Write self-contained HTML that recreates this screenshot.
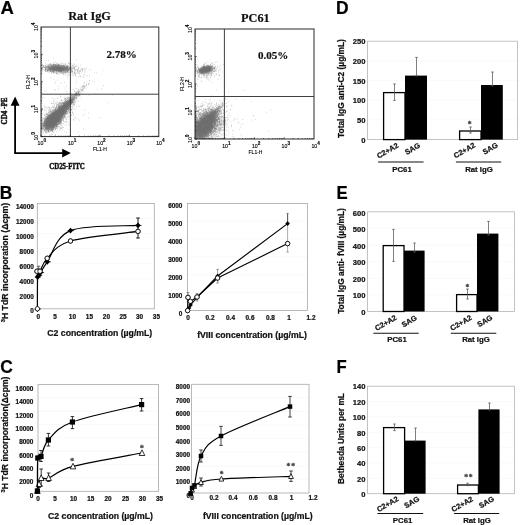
<!DOCTYPE html>
<html><head><meta charset="utf-8"><title>Figure</title>
<style>html,body{margin:0;padding:0;background:#fff;}svg{display:block;filter:blur(0.35px);}.ss{font-family:"Liberation Sans", sans-serif;font-weight:bold;stroke:#111;stroke-width:0.22px;}.sf{font-family:"Liberation Serif", serif;font-weight:bold;stroke:#111;stroke-width:0.2px;}.sr{font-family:"Liberation Sans", sans-serif;font-weight:normal;}</style></head><body>
<svg width="520" height="525" viewBox="0 0 520 525">
<rect width="520" height="525" fill="#fff"/>
<defs><filter id="blr" x="-30%" y="-30%" width="160%" height="160%"><feGaussianBlur stdDeviation="1.1"/></filter></defs>
<text class="ss" x="0.6" y="14.0" font-size="17.6" fill="#000" textLength="13.4" lengthAdjust="spacingAndGlyphs">A</text>
<text class="ss" x="-0.2" y="198.8" font-size="17.6" fill="#000" textLength="12.6" lengthAdjust="spacingAndGlyphs">B</text>
<text class="ss" x="0.2" y="373.2" font-size="17.6" fill="#000" textLength="12.6" lengthAdjust="spacingAndGlyphs">C</text>
<text class="ss" x="336.0" y="13.8" font-size="17.6" fill="#000" textLength="12.6" lengthAdjust="spacingAndGlyphs">D</text>
<text class="ss" x="336.4" y="198.8" font-size="17.6" fill="#000" textLength="11.2" lengthAdjust="spacingAndGlyphs">E</text>
<text class="ss" x="336.4" y="373.2" font-size="17.6" fill="#000" textLength="10.2" lengthAdjust="spacingAndGlyphs">F</text>
<clipPath id="cp7"><rect x="41" y="27.0" width="117.80000000000001" height="109.6"/></clipPath>
<g clip-path="url(#cp7)">
<ellipse cx="57.5" cy="68.4" rx="11.5" ry="2.6" fill="#848484" opacity="0.85" filter="url(#blr)" transform="rotate(2 57.5 68.4)"/>
<path d="M-17.0,-0.3 C-16.5,-1.0 -15.7,-3.5 -14.0,-4.4 C-12.3,-5.3 -9.5,-5.6 -7.0,-5.7 C-4.5,-5.8 -1.7,-5.4 1.0,-5.0 C3.7,-4.6 6.5,-4.0 9.0,-3.5 C11.5,-3.0 13.8,-2.5 16.0,-2.0 C18.2,-1.6 20.5,-1.1 22.0,-0.8 C23.5,-0.5 24.5,-0.4 25.0,-0.2 C25.5,-0.0 25.5,0.0 25.0,0.2 C24.5,0.4 23.5,0.5 22.0,0.8 C20.5,1.1 18.2,1.6 16.0,2.0 C13.8,2.5 11.5,3.0 9.0,3.5 C6.5,4.0 3.7,4.6 1.0,5.0 C-1.7,5.4 -4.5,5.8 -7.0,5.7 C-9.5,5.6 -12.3,5.3 -14.0,4.4 C-15.7,3.5 -16.5,1.1 -17.0,0.3 C-17.5,-0.5 -17.0,-0.2 -17.0,-0.3Z" fill="#848484" opacity="0.92" filter="url(#blr)" transform="translate(56 116.5) rotate(-47)"/>
</g>
<path d="M55.8,69.4h.6M56.1,67.9h.6M51.5,67.9h.6M64.7,69.6h.6M64.2,69.2h.6M60.1,68.9h.6M46.6,69.7h.6M60.8,69.6h.6M46.6,64.8h.6M51.8,67.4h.6M59.5,68.5h.6M60.9,67.4h.6M59.5,69.3h.6M53.1,71.6h.6M61.0,70.9h.6M53.5,67.0h.6M55.3,68.2h.6M61.6,69.1h.6M54.7,66.6h.6M54.0,70.7h.6M52.2,68.8h.6M60.4,65.8h.6M57.7,71.0h.6M44.4,67.4h.6M56.9,66.9h.6M60.7,68.5h.6M47.9,69.7h.6M61.8,70.4h.6M66.8,69.5h.6M58.4,66.1h.6M61.5,67.5h.6M54.6,66.0h.6M51.2,67.3h.6M66.0,64.9h.6M48.0,68.6h.6M66.8,69.9h.6M45.3,63.3h.6M59.9,67.2h.6M50.2,70.1h.6M64.6,69.0h.6M59.1,69.4h.6M67.8,70.0h.6M60.8,69.7h.6M47.2,70.6h.6M63.7,69.7h.6M44.7,66.8h.6M63.1,65.3h.6M56.2,70.4h.6M48.9,71.3h.6M61.1,68.3h.6M59.6,69.8h.6M58.2,70.7h.6M53.2,67.6h.6M64.3,68.8h.6M51.7,70.1h.6M67.0,68.0h.6M48.5,67.9h.6M56.6,67.9h.6M66.7,66.9h.6M65.8,66.4h.6M52.3,69.5h.6M64.8,70.4h.6M59.7,68.8h.6M58.5,69.6h.6M56.3,69.0h.6M61.2,68.6h.6M62.4,69.7h.6M70.5,69.6h.6M54.7,67.7h.6M57.4,70.3h.6M55.3,69.2h.6M69.6,64.0h.6M50.2,68.7h.6M60.1,69.0h.6M54.7,69.6h.6M59.4,67.6h.6M73.3,69.7h.6M53.9,68.2h.6M56.0,68.3h.6M41.6,67.0h.6M49.9,68.1h.6M63.6,70.3h.6M67.3,65.6h.6M55.2,67.8h.6M61.5,70.7h.6M41.7,70.0h.6M62.0,65.8h.6M58.6,70.8h.6M56.5,68.8h.6M62.7,68.9h.6M56.8,71.4h.6M64.3,68.2h.6M75.4,66.9h.6M63.5,68.2h.6M58.3,69.9h.6M58.9,69.8h.6M47.7,65.3h.6M61.6,66.8h.6M50.9,65.5h.6M65.7,70.2h.6M67.1,67.1h.6M57.6,66.3h.6M62.4,71.7h.6M51.6,71.3h.6M63.9,68.4h.6M44.6,70.7h.6M56.9,67.3h.6M60.1,69.4h.6M67.3,66.9h.6M64.8,71.6h.6M66.9,68.5h.6M52.6,70.3h.6M58.2,68.8h.6M66.8,68.3h.6M42.6,67.2h.6M45.4,69.6h.6M59.6,67.4h.6M57.4,70.1h.6M57.9,71.0h.6M57.0,70.5h.6M67.1,71.9h.6M53.1,70.0h.6M45.4,66.0h.6M44.7,70.1h.6M49.5,68.2h.6M56.3,68.4h.6M53.6,68.8h.6M69.1,69.0h.6M60.9,70.5h.6M56.3,66.1h.6M53.8,70.4h.6M46.8,67.0h.6M64.0,70.2h.6M57.5,70.0h.6M58.7,66.3h.6M47.4,66.9h.6M63.5,67.6h.6M51.7,66.8h.6M47.6,67.9h.6M49.8,68.9h.6M42.1,68.6h.6M53.5,64.7h.6M62.2,68.1h.6M43.1,66.3h.6M59.4,67.7h.6M62.5,70.1h.6M61.8,69.3h.6M66.1,70.1h.6M60.6,64.6h.6M63.2,71.2h.6M55.6,67.5h.6M70.2,65.6h.6M60.4,73.2h.6M51.4,69.6h.6M69.8,68.7h.6M61.1,70.3h.6M51.6,68.1h.6M59.3,70.1h.6M57.3,68.1h.6M50.9,67.6h.6M63.3,68.9h.6M52.0,66.7h.6M74.7,71.3h.6M61.8,63.7h.6M61.5,69.6h.6M68.4,69.7h.6M57.0,69.5h.6M44.8,70.0h.6M59.7,67.2h.6M66.0,72.2h.6M48.4,66.9h.6M59.4,68.9h.6M55.0,66.6h.6M71.2,71.0h.6M49.8,65.7h.6M68.5,70.8h.6M69.3,70.5h.6M51.8,68.8h.6M43.5,66.6h.6M57.1,69.5h.6M52.8,68.1h.6M60.5,69.3h.6M61.6,69.0h.6M55.3,69.9h.6M57.9,66.9h.6M53.4,68.4h.6M56.8,68.8h.6M57.5,68.8h.6M56.7,66.1h.6M60.2,70.6h.6M60.3,68.2h.6M60.5,66.8h.6M45.2,68.2h.6M51.4,69.7h.6M50.6,63.3h.6M50.6,71.3h.6M55.1,65.8h.6M52.5,69.3h.6M60.7,68.9h.6M67.1,70.2h.6M57.3,69.6h.6M68.2,70.7h.6M64.2,66.7h.6M56.5,69.9h.6M55.5,70.5h.6M61.3,70.4h.6M56.0,73.3h.6M65.6,68.4h.6M57.9,73.4h.6M55.2,70.1h.6M63.9,68.7h.6M49.9,68.6h.6M59.8,70.7h.6M62.6,68.7h.6M63.0,69.7h.6M58.8,68.7h.6M55.9,69.7h.6M50.7,67.1h.6M57.6,65.7h.6M54.8,64.6h.6M53.0,69.4h.6M61.2,68.5h.6M56.1,65.8h.6M69.3,69.9h.6M64.7,67.1h.6M56.4,65.0h.6M62.5,70.5h.6M45.2,68.0h.6M61.7,65.3h.6M45.7,66.1h.6M53.5,65.7h.6M57.7,69.0h.6M61.6,70.0h.6M67.2,71.1h.6M49.0,67.2h.6M50.7,66.2h.6M57.0,68.5h.6M60.8,65.6h.6M49.5,68.2h.6M56.2,67.9h.6M57.1,67.0h.6M62.0,69.3h.6M57.0,67.2h.6M56.5,63.3h.6M51.1,68.3h.6M47.7,68.5h.6M58.5,65.9h.6M55.9,67.8h.6M60.4,69.8h.6M57.3,66.9h.6M56.6,68.3h.6M62.3,69.2h.6M52.9,65.8h.6M55.1,67.0h.6M50.3,68.0h.6M54.3,68.6h.6M60.9,67.8h.6M72.6,68.4h.6M64.6,69.0h.6M64.9,64.2h.6M52.6,68.8h.6M61.3,73.1h.6M59.5,71.0h.6M62.4,70.5h.6M60.8,68.3h.6M60.9,66.6h.6M65.2,66.8h.6M59.0,72.6h.6M56.0,68.5h.6M65.1,68.8h.6M52.2,68.8h.6M61.2,70.0h.6M52.4,71.7h.6M68.3,68.9h.6M59.3,67.7h.6M66.7,67.5h.6M61.9,67.7h.6M52.9,69.7h.6M66.2,68.8h.6M53.0,69.9h.6M57.2,69.1h.6M67.3,71.0h.6M54.0,72.7h.6M57.5,70.0h.6M53.3,68.3h.6M46.0,71.5h.6M66.5,66.5h.6M47.8,65.1h.6M65.2,67.9h.6M57.1,67.9h.6M56.8,66.4h.6M57.8,65.8h.6M57.0,69.1h.6M60.6,68.2h.6M51.6,68.6h.6M54.2,71.4h.6M62.5,68.5h.6M54.5,67.1h.6M51.4,67.6h.6M59.4,69.5h.6M61.1,72.6h.6M52.9,68.4h.6M75.8,65.6h.6M54.1,68.7h.6M58.5,69.3h.6M55.9,69.1h.6M57.8,70.0h.6M45.3,66.4h.6M57.6,66.5h.6M50.7,69.5h.6M53.2,69.6h.6M62.3,69.3h.6M60.8,68.4h.6M48.3,68.1h.6M60.5,67.6h.6M56.8,69.9h.6M51.8,69.5h.6M69.6,67.9h.6M58.5,68.2h.6M67.5,69.5h.6M63.4,67.4h.6M57.4,68.5h.6M45.9,70.8h.6M63.5,65.4h.6M62.3,68.4h.6M60.4,69.3h.6M47.8,67.8h.6M67.2,67.7h.6M50.9,65.7h.6M49.5,68.9h.6M68.5,69.7h.6M58.9,72.8h.6M54.2,67.1h.6M60.9,69.7h.6M51.0,66.0h.6M59.4,69.0h.6M49.0,67.8h.6M53.9,69.3h.6M56.7,68.3h.6M55.1,70.4h.6M66.6,68.1h.6M63.0,67.3h.6M57.9,69.9h.6M67.4,68.1h.6M57.0,68.9h.6M47.8,68.2h.6M53.1,69.1h.6M50.3,64.5h.6M57.7,69.0h.6M53.9,70.1h.6M55.8,67.3h.6M60.7,65.6h.6M53.1,68.3h.6M63.0,68.4h.6M59.5,67.3h.6M59.3,71.7h.6M52.9,72.8h.6M53.3,68.4h.6M58.6,70.5h.6M49.6,64.2h.6M61.4,70.1h.6M61.4,73.6h.6M58.8,69.0h.6M63.5,69.4h.6M68.4,66.5h.6M55.3,61.9h.6M62.8,68.0h.6M63.4,72.8h.6M57.5,68.0h.6M54.3,66.8h.6M53.4,69.6h.6M57.7,68.6h.6M56.3,70.2h.6M60.7,68.3h.6M61.8,68.4h.6M49.9,71.0h.6M60.6,66.8h.6M64.5,69.4h.6M47.2,71.2h.6M59.6,70.3h.6M58.8,68.3h.6M47.4,70.0h.6M57.7,68.0h.6M59.8,68.7h.6M61.9,67.9h.6M57.4,64.4h.6M54.7,69.7h.6M66.2,68.1h.6M56.6,71.5h.6M55.3,69.8h.6M68.4,69.0h.6M65.5,67.4h.6M58.9,68.4h.6M58.2,70.7h.6M73.1,67.8h.6M53.7,69.3h.6M50.6,69.2h.6M61.2,68.1h.6M61.1,65.7h.6M62.5,65.7h.6M53.0,67.3h.6M54.8,70.0h.6M58.1,67.8h.6M60.9,71.6h.6M57.5,69.2h.6M65.5,69.3h.6M49.0,72.9h.6M72.0,65.2h.6M57.2,69.3h.6M63.7,70.0h.6M55.8,66.4h.6M58.1,70.5h.6M50.5,66.3h.6M57.5,64.8h.6M55.8,67.6h.6M60.5,67.3h.6M51.8,67.6h.6M57.2,67.2h.6M57.5,69.9h.6M65.1,72.0h.6M52.4,67.5h.6M41.5,71.5h.6M57.2,69.5h.6M48.6,69.1h.6M57.4,65.0h.6M59.3,70.8h.6M45.3,69.6h.6M58.8,69.4h.6M60.3,71.1h.6M56.0,70.1h.6M54.8,69.8h.6M52.2,68.1h.6M68.7,69.7h.6M56.5,66.3h.6M52.4,68.7h.6M63.6,69.5h.6M60.9,68.5h.6M66.3,68.1h.6M53.9,70.1h.6M57.9,68.0h.6M53.8,67.9h.6M61.5,69.3h.6M49.6,69.0h.6M58.7,66.6h.6M62.5,68.1h.6M55.3,69.9h.6M66.1,67.5h.6M60.4,66.9h.6M72.6,68.1h.6M65.3,67.5h.6M62.6,72.9h.6M41.5,67.1h.6M56.9,67.2h.6M71.5,69.1h.6M46.8,69.7h.6M46.2,70.3h.6M53.7,68.6h.6M65.7,69.0h.6M48.6,65.0h.6M65.1,70.2h.6M52.1,69.9h.6M60.7,69.8h.6M42.8,67.4h.6M63.3,70.1h.6M63.4,64.0h.6M58.6,69.5h.6M74.1,67.3h.6M55.4,68.5h.6M63.3,67.9h.6M65.0,67.3h.6M59.3,67.6h.6M58.6,67.2h.6M47.1,70.2h.6M59.5,67.5h.6M58.7,70.4h.6M51.2,68.1h.6M61.0,69.6h.6M55.5,64.4h.6M65.6,69.4h.6M57.6,68.0h.6M59.2,67.8h.6M50.9,66.9h.6M53.7,67.2h.6M49.9,69.4h.6M48.9,69.5h.6M50.9,68.9h.6M66.4,69.2h.6M52.7,68.4h.6M58.6,65.2h.6M53.5,68.7h.6M54.4,68.5h.6M62.2,70.1h.6M63.3,69.8h.6M55.6,68.4h.6M55.8,67.8h.6M56.4,65.2h.6M55.3,68.4h.6M51.2,68.2h.6M60.9,68.3h.6M71.2,64.0h.6M56.3,65.0h.6M63.7,73.8h.6M41.5,68.2h.6M55.5,69.5h.6M42.9,69.6h.6M59.9,68.6h.6M53.6,69.6h.6M54.3,68.8h.6M54.3,64.1h.6M57.3,68.9h.6M62.5,67.0h.6M57.2,69.7h.6M58.4,70.9h.6M70.5,67.2h.6M45.0,69.7h.6M67.4,70.6h.6M62.8,67.5h.6M52.8,70.0h.6M51.7,64.8h.6M50.9,73.0h.6M70.0,67.6h.6M52.7,68.8h.6M52.5,70.8h.6M57.1,66.4h.6M66.0,67.7h.6M58.9,68.5h.6M55.4,69.0h.6M53.1,64.8h.6M43.2,65.6h.6M52.6,68.3h.6M57.8,69.6h.6M58.3,67.0h.6M53.0,64.3h.6M56.4,69.4h.6M60.9,68.4h.6M56.3,70.2h.6M57.6,69.9h.6M61.3,69.0h.6M66.0,67.7h.6M55.2,66.9h.6M52.2,71.3h.6M68.9,68.9h.6M61.1,70.9h.6M62.7,71.0h.6M49.3,67.0h.6M60.3,71.3h.6M58.2,66.9h.6M55.2,67.2h.6M51.8,71.2h.6M53.4,68.4h.6M71.5,71.2h.6M59.7,67.4h.6M60.1,71.7h.6M61.5,71.0h.6M58.1,69.5h.6M56.2,69.3h.6M66.0,66.1h.6M57.1,68.9h.6M53.8,67.8h.6M62.5,72.5h.6M61.6,69.3h.6M47.3,71.8h.6M58.0,68.5h.6M50.2,68.1h.6M50.4,68.4h.6M60.5,68.7h.6M59.4,66.9h.6M66.8,67.6h.6M45.7,67.7h.6M52.6,66.4h.6M55.2,69.0h.6M49.8,68.0h.6M66.7,70.1h.6M56.5,68.7h.6M56.7,68.4h.6M62.3,68.5h.6M41.9,67.9h.6M51.7,69.5h.6M53.5,68.6h.6M71.7,67.0h.6M50.3,65.6h.6M42.1,64.4h.6M59.9,67.4h.6M45.5,65.3h.6M61.6,67.2h.6M55.1,69.0h.6M66.2,72.5h.6M64.2,69.0h.6M58.6,72.0h.6M66.8,68.2h.6M60.5,69.1h.6M57.9,67.6h.6M48.9,67.2h.6M47.4,70.5h.6M61.1,66.3h.6M66.5,70.5h.6M45.0,71.6h.6M62.6,72.6h.6M49.5,69.2h.6M60.2,69.0h.6M58.5,70.5h.6M47.9,65.8h.6M48.5,67.1h.6M53.5,69.1h.6M59.2,68.6h.6M53.1,67.5h.6M63.6,70.2h.6M58.2,67.9h.6M67.6,67.7h.6M61.6,70.8h.6M55.7,70.0h.6M50.2,70.2h.6M58.9,65.5h.6M61.9,67.0h.6M65.9,67.5h.6M56.4,69.0h.6M55.3,68.9h.6M53.9,69.7h.6M57.5,68.9h.6M41.3,70.1h.6M45.9,68.3h.6M60.5,70.6h.6M50.4,71.2h.6M56.3,73.0h.6M56.5,69.8h.6M55.2,66.3h.6M64.6,70.5h.6M67.4,70.5h.6M53.9,65.2h.6M53.3,67.1h.6M52.2,69.4h.6M59.6,68.1h.6M58.6,68.3h.6M58.8,70.0h.6M63.8,67.4h.6M47.6,70.9h.6M58.2,70.6h.6M46.8,67.5h.6M57.8,65.8h.6M54.1,69.8h.6M64.4,71.8h.6M52.0,65.6h.6M60.8,70.4h.6M58.8,66.1h.6M62.5,70.2h.6M61.1,67.7h.6M59.4,70.1h.6M54.0,64.9h.6M59.6,69.5h.6M57.5,70.2h.6M53.7,68.2h.6M55.5,69.5h.6M67.9,68.4h.6M70.7,71.9h.6M62.6,69.8h.6M69.0,68.6h.6M56.8,66.5h.6M60.5,71.2h.6M60.9,69.4h.6M56.2,68.8h.6M48.2,70.2h.6M54.9,66.3h.6M52.7,66.8h.6M63.0,70.7h.6M48.6,70.0h.6M63.3,67.6h.6M47.9,66.7h.6M53.4,69.0h.6M55.3,64.6h.6M59.1,65.6h.6M63.5,66.4h.6M53.1,66.7h.6M53.9,70.8h.6M63.0,69.8h.6M59.7,65.6h.6M54.2,67.3h.6M51.1,69.2h.6M52.7,67.0h.6M50.9,64.4h.6M61.3,71.2h.6M58.7,66.7h.6M41.7,68.2h.6M59.4,70.3h.6M67.0,71.0h.6M54.6,70.4h.6M62.6,65.8h.6M55.0,65.7h.6M56.8,69.6h.6M50.7,64.4h.6M65.9,69.5h.6M67.1,66.3h.6M64.3,72.7h.6M70.6,68.6h.6M59.3,68.3h.6M63.9,70.7h.6M58.2,65.9h.6M62.3,67.8h.6M61.6,69.1h.6M68.0,71.0h.6M54.5,69.1h.6M69.0,67.9h.6M60.2,70.9h.6M65.6,69.8h.6M49.0,65.8h.6M59.1,69.3h.6M74.1,67.4h.6M64.8,70.2h.6M46.7,66.6h.6M58.6,67.6h.6M56.5,69.4h.6M52.2,69.2h.6M53.4,67.3h.6M61.0,67.5h.6M59.3,71.6h.6M57.7,68.2h.6M62.3,68.0h.6M64.6,66.3h.6M61.6,67.7h.6M52.2,71.7h.6M51.9,71.6h.6M61.7,71.4h.6M51.1,70.6h.6M67.0,68.6h.6M56.5,73.1h.6M58.7,67.7h.6M53.4,69.2h.6M59.6,68.9h.6M68.7,68.3h.6M60.5,71.4h.6M50.9,70.2h.6M69.5,66.3h.6M50.4,66.3h.6M45.5,68.9h.6M45.4,69.0h.6M67.0,65.8h.6M55.6,64.8h.6M62.6,67.3h.6M55.8,68.5h.6M61.1,68.0h.6M57.6,67.5h.6M58.3,66.3h.6M58.0,64.8h.6M54.2,72.0h.6M58.1,66.1h.6M59.2,66.7h.6M46.8,66.7h.6M62.3,69.4h.6M56.9,66.7h.6M50.4,70.8h.6M59.2,66.7h.6M43.9,65.4h.6M73.7,66.9h.6M57.0,68.9h.6M56.5,67.9h.6M48.6,66.2h.6M68.5,67.4h.6M63.1,65.5h.6M55.7,68.9h.6M64.3,66.6h.6M61.3,69.4h.6M52.7,69.2h.6M51.7,66.8h.6M57.6,63.3h.6M56.9,66.6h.6M48.0,67.4h.6M62.5,67.9h.6M65.8,66.6h.6M48.9,71.1h.6M60.0,70.4h.6M52.1,69.8h.6M59.1,69.8h.6M57.6,70.8h.6M53.3,66.5h.6M47.8,70.4h.6M52.8,66.4h.6M51.4,67.4h.6M49.3,67.7h.6M53.5,67.3h.6M51.3,68.4h.6M54.5,68.6h.6M59.1,69.2h.6M43.3,67.0h.6M52.3,69.8h.6M47.3,66.8h.6M55.6,67.8h.6M64.0,67.9h.6M63.9,65.9h.6M45.6,70.4h.6M60.3,69.5h.6M58.3,69.4h.6M49.5,70.0h.6M54.0,70.3h.6M58.2,64.8h.6M49.1,70.3h.6M56.6,67.7h.6M59.1,67.7h.6M54.0,68.6h.6M58.3,71.4h.6M57.7,72.1h.6M69.1,72.2h.6M64.4,69.0h.6M58.4,68.3h.6M52.8,68.2h.6M53.2,71.5h.6M61.0,67.8h.6M45.1,68.0h.6M54.9,66.3h.6M50.3,64.0h.6M61.2,68.5h.6M74.3,69.0h.6M56.4,71.2h.6M58.4,68.8h.6M55.1,67.3h.6M67.2,70.7h.6M68.7,68.2h.6M57.8,66.8h.6M63.9,66.1h.6M61.1,70.7h.6M66.7,67.0h.6M64.6,67.4h.6M52.7,65.8h.6M64.9,71.9h.6M53.7,66.9h.6M55.1,73.2h.6M64.1,67.7h.6M45.9,66.8h.6M65.1,72.3h.6M55.8,67.1h.6M54.3,64.8h.6M63.5,66.6h.6M64.5,65.5h.6M49.2,68.8h.6M52.5,69.8h.6M57.6,66.3h.6M61.5,70.2h.6M45.0,71.5h.6M60.7,70.1h.6M45.5,66.7h.6M55.2,70.5h.6M48.1,66.5h.6M44.3,67.6h.6M59.9,65.4h.6M53.6,69.3h.6M67.8,70.1h.6M55.6,66.2h.6M51.5,67.0h.6M58.5,68.4h.6M68.3,69.4h.6M50.4,71.2h.6M63.7,68.9h.6M52.9,64.8h.6M50.8,70.0h.6M52.4,65.8h.6M58.8,69.0h.6M61.4,69.9h.6M66.7,67.2h.6M63.9,66.8h.6M62.0,69.0h.6M59.0,70.4h.6M57.3,70.6h.6M63.2,69.0h.6M53.9,66.9h.6M54.1,68.0h.6M57.1,74.2h.6M61.6,70.1h.6M52.0,67.0h.6M55.4,68.8h.6M50.7,71.3h.6M53.8,70.4h.6M42.3,68.0h.6M59.3,68.9h.6M61.4,69.2h.6M58.7,64.9h.6M53.0,63.9h.6M61.6,69.2h.6M56.3,66.9h.6M53.6,71.9h.6M68.7,68.8h.6M66.0,65.8h.6M45.0,67.1h.6M51.9,67.2h.6M58.5,74.3h.6M53.2,68.4h.6M59.3,68.5h.6M63.4,72.1h.6M49.4,68.5h.6M55.8,69.1h.6M47.7,64.8h.6M42.4,69.0h.6M58.7,68.7h.6M42.2,67.3h.6M52.7,65.6h.6M51.5,69.6h.6M61.0,68.6h.6M60.9,67.5h.6M58.0,68.6h.6M61.1,68.5h.6M56.6,68.2h.6M53.2,72.6h.6M60.8,69.4h.6M83.6,74.8h.6M45.3,70.0h.6M69.0,75.2h.6M74.0,72.2h.6M49.4,65.6h.6M63.6,70.7h.6M50.9,67.1h.6M57.0,68.9h.6M64.4,68.4h.6M48.4,71.9h.6M76.9,69.8h.6M71.1,71.0h.6M67.5,70.9h.6M53.3,70.2h.6M71.3,67.0h.6M80.2,76.6h.6M78.8,76.2h.6M68.5,68.5h.6M55.2,66.1h.6M62.2,69.0h.6M68.1,63.4h.6M83.6,77.4h.6M60.6,71.0h.6M65.7,70.2h.6M58.9,68.5h.6M52.7,69.0h.6M60.7,69.9h.6M52.5,68.5h.6M61.4,70.8h.6M50.3,69.5h.6M70.7,71.5h.6M57.4,67.3h.6M58.5,71.0h.6M76.5,69.6h.6M54.5,69.7h.6M63.2,66.4h.6M53.7,68.2h.6M67.9,65.9h.6M50.7,69.8h.6M48.8,68.5h.6M64.5,68.9h.6M50.9,68.1h.6M57.6,69.8h.6M52.4,71.7h.6M44.3,67.3h.6M60.9,71.9h.6M54.8,70.2h.6M55.2,70.8h.6M78.4,69.0h.6M65.6,66.5h.6M70.5,73.3h.6M61.6,65.6h.6M64.8,72.7h.6M71.7,72.2h.6M42.9,65.7h.6M75.4,66.3h.6M71.9,75.4h.6M68.4,72.9h.6M57.9,65.1h.6M60.0,68.3h.6M60.4,71.1h.6M59.5,69.5h.6M65.2,69.3h.6M79.3,71.6h.6M61.9,68.4h.6M54.5,72.6h.6M62.7,65.9h.6M55.4,68.2h.6M56.3,71.9h.6M49.3,69.7h.6M62.7,65.6h.6M61.5,68.8h.6M66.1,68.0h.6M64.4,64.2h.6M50.0,70.6h.6M71.4,69.7h.6M54.8,71.8h.6M41.5,65.1h.6M67.7,66.4h.6M41.9,72.0h.6M62.7,66.4h.6M61.4,71.7h.6M41.5,70.5h.6M41.8,69.9h.6M72.3,71.0h.6M83.6,68.7h.6M60.8,72.1h.6M54.8,66.4h.6M57.3,68.5h.6M50.1,69.7h.6M66.4,69.6h.6M78.0,69.2h.6M74.1,68.3h.6M68.9,63.7h.6M63.0,68.6h.6M56.2,66.8h.6M57.7,66.6h.6M41.5,65.7h.6M56.0,65.5h.6M59.5,71.3h.6M58.6,67.4h.6M74.3,72.9h.6M70.0,73.1h.6M57.8,68.4h.6M72.2,68.1h.6M59.7,70.0h.6M64.8,68.4h.6M70.8,69.2h.6M68.0,72.7h.6M67.4,71.7h.6M49.7,64.3h.6M54.7,70.0h.6M76.2,66.4h.6M64.2,66.7h.6M53.8,67.7h.6M67.9,70.1h.6M73.0,66.9h.6M69.7,72.4h.6M61.6,70.5h.6M55.6,65.3h.6M57.1,66.8h.6M89.9,69.6h.6M77.4,70.8h.6M64.0,71.4h.6M53.0,71.2h.6M65.1,64.7h.6M66.9,71.1h.6M65.2,74.1h.6M56.8,70.2h.6M68.7,66.8h.6M73.3,65.5h.6M47.9,69.7h.6M50.2,67.9h.6M44.6,68.1h.6M49.6,69.2h.6M45.6,69.3h.6M58.3,69.0h.6M60.3,69.3h.6M48.4,60.4h.6M61.5,66.2h.6M56.4,70.0h.6M41.4,65.3h.6M55.1,65.4h.6M64.3,68.8h.6M53.0,65.5h.6M69.2,67.6h.6M66.7,70.8h.6M42.3,64.4h.6M61.0,70.0h.6M68.6,71.9h.6M71.4,68.6h.6M58.7,71.2h.6M56.5,71.9h.6M45.0,69.8h.6M59.7,63.0h.6M70.7,70.6h.6M61.4,65.8h.6M56.0,73.2h.6M53.5,58.0h.6M52.7,64.8h.6M59.8,67.7h.6M52.1,65.8h.6M71.8,65.4h.6M80.6,68.7h.6M49.9,70.6h.6M66.8,66.3h.6M68.9,64.0h.6M51.6,71.7h.6M58.7,64.9h.6M65.9,72.1h.6M61.2,63.6h.6M57.5,70.0h.6M68.3,75.1h.6M58.6,67.4h.6M60.4,72.6h.6M51.3,72.2h.6M41.5,69.5h.6M65.4,71.4h.6M49.2,67.9h.6M63.3,70.9h.6M51.9,65.4h.6M41.4,75.3h.6M59.1,64.4h.6M70.4,68.0h.6M75.1,72.6h.6M61.1,71.2h.6M50.0,67.2h.6M55.5,64.8h.6M61.2,68.6h.6M76.0,60.0h.6M54.5,65.8h.6M56.3,69.9h.6M65.0,69.4h.6M56.2,70.1h.6M65.0,63.7h.6M58.7,64.7h.6M49.2,68.6h.6M61.6,69.4h.6M52.3,67.8h.6M51.8,69.5h.6M67.5,74.7h.6M73.8,67.5h.6M56.6,65.9h.6M63.6,75.1h.6M68.5,62.9h.6M48.7,64.3h.6M66.1,69.4h.6M63.6,74.5h.6M52.9,65.9h.6M80.5,71.4h.6M53.7,62.4h.6M46.3,60.6h.6M61.7,69.2h.6M70.9,69.3h.6M54.2,66.3h.6M80.3,65.0h.6M62.7,69.2h.6M67.2,68.2h.6M65.8,71.8h.6M59.6,67.5h.6M59.3,66.0h.6M59.0,68.0h.6M62.8,73.1h.6M74.1,68.6h.6M67.0,70.3h.6M68.6,69.6h.6M63.7,67.8h.6M53.0,71.1h.6M73.8,71.9h.6M65.3,70.1h.6M56.9,63.3h.6M67.6,70.1h.6M55.7,65.7h.6M74.1,64.5h.6M78.4,72.1h.6M84.8,68.5h.6M60.9,67.5h.6M62.6,68.5h.6M53.3,71.7h.6M53.3,66.9h.6M66.6,67.8h.6M56.6,69.8h.6M57.6,65.0h.6M60.0,68.3h.6M78.2,66.9h.6M70.8,67.3h.6M57.5,67.8h.6M63.5,71.8h.6M78.6,68.3h.6M74.1,72.9h.6M69.3,67.3h.6M70.0,69.3h.6M64.6,68.4h.6M67.4,72.8h.6M72.3,69.2h.6M70.6,74.0h.6M51.4,72.8h.6M47.6,69.7h.6M66.6,73.9h.6M63.9,67.8h.6M53.3,64.7h.6M68.7,68.8h.6M53.7,70.1h.6M53.5,67.2h.6M56.1,73.6h.6M75.6,69.5h.6M45.3,68.7h.6M61.6,70.1h.6M66.7,68.4h.6M70.1,72.1h.6M63.2,67.9h.6M56.1,70.7h.6M50.1,67.8h.6M53.8,64.3h.6M67.0,69.3h.6M61.2,71.6h.6M46.1,67.8h.6M63.7,71.7h.6M50.0,70.4h.6M62.9,73.2h.6M72.2,71.4h.6M82.4,70.5h.6M56.8,67.7h.6M51.6,68.3h.6M42.3,67.4h.6M65.0,72.3h.6M57.2,72.9h.6M54.5,68.1h.6M42.4,65.4h.6M52.8,72.8h.6M66.4,66.1h.6M66.1,70.8h.6M58.7,68.9h.6M58.1,67.2h.6M43.8,67.5h.6M73.2,74.1h.6M58.4,66.6h.6M58.8,71.5h.6M64.5,67.5h.6M64.6,68.6h.6M79.2,70.7h.6M67.4,70.5h.6M80.9,68.9h.6M75.0,74.0h.6M74.1,69.3h.6M87.4,75.6h.6M82.3,69.6h.6M86.1,68.0h.6M72.7,73.2h.6M84.1,69.9h.6M72.1,71.5h.6M64.6,71.8h.6M79.4,70.7h.6M78.8,74.2h.6M77.6,73.3h.6M84.9,71.3h.6M77.1,70.1h.6M82.1,71.2h.6M78.7,72.3h.6M75.7,76.5h.6M74.9,75.5h.6M80.2,76.0h.6M74.7,74.0h.6M80.6,70.3h.6M77.6,71.3h.6M75.3,75.2h.6M72.5,66.1h.6M66.2,68.8h.6M72.3,71.0h.6M78.5,77.0h.6M77.6,73.1h.6M71.6,72.6h.6M83.2,76.4h.6M64.4,72.5h.6M84.7,75.1h.6M67.6,69.4h.6M79.2,73.2h.6M71.7,68.3h.6M82.1,68.5h.6M84.2,72.7h.6M78.3,67.9h.6M72.3,73.0h.6M66.8,76.2h.6M68.5,66.9h.6M76.1,72.9h.6M80.3,71.0h.6M74.9,70.7h.6M73.7,63.7h.6M81.4,73.0h.6M77.2,69.8h.6M77.4,71.7h.6M75.1,74.6h.6M66.1,70.8h.6M70.0,69.7h.6M85.0,69.6h.6M75.7,69.7h.6M81.8,69.5h.6M66.2,71.6h.6M74.1,70.3h.6M82.5,69.8h.6M51.1,122.6h.6M52.2,118.4h.6M60.6,122.2h.6M55.0,126.5h.6M48.4,131.4h.6M51.2,122.5h.6M49.4,120.8h.6M46.9,124.6h.6M58.9,118.9h.6M49.6,121.1h.6M46.9,120.9h.6M59.4,116.1h.6M51.2,119.5h.6M51.7,127.4h.6M52.3,116.2h.6M52.7,115.1h.6M51.9,116.7h.6M51.8,123.5h.6M55.8,121.7h.6M52.9,127.3h.6M56.4,116.3h.6M51.7,117.7h.6M48.4,118.7h.6M52.8,121.1h.6M58.6,118.3h.6M53.8,117.4h.6M50.5,121.1h.6M48.3,116.0h.6M50.9,114.9h.6M50.4,122.9h.6M54.2,126.4h.6M55.3,124.7h.6M54.7,115.8h.6M56.3,122.4h.6M51.1,122.4h.6M50.3,123.1h.6M51.0,122.4h.6M58.5,120.5h.6M52.9,121.0h.6M54.1,117.4h.6M51.1,127.1h.6M51.1,126.3h.6M53.1,128.3h.6M50.5,126.5h.6M54.7,113.7h.6M55.0,114.0h.6M47.9,128.8h.6M53.8,118.1h.6M43.6,129.7h.6M50.1,121.3h.6M46.9,118.1h.6M54.3,126.9h.6M56.2,114.8h.6M50.6,124.4h.6M57.2,118.8h.6M48.5,125.5h.6M55.8,123.6h.6M57.1,117.9h.6M55.1,115.9h.6M56.0,114.7h.6M55.4,121.6h.6M47.4,122.7h.6M46.6,127.5h.6M51.1,120.5h.6M48.7,114.7h.6M52.1,121.3h.6M53.0,123.6h.6M56.7,113.9h.6M47.5,123.0h.6M53.7,121.9h.6M51.5,126.2h.6M50.6,126.4h.6M54.5,120.5h.6M58.5,112.9h.6M52.6,122.6h.6M51.7,115.1h.6M51.2,118.4h.6M57.2,121.7h.6M51.9,120.6h.6M45.8,114.0h.6M55.8,119.5h.6M51.6,119.6h.6M49.2,123.2h.6M55.7,116.5h.6M50.5,110.7h.6M51.1,123.2h.6M48.1,117.5h.6M52.7,126.0h.6M45.5,123.4h.6M47.1,123.7h.6M55.5,120.0h.6M48.7,131.3h.6M48.7,121.8h.6M57.3,115.0h.6M46.5,124.0h.6M47.3,121.4h.6M52.9,124.1h.6M49.9,116.8h.6M58.8,109.1h.6M52.5,120.7h.6M53.7,117.6h.6M58.4,123.9h.6M49.8,118.3h.6M51.2,118.1h.6M51.2,122.7h.6M52.4,119.2h.6M54.3,117.6h.6M49.8,127.5h.6M53.6,124.9h.6M51.2,124.5h.6M46.8,114.1h.6M44.5,123.8h.6M52.2,112.0h.6M57.5,120.2h.6M55.2,120.7h.6M50.4,122.7h.6M53.7,121.1h.6M53.8,118.1h.6M48.4,122.2h.6M49.5,116.0h.6M46.9,124.5h.6M49.6,122.4h.6M42.5,129.6h.6M53.0,123.6h.6M44.8,127.3h.6M54.7,120.4h.6M58.4,119.1h.6M50.0,126.1h.6M49.0,120.4h.6M55.6,114.2h.6M48.3,123.1h.6M51.5,126.2h.6M56.5,122.7h.6M51.9,118.2h.6M53.9,115.9h.6M50.1,122.3h.6M54.9,123.4h.6M50.8,123.9h.6M49.0,118.4h.6M47.9,124.4h.6M54.1,120.3h.6M53.7,119.4h.6M51.5,123.5h.6M45.6,121.6h.6M47.6,119.1h.6M48.6,121.2h.6M50.1,122.9h.6M48.4,122.9h.6M46.7,127.3h.6M50.0,125.0h.6M41.4,129.2h.6M43.1,128.8h.6M52.6,120.9h.6M47.6,126.8h.6M50.2,118.4h.6M54.3,118.3h.6M51.0,120.0h.6M54.0,119.3h.6M56.8,118.0h.6M49.4,122.7h.6M54.2,117.0h.6M54.5,120.8h.6M46.0,116.6h.6M52.9,121.0h.6M50.7,118.9h.6M55.7,116.4h.6M48.3,121.6h.6M50.6,117.4h.6M53.4,128.9h.6M58.8,118.7h.6M57.9,117.5h.6M49.2,129.6h.6M57.2,117.7h.6M48.4,130.6h.6M55.4,115.1h.6M54.2,122.2h.6M54.3,123.7h.6M53.9,122.2h.6M48.8,117.5h.6M56.1,131.4h.6M56.0,122.9h.6M59.8,120.7h.6M52.4,117.7h.6M47.6,116.7h.6M53.5,123.6h.6M45.3,129.1h.6M57.8,121.0h.6M47.4,122.9h.6M43.4,125.4h.6M58.6,123.6h.6M51.4,128.1h.6M52.3,118.4h.6M53.4,107.7h.6M52.3,121.7h.6M63.3,117.4h.6M59.8,113.3h.6M58.4,120.5h.6M54.5,120.0h.6M50.4,120.8h.6M52.5,129.6h.6M45.6,118.0h.6M52.8,120.0h.6M56.8,124.3h.6M51.0,120.8h.6M49.5,123.6h.6M51.0,123.0h.6M63.3,110.8h.6M53.7,128.3h.6M56.8,119.7h.6M56.3,120.3h.6M57.5,121.7h.6M58.5,120.4h.6M50.3,122.8h.6M51.8,125.7h.6M53.7,117.0h.6M60.1,124.7h.6M53.5,114.2h.6M53.2,122.7h.6M52.8,122.0h.6M56.7,117.5h.6M50.0,126.5h.6M51.9,121.6h.6M46.9,120.0h.6M47.0,124.7h.6M42.1,118.9h.6M53.1,114.4h.6M50.8,124.7h.6M47.1,132.5h.6M51.0,125.2h.6M51.1,123.4h.6M52.3,120.6h.6M42.5,124.3h.6M55.2,124.2h.6M51.4,124.1h.6M53.7,121.5h.6M51.8,114.2h.6M52.5,119.6h.6M49.0,120.2h.6M47.0,121.5h.6M54.3,130.4h.6M57.7,115.0h.6M52.2,116.2h.6M41.3,126.9h.6M56.7,115.8h.6M48.1,124.0h.6M45.4,121.5h.6M50.3,121.0h.6M47.2,122.0h.6M49.5,124.8h.6M56.1,115.6h.6M55.6,109.5h.6M50.2,117.5h.6M51.7,121.8h.6M56.5,121.5h.6M47.2,120.3h.6M52.1,122.3h.6M51.8,125.4h.6M54.2,111.9h.6M55.6,121.9h.6M46.1,128.3h.6M47.9,118.7h.6M56.9,116.8h.6M51.5,123.7h.6M55.9,120.4h.6M54.9,119.8h.6M47.1,124.3h.6M45.9,114.5h.6M58.2,112.6h.6M44.2,120.8h.6M52.9,120.2h.6M49.1,122.2h.6M47.3,122.5h.6M50.2,119.9h.6M53.9,118.3h.6M53.4,121.4h.6M57.6,117.8h.6M52.4,119.8h.6M48.5,123.1h.6M54.8,119.1h.6M47.6,119.5h.6M47.7,127.2h.6M56.3,118.2h.6M46.9,125.4h.6M50.6,118.2h.6M52.7,119.3h.6M46.3,121.3h.6M55.5,118.9h.6M46.7,121.9h.6M56.4,119.1h.6M54.7,125.6h.6M48.6,119.7h.6M55.2,116.7h.6M53.2,119.9h.6M45.9,122.0h.6M54.7,124.8h.6M51.9,127.6h.6M50.1,117.8h.6M54.2,121.3h.6M44.0,119.5h.6M50.6,117.3h.6M49.0,115.2h.6M49.6,119.7h.6M46.5,125.7h.6M51.3,119.2h.6M48.6,125.7h.6M47.5,128.4h.6M57.6,122.9h.6M55.8,118.6h.6M52.9,120.1h.6M51.0,128.9h.6M53.1,118.5h.6M51.7,128.3h.6M51.0,116.5h.6M58.7,122.8h.6M52.9,122.0h.6M49.1,121.1h.6M62.8,123.9h.6M52.1,120.3h.6M53.9,117.5h.6M56.4,120.2h.6M46.1,122.3h.6M53.7,123.1h.6M55.8,122.7h.6M48.6,127.0h.6M50.2,123.4h.6M50.8,117.7h.6M48.5,119.3h.6M50.9,118.2h.6M50.9,123.2h.6M52.5,125.8h.6M51.9,125.1h.6M50.5,117.7h.6M49.3,119.9h.6M50.2,121.7h.6M57.0,113.6h.6M58.2,116.4h.6M42.3,120.6h.6M49.6,114.3h.6M56.8,120.7h.6M52.8,119.2h.6M51.8,122.5h.6M49.7,120.9h.6M53.5,124.9h.6M50.8,124.0h.6M46.5,123.5h.6M47.0,125.4h.6M55.0,119.2h.6M51.8,124.1h.6M51.7,123.0h.6M54.2,121.2h.6M41.5,126.9h.6M56.9,126.3h.6M49.9,120.6h.6M58.2,116.9h.6M59.5,115.4h.6M53.0,123.3h.6M48.4,122.8h.6M49.7,122.5h.6M53.4,117.2h.6M51.9,118.8h.6M48.5,111.9h.6M51.7,122.1h.6M50.8,127.0h.6M55.7,123.0h.6M56.7,119.0h.6M49.0,119.2h.6M50.2,120.8h.6M51.7,119.1h.6M58.3,106.7h.6M54.8,115.8h.6M53.4,123.9h.6M49.2,118.4h.6M52.9,119.1h.6M45.7,128.7h.6M46.8,123.1h.6M54.3,119.9h.6M56.1,126.7h.6M52.0,118.2h.6M52.5,119.9h.6M41.7,125.4h.6M58.4,113.3h.6M49.8,120.7h.6M55.3,117.6h.6M59.5,116.7h.6M57.1,114.9h.6M52.2,118.7h.6M47.4,117.8h.6M47.9,121.0h.6M52.7,125.9h.6M55.7,122.7h.6M57.0,120.0h.6M53.9,116.1h.6M53.9,117.5h.6M53.0,125.5h.6M56.8,111.2h.6M59.6,116.7h.6M49.9,124.6h.6M54.1,120.5h.6M47.8,119.5h.6M54.1,122.8h.6M56.1,119.7h.6M53.3,115.0h.6M52.7,121.9h.6M55.6,117.8h.6M54.0,119.5h.6M53.8,108.9h.6M57.7,126.5h.6M48.5,116.2h.6M49.1,117.4h.6M50.3,123.9h.6M58.7,116.0h.6M56.6,120.9h.6M50.7,118.4h.6M52.5,122.1h.6M49.5,120.5h.6M47.3,119.0h.6M48.4,124.4h.6M50.9,122.4h.6M57.3,116.7h.6M49.2,118.6h.6M49.3,125.6h.6M50.1,125.0h.6M48.8,125.1h.6M54.1,123.4h.6M49.8,121.6h.6M52.9,120.3h.6M56.9,114.5h.6M49.5,122.2h.6M54.1,119.8h.6M51.1,115.6h.6M64.4,116.3h.6M49.1,118.5h.6M53.5,121.4h.6M44.7,128.9h.6M48.2,127.2h.6M58.9,118.4h.6M50.3,129.3h.6M54.1,117.0h.6M57.2,122.5h.6M50.9,122.1h.6M52.9,125.5h.6M48.2,131.7h.6M51.0,126.4h.6M44.5,124.7h.6M52.0,124.9h.6M48.1,128.0h.6M52.8,125.9h.6M52.1,123.1h.6M55.6,125.5h.6M50.8,122.2h.6M58.7,114.2h.6M52.5,117.0h.6M47.4,115.4h.6M50.8,119.2h.6M43.8,123.2h.6M56.7,117.9h.6M51.2,130.3h.6M48.9,122.6h.6M50.2,117.7h.6M45.0,125.1h.6M58.1,118.9h.6M49.6,129.2h.6M53.3,122.0h.6M53.1,121.7h.6M46.6,122.6h.6M48.8,122.7h.6M51.2,116.2h.6M55.8,114.0h.6M51.7,124.6h.6M52.6,118.7h.6M46.2,122.6h.6M49.4,129.1h.6M59.9,121.2h.6M54.4,120.0h.6M56.7,120.4h.6M52.0,122.7h.6M55.1,109.8h.6M45.2,123.9h.6M57.2,120.9h.6M52.4,123.6h.6M52.5,121.8h.6M50.2,122.8h.6M54.6,123.5h.6M55.1,109.2h.6M53.7,119.1h.6M57.6,119.9h.6M56.4,120.0h.6M44.9,120.6h.6M60.3,117.7h.6M51.9,127.1h.6M48.5,113.3h.6M52.7,115.7h.6M54.2,115.4h.6M46.0,120.3h.6M53.7,124.0h.6M45.5,119.3h.6M63.3,117.4h.6M53.0,117.4h.6M44.2,121.7h.6M56.9,121.9h.6M48.5,124.7h.6M50.5,121.4h.6M58.5,123.8h.6M51.9,125.1h.6M54.9,116.5h.6M48.4,118.6h.6M54.3,116.0h.6M50.0,123.5h.6M46.8,121.8h.6M54.5,125.3h.6M52.6,122.9h.6M42.6,121.9h.6M57.0,113.7h.6M46.7,126.2h.6M50.0,115.1h.6M49.7,124.7h.6M50.8,126.0h.6M56.2,118.6h.6M50.5,122.4h.6M49.6,122.9h.6M52.3,119.2h.6M61.2,123.2h.6M51.0,123.7h.6M56.2,119.5h.6M50.1,120.8h.6M56.8,118.8h.6M51.8,117.5h.6M55.9,120.5h.6M52.9,123.1h.6M54.8,109.3h.6M51.3,116.3h.6M47.0,125.3h.6M53.9,119.2h.6M44.8,122.0h.6M50.2,123.0h.6M45.8,120.7h.6M55.8,113.0h.6M50.2,120.4h.6M50.2,123.2h.6M52.5,123.4h.6M44.6,122.0h.6M58.3,113.9h.6M57.3,120.9h.6M53.9,119.1h.6M43.1,123.0h.6M56.8,119.0h.6M50.0,115.4h.6M42.5,126.2h.6M48.5,125.5h.6M52.3,128.1h.6M48.6,122.0h.6M55.6,118.7h.6M50.9,126.0h.6M55.5,111.5h.6M48.7,119.5h.6M47.0,129.3h.6M56.6,120.7h.6M48.7,115.1h.6M50.3,119.6h.6M45.5,122.8h.6M53.8,117.6h.6M59.6,115.0h.6M47.8,129.7h.6M56.2,116.6h.6M52.1,129.2h.6M47.5,125.5h.6M42.7,125.0h.6M48.9,129.4h.6M55.0,115.9h.6M47.4,125.7h.6M49.7,116.3h.6M47.9,124.9h.6M54.5,118.7h.6M50.6,116.7h.6M44.5,130.6h.6M48.7,124.0h.6M51.9,123.4h.6M52.8,126.9h.6M53.3,122.1h.6M56.5,121.0h.6M49.2,115.7h.6M54.3,127.3h.6M54.9,120.5h.6M52.0,117.9h.6M48.2,122.0h.6M56.7,117.7h.6M59.1,115.7h.6M59.4,115.2h.6M52.2,129.1h.6M55.9,122.4h.6M51.9,119.5h.6M49.9,117.9h.6M45.9,123.3h.6M47.0,119.9h.6M52.4,122.0h.6M63.1,117.8h.6M53.9,123.1h.6M52.2,122.6h.6M50.6,119.9h.6M48.7,117.5h.6M52.8,118.8h.6M47.5,124.1h.6M52.2,117.5h.6M54.9,120.6h.6M54.6,113.0h.6M52.8,122.5h.6M57.7,116.2h.6M51.0,115.0h.6M54.0,126.8h.6M56.2,126.8h.6M48.9,123.0h.6M48.2,128.2h.6M57.7,124.5h.6M52.0,119.8h.6M47.1,125.9h.6M56.9,119.2h.6M58.2,118.5h.6M53.3,122.5h.6M49.4,117.4h.6M58.7,115.7h.6M49.4,125.7h.6M55.3,122.2h.6M49.6,109.0h.6M57.5,122.4h.6M44.4,120.3h.6M53.7,120.7h.6M50.5,117.3h.6M50.9,123.1h.6M59.7,123.2h.6M51.6,118.6h.6M46.6,131.9h.6M51.3,121.2h.6M50.4,126.2h.6M46.2,127.7h.6M53.1,121.2h.6M56.2,116.1h.6M54.4,122.6h.6M46.1,126.0h.6M54.5,122.9h.6M51.2,125.7h.6M49.7,116.3h.6M43.6,123.2h.6M53.0,121.0h.6M56.4,120.2h.6M52.7,125.4h.6M55.9,119.1h.6M50.5,116.4h.6M50.7,117.4h.6M47.1,124.5h.6M52.3,120.4h.6M48.5,120.0h.6M50.9,118.7h.6M47.5,126.3h.6M56.0,114.8h.6M51.7,128.0h.6M57.1,114.1h.6M51.8,122.2h.6M62.3,110.6h.6M56.4,118.4h.6M43.2,125.2h.6M48.9,126.5h.6M56.7,124.6h.6M51.8,122.7h.6M52.6,121.0h.6M60.5,113.2h.6M60.1,118.5h.6M51.6,124.7h.6M51.0,122.6h.6M52.6,120.5h.6M54.1,126.2h.6M52.8,123.5h.6M59.2,116.3h.6M58.8,120.4h.6M59.8,120.9h.6M51.9,130.6h.6M47.9,117.0h.6M46.5,120.2h.6M48.3,117.7h.6M49.3,125.3h.6M50.6,118.6h.6M51.0,121.6h.6M52.2,120.7h.6M53.4,123.8h.6M45.3,125.8h.6M51.5,119.6h.6M49.1,122.0h.6M55.7,123.0h.6M50.7,121.1h.6M52.6,119.2h.6M46.1,128.7h.6M49.3,121.1h.6M54.2,118.8h.6M44.8,118.2h.6M46.2,127.3h.6M52.7,122.4h.6M51.6,119.1h.6M45.0,123.2h.6M48.8,118.9h.6M51.4,115.3h.6M45.4,127.1h.6M49.9,131.1h.6M48.5,124.5h.6M49.2,120.0h.6M41.5,123.3h.6M57.4,120.1h.6M55.8,109.8h.6M53.9,118.9h.6M53.6,116.8h.6M56.6,120.4h.6M57.6,122.0h.6M55.1,125.1h.6M53.6,127.3h.6M42.7,131.1h.6M49.3,123.9h.6M57.2,118.8h.6M56.4,124.5h.6M45.0,124.6h.6M57.9,116.2h.6M45.7,129.4h.6M51.5,128.7h.6M54.6,115.6h.6M54.4,114.4h.6M56.5,118.9h.6M48.1,118.3h.6M45.5,116.9h.6M45.6,118.9h.6M53.8,114.4h.6M45.1,131.2h.6M52.0,118.5h.6M61.1,115.0h.6M50.7,119.3h.6M43.1,132.9h.6M53.8,116.2h.6M47.1,126.1h.6M46.3,127.1h.6M58.3,121.6h.6M53.4,120.5h.6M57.9,121.4h.6M47.9,119.4h.6M46.3,121.1h.6M48.7,124.0h.6M53.5,120.1h.6M51.4,119.9h.6M55.6,121.4h.6M58.2,121.6h.6M50.4,121.5h.6M58.3,115.3h.6M52.6,118.7h.6M54.3,116.6h.6M48.4,124.5h.6M52.5,124.5h.6M51.0,122.7h.6M52.1,122.6h.6M52.5,125.8h.6M46.2,125.3h.6M51.1,125.0h.6M53.3,121.9h.6M49.1,120.6h.6M47.4,124.3h.6M50.8,123.6h.6M55.6,121.9h.6M49.8,119.7h.6M48.5,125.0h.6M57.9,124.1h.6M56.9,124.3h.6M55.9,111.8h.6M58.9,119.1h.6M56.6,116.1h.6M54.1,116.4h.6M51.8,121.3h.6M57.6,114.0h.6M55.4,117.7h.6M50.2,124.1h.6M52.5,117.0h.6M52.4,117.1h.6M49.5,124.7h.6M48.8,119.6h.6M46.5,127.0h.6M51.7,119.1h.6M49.0,116.9h.6M54.3,120.5h.6M51.5,118.6h.6M52.6,121.0h.6M56.3,117.7h.6M51.1,118.4h.6M57.8,120.5h.6M51.9,124.2h.6M52.9,119.8h.6M51.9,129.7h.6M46.4,128.5h.6M53.5,125.0h.6M50.7,122.6h.6M55.2,119.8h.6M51.9,124.4h.6M55.7,121.8h.6M50.1,122.8h.6M48.6,120.5h.6M53.9,121.0h.6M56.0,115.1h.6M56.1,122.2h.6M51.8,121.6h.6M50.8,119.0h.6M51.3,127.1h.6M52.4,120.2h.6M48.1,125.8h.6M53.2,114.1h.6M51.6,126.7h.6M60.6,119.3h.6M51.6,124.4h.6M50.7,124.9h.6M51.2,122.8h.6M57.4,116.9h.6M51.3,122.0h.6M51.7,118.9h.6M54.1,121.6h.6M52.3,110.7h.6M45.0,122.6h.6M60.8,123.3h.6M52.9,120.6h.6M50.0,111.4h.6M43.9,114.7h.6M51.3,119.3h.6M51.2,123.5h.6M52.7,125.6h.6M52.9,121.9h.6M59.5,110.8h.6M53.2,115.8h.6M58.5,118.6h.6M54.9,122.7h.6M60.7,118.2h.6M51.9,120.9h.6M52.2,113.7h.6M51.1,124.3h.6M58.4,123.1h.6M58.7,115.3h.6M50.3,116.5h.6M52.0,122.3h.6M51.4,122.0h.6M51.8,116.7h.6M45.8,119.1h.6M53.3,114.5h.6M48.1,128.9h.6M53.6,123.9h.6M55.8,127.1h.6M54.8,118.8h.6M51.9,120.1h.6M59.5,122.5h.6M48.0,120.1h.6M56.6,121.2h.6M45.3,124.9h.6M50.0,125.9h.6M52.0,117.5h.6M49.8,126.6h.6M46.6,129.9h.6M56.1,125.8h.6M54.0,116.1h.6M50.4,121.4h.6M49.7,123.8h.6M51.7,114.2h.6M54.8,125.1h.6M52.6,116.5h.6M47.3,122.0h.6M49.3,129.3h.6M50.6,119.2h.6M46.3,125.3h.6M54.4,126.7h.6M50.7,122.9h.6M57.2,118.6h.6M46.2,116.8h.6M58.1,117.3h.6M50.3,122.4h.6M46.7,122.4h.6M48.2,127.4h.6M54.2,119.5h.6M55.9,119.4h.6M50.3,118.6h.6M56.8,121.5h.6M57.1,121.5h.6M48.1,120.5h.6M54.8,115.2h.6M52.4,119.7h.6M51.4,120.3h.6M46.0,119.0h.6M58.9,114.6h.6M43.4,125.9h.6M46.5,123.4h.6M44.8,131.4h.6M56.9,114.6h.6M55.9,119.7h.6M50.7,128.2h.6M45.0,125.8h.6M53.8,125.1h.6M52.1,120.3h.6M49.5,124.1h.6M53.9,122.5h.6M58.4,117.6h.6M51.7,120.6h.6M57.8,115.7h.6M56.2,125.0h.6M58.6,116.6h.6M50.1,120.0h.6M54.5,116.2h.6M53.4,115.8h.6M53.3,121.5h.6M53.0,121.0h.6M50.6,117.2h.6M48.0,124.6h.6M57.7,114.3h.6M47.4,122.9h.6M54.9,123.5h.6M51.4,124.3h.6M51.8,119.5h.6M48.5,124.0h.6M50.9,124.8h.6M48.8,129.8h.6M55.9,119.6h.6M58.4,117.0h.6M46.4,127.2h.6M51.9,117.9h.6M49.3,126.0h.6M52.7,118.2h.6M50.0,120.8h.6M50.0,122.9h.6M51.8,113.6h.6M54.7,125.8h.6M53.4,120.2h.6M52.4,115.8h.6M44.1,121.7h.6M47.7,126.7h.6M53.8,117.1h.6M50.7,124.3h.6M54.6,119.4h.6M44.4,126.6h.6M44.2,130.6h.6M47.6,122.6h.6M60.1,118.5h.6M54.3,119.9h.6M51.2,119.1h.6M56.3,125.4h.6M47.5,122.7h.6M54.6,122.4h.6M52.5,115.9h.6M50.9,120.9h.6M48.1,125.6h.6M52.6,124.7h.6M51.6,117.8h.6M51.4,119.9h.6M48.8,122.2h.6M54.6,116.3h.6M44.5,125.4h.6M59.7,122.8h.6M47.7,124.0h.6M47.6,119.1h.6M53.2,119.5h.6M58.2,124.9h.6M53.0,123.7h.6M53.3,116.6h.6M53.7,126.5h.6M54.7,118.8h.6M50.4,126.8h.6M58.9,123.9h.6M58.8,117.5h.6M53.0,120.2h.6M50.9,123.6h.6M54.3,121.6h.6M56.3,117.8h.6M52.1,124.7h.6M55.2,113.7h.6M54.7,120.7h.6M55.0,120.2h.6M51.5,121.1h.6M61.7,118.8h.6M41.4,120.4h.6M51.9,118.0h.6M46.5,119.3h.6M53.0,119.6h.6M52.3,124.9h.6M63.5,115.6h.6M54.9,115.9h.6M54.1,118.6h.6M57.2,118.2h.6M53.2,122.3h.6M51.5,125.3h.6M56.1,114.9h.6M49.9,115.4h.6M57.2,119.6h.6M52.7,128.4h.6M48.3,116.8h.6M49.5,127.8h.6M53.7,124.4h.6M46.6,126.3h.6M53.6,116.0h.6M53.4,117.8h.6M53.9,120.5h.6M56.5,110.4h.6M57.7,121.1h.6M48.5,125.2h.6M62.1,115.1h.6M41.6,131.0h.6M47.0,127.7h.6M48.3,122.4h.6M49.9,124.6h.6M48.3,120.7h.6M52.2,122.7h.6M51.8,126.5h.6M47.5,127.8h.6M54.4,125.8h.6M48.3,121.8h.6M52.2,130.1h.6M51.5,116.4h.6M48.6,120.1h.6M58.0,116.5h.6M45.7,128.7h.6M55.0,117.8h.6M53.3,119.1h.6M53.2,120.7h.6M50.5,124.3h.6M52.5,120.3h.6M47.4,121.2h.6M54.8,121.9h.6M42.7,128.4h.6M58.6,118.2h.6M52.8,126.5h.6M46.9,122.8h.6M57.4,113.2h.6M47.4,118.2h.6M45.9,122.0h.6M47.2,117.5h.6M54.7,116.4h.6M48.5,121.8h.6M58.1,121.7h.6M54.4,126.0h.6M60.5,118.2h.6M49.5,116.7h.6M53.3,117.7h.6M48.2,116.2h.6M51.6,122.5h.6M49.6,125.0h.6M58.1,115.6h.6M55.3,128.7h.6M42.7,126.6h.6M52.0,118.3h.6M45.0,129.7h.6M52.9,116.3h.6M58.0,116.9h.6M52.4,113.4h.6M55.7,124.5h.6M61.8,116.7h.6M52.4,121.4h.6M52.5,125.6h.6M50.0,123.7h.6M41.6,125.1h.6M58.1,114.8h.6M47.6,115.4h.6M56.8,125.7h.6M41.4,121.1h.6M50.2,120.4h.6M48.3,119.0h.6M44.6,123.1h.6M54.0,118.6h.6M52.2,115.7h.6M52.9,117.9h.6M54.5,122.7h.6M51.3,120.1h.6M46.6,127.1h.6M53.1,116.8h.6M47.6,117.3h.6M48.5,126.7h.6M55.6,115.7h.6M45.5,126.1h.6M46.1,126.0h.6M59.2,114.7h.6M53.9,123.8h.6M51.5,123.1h.6M53.7,121.3h.6M48.8,127.8h.6M49.6,112.8h.6M41.7,128.7h.6M53.7,122.4h.6M56.0,121.0h.6M48.5,122.0h.6M54.7,121.0h.6M54.7,119.7h.6M53.0,125.2h.6M56.1,121.7h.6M45.9,132.4h.6M44.3,130.2h.6M50.1,123.7h.6M49.7,122.0h.6M53.5,121.1h.6M43.3,118.3h.6M50.7,125.0h.6M50.2,125.0h.6M48.5,120.2h.6M59.9,120.5h.6M51.5,121.3h.6M52.1,114.6h.6M51.8,126.7h.6M53.9,116.7h.6M50.2,124.6h.6M46.1,125.0h.6M45.4,116.4h.6M55.8,120.6h.6M52.2,113.9h.6M45.7,123.8h.6M52.5,130.3h.6M48.0,123.8h.6M53.8,121.3h.6M54.3,113.3h.6M55.3,118.1h.6M48.4,125.6h.6M51.1,129.7h.6M51.9,125.9h.6M54.9,114.9h.6M49.3,124.5h.6M50.6,126.8h.6M50.8,118.7h.6M51.4,125.1h.6M51.1,130.0h.6M48.9,123.4h.6M52.8,128.0h.6M57.9,120.9h.6M54.4,118.8h.6M59.3,116.3h.6M54.9,120.7h.6M55.2,118.9h.6M47.6,118.0h.6M55.9,110.6h.6M43.0,127.2h.6M61.5,116.7h.6M50.6,123.8h.6M47.1,116.6h.6M51.6,122.9h.6M53.1,114.0h.6M41.4,125.7h.6M52.6,121.0h.6M51.6,119.6h.6M48.4,127.0h.6M54.7,120.9h.6M53.3,113.7h.6M41.9,125.5h.6M49.9,125.2h.6M53.7,122.7h.6M61.7,108.1h.6M50.0,120.3h.6M54.1,121.3h.6M51.9,127.5h.6M57.0,117.8h.6M51.1,120.9h.6M48.0,128.5h.6M47.5,123.4h.6M53.2,115.3h.6M52.3,124.8h.6M56.7,112.7h.6M54.2,115.5h.6M54.5,120.7h.6M50.6,127.5h.6M58.3,114.5h.6M50.1,117.4h.6M58.2,114.6h.6M49.5,127.4h.6M45.4,124.8h.6M48.1,131.9h.6M58.0,111.5h.6M48.4,122.1h.6M51.4,124.3h.6M54.5,113.4h.6M49.2,115.3h.6M57.0,115.2h.6M53.3,127.0h.6M54.9,124.5h.6M59.7,120.8h.6M49.4,124.1h.6M52.8,119.2h.6M55.5,113.8h.6M58.7,120.4h.6M43.0,126.0h.6M47.6,123.1h.6M52.9,119.2h.6M51.2,119.7h.6M52.9,122.4h.6M52.7,116.5h.6M49.8,119.7h.6M47.9,118.4h.6M56.9,119.0h.6M49.9,119.9h.6M48.8,121.2h.6M50.7,130.3h.6M60.3,106.2h.6M49.4,126.6h.6M50.3,115.2h.6M46.8,129.2h.6M48.6,131.5h.6M50.5,123.0h.6M50.6,119.8h.6M50.8,120.8h.6M56.0,116.2h.6M50.6,119.9h.6M48.1,121.7h.6M56.5,125.1h.6M56.4,117.5h.6M60.1,117.2h.6M52.3,119.9h.6M48.9,125.6h.6M47.1,118.6h.6M52.3,130.1h.6M53.9,121.3h.6M51.6,119.2h.6M56.2,121.8h.6M52.2,123.3h.6M54.3,116.2h.6M50.8,118.7h.6M53.2,118.0h.6M54.1,115.1h.6M57.0,114.1h.6M47.0,122.0h.6M52.2,116.6h.6M61.2,117.3h.6M50.3,115.9h.6M50.2,119.5h.6M46.8,128.6h.6M58.2,111.7h.6M57.9,120.9h.6M47.9,123.7h.6M54.1,121.1h.6M48.6,125.7h.6M53.9,123.5h.6M45.2,125.6h.6M49.5,122.1h.6M52.9,116.9h.6M59.6,109.4h.6M57.3,120.2h.6M54.8,117.0h.6M48.6,123.5h.6M54.6,118.8h.6M55.4,120.2h.6M46.7,122.1h.6M55.7,114.6h.6M51.1,131.0h.6M46.9,121.9h.6M52.6,114.9h.6M51.6,126.5h.6M55.3,129.6h.6M58.8,126.7h.6M52.6,120.7h.6M49.3,122.8h.6M50.2,122.8h.6M51.6,115.3h.6M43.8,119.6h.6M56.9,115.3h.6M51.8,120.9h.6M56.2,118.0h.6M54.5,117.5h.6M51.5,121.3h.6M48.3,130.3h.6M44.2,124.5h.6M54.4,118.7h.6M58.9,121.9h.6M61.7,117.3h.6M56.2,126.4h.6M48.8,124.0h.6M54.9,116.9h.6M50.7,120.6h.6M50.7,110.5h.6M58.9,118.7h.6M53.1,122.5h.6M51.4,127.0h.6M60.2,107.7h.6M56.6,115.8h.6M49.7,121.1h.6M48.3,118.9h.6M51.4,129.7h.6M53.3,122.3h.6M54.2,120.9h.6M44.5,124.4h.6M56.6,120.9h.6M46.7,123.9h.6M49.9,126.4h.6M53.3,119.8h.6M50.6,124.1h.6M50.3,119.2h.6M51.5,118.3h.6M56.8,118.9h.6M51.1,124.8h.6M50.5,119.2h.6M44.9,120.6h.6M49.0,125.9h.6M54.6,115.2h.6M53.4,121.2h.6M55.7,119.1h.6M58.0,118.2h.6M50.4,124.7h.6M43.6,129.2h.6M53.5,122.2h.6M53.0,124.0h.6M54.5,114.3h.6M50.8,123.6h.6M54.0,119.5h.6M52.0,115.3h.6M57.5,120.8h.6M56.8,117.9h.6M52.2,122.8h.6M47.9,117.7h.6M49.8,123.1h.6M48.0,120.8h.6M50.3,121.0h.6M52.1,120.6h.6M55.0,122.6h.6M53.4,121.4h.6M41.4,118.8h.6M53.5,117.8h.6M46.9,120.5h.6M53.8,116.6h.6M55.6,122.6h.6M59.2,124.1h.6M53.9,123.6h.6M52.8,117.0h.6M50.8,119.6h.6M49.2,125.4h.6M53.4,127.6h.6M48.2,122.5h.6M51.1,119.5h.6M50.7,119.4h.6M41.3,120.8h.6M51.3,129.1h.6M53.9,119.7h.6M50.1,122.4h.6M49.7,116.8h.6M47.1,121.9h.6M53.7,114.0h.6M54.9,115.7h.6M61.1,110.9h.6M55.4,123.9h.6M57.2,119.9h.6M51.1,127.5h.6M57.5,114.6h.6M47.7,120.3h.6M56.2,117.9h.6M49.0,118.2h.6M59.6,117.0h.6M55.5,124.4h.6M50.9,126.5h.6M52.0,127.8h.6M54.0,124.8h.6M51.5,123.4h.6M53.7,114.8h.6M50.3,118.8h.6M53.4,116.5h.6M50.2,121.9h.6M53.5,114.4h.6M51.1,120.4h.6M48.2,121.2h.6M51.9,122.0h.6M47.3,127.2h.6M48.0,125.4h.6M57.4,110.5h.6M51.2,120.7h.6M54.2,116.3h.6M42.0,123.9h.6M53.2,120.9h.6M54.3,115.9h.6M51.7,116.2h.6M56.2,116.1h.6M50.1,123.9h.6M55.9,112.7h.6M45.3,123.2h.6M47.9,125.1h.6M52.8,119.3h.6M55.5,122.9h.6M48.0,119.2h.6M44.8,129.9h.6M49.1,122.9h.6M54.5,120.5h.6M44.3,124.6h.6M51.9,120.4h.6M54.7,115.7h.6M47.8,131.2h.6M44.1,124.8h.6M50.8,117.2h.6M61.1,112.4h.6M52.8,118.1h.6M60.9,114.1h.6M52.6,126.4h.6M44.8,125.9h.6M53.3,120.3h.6M52.5,128.1h.6M54.8,113.5h.6M51.7,118.2h.6M52.9,124.8h.6M52.2,120.3h.6M49.5,118.0h.6M54.4,114.8h.6M55.4,115.2h.6M54.0,126.0h.6M51.1,118.9h.6M51.6,124.3h.6M59.9,115.5h.6M48.0,119.9h.6M49.4,123.2h.6M51.3,118.6h.6M54.1,114.2h.6M50.8,124.7h.6M52.7,118.4h.6M51.9,114.3h.6M62.8,119.9h.6M58.9,114.1h.6M58.8,113.9h.6M56.1,115.7h.6M53.9,121.5h.6M45.5,126.9h.6M50.8,108.1h.6M55.5,121.7h.6M53.6,120.2h.6M57.5,116.7h.6M43.3,125.8h.6M51.3,122.4h.6M50.2,122.4h.6M50.6,108.3h.6M58.2,118.9h.6M54.1,118.8h.6M53.1,121.6h.6M51.1,118.5h.6M52.7,116.3h.6M51.0,120.3h.6M49.5,126.6h.6M49.0,118.6h.6M48.4,118.2h.6M58.1,116.9h.6M57.4,112.5h.6M52.1,116.2h.6M48.9,123.9h.6M55.6,121.6h.6M53.7,124.5h.6M53.2,115.5h.6M49.2,119.6h.6M56.5,113.5h.6M57.2,119.8h.6M50.0,120.8h.6M51.3,118.0h.6M45.4,123.4h.6M53.6,120.2h.6M53.6,110.5h.6M50.9,116.6h.6M57.6,118.4h.6M56.0,123.8h.6M49.5,121.2h.6M46.9,123.4h.6M54.0,122.1h.6M55.7,115.7h.6M48.7,122.9h.6M49.4,121.5h.6M48.5,120.5h.6M50.6,120.0h.6M48.1,118.5h.6M53.9,121.8h.6M52.9,117.4h.6M45.0,122.2h.6M46.5,123.8h.6M46.7,118.2h.6M50.6,115.1h.6M48.0,121.9h.6M59.2,122.1h.6M50.1,121.7h.6M50.2,122.0h.6M57.3,127.1h.6M48.1,124.7h.6M50.2,124.7h.6M51.6,124.2h.6M53.4,129.6h.6M48.5,116.3h.6M53.2,117.4h.6M49.2,126.2h.6M52.0,124.5h.6M52.3,125.0h.6M53.4,121.3h.6M51.7,119.6h.6M51.9,123.3h.6M53.4,117.5h.6M63.6,116.7h.6M50.7,127.6h.6M52.3,121.8h.6M53.3,127.5h.6M49.0,123.8h.6M54.2,127.9h.6M53.1,113.5h.6M51.4,123.4h.6M49.7,121.8h.6M49.0,125.4h.6M50.3,126.8h.6M59.3,111.6h.6M58.4,115.9h.6M48.9,122.6h.6M49.1,124.7h.6M56.6,120.5h.6M48.2,119.3h.6M55.7,125.0h.6M52.8,119.8h.6M44.0,127.5h.6M51.6,116.9h.6M55.2,114.9h.6M47.7,122.8h.6M54.1,123.5h.6M45.9,119.1h.6M53.0,122.4h.6M54.5,113.0h.6M58.6,117.2h.6M51.7,117.7h.6M46.8,122.0h.6M55.7,118.1h.6M59.9,121.2h.6M52.0,120.8h.6M55.3,111.2h.6M49.6,121.8h.6M51.1,122.7h.6M52.0,126.6h.6M45.5,124.1h.6M43.0,123.9h.6M55.5,120.3h.6M53.4,123.6h.6M52.7,117.5h.6M52.8,121.9h.6M57.7,112.8h.6M54.5,120.9h.6M57.1,117.6h.6M53.1,114.8h.6M46.5,117.6h.6M57.4,126.3h.6M53.0,120.3h.6M53.2,120.4h.6M46.0,124.2h.6M51.8,122.0h.6M48.9,123.8h.6M46.4,120.7h.6M47.9,121.6h.6M58.0,120.9h.6M53.4,118.4h.6M46.4,119.5h.6M54.0,126.3h.6M56.4,117.4h.6M51.2,121.9h.6M53.4,119.5h.6M51.6,117.7h.6M51.3,120.0h.6M52.7,114.4h.6M56.1,116.2h.6M50.4,122.8h.6M51.9,120.0h.6M52.1,118.2h.6M48.0,128.6h.6M55.9,124.8h.6M48.6,115.2h.6M54.5,115.0h.6M59.1,123.9h.6M53.1,114.7h.6M47.9,117.7h.6M55.6,119.8h.6M49.7,125.6h.6M57.0,119.4h.6M48.2,121.8h.6M45.2,122.1h.6M53.2,119.9h.6M57.0,116.9h.6M47.6,119.0h.6M57.5,115.8h.6M49.5,118.9h.6M50.0,126.1h.6M50.2,125.7h.6M53.2,117.9h.6M47.6,127.7h.6M54.7,114.1h.6M50.4,127.9h.6M51.0,119.1h.6M55.4,116.0h.6M52.6,118.5h.6M50.1,124.1h.6M45.0,120.1h.6M53.2,125.6h.6M60.8,121.9h.6M59.1,121.0h.6M51.8,119.1h.6M51.3,117.2h.6M53.4,117.4h.6M50.9,118.2h.6M53.9,123.6h.6M49.7,120.2h.6M55.1,121.9h.6M48.6,119.0h.6M43.7,123.5h.6M55.3,117.0h.6M56.2,121.6h.6M54.1,121.0h.6M46.6,119.2h.6M53.9,118.5h.6M51.4,116.6h.6M56.3,125.9h.6M49.5,124.2h.6M55.8,115.8h.6M47.4,115.8h.6M53.6,117.2h.6M56.1,116.2h.6M51.8,123.2h.6M50.0,120.7h.6M59.5,117.7h.6M54.3,122.4h.6M56.1,119.3h.6M52.4,121.0h.6M54.7,120.8h.6M51.9,118.5h.6M52.9,122.2h.6M48.8,124.4h.6M54.9,118.7h.6M51.1,121.9h.6M52.8,124.8h.6M46.9,118.6h.6M48.8,125.9h.6M51.6,119.2h.6M47.4,125.2h.6M47.7,122.5h.6M50.2,119.3h.6M51.3,118.2h.6M50.0,122.1h.6M60.6,119.3h.6M53.4,116.0h.6M54.2,122.9h.6M50.8,114.5h.6M50.1,119.5h.6M56.0,119.7h.6M55.4,127.5h.6M56.9,127.3h.6M51.3,121.4h.6M57.0,113.1h.6M54.0,125.8h.6M53.1,122.1h.6M52.2,129.3h.6M56.1,118.3h.6M53.2,117.4h.6M46.8,119.1h.6M56.2,122.4h.6M57.0,120.0h.6M52.2,116.4h.6M49.3,126.9h.6M54.9,122.5h.6M49.1,120.0h.6M52.2,118.2h.6M45.3,125.3h.6M46.6,121.6h.6M52.5,125.0h.6M63.8,116.5h.6M53.4,124.9h.6M52.8,122.1h.6M49.7,123.1h.6M50.8,130.7h.6M51.0,124.9h.6M50.8,123.6h.6M47.3,124.2h.6M56.4,119.1h.6M47.8,129.6h.6M48.5,126.1h.6M52.2,117.7h.6M50.4,121.5h.6M55.5,121.6h.6M57.2,116.9h.6M56.3,111.9h.6M57.2,114.2h.6M54.2,118.0h.6M50.2,118.6h.6M58.1,124.1h.6M52.5,120.4h.6M53.8,122.5h.6M51.4,121.6h.6M55.8,123.1h.6M52.7,115.3h.6M50.1,123.2h.6M57.1,120.1h.6M56.4,126.3h.6M54.9,124.6h.6M60.4,119.5h.6M54.1,121.5h.6M42.9,122.3h.6M51.8,124.6h.6M55.3,117.0h.6M56.8,118.6h.6M53.2,112.1h.6M47.1,121.7h.6M52.6,128.2h.6M47.1,122.3h.6M52.9,124.3h.6M52.3,124.2h.6M52.3,117.6h.6M42.2,127.1h.6M51.9,128.9h.6M47.2,121.1h.6M53.4,119.8h.6M51.6,126.6h.6M55.7,118.4h.6M47.5,121.7h.6M46.3,128.9h.6M51.1,117.6h.6M59.9,128.1h.6M44.4,121.1h.6M53.0,117.9h.6M51.9,124.0h.6M54.0,123.6h.6M56.5,121.7h.6M47.3,115.8h.6M52.4,112.5h.6M56.0,117.9h.6M47.7,125.9h.6M52.5,115.6h.6M50.4,119.2h.6M47.3,123.1h.6M57.8,118.0h.6M51.8,120.9h.6M53.1,121.1h.6M48.6,116.5h.6M53.0,115.9h.6M45.3,131.6h.6M47.8,124.8h.6M50.3,120.0h.6M53.1,118.5h.6M48.9,119.8h.6M48.7,119.6h.6M55.3,123.7h.6M56.3,118.4h.6M50.1,128.0h.6M60.0,122.3h.6M44.8,128.8h.6M53.5,124.5h.6M47.6,123.9h.6M61.9,115.1h.6M45.6,127.9h.6M55.0,114.8h.6M54.2,119.1h.6M45.8,124.7h.6M58.5,119.6h.6M52.7,125.5h.6M50.3,124.0h.6M49.0,118.3h.6M52.2,119.0h.6M41.5,128.7h.6M47.0,121.9h.6M44.1,118.2h.6M55.2,118.0h.6M52.3,119.5h.6M51.6,120.2h.6M44.9,121.7h.6M54.6,122.9h.6M56.5,123.6h.6M46.8,125.4h.6M52.8,125.9h.6M56.5,113.8h.6M53.9,117.9h.6M48.4,124.4h.6M52.1,128.1h.6M56.7,121.4h.6M47.6,114.5h.6M54.9,118.3h.6M44.3,129.8h.6M59.3,121.1h.6M50.4,126.4h.6M52.7,119.4h.6M52.3,123.2h.6M55.5,120.4h.6M47.6,119.6h.6M59.4,119.1h.6M50.0,123.0h.6M50.7,114.3h.6M59.3,124.4h.6M51.3,118.5h.6M58.9,113.7h.6M51.7,119.3h.6M48.5,116.5h.6M44.3,122.4h.6M54.8,117.6h.6M51.2,112.5h.6M53.4,126.3h.6M45.0,119.8h.6M48.7,122.9h.6M55.0,123.9h.6M60.1,119.6h.6M52.8,117.8h.6M46.9,119.6h.6M59.2,119.1h.6M50.2,118.8h.6M55.4,119.6h.6M49.8,117.9h.6M51.5,118.9h.6M55.9,119.6h.6M52.5,118.5h.6M58.9,117.2h.6M58.2,118.3h.6M55.1,119.5h.6M44.2,120.9h.6M50.3,125.7h.6M55.5,118.1h.6M56.6,124.6h.6M46.5,118.6h.6M46.1,125.9h.6M56.1,120.1h.6M53.2,123.6h.6M50.2,119.6h.6M52.5,124.0h.6M52.6,115.2h.6M49.0,124.8h.6M56.4,110.9h.6M48.8,126.4h.6M52.3,117.9h.6M53.0,122.1h.6M46.1,127.2h.6M56.1,120.8h.6M55.7,116.7h.6M50.3,129.1h.6M53.1,116.9h.6M57.9,119.5h.6M46.1,116.4h.6M48.7,121.0h.6M49.0,123.8h.6M49.3,125.7h.6M55.6,111.7h.6M54.3,116.1h.6M53.5,118.8h.6M54.6,114.9h.6M52.7,116.7h.6M52.7,120.1h.6M52.0,113.7h.6M50.7,128.8h.6M57.2,123.3h.6M49.0,125.1h.6M58.1,122.7h.6M50.8,120.2h.6M54.2,118.2h.6M51.3,125.3h.6M43.3,125.6h.6M55.4,115.0h.6M51.8,123.0h.6M57.0,118.1h.6M47.5,123.2h.6M55.2,117.0h.6M51.9,125.1h.6M60.8,121.6h.6M46.8,123.3h.6M50.5,124.2h.6M53.0,125.1h.6M45.3,132.7h.6M49.2,122.7h.6M54.4,119.4h.6M52.1,127.9h.6M52.8,117.9h.6M50.1,117.9h.6M47.2,124.7h.6M53.5,119.9h.6M46.2,120.8h.6M50.1,130.4h.6M51.4,118.0h.6M57.2,117.9h.6M49.2,121.2h.6M56.6,117.6h.6M58.3,115.9h.6M48.7,121.8h.6M50.2,124.1h.6M54.3,121.4h.6M51.1,117.1h.6M49.1,119.7h.6M50.6,116.4h.6M48.1,121.2h.6M49.4,122.6h.6M56.4,115.1h.6M46.5,125.5h.6M55.8,119.5h.6M57.4,124.4h.6M55.9,117.2h.6M52.9,113.8h.6M49.4,119.7h.6M56.3,123.9h.6M54.0,126.2h.6M51.9,127.7h.6M44.4,125.2h.6M55.1,117.2h.6M52.5,120.5h.6M52.2,120.0h.6M48.1,123.9h.6M50.3,118.7h.6M57.6,123.1h.6M45.3,125.7h.6M51.1,122.0h.6M50.6,119.1h.6M51.9,121.1h.6M55.3,124.6h.6M49.0,117.3h.6M48.2,127.8h.6M49.4,120.9h.6M46.8,125.2h.6M50.1,119.8h.6M52.9,124.2h.6M55.9,119.4h.6M48.3,118.7h.6M58.0,121.5h.6M58.9,119.0h.6M53.8,120.8h.6M54.9,123.8h.6M56.1,126.6h.6M53.8,117.5h.6M48.3,117.5h.6M48.9,123.0h.6M58.2,110.5h.6M55.2,117.9h.6M52.5,123.4h.6M47.6,130.1h.6M59.1,114.8h.6M52.2,121.6h.6M53.1,117.6h.6M53.6,121.7h.6M51.7,123.1h.6M54.8,121.4h.6M47.5,123.3h.6M53.4,125.1h.6M49.0,116.5h.6M52.3,129.7h.6M50.1,117.0h.6M49.3,124.5h.6M60.5,119.4h.6M50.1,121.6h.6M56.1,112.1h.6M58.0,116.2h.6M55.3,123.4h.6M51.7,117.5h.6M47.0,126.4h.6M56.9,122.1h.6M46.5,133.2h.6M57.6,122.1h.6M55.1,118.6h.6M54.4,120.3h.6M49.7,123.0h.6M51.4,119.6h.6M43.8,123.1h.6M54.9,120.3h.6M49.7,118.1h.6M53.9,117.1h.6M48.8,131.8h.6M52.3,131.2h.6M52.7,118.2h.6M42.6,127.8h.6M60.1,118.7h.6M48.9,116.4h.6M50.1,121.7h.6M53.2,119.1h.6M49.4,116.2h.6M53.2,126.4h.6M49.3,128.2h.6M61.2,114.2h.6M50.3,128.6h.6M46.6,128.3h.6M53.5,125.1h.6M56.3,117.2h.6M60.2,116.8h.6M48.1,120.6h.6M59.2,111.4h.6M53.1,119.3h.6M46.7,119.2h.6M51.3,121.3h.6M54.1,116.4h.6M44.3,124.2h.6M52.4,121.7h.6M53.5,117.6h.6M54.1,119.4h.6M57.5,114.9h.6M53.8,121.7h.6M53.9,114.7h.6M49.8,122.1h.6M48.0,131.4h.6M55.6,117.2h.6M66.1,111.8h.6M62.3,117.2h.6M51.7,114.7h.6M58.1,116.5h.6M48.2,125.4h.6M56.8,120.5h.6M51.4,119.2h.6M52.8,116.6h.6M53.5,122.9h.6M48.1,126.9h.6M43.4,125.9h.6M47.7,125.2h.6M54.3,118.4h.6M55.3,118.0h.6M52.5,122.8h.6M51.5,122.1h.6M54.1,116.1h.6M53.2,114.5h.6M47.2,118.0h.6M53.9,126.3h.6M56.1,122.5h.6M44.8,124.0h.6M55.5,121.1h.6M50.9,114.4h.6M53.5,119.0h.6M53.5,121.6h.6M47.1,118.3h.6M45.1,121.7h.6M47.3,125.4h.6M54.7,114.8h.6M46.8,121.2h.6M46.4,127.3h.6M49.8,122.2h.6M49.9,125.5h.6M49.3,126.5h.6M51.6,125.1h.6M50.1,125.1h.6M53.3,119.3h.6M57.8,115.6h.6M50.7,125.7h.6M48.0,122.8h.6M52.5,121.4h.6M53.6,111.1h.6M53.8,124.4h.6M52.2,122.3h.6M54.2,112.9h.6M54.0,122.6h.6M46.0,119.3h.6M49.1,125.0h.6M56.9,124.3h.6M52.8,112.9h.6M57.6,119.3h.6M57.0,114.9h.6M50.5,123.3h.6M58.6,116.8h.6M59.5,116.7h.6M47.7,120.9h.6M54.6,111.1h.6M50.1,121.6h.6M47.6,123.0h.6M57.6,126.1h.6M50.6,120.1h.6M54.6,122.6h.6M48.3,123.0h.6M47.8,128.8h.6M57.8,121.8h.6M53.1,130.0h.6M54.3,117.3h.6M50.0,121.7h.6M49.8,127.0h.6M48.3,121.6h.6M54.0,119.4h.6M49.5,122.6h.6M53.5,125.7h.6M53.6,115.8h.6M55.1,124.1h.6M55.2,125.9h.6M55.0,120.9h.6M47.1,130.3h.6M54.5,121.1h.6M54.8,120.4h.6M52.4,124.8h.6M49.8,118.5h.6M49.0,125.0h.6M48.0,115.0h.6M47.6,130.6h.6M58.6,127.3h.6M46.3,125.9h.6M51.3,124.4h.6M60.5,119.5h.6M51.5,127.3h.6M48.7,126.0h.6M54.0,121.7h.6M52.5,126.8h.6M51.7,121.2h.6M48.6,119.6h.6M55.2,119.2h.6M57.9,123.4h.6M48.5,123.5h.6M54.0,122.8h.6M53.6,123.7h.6M49.4,115.5h.6M45.0,119.0h.6M50.1,121.1h.6M54.4,119.3h.6M54.7,124.0h.6M51.1,116.2h.6M50.5,124.2h.6M57.2,114.5h.6M52.1,122.2h.6M54.4,118.0h.6M52.0,119.0h.6M48.3,121.2h.6M52.9,117.4h.6M54.8,119.9h.6M49.0,111.7h.6M45.9,121.8h.6M53.3,123.3h.6M64.1,115.3h.6M57.4,117.0h.6M52.0,123.6h.6M46.9,130.8h.6M53.5,122.3h.6M46.0,122.3h.6M49.8,123.2h.6M52.3,119.0h.6M54.8,121.2h.6M47.9,124.9h.6M45.5,125.4h.6M53.3,116.2h.6M59.4,115.4h.6M55.2,118.1h.6M57.4,120.3h.6M51.1,119.5h.6M54.7,127.2h.6M50.3,120.7h.6M45.7,119.8h.6M51.1,123.5h.6M48.6,121.1h.6M54.4,120.5h.6M51.3,123.2h.6M50.8,126.4h.6M47.9,123.8h.6M51.5,119.6h.6M53.1,129.7h.6M53.0,111.8h.6M49.4,117.8h.6M50.0,117.0h.6M55.2,120.1h.6M60.5,117.5h.6M52.7,124.7h.6M50.2,122.4h.6M46.2,118.9h.6M49.2,114.4h.6M52.4,123.0h.6M48.7,117.1h.6M51.4,124.8h.6M59.4,120.6h.6M47.0,128.5h.6M52.2,124.4h.6M46.0,126.7h.6M52.8,117.1h.6M48.5,120.1h.6M52.6,114.1h.6M48.2,123.5h.6M55.9,126.8h.6M51.0,118.2h.6M54.7,119.7h.6M52.8,119.8h.6M50.8,116.8h.6M47.0,124.4h.6M50.0,126.5h.6M61.4,116.8h.6M54.3,120.1h.6M46.7,120.6h.6M50.4,115.8h.6M52.7,119.6h.6M54.6,118.4h.6M51.0,119.3h.6M45.5,126.4h.6M56.8,120.8h.6M54.3,113.9h.6M50.5,125.9h.6M56.5,128.3h.6M49.5,116.5h.6M53.8,126.4h.6M46.3,127.9h.6M51.1,129.5h.6M48.1,120.3h.6M44.6,125.5h.6M42.4,129.1h.6M59.5,113.4h.6M48.4,119.4h.6M52.0,118.7h.6M52.4,127.1h.6M51.4,117.5h.6M56.8,115.6h.6M54.0,119.5h.6M57.4,118.1h.6M52.5,123.8h.6M51.0,122.7h.6M55.0,112.8h.6M47.6,123.8h.6M53.4,125.6h.6M52.1,131.7h.6M56.2,114.3h.6M51.8,119.5h.6M55.8,120.1h.6M56.3,120.0h.6M58.0,113.7h.6M53.9,118.1h.6M52.6,121.3h.6M52.6,121.9h.6M48.8,123.7h.6M47.2,120.6h.6M48.5,122.4h.6M47.8,118.1h.6M48.5,119.4h.6M49.7,124.3h.6M56.4,117.7h.6M49.3,121.8h.6M52.6,112.6h.6M52.3,113.6h.6M50.0,123.4h.6M55.2,125.4h.6M53.5,119.1h.6M55.3,117.7h.6M52.0,126.3h.6M60.0,118.4h.6M52.6,129.4h.6M52.4,124.2h.6M61.6,122.0h.6M44.2,124.5h.6M57.1,117.9h.6M44.1,115.7h.6M53.0,119.0h.6M49.6,136.2h.6M42.3,128.7h.6M52.5,121.5h.6M53.9,117.7h.6M48.2,123.4h.6M42.3,126.1h.6M57.0,112.4h.6M56.2,125.5h.6M55.8,117.5h.6M53.8,117.8h.6M51.3,126.4h.6M56.2,124.0h.6M50.2,121.1h.6M52.7,119.3h.6M48.9,120.1h.6M53.6,120.8h.6M58.1,114.4h.6M47.2,128.3h.6M58.6,111.8h.6M48.9,123.5h.6M41.7,130.5h.6M47.8,118.3h.6M51.9,117.0h.6M44.1,126.0h.6M58.7,123.0h.6M56.6,116.9h.6M49.7,122.3h.6M54.0,116.4h.6M55.7,121.6h.6M47.6,123.0h.6M53.5,119.4h.6M50.3,120.3h.6M56.2,125.3h.6M52.7,112.6h.6M52.4,121.0h.6M48.9,117.8h.6M51.9,121.8h.6M50.5,124.1h.6M41.3,126.4h.6M52.9,119.2h.6M50.9,123.0h.6M57.7,119.1h.6M50.6,120.3h.6M56.8,118.4h.6M54.3,117.2h.6M49.6,124.5h.6M52.6,125.8h.6M49.7,113.1h.6M57.4,121.6h.6M54.3,116.2h.6M51.4,126.2h.6M55.5,117.5h.6M44.5,121.8h.6M50.9,118.2h.6M50.8,124.4h.6M50.6,112.7h.6M52.8,126.3h.6M51.0,120.4h.6M51.4,116.2h.6M48.0,125.4h.6M59.6,117.6h.6M54.4,123.3h.6M47.8,119.9h.6M47.1,127.6h.6M55.9,118.6h.6M50.9,120.2h.6M55.5,117.0h.6M50.4,129.2h.6M50.8,124.2h.6M54.5,123.3h.6M55.7,122.8h.6M51.6,119.2h.6M51.8,124.3h.6M51.4,126.0h.6M49.0,119.8h.6M48.7,123.8h.6M59.7,116.4h.6M49.9,118.9h.6M57.7,113.6h.6M51.0,120.1h.6M56.9,116.6h.6M50.9,123.0h.6M46.2,122.3h.6M44.6,115.2h.6M60.6,121.2h.6M48.0,124.7h.6M47.1,127.0h.6M54.5,121.9h.6M46.1,124.4h.6M49.3,122.8h.6M59.2,112.4h.6M50.7,120.0h.6M60.7,123.8h.6M66.7,110.8h.6M57.5,119.0h.6M61.9,114.9h.6M64.7,109.7h.6M53.5,119.8h.6M58.5,115.6h.6M61.6,114.5h.6M52.1,117.9h.6M59.8,113.7h.6M57.9,114.4h.6M61.7,114.4h.6M59.5,113.7h.6M47.8,115.5h.6M54.7,119.3h.6M51.6,122.8h.6M59.1,113.2h.6M56.0,115.0h.6M63.3,110.1h.6M58.5,112.1h.6M62.5,114.0h.6M58.7,112.2h.6M55.3,117.7h.6M53.4,114.0h.6M61.6,108.2h.6M50.5,119.7h.6M66.2,105.2h.6M52.5,116.2h.6M63.0,110.6h.6M59.9,111.6h.6M64.2,113.5h.6M61.0,110.6h.6M55.1,119.2h.6M66.6,107.6h.6M55.1,118.2h.6M63.2,106.5h.6M63.6,112.9h.6M62.7,103.4h.6M53.6,120.5h.6M61.5,109.4h.6M58.7,112.2h.6M59.9,104.1h.6M58.1,109.5h.6M54.1,112.9h.6M56.0,116.4h.6M62.9,115.8h.6M59.3,114.3h.6M61.3,111.8h.6M65.3,107.1h.6M59.9,112.0h.6M59.4,112.7h.6M63.3,108.8h.6M59.7,112.4h.6M61.5,108.9h.6M62.0,108.0h.6M65.7,113.4h.6M60.2,111.7h.6M56.4,118.9h.6M61.3,114.3h.6M58.0,116.4h.6M67.0,106.2h.6M55.8,111.8h.6M60.7,114.0h.6M59.7,108.4h.6M53.8,115.2h.6M55.1,116.4h.6M64.1,115.1h.6M63.0,114.6h.6M56.2,122.2h.6M63.3,110.3h.6M63.8,110.6h.6M68.2,106.5h.6M49.7,116.8h.6M65.4,106.1h.6M63.8,106.9h.6M56.4,114.8h.6M61.0,111.9h.6M58.2,116.2h.6M60.1,108.7h.6M51.6,113.9h.6M58.4,114.1h.6M55.7,114.6h.6M59.1,113.4h.6M63.2,112.0h.6M63.3,113.0h.6M57.0,117.8h.6M58.9,109.5h.6M57.8,116.3h.6M57.4,110.3h.6M60.3,117.7h.6M62.8,109.5h.6M62.9,105.8h.6M60.7,115.2h.6M56.1,112.2h.6M64.7,113.2h.6M50.2,123.3h.6M54.2,117.3h.6M59.1,123.1h.6M57.0,115.6h.6M55.0,113.9h.6M58.2,115.0h.6M66.7,106.2h.6M63.4,104.6h.6M58.9,111.7h.6M60.6,125.7h.6M59.0,114.2h.6M55.6,114.8h.6M57.5,118.8h.6M57.7,114.2h.6M57.9,109.9h.6M60.1,111.6h.6M60.5,110.3h.6M60.6,113.6h.6M61.9,107.7h.6M61.3,107.1h.6M59.0,113.8h.6M55.4,107.8h.6M55.5,116.4h.6M61.7,107.8h.6M61.8,103.5h.6M60.8,113.4h.6M60.1,113.2h.6M61.5,107.6h.6M63.7,112.3h.6M54.3,109.7h.6M53.4,116.1h.6M56.3,117.8h.6M61.1,120.4h.6M59.2,108.2h.6M61.3,116.6h.6M60.2,108.3h.6M62.5,107.8h.6M66.8,102.9h.6M62.8,111.4h.6M57.5,114.3h.6M64.8,109.0h.6M60.1,113.8h.6M67.8,107.4h.6M61.9,111.5h.6M53.9,119.4h.6M59.0,116.1h.6M58.1,116.0h.6M57.2,118.6h.6M56.7,115.7h.6M61.1,109.9h.6M61.5,114.6h.6M62.8,102.5h.6M57.4,117.6h.6M62.2,108.2h.6M59.5,112.1h.6M67.7,103.2h.6M52.1,114.9h.6M57.1,120.2h.6M61.7,117.8h.6M62.6,110.9h.6M63.4,111.6h.6M61.1,107.4h.6M56.4,114.1h.6M59.4,111.9h.6M53.5,116.6h.6M70.2,109.3h.6M57.0,116.9h.6M57.8,111.5h.6M62.1,109.8h.6M66.7,106.8h.6M53.4,109.4h.6M60.7,114.7h.6M58.5,117.2h.6M58.8,106.9h.6M59.4,114.2h.6M62.6,110.0h.6M58.8,112.3h.6M58.4,114.0h.6M56.7,118.2h.6M59.3,115.0h.6M58.4,115.6h.6M61.7,113.8h.6M63.0,112.6h.6M58.8,113.4h.6M56.2,111.7h.6M61.1,115.2h.6M60.8,108.2h.6M62.0,112.9h.6M55.0,118.9h.6M62.1,112.8h.6M57.2,108.7h.6M55.6,124.4h.6M60.4,116.6h.6M64.4,107.8h.6M57.8,119.8h.6M60.3,113.9h.6M63.1,112.5h.6M60.6,106.2h.6M54.5,118.7h.6M61.0,114.1h.6M58.7,113.0h.6M69.7,107.0h.6M65.8,109.9h.6M56.4,115.8h.6M57.2,111.2h.6M56.5,116.6h.6M55.9,118.6h.6M60.8,110.5h.6M59.4,115.2h.6M62.0,111.5h.6M51.9,114.9h.6M66.0,103.4h.6M54.7,111.1h.6M55.1,114.7h.6M57.5,105.0h.6M53.5,117.7h.6M56.2,113.4h.6M54.9,111.8h.6M62.8,113.8h.6M59.1,111.2h.6M65.2,108.6h.6M54.6,115.9h.6M57.1,115.2h.6M62.7,106.7h.6M59.2,113.6h.6M54.1,116.8h.6M63.9,112.3h.6M53.8,121.6h.6M60.8,116.2h.6M65.5,113.7h.6M59.9,110.9h.6M53.7,113.6h.6M62.6,111.5h.6M63.2,110.1h.6M53.1,118.1h.6M58.9,114.1h.6M65.0,112.2h.6M56.7,108.0h.6M51.7,113.2h.6M54.4,113.8h.6M60.0,111.5h.6M65.7,110.2h.6M59.6,116.3h.6M60.4,113.5h.6M62.4,105.4h.6M62.1,115.8h.6M57.0,116.2h.6M59.2,111.5h.6M53.3,116.9h.6M57.9,118.6h.6M61.8,113.0h.6M56.0,118.5h.6M62.0,114.1h.6M58.3,117.1h.6M68.0,110.4h.6M53.9,114.6h.6M55.8,120.4h.6M62.4,111.0h.6M58.6,118.5h.6M65.4,106.3h.6M61.3,115.4h.6M63.9,113.1h.6M58.6,115.0h.6M57.2,113.2h.6M57.9,113.5h.6M60.8,110.2h.6M58.2,111.1h.6M57.6,120.2h.6M59.2,119.9h.6M58.7,105.0h.6M56.3,114.6h.6M59.2,112.4h.6M59.6,117.4h.6M60.8,115.0h.6M55.6,114.3h.6M64.0,107.0h.6M55.1,116.9h.6M63.1,108.3h.6M58.0,116.8h.6M62.8,108.5h.6M57.6,113.4h.6M69.2,101.6h.6M65.8,105.5h.6M57.2,107.6h.6M60.3,112.2h.6M57.6,113.4h.6M51.6,115.7h.6M58.9,111.0h.6M58.8,112.8h.6M56.2,113.6h.6M64.4,103.4h.6M57.1,114.3h.6M53.4,115.7h.6M64.5,111.0h.6M66.1,117.9h.6M64.9,111.6h.6M58.5,118.0h.6M65.1,105.4h.6M64.7,104.1h.6M55.2,117.3h.6M57.7,117.1h.6M55.5,117.4h.6M52.1,120.6h.6M62.9,108.1h.6M62.7,113.5h.6M53.0,115.0h.6M60.3,113.0h.6M56.7,112.2h.6M61.9,105.9h.6M58.5,113.8h.6M61.4,109.1h.6M60.2,119.6h.6M57.9,117.6h.6M58.0,112.6h.6M58.9,112.5h.6M55.9,107.1h.6M59.5,113.0h.6M55.2,116.0h.6M71.7,106.7h.6M62.3,110.6h.6M61.0,116.5h.6M56.3,113.2h.6M60.3,108.3h.6M59.3,118.5h.6M53.4,119.1h.6M60.4,112.8h.6M53.7,118.2h.6M61.9,117.5h.6M61.8,107.5h.6M64.0,110.5h.6M58.6,112.8h.6M55.6,111.2h.6M58.9,117.0h.6M68.4,110.3h.6M59.3,115.4h.6M50.0,122.0h.6M56.3,119.3h.6M51.4,117.6h.6M56.1,117.9h.6M60.9,107.8h.6M66.5,105.9h.6M57.1,116.7h.6M61.0,114.3h.6M64.9,115.3h.6M62.7,107.0h.6M63.9,111.0h.6M54.4,115.5h.6M51.9,111.7h.6M61.5,109.9h.6M63.1,106.9h.6M61.2,113.8h.6M63.7,109.5h.6M59.8,120.8h.6M65.3,111.7h.6M68.2,108.8h.6M61.9,112.0h.6M59.0,107.7h.6M60.7,107.9h.6M59.2,109.4h.6M61.3,109.1h.6M69.1,103.2h.6M59.7,109.2h.6M58.3,113.9h.6M57.6,113.2h.6M57.7,117.6h.6M56.6,112.9h.6M59.4,109.9h.6M57.9,112.6h.6M55.6,116.1h.6M54.1,113.9h.6M60.3,110.9h.6M53.3,118.0h.6M61.0,112.8h.6M61.4,111.8h.6M60.8,109.6h.6M57.7,117.1h.6M58.0,114.5h.6M63.7,111.9h.6M62.8,106.7h.6M59.2,115.3h.6M51.8,116.3h.6M60.6,109.3h.6M57.6,117.9h.6M63.2,112.3h.6M57.7,113.6h.6M58.8,114.7h.6M50.7,119.7h.6M60.7,108.6h.6M59.5,113.3h.6M60.6,109.9h.6M60.0,121.7h.6M60.1,118.7h.6M53.2,120.0h.6M62.3,116.9h.6M68.9,106.4h.6M54.2,115.4h.6M55.8,114.9h.6M59.0,110.4h.6M61.4,116.4h.6M61.4,103.8h.6M55.3,116.0h.6M63.7,107.1h.6M67.3,105.8h.6M63.2,105.6h.6M60.3,115.8h.6M58.2,107.3h.6M58.8,114.2h.6M60.7,109.2h.6M66.3,106.1h.6M65.7,107.7h.6M59.2,111.9h.6M56.8,119.0h.6M64.1,111.4h.6M56.3,112.6h.6M57.5,113.8h.6M61.3,114.6h.6M55.2,115.6h.6M63.8,111.6h.6M68.7,104.9h.6M54.4,114.4h.6M56.7,116.1h.6M60.3,111.7h.6M56.9,114.9h.6M60.3,114.2h.6M58.3,111.1h.6M58.0,120.0h.6M58.9,112.9h.6M61.5,114.9h.6M58.7,114.4h.6M59.7,114.8h.6M56.2,117.2h.6M65.5,110.8h.6M62.4,110.9h.6M66.7,107.8h.6M62.5,105.2h.6M57.0,118.6h.6M57.7,113.1h.6M58.8,119.2h.6M55.3,117.7h.6M54.0,118.0h.6M72.4,108.1h.6M55.8,113.0h.6M64.0,104.9h.6M53.6,120.5h.6M52.8,114.6h.6M62.3,107.1h.6M55.9,117.3h.6M60.9,115.5h.6M62.9,115.2h.6M67.1,111.4h.6M63.8,108.5h.6M61.6,110.7h.6M51.6,116.9h.6M57.9,105.8h.6M54.1,113.9h.6M57.4,111.3h.6M60.1,111.5h.6M56.2,113.2h.6M51.5,121.8h.6M54.2,117.4h.6M62.9,113.2h.6M64.9,112.6h.6M55.5,119.6h.6M66.1,107.3h.6M56.2,117.9h.6M56.4,113.8h.6M63.1,108.3h.6M54.1,116.1h.6M65.2,103.6h.6M62.4,110.5h.6M63.3,107.7h.6M54.9,115.5h.6M60.6,121.4h.6M59.7,111.5h.6M65.4,109.0h.6M60.0,114.6h.6M62.6,113.7h.6M65.1,105.7h.6M59.1,112.6h.6M64.8,108.6h.6M64.1,111.3h.6M57.4,115.6h.6M66.4,108.9h.6M62.0,109.1h.6M56.6,112.8h.6M58.4,113.8h.6M56.4,120.5h.6M57.2,116.3h.6M60.7,109.5h.6M54.7,121.7h.6M60.6,110.8h.6M65.4,109.9h.6M55.9,116.5h.6M52.5,119.3h.6M63.2,105.8h.6M59.8,106.9h.6M60.2,115.6h.6M66.7,106.8h.6M65.5,112.8h.6M47.4,119.5h.6M71.1,109.6h.6M61.9,110.6h.6M60.6,111.8h.6M57.2,115.2h.6M60.3,114.5h.6M63.9,111.8h.6M59.9,108.8h.6M59.7,102.7h.6M60.6,112.9h.6M61.1,118.2h.6M53.3,115.1h.6M58.5,115.5h.6M62.7,109.9h.6M60.7,109.0h.6M57.6,115.4h.6M54.9,118.5h.6M59.4,115.6h.6M54.8,115.9h.6M56.8,114.4h.6M55.4,116.3h.6M55.5,119.1h.6M62.0,110.1h.6M57.2,112.0h.6M55.6,116.2h.6M54.0,114.4h.6M60.1,112.1h.6M56.5,113.0h.6M58.1,111.8h.6M58.3,114.8h.6M63.6,111.3h.6M59.5,117.3h.6M55.0,117.1h.6M68.7,111.7h.6M59.4,111.7h.6M55.9,112.2h.6M58.2,112.7h.6M59.0,117.9h.6M59.8,118.8h.6M63.8,110.6h.6M56.4,114.3h.6M52.7,121.2h.6M59.3,114.6h.6M58.0,116.3h.6M50.0,115.0h.6M63.3,112.8h.6M50.3,127.5h.6M58.0,113.9h.6M52.0,117.2h.6M60.8,108.7h.6M59.1,112.7h.6M68.5,106.5h.6M53.8,117.2h.6M52.7,115.0h.6M59.0,117.4h.6M61.0,113.8h.6M58.3,112.6h.6M59.7,112.4h.6M70.0,108.3h.6M62.0,112.4h.6M52.0,120.5h.6M66.9,102.0h.6M64.8,111.7h.6M57.7,114.0h.6M59.3,116.0h.6M62.4,115.3h.6M63.9,108.1h.6M68.6,102.0h.6M56.8,114.8h.6M55.5,115.6h.6M60.9,114.6h.6M51.1,116.7h.6M56.1,115.4h.6M59.8,109.7h.6M64.1,105.9h.6M58.8,113.8h.6M64.4,108.7h.6M58.6,111.8h.6M60.9,112.8h.6M58.2,114.2h.6M51.8,119.2h.6M66.5,110.6h.6M55.3,109.4h.6M66.0,105.3h.6M68.3,101.9h.6M62.1,107.8h.6M66.7,109.4h.6M58.0,119.3h.6M69.7,101.1h.6M55.6,118.1h.6M55.3,111.8h.6M56.1,117.4h.6M55.9,120.7h.6M60.9,110.7h.6M63.0,105.7h.6M59.6,107.8h.6M59.5,115.2h.6M57.3,114.7h.6M64.7,112.8h.6M65.2,108.4h.6M55.9,111.4h.6M69.3,109.2h.6M53.1,122.9h.6M60.7,114.2h.6M60.3,111.2h.6M59.4,112.8h.6M63.4,107.7h.6M58.7,116.1h.6M62.7,111.0h.6M63.3,114.2h.6M64.0,108.7h.6M60.0,114.8h.6M51.6,119.4h.6M57.2,115.9h.6M62.6,118.6h.6M63.0,110.6h.6M67.9,103.9h.6M60.6,116.2h.6M64.3,111.1h.6M63.3,107.4h.6M55.8,114.2h.6M61.7,114.1h.6M54.6,116.1h.6M58.2,121.6h.6M62.9,110.0h.6M53.1,115.9h.6M57.2,115.4h.6M54.4,117.5h.6M64.1,108.0h.6M56.1,108.8h.6M58.2,113.6h.6M54.4,113.2h.6M57.4,111.4h.6M54.6,112.3h.6M60.8,114.7h.6M57.0,116.7h.6M54.9,119.8h.6M60.8,110.0h.6M61.2,107.8h.6M62.8,115.5h.6M57.4,111.0h.6M64.8,109.1h.6M55.2,110.8h.6M49.7,117.7h.6M65.6,107.4h.6M58.5,118.2h.6M63.4,105.5h.6M58.3,108.1h.6M64.2,114.4h.6M54.4,118.5h.6M57.0,115.2h.6M60.4,112.9h.6M63.8,110.1h.6M65.3,110.4h.6M62.4,107.3h.6M60.4,110.5h.6M60.0,119.5h.6M60.7,111.7h.6M51.3,120.8h.6M62.0,109.4h.6M60.2,117.5h.6M57.8,113.5h.6M58.7,112.8h.6M64.5,109.6h.6M58.6,112.5h.6M61.8,116.6h.6M59.6,115.1h.6M54.2,119.7h.6M64.4,112.2h.6M61.8,112.5h.6M62.7,113.3h.6M67.5,105.0h.6M57.6,117.1h.6M60.3,114.3h.6M62.7,110.0h.6M58.4,115.1h.6M55.4,118.3h.6M57.0,117.1h.6M59.6,112.0h.6M55.1,117.7h.6M56.7,115.3h.6M63.8,111.7h.6M56.4,119.6h.6M66.6,109.3h.6M60.4,111.6h.6M65.4,105.3h.6M54.0,119.1h.6M58.7,109.9h.6M58.6,121.0h.6M61.4,113.7h.6M54.6,112.6h.6M61.3,115.8h.6M53.8,112.4h.6M58.4,113.0h.6M57.7,111.0h.6M57.4,113.1h.6M63.1,109.5h.6M62.7,109.2h.6M48.0,118.0h.6M63.1,112.2h.6M62.6,109.2h.6M52.0,119.1h.6M63.5,113.5h.6M57.2,113.2h.6M58.5,117.6h.6M59.4,106.2h.6M62.4,106.4h.6M51.1,116.0h.6M61.0,119.7h.6M66.8,100.5h.6M57.3,115.8h.6M60.2,110.3h.6M52.9,118.5h.6M53.7,112.5h.6M57.4,109.8h.6M55.8,122.3h.6M65.7,111.5h.6M59.2,111.6h.6M56.7,110.8h.6M62.8,110.3h.6M55.0,110.9h.6M62.1,116.0h.6M66.5,108.5h.6M58.5,114.5h.6M61.9,110.9h.6M62.2,107.5h.6M46.5,118.0h.6M53.6,114.1h.6M64.0,112.0h.6M60.5,113.7h.6M60.1,112.8h.6M57.0,114.0h.6M63.5,107.6h.6M61.5,115.0h.6M62.5,108.2h.6M58.6,110.1h.6M60.6,112.8h.6M59.8,113.1h.6M56.3,107.1h.6M56.6,116.2h.6M55.9,113.1h.6M61.6,116.5h.6M57.5,112.6h.6M55.6,112.7h.6M59.5,109.2h.6M64.6,110.7h.6M63.6,112.3h.6M56.0,110.2h.6M60.4,114.2h.6M51.5,116.9h.6M64.4,109.2h.6M65.8,108.6h.6M60.6,113.3h.6M62.6,109.4h.6M59.3,114.2h.6M62.7,118.2h.6M53.9,113.3h.6M56.6,119.8h.6M58.3,114.7h.6M59.2,114.2h.6M54.3,118.8h.6M59.4,117.0h.6M59.5,108.2h.6M57.0,117.7h.6M65.4,109.3h.6M61.0,115.3h.6M49.7,121.3h.6M54.0,115.0h.6M62.1,111.0h.6M60.3,111.5h.6M63.3,111.7h.6M59.1,116.7h.6M59.3,119.5h.6M54.1,117.6h.6M55.6,117.2h.6M63.1,106.3h.6M68.7,108.1h.6M59.9,110.3h.6M57.7,104.3h.6M58.4,117.5h.6M63.9,117.2h.6M54.6,113.3h.6M59.8,114.7h.6M62.7,103.0h.6M62.4,114.4h.6M56.2,114.7h.6M56.4,119.0h.6M63.7,110.5h.6M62.3,113.5h.6M60.4,114.5h.6M65.0,111.8h.6M61.6,110.9h.6M59.3,107.3h.6M55.9,122.7h.6M58.1,110.5h.6M57.1,114.9h.6M58.4,111.2h.6M60.1,105.9h.6M68.0,99.7h.6M67.0,107.3h.6M51.0,117.5h.6M60.3,113.0h.6M58.0,114.5h.6M58.0,110.2h.6M64.0,116.5h.6M55.2,113.7h.6M64.5,112.5h.6M62.3,107.5h.6M59.6,113.5h.6M59.5,114.4h.6M64.6,109.4h.6M59.1,112.5h.6M64.0,103.5h.6M68.4,106.0h.6M58.5,111.2h.6M68.7,107.5h.6M66.8,112.8h.6M53.0,120.2h.6M57.0,112.8h.6M60.8,113.4h.6M61.2,110.5h.6M55.6,119.1h.6M65.8,114.0h.6M63.1,109.1h.6M60.3,122.2h.6M57.4,115.9h.6M63.3,110.7h.6M62.6,105.7h.6M57.3,115.9h.6M53.7,116.7h.6M65.3,107.7h.6M58.1,112.2h.6M59.6,112.6h.6M56.9,118.5h.6M57.1,120.2h.6M54.0,110.2h.6M54.2,119.6h.6M59.6,119.5h.6M68.7,110.9h.6M65.4,111.6h.6M59.7,117.6h.6M57.8,114.5h.6M54.5,118.4h.6M60.9,111.1h.6M57.0,118.9h.6M62.8,109.0h.6M64.3,111.4h.6M55.7,116.8h.6M50.5,118.6h.6M59.5,109.5h.6M61.7,111.9h.6M50.8,120.3h.6M65.3,106.7h.6M58.7,111.1h.6M50.5,116.5h.6M70.1,100.8h.6M56.4,116.6h.6M54.8,123.2h.6M64.6,104.5h.6M59.0,109.9h.6M61.2,107.9h.6M61.5,115.7h.6M60.9,110.1h.6M50.7,116.2h.6M65.1,108.8h.6M62.1,114.8h.6M58.7,110.9h.6M58.9,113.1h.6M64.2,117.3h.6M62.2,110.9h.6M57.3,112.6h.6M52.2,113.5h.6M54.9,112.0h.6M50.7,118.7h.6M54.4,123.5h.6M62.4,106.0h.6M68.6,105.6h.6M50.0,123.2h.6M52.4,113.8h.6M60.7,115.9h.6M58.4,108.4h.6M55.6,114.2h.6M63.7,108.0h.6M54.1,115.2h.6M50.4,119.4h.6M59.3,105.8h.6M60.0,111.8h.6M60.5,107.5h.6M65.9,111.9h.6M65.2,100.6h.6M59.0,112.6h.6M58.1,110.6h.6M67.3,113.5h.6M63.4,105.0h.6M58.7,116.5h.6M58.6,110.9h.6M65.2,108.7h.6M63.1,108.3h.6M63.5,106.7h.6M55.2,117.4h.6M56.6,120.8h.6M59.1,106.8h.6M61.8,113.6h.6M58.9,115.0h.6M57.1,115.1h.6M60.1,114.0h.6M53.7,114.8h.6M59.8,110.6h.6M60.5,109.8h.6M55.9,119.5h.6M61.9,113.0h.6M57.5,113.6h.6M61.1,104.6h.6M67.1,106.6h.6M59.5,113.2h.6M60.3,109.0h.6M58.8,110.0h.6M52.8,120.8h.6M61.1,113.6h.6M63.0,111.8h.6M60.5,107.7h.6M69.3,112.6h.6M54.9,112.9h.6M63.9,111.6h.6M66.3,111.4h.6M54.9,119.2h.6M63.7,113.1h.6M56.1,116.5h.6M57.8,114.0h.6M58.7,113.1h.6M52.7,120.0h.6M59.0,111.8h.6M44.6,126.1h.6M55.3,113.9h.6M67.4,107.9h.6M59.9,114.6h.6M70.3,97.5h.6M60.2,109.8h.6M67.3,108.7h.6M60.2,114.4h.6M53.4,113.3h.6M65.9,112.3h.6M57.3,113.1h.6M56.7,124.0h.6M53.1,116.0h.6M61.1,115.8h.6M59.7,112.6h.6M61.2,114.2h.6M59.7,113.2h.6M57.1,111.1h.6M63.3,106.0h.6M53.6,117.4h.6M61.2,114.1h.6M51.4,116.6h.6M60.9,112.8h.6M53.1,115.3h.6M59.9,111.8h.6M51.6,117.9h.6M63.2,104.8h.6M60.6,105.8h.6M68.3,109.6h.6M55.8,114.2h.6M59.5,108.0h.6M63.9,112.7h.6M61.1,112.3h.6M60.8,115.2h.6M59.4,119.0h.6M58.8,112.3h.6M52.4,118.7h.6M62.8,114.0h.6M53.1,119.2h.6M54.6,113.5h.6M58.1,111.4h.6M57.7,104.4h.6M58.7,106.4h.6M53.0,121.7h.6M58.4,114.4h.6M53.8,114.9h.6M56.6,115.7h.6M55.5,115.5h.6M56.6,116.8h.6M51.2,113.8h.6M49.4,123.6h.6M61.7,114.1h.6M54.5,113.8h.6M55.2,120.3h.6M59.0,117.1h.6M58.7,112.6h.6M51.1,119.2h.6M61.4,108.5h.6M59.0,107.1h.6M68.7,113.6h.6M64.4,108.8h.6M53.8,116.9h.6M57.3,115.8h.6M50.1,119.6h.6M62.8,109.8h.6M64.0,111.3h.6M52.5,115.1h.6M61.3,111.0h.6M58.3,111.0h.6M64.4,109.5h.6M63.2,107.5h.6M62.0,109.8h.6M55.7,116.5h.6M52.8,119.3h.6M61.5,113.3h.6M52.9,114.8h.6M52.7,112.1h.6M62.0,120.1h.6M58.6,110.9h.6M60.3,118.7h.6M54.8,117.4h.6M57.8,111.8h.6M53.5,112.8h.6M58.8,118.6h.6M64.4,106.5h.6M63.1,110.7h.6M59.7,112.1h.6M65.2,108.8h.6M58.2,113.3h.6M61.9,107.9h.6M56.2,115.3h.6M60.0,117.1h.6M60.7,111.2h.6M60.2,117.5h.6M65.2,114.7h.6M62.6,108.7h.6M56.9,114.5h.6M61.7,113.5h.6M64.4,113.6h.6M53.7,119.1h.6M52.1,116.8h.6M56.0,114.1h.6M52.9,114.1h.6M63.2,107.6h.6M61.1,106.9h.6M49.5,121.3h.6M61.8,108.2h.6M59.0,109.3h.6M65.7,107.8h.6M63.0,108.0h.6M64.5,107.7h.6M56.4,113.7h.6M58.0,111.0h.6M55.2,117.9h.6M61.7,109.4h.6M65.7,112.2h.6M55.1,118.5h.6M54.6,115.6h.6M55.7,107.9h.6M63.4,111.8h.6M62.8,111.7h.6M65.7,104.7h.6M66.4,110.9h.6M58.0,107.6h.6M58.3,112.9h.6M53.2,119.3h.6M61.9,109.2h.6M61.6,116.2h.6M55.3,113.6h.6M61.8,114.6h.6M61.9,110.5h.6M60.0,117.0h.6M59.6,106.1h.6M56.2,107.2h.6M66.4,107.7h.6M54.6,113.1h.6M55.0,110.9h.6M60.7,109.6h.6M52.7,120.0h.6M61.6,105.7h.6M61.6,117.5h.6M59.1,111.1h.6M61.7,113.4h.6M55.5,116.8h.6M50.2,116.7h.6M55.2,120.6h.6M62.1,112.8h.6M64.2,107.9h.6M61.2,112.6h.6M59.3,109.0h.6M58.2,113.7h.6M58.2,111.3h.6M59.5,113.9h.6M61.3,113.1h.6M63.7,110.4h.6M64.8,110.3h.6M66.0,108.2h.6M61.6,119.5h.6M66.2,110.4h.6M62.4,109.9h.6M55.9,118.3h.6M57.4,113.5h.6M54.3,124.3h.6M52.9,115.6h.6M62.4,111.9h.6M56.4,116.0h.6M60.8,112.0h.6M63.0,112.0h.6M55.0,111.4h.6M67.0,103.2h.6M57.1,118.2h.6M60.6,109.3h.6M64.0,99.0h.6M64.3,107.5h.6M61.3,112.1h.6M59.2,114.3h.6M53.7,117.4h.6M61.7,100.6h.6M60.0,103.8h.6M57.9,117.9h.6M56.8,113.5h.6M53.5,118.8h.6M57.6,112.4h.6M53.8,119.5h.6M63.3,113.1h.6M64.4,113.4h.6M58.7,102.9h.6M65.7,105.8h.6M56.3,117.9h.6M60.2,106.1h.6M56.1,119.1h.6M60.2,117.7h.6M59.3,110.9h.6M55.5,119.3h.6M50.4,117.6h.6M57.7,121.2h.6M65.6,105.4h.6M59.4,115.6h.6M62.7,106.2h.6M67.5,103.4h.6M59.3,103.9h.6M58.0,111.8h.6M66.7,104.3h.6M58.3,121.5h.6M56.9,115.6h.6M56.0,119.1h.6M59.7,111.5h.6M56.9,113.4h.6M54.0,113.3h.6M65.8,109.4h.6M51.9,116.4h.6M65.4,115.2h.6M58.1,113.1h.6M59.0,114.3h.6M60.9,115.5h.6M64.3,109.7h.6M65.1,105.9h.6M63.1,120.4h.6M49.1,118.0h.6M51.1,123.1h.6M57.4,119.1h.6M51.2,121.2h.6M55.9,112.5h.6M63.0,107.5h.6M60.2,110.0h.6M59.2,111.4h.6M59.6,112.3h.6M57.7,116.4h.6M56.9,111.8h.6M56.3,117.9h.6M62.1,105.0h.6M58.8,115.3h.6M64.8,109.8h.6M55.0,117.7h.6M63.4,109.5h.6M56.4,111.6h.6M60.0,112.0h.6M62.5,115.3h.6M62.5,106.5h.6M59.8,111.3h.6M63.0,115.3h.6M63.1,109.1h.6M56.7,115.2h.6M59.9,110.4h.6M63.8,108.3h.6M58.9,121.3h.6M47.9,124.2h.6M60.9,115.1h.6M66.5,110.8h.6M66.1,107.0h.6M61.9,114.1h.6M57.0,110.7h.6M59.0,115.9h.6M59.7,108.3h.6M64.7,108.4h.6M54.6,119.8h.6M64.4,109.6h.6M56.8,112.7h.6M64.2,108.6h.6M58.7,112.1h.6M52.0,113.7h.6M60.3,116.2h.6M61.1,108.5h.6M64.9,106.1h.6M57.5,118.7h.6M64.1,106.4h.6M54.7,117.7h.6M50.3,122.9h.6M65.9,107.0h.6M58.0,117.1h.6M60.0,117.1h.6M62.0,117.9h.6M58.5,114.6h.6M53.5,114.4h.6M61.5,112.0h.6M56.8,117.8h.6M56.9,113.5h.6M60.0,113.8h.6M64.6,112.0h.6M59.6,109.9h.6M57.6,116.3h.6M54.6,117.4h.6M57.8,114.2h.6M62.2,113.9h.6M67.5,107.6h.6M61.3,106.7h.6M65.9,110.8h.6M59.1,122.9h.6M52.8,110.9h.6M66.4,105.7h.6M55.3,115.1h.6M64.1,108.9h.6M60.3,116.4h.6M54.3,115.1h.6M55.9,113.8h.6M61.7,109.6h.6M54.6,116.3h.6M52.2,121.3h.6M61.0,113.5h.6M59.4,114.5h.6M56.0,116.7h.6M57.8,110.0h.6M62.0,110.6h.6M58.8,111.7h.6M67.2,104.6h.6M54.9,114.4h.6M61.4,110.0h.6M55.1,114.8h.6M63.2,109.1h.6M63.5,108.4h.6M56.6,119.2h.6M59.5,110.3h.6M56.5,112.3h.6M61.9,108.7h.6M61.8,111.3h.6M59.2,114.5h.6M56.3,111.7h.6M55.7,112.4h.6M63.6,110.9h.6M58.4,116.3h.6M62.3,113.5h.6M56.0,116.7h.6M54.4,115.7h.6M60.9,103.6h.6M56.9,117.4h.6M61.0,108.2h.6M48.5,118.1h.6M63.0,113.3h.6M61.6,107.8h.6M64.3,106.9h.6M61.5,109.9h.6M64.6,105.4h.6M50.7,121.0h.6M60.8,112.5h.6M56.3,115.3h.6M54.7,117.0h.6M60.3,112.9h.6M62.0,102.5h.6M62.3,111.4h.6M55.2,117.7h.6M57.6,111.1h.6M65.9,113.2h.6M63.5,111.4h.6M63.3,108.2h.6M61.7,107.4h.6M61.5,113.3h.6M63.9,106.9h.6M59.3,114.8h.6M59.5,113.4h.6M61.1,108.2h.6M63.6,109.9h.6M56.1,111.7h.6M57.0,115.3h.6M59.3,105.5h.6M62.6,110.2h.6M56.8,118.9h.6M61.8,112.0h.6M53.7,114.8h.6M65.6,111.6h.6M60.5,111.0h.6M54.5,111.6h.6M63.1,108.6h.6M62.8,106.5h.6M62.1,107.3h.6M64.3,112.8h.6M58.5,117.3h.6M57.7,111.2h.6M61.5,113.1h.6M56.3,115.2h.6M55.9,113.8h.6M60.3,115.1h.6M60.0,117.0h.6M56.8,113.1h.6M66.2,110.9h.6M58.1,116.5h.6M54.3,116.8h.6M59.4,115.6h.6M53.8,117.0h.6M57.1,115.8h.6M52.3,115.4h.6M70.6,101.7h.6M55.4,120.4h.6M51.0,114.8h.6M68.2,108.2h.6M54.3,114.3h.6M65.1,114.4h.6M63.0,111.5h.6M51.7,114.5h.6M62.9,113.0h.6M60.0,112.2h.6M63.1,105.7h.6M65.2,109.8h.6M57.4,115.5h.6M61.0,113.4h.6M55.4,116.3h.6M59.9,112.5h.6M60.0,113.2h.6M57.8,112.7h.6M62.2,107.5h.6M56.6,112.5h.6M56.0,118.2h.6M59.1,112.7h.6M60.9,110.7h.6M65.5,113.2h.6M60.3,110.9h.6M67.1,107.4h.6M55.7,121.9h.6M61.9,113.4h.6M53.6,116.0h.6M58.1,116.4h.6M53.9,116.1h.6M61.9,107.8h.6M58.3,110.8h.6M52.9,119.5h.6M56.4,110.8h.6M64.7,110.3h.6M61.9,108.3h.6M55.0,117.3h.6M59.8,111.8h.6M55.4,113.4h.6M56.6,115.6h.6M60.8,117.7h.6M59.3,114.7h.6M57.4,114.4h.6M54.9,115.9h.6M50.0,115.2h.6M62.6,105.6h.6M60.9,110.8h.6M58.7,116.4h.6M58.2,115.8h.6M59.9,116.0h.6M63.2,109.1h.6M64.5,109.3h.6M65.1,106.3h.6M54.1,119.4h.6M59.7,111.2h.6M58.2,113.2h.6M58.0,120.8h.6M54.6,114.1h.6M52.0,117.7h.6M62.1,115.5h.6M60.4,109.1h.6M52.7,115.9h.6M60.8,114.6h.6M60.7,117.5h.6M67.0,105.3h.6M53.4,123.4h.6M60.4,114.4h.6M61.3,107.1h.6M60.1,112.9h.6M58.0,117.0h.6M58.3,112.6h.6M66.8,105.6h.6M65.3,106.0h.6M62.0,107.3h.6M62.1,114.1h.6M52.4,122.5h.6M60.5,115.8h.6M60.0,112.0h.6M60.2,123.0h.6M56.1,115.2h.6M56.2,115.2h.6M57.8,109.6h.6M62.9,108.1h.6M57.8,106.7h.6M57.0,114.4h.6M56.8,113.2h.6M61.4,112.3h.6M52.2,113.3h.6M61.6,109.3h.6M65.1,110.0h.6M56.4,110.7h.6M56.8,113.0h.6M61.0,104.9h.6M60.0,106.5h.6M54.7,112.6h.6M56.1,114.8h.6M59.8,110.3h.6M65.3,113.1h.6M57.9,110.2h.6M58.6,113.3h.6M60.3,116.2h.6M67.5,111.6h.6M56.5,106.1h.6M60.2,114.5h.6M55.3,115.0h.6M63.1,109.4h.6M54.2,116.3h.6M47.9,125.2h.6M54.8,117.6h.6M53.3,116.0h.6M62.7,119.7h.6M52.8,115.5h.6M59.4,116.8h.6M63.8,110.8h.6M58.5,114.3h.6M56.3,115.6h.6M53.8,113.5h.6M59.3,120.1h.6M59.6,109.9h.6M58.2,112.5h.6M64.0,107.9h.6M58.4,116.5h.6M59.4,110.3h.6M56.8,116.1h.6M51.7,117.8h.6M64.9,110.2h.6M62.8,107.6h.6M56.7,114.7h.6M60.1,116.9h.6M61.1,116.0h.6M57.5,116.3h.6M64.2,105.0h.6M55.9,114.4h.6M52.9,118.7h.6M61.1,119.2h.6M53.7,111.0h.6M64.8,110.7h.6M59.9,113.4h.6M61.1,109.0h.6M59.9,112.9h.6M68.3,108.6h.6M57.6,109.8h.6M62.7,109.2h.6M63.9,108.2h.6M61.4,113.2h.6M55.5,114.6h.6M66.4,102.1h.6M64.2,110.2h.6M65.1,111.9h.6M56.2,119.8h.6M51.9,121.1h.6M62.6,113.2h.6M61.8,106.8h.6M58.1,113.6h.6M55.3,114.2h.6M59.1,117.4h.6M65.9,108.6h.6M65.9,106.2h.6M54.2,116.0h.6M62.1,113.8h.6M62.3,106.4h.6M62.1,108.0h.6M63.4,112.0h.6M64.0,105.9h.6M61.2,112.6h.6M58.1,114.6h.6M58.6,107.6h.6M61.3,119.4h.6M60.1,110.0h.6M50.8,118.5h.6M62.7,111.9h.6M62.2,112.0h.6M60.2,118.0h.6M56.2,118.2h.6M55.3,110.9h.6M62.3,108.7h.6M64.5,112.1h.6M58.9,111.0h.6M58.5,113.5h.6M66.5,108.5h.6M66.8,107.7h.6M58.3,117.5h.6M62.9,108.7h.6M60.6,110.4h.6M54.6,117.7h.6M61.7,109.1h.6M49.6,120.4h.6M64.0,108.8h.6M62.3,107.0h.6M56.0,112.7h.6M57.5,116.8h.6M59.1,111.4h.6M58.2,109.3h.6M55.2,111.8h.6M51.3,116.5h.6M58.3,119.9h.6M66.9,109.4h.6M58.4,116.2h.6M54.2,116.4h.6M57.4,109.0h.6M61.3,113.0h.6M47.2,116.9h.6M58.2,113.7h.6M57.9,110.2h.6M61.8,110.7h.6M59.8,118.6h.6M61.8,113.0h.6M65.5,104.5h.6M55.4,110.7h.6M59.4,114.5h.6M69.9,103.7h.6M57.9,109.8h.6M52.8,113.0h.6M54.5,118.5h.6M58.9,110.0h.6M57.2,112.3h.6M63.0,111.4h.6M56.5,114.2h.6M54.0,116.9h.6M67.7,103.9h.6M63.8,110.3h.6M64.4,106.3h.6M58.0,118.2h.6M61.7,107.9h.6M63.6,108.3h.6M62.7,116.1h.6M62.0,111.2h.6M58.6,114.4h.6M64.3,109.3h.6M57.5,116.6h.6M59.6,113.8h.6M54.7,109.8h.6M52.7,118.6h.6M48.4,119.1h.6M68.4,105.8h.6M58.3,115.2h.6M51.5,122.3h.6M63.5,109.1h.6M56.3,119.7h.6M56.4,113.9h.6M59.6,111.5h.6M66.9,104.3h.6M68.4,104.9h.6M54.8,117.8h.6M62.3,115.0h.6M69.0,112.0h.6M56.1,114.7h.6M66.6,101.8h.6M63.8,114.1h.6M55.0,116.3h.6M57.6,116.7h.6M60.9,111.1h.6M60.5,108.7h.6M58.9,115.1h.6M67.0,104.5h.6M62.1,114.8h.6M62.2,114.7h.6M62.5,113.8h.6M58.4,110.4h.6M57.0,117.0h.6M70.1,108.4h.6M62.9,118.4h.6M53.7,115.8h.6M60.2,106.3h.6M63.6,109.7h.6M59.6,108.1h.6M62.7,112.8h.6M61.2,114.8h.6M60.2,113.3h.6M55.7,111.7h.6M59.8,114.3h.6M53.0,112.5h.6M56.0,121.4h.6M57.2,112.4h.6M63.8,107.4h.6M52.9,118.1h.6M55.8,116.0h.6M56.1,116.6h.6M60.1,109.9h.6M58.4,113.3h.6M61.3,108.2h.6M64.7,111.9h.6M56.9,111.9h.6M55.0,111.0h.6M55.2,112.9h.6M58.1,112.8h.6M61.7,110.9h.6M61.0,111.0h.6M58.4,109.7h.6M64.4,112.3h.6M61.2,105.9h.6M58.0,108.2h.6M62.0,109.3h.6M56.3,113.4h.6M58.6,113.7h.6M55.9,116.8h.6M61.4,112.6h.6M59.3,112.9h.6M70.2,105.1h.6M58.1,109.0h.6M62.9,111.2h.6M49.0,123.4h.6M61.0,111.3h.6M59.6,112.1h.6M65.5,107.8h.6M58.0,113.5h.6M65.8,102.7h.6M58.1,115.5h.6M60.6,112.7h.6M66.8,109.2h.6M61.2,111.1h.6M58.8,112.6h.6M60.9,106.5h.6M54.7,116.2h.6M54.4,115.4h.6M59.8,104.0h.6M59.2,108.1h.6M57.5,112.8h.6M52.9,114.2h.6M54.2,107.3h.6M50.7,120.8h.6M67.1,111.5h.6M56.9,112.6h.6M59.3,114.8h.6M61.3,107.3h.6M61.2,110.8h.6M63.1,107.4h.6M57.1,112.1h.6M54.9,118.7h.6M64.3,111.8h.6M59.6,110.9h.6M53.8,114.5h.6M57.3,116.3h.6M55.5,108.4h.6M58.6,112.7h.6M55.4,117.0h.6M59.6,108.8h.6M53.7,117.8h.6M60.0,111.3h.6M65.7,106.7h.6M57.1,118.2h.6M58.3,116.6h.6M62.2,114.5h.6M57.0,118.1h.6M59.4,109.5h.6M66.4,113.9h.6M59.4,110.0h.6M61.3,115.7h.6M63.2,114.3h.6M59.5,117.7h.6M53.1,118.9h.6M57.4,113.1h.6M63.0,106.7h.6M64.3,114.6h.6M61.9,108.7h.6M52.9,112.3h.6M62.6,112.8h.6M64.2,108.7h.6M69.2,105.3h.6M49.0,120.7h.6M61.8,108.8h.6M67.5,113.9h.6M60.7,119.8h.6M56.4,110.5h.6M61.6,114.0h.6M60.2,117.9h.6M55.8,116.0h.6M62.6,108.6h.6M57.3,115.0h.6M65.3,113.2h.6M68.2,110.5h.6M56.2,110.0h.6M58.6,112.2h.6M54.7,116.0h.6M59.3,113.2h.6M61.3,107.4h.6M64.0,108.2h.6M64.7,112.0h.6M57.8,120.7h.6M57.5,116.4h.6M65.4,110.0h.6M53.8,119.5h.6M63.6,107.9h.6M59.3,113.2h.6M64.7,105.1h.6M53.8,114.7h.6M57.0,114.5h.6M60.7,111.2h.6M49.9,117.1h.6M63.5,111.3h.6M56.1,120.0h.6M54.6,126.9h.6M58.6,107.4h.6M61.4,110.6h.6M57.1,114.0h.6M58.4,113.5h.6M55.0,115.5h.6M62.6,111.4h.6M53.5,117.4h.6M66.8,107.6h.6M63.2,103.6h.6M51.4,113.2h.6M51.4,120.1h.6M53.4,115.2h.6M56.5,115.3h.6M63.7,110.4h.6M55.6,122.6h.6M56.3,112.4h.6M58.6,112.2h.6M57.1,121.3h.6M56.1,114.1h.6M64.7,113.6h.6M59.6,109.2h.6M63.3,113.0h.6M62.2,112.4h.6M57.5,114.6h.6M51.7,118.4h.6M55.2,117.5h.6M60.9,102.7h.6M52.7,116.6h.6M61.4,115.2h.6M55.0,114.6h.6M64.9,108.5h.6M63.1,112.1h.6M57.1,116.2h.6M55.6,114.2h.6M60.8,113.0h.6M53.2,116.7h.6M62.2,110.6h.6M61.4,109.5h.6M57.9,117.5h.6M56.4,105.3h.6M61.4,107.9h.6M65.1,112.8h.6M56.6,112.2h.6M60.7,111.9h.6M59.0,108.0h.6M62.1,113.4h.6M63.4,111.0h.6M62.5,106.4h.6M64.6,108.1h.6M55.1,116.4h.6M61.2,112.3h.6M65.0,107.6h.6M61.7,118.8h.6M56.7,112.7h.6M62.3,108.3h.6M54.5,114.1h.6M62.0,106.0h.6M59.0,111.6h.6M57.2,112.1h.6M61.2,113.2h.6M62.9,107.8h.6M52.2,114.9h.6M54.8,108.3h.6M64.7,107.4h.6M57.3,109.8h.6M55.6,114.1h.6M61.3,109.3h.6M62.9,111.2h.6M51.7,120.3h.6M63.4,106.7h.6M59.8,112.0h.6M59.0,121.7h.6M60.2,114.5h.6M60.5,117.1h.6M66.2,110.2h.6M64.5,110.1h.6M65.6,107.8h.6M61.6,113.7h.6M51.3,111.9h.6M62.9,109.7h.6M56.3,115.2h.6M54.3,115.2h.6M60.5,112.2h.6M62.5,109.2h.6M63.2,111.4h.6M53.6,112.6h.6M56.4,115.1h.6M61.7,118.9h.6M57.8,116.4h.6M57.9,117.1h.6M56.5,119.6h.6M59.5,111.3h.6M58.1,120.6h.6M60.1,117.7h.6M48.0,120.5h.6M69.9,108.5h.6M61.5,114.5h.6M61.2,109.6h.6M57.8,110.2h.6M54.7,118.5h.6M62.6,110.1h.6M56.5,119.3h.6M68.9,104.8h.6M66.3,104.8h.6M72.7,102.4h.6M62.2,106.8h.6M71.1,101.4h.6M66.3,102.7h.6M71.0,101.0h.6M68.8,103.9h.6M66.5,106.4h.6M68.9,104.7h.6M66.9,101.2h.6M64.9,106.2h.6M70.3,99.4h.6M72.6,101.8h.6M73.4,104.2h.6M68.0,104.6h.6M71.9,100.6h.6M70.5,100.7h.6M72.5,99.9h.6M63.1,112.0h.6M65.7,103.7h.6M66.2,104.8h.6M71.6,100.7h.6M67.3,104.4h.6M63.8,106.3h.6M65.8,105.4h.6M63.3,107.5h.6M71.3,101.4h.6M68.0,104.6h.6M65.1,103.4h.6M73.4,104.1h.6M70.1,103.3h.6M73.5,94.3h.6M68.7,101.9h.6M64.4,102.9h.6M67.9,104.9h.6M62.2,109.2h.6M64.6,104.5h.6M71.8,104.2h.6M70.3,104.1h.6M69.8,101.5h.6M71.2,103.9h.6M66.0,105.4h.6M60.6,106.3h.6M66.2,108.0h.6M69.0,103.3h.6M69.2,97.5h.6M72.0,99.6h.6M71.9,103.3h.6M63.8,105.7h.6M68.7,102.7h.6M65.6,105.9h.6M65.5,106.8h.6M68.7,107.6h.6M65.1,108.4h.6M70.0,106.0h.6M63.9,106.8h.6M72.0,97.5h.6M65.8,104.9h.6M66.2,109.0h.6M72.1,98.9h.6M63.3,104.9h.6M68.9,101.3h.6M65.9,99.2h.6M67.1,106.4h.6M64.8,99.0h.6M68.6,103.3h.6M67.0,103.8h.6M66.4,105.8h.6M64.7,98.3h.6M68.8,105.4h.6M68.6,106.5h.6M67.3,109.8h.6M70.0,100.4h.6M78.1,96.8h.6M70.8,97.3h.6M67.9,105.1h.6M70.9,100.7h.6M65.2,110.1h.6M67.6,105.3h.6M66.4,105.1h.6M64.2,109.6h.6M63.1,103.9h.6M68.8,102.7h.6M71.7,102.0h.6M63.5,108.0h.6M67.7,104.3h.6M64.4,107.8h.6M72.3,102.5h.6M73.1,100.3h.6M59.3,112.2h.6M61.8,102.2h.6M73.6,100.2h.6M68.0,104.7h.6M68.7,102.3h.6M74.4,102.0h.6M69.3,100.7h.6M69.7,104.6h.6M68.8,100.9h.6M71.5,101.9h.6M68.8,101.7h.6M64.8,101.8h.6M66.8,103.7h.6M66.2,104.8h.6M66.7,105.3h.6M67.0,103.0h.6M67.0,104.5h.6M69.7,103.1h.6M65.3,104.3h.6M60.7,108.0h.6M67.5,101.6h.6M72.3,98.6h.6M66.1,105.2h.6M65.0,105.2h.6M65.7,102.1h.6M67.8,103.6h.6M66.2,108.5h.6M70.2,104.4h.6M63.7,104.8h.6M61.7,106.1h.6M63.9,112.5h.6M66.3,106.0h.6M65.7,105.8h.6M70.0,96.7h.6M64.7,107.6h.6M65.7,108.1h.6M72.8,101.0h.6M69.6,101.5h.6M69.5,99.8h.6M63.5,107.8h.6M68.5,106.6h.6M66.1,108.9h.6M63.4,105.1h.6M62.2,109.8h.6M63.3,109.2h.6M67.1,103.5h.6M60.8,109.9h.6M66.4,100.4h.6M69.7,101.9h.6M66.1,106.2h.6M69.5,102.0h.6M66.2,107.8h.6M65.9,106.9h.6M72.4,102.6h.6M73.9,100.2h.6M67.7,103.4h.6M68.8,104.2h.6M77.7,95.1h.6M67.1,108.9h.6M64.0,110.8h.6M62.0,107.0h.6M65.6,105.5h.6M64.2,109.5h.6M69.0,106.3h.6M61.8,105.2h.6M69.3,101.6h.6M67.3,97.9h.6M63.8,108.4h.6M71.9,96.1h.6M61.0,109.9h.6M74.1,101.5h.6M62.5,107.9h.6M60.6,109.2h.6M65.1,107.9h.6M74.4,103.5h.6M67.5,106.4h.6M68.4,103.6h.6M74.5,98.7h.6M72.8,99.4h.6M70.9,102.0h.6M66.2,103.6h.6M66.3,105.5h.6M65.9,105.0h.6M66.5,107.6h.6M66.6,104.8h.6M68.7,106.6h.6M67.8,107.8h.6M67.0,109.0h.6M68.7,101.5h.6M70.5,104.1h.6M64.2,107.1h.6M68.2,102.9h.6M66.6,105.2h.6M69.6,104.2h.6M71.7,98.9h.6M76.2,94.0h.6M72.9,98.1h.6M62.4,108.5h.6M67.9,106.7h.6M60.4,110.1h.6M68.0,105.5h.6M69.9,104.0h.6M66.7,104.4h.6M73.7,102.4h.6M68.9,103.1h.6M67.8,109.8h.6M69.6,103.7h.6M63.4,110.3h.6M74.8,95.9h.6M69.0,106.9h.6M68.1,105.9h.6M71.9,96.2h.6M65.9,107.8h.6M67.9,103.9h.6M67.2,104.9h.6M68.0,102.4h.6M67.0,105.4h.6M64.8,108.4h.6M61.6,112.3h.6M65.5,103.1h.6M70.1,98.2h.6M72.9,96.4h.6M71.2,100.1h.6M72.2,98.5h.6M70.3,100.3h.6M62.2,110.9h.6M69.6,103.1h.6M71.7,97.7h.6M63.4,109.3h.6M65.2,106.4h.6M66.4,103.1h.6M70.7,100.4h.6M73.4,98.6h.6M70.4,100.3h.6M64.7,105.7h.6M65.4,107.7h.6M66.5,102.3h.6M61.5,108.2h.6M60.6,109.1h.6M63.8,110.2h.6M63.1,107.3h.6M67.2,104.6h.6M69.9,103.8h.6M69.0,101.6h.6M71.9,100.5h.6M67.4,108.5h.6M64.5,108.7h.6M71.6,100.2h.6M68.8,103.2h.6M69.9,102.3h.6M68.5,105.1h.6M62.0,110.8h.6M69.3,107.7h.6M67.5,102.4h.6M69.0,101.5h.6M63.4,107.8h.6M70.7,104.0h.6M71.1,101.0h.6M67.3,105.0h.6M71.1,100.0h.6M70.0,99.3h.6M68.5,105.2h.6M70.0,102.1h.6M63.4,103.6h.6M65.0,104.6h.6M68.4,107.6h.6M66.3,107.8h.6M65.9,102.8h.6M68.9,104.8h.6M62.2,106.7h.6M67.3,106.4h.6M66.2,106.7h.6M69.0,102.7h.6M70.7,104.3h.6M67.4,105.3h.6M63.2,106.8h.6M68.3,105.6h.6M63.5,104.7h.6M73.6,104.1h.6M58.1,111.4h.6M68.6,104.4h.6M65.0,107.8h.6M70.5,100.2h.6M70.0,101.9h.6M63.8,106.5h.6M67.4,107.9h.6M71.4,100.7h.6M62.0,108.8h.6M63.6,103.1h.6M67.8,104.6h.6M62.8,108.1h.6M68.6,108.1h.6M70.6,103.0h.6M66.0,102.3h.6M69.5,100.3h.6M62.5,111.5h.6M66.4,105.3h.6M68.8,102.2h.6M70.5,104.5h.6M66.0,104.8h.6M68.4,105.0h.6M66.4,105.6h.6M65.3,106.4h.6M68.1,101.4h.6M65.0,103.0h.6M65.5,106.6h.6M67.8,101.1h.6M65.9,103.4h.6M68.8,103.5h.6M68.6,102.5h.6M62.3,108.2h.6M62.4,107.8h.6M68.8,105.8h.6M64.5,105.4h.6M65.3,100.9h.6M71.6,95.6h.6M72.0,102.1h.6M70.3,100.9h.6M69.3,101.3h.6M69.6,100.2h.6M65.5,107.4h.6M67.0,106.5h.6M65.2,107.4h.6M64.3,107.3h.6M72.7,95.7h.6M61.5,106.3h.6M69.0,107.0h.6M67.4,106.9h.6M66.1,104.0h.6M75.2,98.9h.6M60.5,109.1h.6M69.7,103.7h.6M67.2,105.3h.6M68.7,102.0h.6M69.4,99.8h.6M71.1,102.9h.6M67.7,103.1h.6M64.5,101.5h.6M66.4,101.6h.6M62.3,111.8h.6M65.2,107.7h.6M65.3,101.8h.6M64.4,106.8h.6M69.0,102.7h.6M62.9,107.7h.6M66.1,102.3h.6M65.4,105.0h.6M63.3,113.4h.6M69.6,100.7h.6M69.0,99.7h.6M71.7,98.7h.6M67.2,103.0h.6M68.2,104.3h.6M66.5,103.1h.6M70.6,102.4h.6M68.9,105.5h.6M67.0,108.2h.6M69.1,106.6h.6M65.8,105.3h.6M69.6,104.9h.6M71.3,98.9h.6M66.3,107.6h.6M72.3,101.0h.6M68.2,106.9h.6M67.7,104.5h.6M68.7,101.4h.6M60.8,112.0h.6M70.3,102.4h.6M69.4,102.6h.6M70.9,100.9h.6M72.2,99.3h.6M69.2,100.9h.6M69.0,103.7h.6M70.0,105.7h.6M69.2,105.5h.6M70.1,104.4h.6M64.2,106.7h.6M69.4,100.0h.6M69.5,103.6h.6M68.7,104.1h.6M68.9,102.1h.6M68.1,102.2h.6M64.0,103.7h.6M64.9,102.4h.6M67.9,104.4h.6M64.2,107.9h.6M67.9,102.8h.6M64.5,107.1h.6M70.0,104.0h.6M70.8,95.3h.6M69.1,103.6h.6M66.0,106.7h.6M74.1,97.4h.6M73.2,101.0h.6M63.0,102.8h.6M73.2,102.3h.6M61.8,109.8h.6M65.6,106.8h.6M69.2,105.4h.6M68.3,108.6h.6M62.5,110.1h.6M75.7,95.2h.6M68.8,101.5h.6M78.9,94.4h.6M63.8,103.0h.6M69.1,104.4h.6M60.5,110.4h.6M66.0,99.3h.6M64.8,102.8h.6M63.9,109.2h.6M72.6,101.9h.6M66.2,107.0h.6M60.0,108.2h.6M68.7,101.9h.6M61.8,105.2h.6M69.8,107.8h.6M59.9,109.6h.6M68.4,98.1h.6M65.7,106.4h.6M70.9,100.3h.6M73.1,98.1h.6M67.8,105.1h.6M66.6,101.1h.6M64.2,107.1h.6M66.9,101.5h.6M64.3,105.6h.6M68.0,102.5h.6M69.9,102.7h.6M64.3,106.9h.6M63.8,108.5h.6M68.7,100.3h.6M62.7,110.7h.6M66.6,105.1h.6M69.4,103.1h.6M69.8,100.5h.6M60.0,110.9h.6M66.0,104.7h.6M68.4,102.6h.6M70.7,99.1h.6M67.0,103.8h.6M72.8,95.9h.6M63.9,107.1h.6M69.9,101.7h.6M65.0,102.9h.6M60.8,110.9h.6M69.1,107.2h.6M69.2,103.5h.6M69.3,99.8h.6M63.2,107.8h.6M73.5,100.5h.6M64.0,104.6h.6M71.9,102.5h.6M66.3,109.9h.6M66.1,107.7h.6M66.4,104.5h.6M66.5,107.1h.6M70.5,103.2h.6M65.5,104.1h.6M76.5,99.2h.6M65.3,103.4h.6M72.4,99.4h.6M68.8,105.1h.6M68.7,103.2h.6M71.1,95.2h.6M68.2,100.8h.6M67.5,103.7h.6M65.1,100.3h.6M72.8,104.8h.6M67.4,106.7h.6M69.9,102.5h.6M66.8,106.7h.6M70.3,105.1h.6M69.1,100.5h.6M60.4,115.9h.6M69.3,102.8h.6M69.0,109.4h.6M71.8,99.8h.6M67.1,106.2h.6M72.5,100.3h.6M70.8,101.4h.6M66.9,101.4h.6M68.0,103.9h.6M66.9,104.1h.6M67.7,102.4h.6M65.1,103.2h.6M73.5,95.3h.6M63.0,107.5h.6M64.7,104.2h.6M62.1,114.5h.6M70.2,100.3h.6M67.7,100.9h.6M62.9,110.1h.6M68.4,101.4h.6M63.3,100.3h.6M68.5,106.0h.6M68.3,103.9h.6M66.4,99.6h.6M61.7,106.9h.6M67.4,102.6h.6M62.8,111.7h.6M68.3,106.1h.6M71.5,95.4h.6M65.0,109.9h.6M72.5,100.0h.6M69.6,103.9h.6M67.8,100.4h.6M71.2,103.0h.6M65.0,104.4h.6M65.2,105.1h.6M70.2,103.4h.6M67.2,103.7h.6M61.4,109.6h.6M63.6,106.8h.6M68.8,103.3h.6M77.2,91.3h.6M64.3,104.5h.6M66.3,104.7h.6M67.9,98.3h.6M71.2,102.0h.6M64.9,105.1h.6M68.8,104.2h.6M66.8,104.5h.6M66.1,102.7h.6M69.1,104.0h.6M66.1,102.6h.6M67.4,104.1h.6M67.9,102.6h.6M71.6,102.8h.6M70.4,101.7h.6M71.2,100.1h.6M65.0,102.9h.6M69.2,105.7h.6M65.6,108.4h.6M64.0,108.8h.6M73.2,98.2h.6M64.3,108.4h.6M68.1,105.7h.6M63.5,103.7h.6M66.8,106.5h.6M71.1,101.1h.6M68.5,105.0h.6M66.3,104.3h.6M69.7,104.8h.6M66.6,106.5h.6M64.5,105.4h.6M66.2,101.9h.6M63.2,105.5h.6M64.4,105.0h.6M75.5,97.3h.6M65.9,102.2h.6M60.8,112.6h.6M67.0,107.6h.6M64.5,103.8h.6M63.4,104.3h.6M64.1,109.8h.6M66.8,106.8h.6M65.5,105.7h.6M65.1,105.3h.6M67.5,108.3h.6M64.6,101.9h.6M74.4,100.2h.6M70.8,100.4h.6M66.4,104.1h.6M68.5,104.4h.6M66.4,103.1h.6M66.8,109.5h.6M71.0,97.0h.6M65.5,106.2h.6M69.1,102.1h.6M68.7,103.9h.6M69.2,98.8h.6M71.5,101.1h.6M67.1,100.5h.6M66.4,104.6h.6M70.4,103.0h.6M67.8,100.3h.6M71.4,100.1h.6M70.3,101.1h.6M69.0,109.9h.6M70.6,103.0h.6M65.8,105.4h.6M71.5,101.1h.6M74.5,100.0h.6M62.1,105.7h.6M71.9,101.2h.6M66.3,104.6h.6M68.3,108.3h.6M65.1,102.9h.6M70.1,101.1h.6M68.0,102.5h.6M64.8,101.9h.6M68.2,101.5h.6M66.8,105.8h.6M68.4,97.2h.6M67.8,105.3h.6M69.3,99.7h.6M69.0,103.6h.6M69.5,100.3h.6M66.2,104.1h.6M72.5,101.9h.6M66.0,105.4h.6M66.9,102.3h.6M68.4,105.6h.6M68.9,100.8h.6M65.4,106.1h.6M63.5,109.3h.6M66.0,102.0h.6M65.9,104.1h.6M65.5,103.9h.6M70.3,98.5h.6M70.1,102.0h.6M71.8,99.4h.6M67.6,104.2h.6M65.2,113.3h.6M66.4,104.4h.6M63.9,107.6h.6M71.3,98.0h.6M70.3,104.1h.6M69.8,100.6h.6M62.8,110.3h.6M68.8,101.9h.6M68.6,107.8h.6M62.1,108.6h.6M63.5,104.1h.6M64.3,105.3h.6M68.8,97.9h.6M63.8,108.9h.6M60.1,106.5h.6M64.0,104.6h.6M64.4,107.1h.6M68.0,101.9h.6M67.7,105.9h.6M68.1,105.6h.6M66.4,106.7h.6M69.4,98.3h.6M76.0,94.1h.6M66.3,105.0h.6M67.2,101.1h.6M66.8,103.3h.6M69.4,97.3h.6M69.0,101.7h.6M65.5,106.7h.6M66.9,105.0h.6M69.9,104.9h.6M68.6,107.6h.6M62.0,115.1h.6M73.3,102.3h.6M68.5,103.9h.6M66.3,109.1h.6M63.0,106.8h.6M67.8,104.4h.6M66.9,101.5h.6M67.2,105.9h.6M72.1,101.3h.6M68.4,102.5h.6M65.2,105.2h.6M68.0,105.1h.6M68.9,108.4h.6M65.7,108.4h.6M66.7,104.6h.6M75.8,98.1h.6M75.1,97.0h.6M76.6,95.7h.6M79.0,94.9h.6M72.4,97.2h.6M82.2,90.7h.6M75.5,94.9h.6M77.6,95.7h.6M74.4,99.4h.6M75.0,95.3h.6M72.3,94.9h.6M75.3,93.2h.6M72.9,96.6h.6M77.0,95.3h.6M75.8,95.5h.6M78.4,95.4h.6M78.9,94.8h.6M75.7,96.0h.6M74.0,98.2h.6M73.2,98.8h.6M73.2,97.3h.6M79.6,91.4h.6M77.9,92.5h.6M70.9,103.2h.6M74.3,95.5h.6M77.5,91.2h.6M74.2,99.0h.6M74.4,98.8h.6M74.4,96.3h.6M75.3,94.7h.6M80.0,92.7h.6M76.3,95.7h.6M78.9,95.0h.6M71.4,101.8h.6M78.2,92.0h.6M75.3,95.1h.6M78.4,90.2h.6M78.7,94.5h.6M76.9,93.0h.6M72.1,95.1h.6M73.3,99.9h.6M70.9,97.2h.6M73.3,95.0h.6M76.2,93.1h.6M78.5,92.0h.6M70.3,99.6h.6M72.7,96.9h.6M78.6,90.3h.6M76.2,93.7h.6M76.1,92.1h.6M71.0,101.3h.6M78.8,89.3h.6M74.1,96.1h.6M73.5,99.5h.6M74.4,94.0h.6M76.1,97.3h.6M72.8,97.4h.6M73.0,98.4h.6M74.6,98.1h.6M71.5,97.0h.6M74.0,91.1h.6M72.8,98.9h.6M75.8,94.1h.6M74.6,97.4h.6M86.7,81.9h.6M74.5,95.6h.6M77.3,93.5h.6M78.9,95.0h.6M74.4,96.1h.6M78.7,96.0h.6M76.0,98.2h.6M76.8,88.9h.6M71.4,98.0h.6M78.1,95.2h.6M75.9,95.4h.6M82.8,88.3h.6M81.6,87.2h.6M80.4,89.3h.6M67.0,103.0h.6M74.0,97.0h.6M78.6,93.4h.6M76.5,93.0h.6M82.4,90.3h.6M75.1,94.8h.6M75.2,95.4h.6M73.3,97.8h.6M74.0,98.3h.6M73.9,98.1h.6M76.7,94.5h.6M76.3,92.7h.6M83.2,85.9h.6M77.9,92.9h.6M75.8,98.5h.6M78.8,91.4h.6M78.0,94.1h.6M81.6,90.9h.6M74.8,95.8h.6M72.1,99.7h.6M78.0,92.1h.6M77.8,93.3h.6M72.9,95.9h.6M81.5,93.8h.6M76.3,92.6h.6M72.5,99.2h.6M79.1,94.5h.6M69.5,105.4h.6M76.2,95.0h.6M76.4,93.8h.6M75.6,97.4h.6M69.8,101.3h.6M75.8,92.0h.6M76.5,97.3h.6M77.4,94.8h.6M78.0,93.2h.6M75.9,93.5h.6M76.6,97.8h.6M71.4,99.5h.6M70.9,99.3h.6M71.9,97.0h.6M75.4,93.8h.6M79.0,95.2h.6M67.1,104.1h.6M68.7,102.6h.6M77.0,94.3h.6M79.6,91.4h.6M71.4,102.8h.6M72.4,98.6h.6M75.8,93.5h.6M77.3,96.5h.6M68.5,99.8h.6M73.9,96.8h.6M69.2,97.8h.6M78.9,92.6h.6M71.8,100.5h.6M75.5,95.8h.6M71.0,99.9h.6M75.4,92.2h.6M73.1,100.0h.6M82.6,89.1h.6M74.3,94.7h.6M74.0,96.6h.6M76.7,93.7h.6M84.8,88.0h.6M67.3,102.0h.6M76.5,96.3h.6M74.2,91.6h.6M71.5,102.4h.6M79.9,95.7h.6M78.6,93.1h.6M80.1,89.7h.6M82.4,86.5h.6M86.2,84.9h.6M89.4,83.4h.6M88.2,84.3h.6M83.4,85.5h.6M88.3,83.7h.6M89.2,80.6h.6M83.2,86.8h.6M86.2,84.2h.6M84.7,86.3h.6M84.4,86.7h.6M81.7,86.3h.6M85.7,88.1h.6M83.2,89.0h.6M88.9,80.3h.6M83.9,82.7h.6M88.2,84.7h.6M83.9,83.2h.6M82.5,86.9h.6M85.6,85.3h.6M83.4,86.7h.6M82.9,88.8h.6M86.0,85.0h.6M83.8,87.6h.6M84.3,86.8h.6M83.9,85.5h.6M79.8,87.8h.6M81.0,90.6h.6M94.2,72.7h.6M82.4,88.3h.6M96.5,72.8h.6M81.6,89.9h.6M89.4,75.9h.6M82.3,90.6h.6M81.1,89.5h.6M55.7,123.6h.6M47.1,128.6h.6M61.5,115.6h.6M61.2,112.0h.6M41.5,128.5h.6M52.1,125.3h.6M55.9,117.6h.6M65.2,105.1h.6M74.3,104.4h.6M42.6,124.9h.6M64.3,102.4h.6M63.8,102.3h.6M61.0,120.5h.6M45.0,128.6h.6M54.3,119.5h.6M72.9,102.7h.6M51.0,130.6h.6M54.3,119.5h.6M64.7,103.8h.6M65.4,107.6h.6M48.4,121.2h.6M52.0,131.7h.6M62.9,117.9h.6M52.3,128.2h.6M48.9,126.3h.6M54.1,112.5h.6M59.6,112.5h.6M46.6,119.0h.6M53.2,132.1h.6M56.5,112.1h.6M58.4,105.3h.6M49.5,126.4h.6M71.0,102.9h.6M66.6,121.4h.6M59.4,136.0h.6M50.2,109.9h.6M46.0,124.7h.6M72.7,89.5h.6M53.2,121.6h.6M47.5,122.9h.6M53.7,98.5h.6M53.2,116.4h.6M52.3,119.0h.6M41.5,128.9h.6M54.9,129.3h.6M76.7,101.5h.6M56.9,128.6h.6M57.1,107.1h.6M59.0,107.3h.6M65.9,114.2h.6M61.1,100.5h.6M56.0,116.1h.6M49.3,127.2h.6M55.9,103.0h.6M47.4,114.8h.6M41.8,121.1h.6M64.7,100.4h.6M58.6,122.7h.6M71.8,112.5h.6M44.1,136.0h.6M41.4,127.1h.6M61.4,128.5h.6M61.0,121.5h.6M55.2,116.3h.6M63.2,112.4h.6M53.1,103.2h.6M62.6,111.9h.6M61.7,109.5h.6M54.3,105.8h.6M60.7,99.8h.6M73.2,107.0h.6M55.1,114.3h.6M62.0,106.9h.6M48.6,126.6h.6M44.9,123.8h.6M75.4,102.7h.6M53.0,118.7h.6M51.6,120.6h.6M48.3,130.7h.6M54.3,112.2h.6M64.1,131.7h.6M51.2,116.8h.6M49.9,118.0h.6M70.8,106.4h.6M62.1,112.9h.6M41.8,114.6h.6M63.7,109.8h.6M60.2,113.5h.6M55.9,113.7h.6M42.0,136.3h.6M66.4,107.7h.6M57.5,120.1h.6M56.5,111.4h.6M52.0,116.5h.6M52.5,115.7h.6M78.5,119.0h.6M61.3,120.8h.6M41.4,118.4h.6M52.2,113.0h.6M42.1,122.8h.6M53.7,120.1h.6M48.6,112.5h.6M61.2,124.9h.6M50.3,122.8h.6M61.2,102.8h.6M66.2,132.7h.6M64.4,102.1h.6M58.7,114.1h.6M60.4,115.8h.6M44.1,107.7h.6M50.1,123.9h.6M44.6,125.2h.6M70.1,103.2h.6M52.4,121.2h.6M57.2,98.5h.6M43.9,122.7h.6M53.1,118.4h.6M52.9,120.4h.6M52.2,109.1h.6M46.1,114.8h.6M60.5,113.7h.6M58.0,105.5h.6M42.2,109.7h.6M49.4,107.7h.6M64.9,116.8h.6M63.5,114.0h.6M60.6,114.7h.6M70.5,112.6h.6M71.8,96.6h.6M67.7,111.7h.6M61.7,112.5h.6M52.1,130.6h.6M46.9,119.6h.6M52.9,124.8h.6M51.5,125.3h.6M62.0,110.6h.6M57.1,120.5h.6M65.2,101.8h.6M45.8,121.3h.6M48.9,121.4h.6M44.8,106.1h.6M64.7,99.0h.6M44.3,110.0h.6M41.4,127.3h.6M55.6,99.8h.6M65.8,119.6h.6M58.9,121.4h.6M55.3,108.3h.6M62.3,103.7h.6M58.0,110.2h.6M55.9,117.6h.6M60.0,96.2h.6M48.4,125.2h.6M64.1,105.7h.6M57.9,118.9h.6M65.7,97.3h.6M42.7,127.8h.6M57.2,102.6h.6M70.5,109.2h.6M59.5,104.5h.6M49.5,129.1h.6M62.3,115.7h.6M41.6,114.1h.6M63.6,105.3h.6M59.1,117.1h.6M62.0,107.8h.6M48.3,115.1h.6M65.6,106.7h.6M41.5,135.9h.6M46.9,113.7h.6M50.8,116.4h.6M56.2,106.2h.6M41.7,127.8h.6M62.1,107.6h.6M41.3,125.9h.6M47.9,107.2h.6M57.4,117.4h.6M70.0,111.5h.6M49.8,110.3h.6M57.1,121.1h.6M55.7,128.4h.6M44.0,118.2h.6M63.1,107.5h.6M58.1,110.9h.6M54.5,112.2h.6M75.1,101.8h.6M58.2,118.2h.6M61.1,105.6h.6M59.4,114.4h.6M48.8,116.4h.6M54.0,115.4h.6M44.5,109.9h.6M60.7,117.3h.6M65.7,122.0h.6M62.1,106.1h.6M54.0,123.0h.6M46.4,111.0h.6M56.5,112.7h.6M58.1,119.6h.6M68.1,122.3h.6M50.7,120.9h.6M57.3,110.4h.6M61.2,127.1h.6M47.1,128.9h.6M44.7,131.4h.6M41.6,126.1h.6M70.1,102.1h.6M41.4,136.0h.6M48.0,112.4h.6M55.8,115.5h.6M61.6,117.3h.6M41.6,111.2h.6M41.7,119.8h.6M52.0,116.4h.6M62.9,121.2h.6M52.3,110.2h.6M50.5,113.9h.6M57.7,119.6h.6M51.0,127.9h.6M78.5,105.9h.6M70.7,101.2h.6M55.2,135.4h.6M57.6,116.4h.6M49.8,114.1h.6M55.6,103.6h.6M48.3,129.4h.6M50.1,114.7h.6M67.6,116.7h.6M54.1,116.9h.6M65.9,114.1h.6M68.5,108.9h.6M54.0,123.1h.6M49.3,107.7h.6M69.7,106.6h.6M67.9,102.7h.6M62.6,108.3h.6M62.5,117.5h.6M60.3,117.1h.6M62.3,120.5h.6M54.7,102.2h.6M72.5,102.4h.6M50.0,116.8h.6M73.6,98.0h.6M63.9,113.1h.6M60.1,127.7h.6M70.6,93.3h.6M58.8,98.1h.6M54.5,118.2h.6M60.0,117.0h.6M62.0,113.1h.6M57.3,117.5h.6M61.5,128.2h.6M63.2,119.7h.6M57.2,113.4h.6M49.6,111.1h.6M75.8,98.6h.6M56.0,111.9h.6M65.9,102.4h.6M50.8,116.7h.6M71.0,102.9h.6M52.9,113.5h.6M68.8,105.0h.6M58.4,121.7h.6M59.6,103.1h.6M71.3,109.6h.6M49.0,111.4h.6M64.4,104.0h.6M54.1,115.5h.6M58.6,120.9h.6M50.6,126.8h.6M71.2,109.4h.6M64.1,109.8h.6M54.9,116.2h.6M57.5,129.7h.6M51.5,111.7h.6M70.7,114.1h.6M57.9,111.2h.6M51.0,127.4h.6M52.1,114.3h.6M56.1,104.3h.6M52.0,98.3h.6M45.6,114.3h.6M58.7,120.4h.6M52.7,132.0h.6M49.4,118.8h.6M61.8,103.3h.6M67.9,101.5h.6M51.9,111.7h.6M66.1,104.7h.6M48.9,115.1h.6M51.5,120.0h.6M54.9,124.5h.6M54.0,112.6h.6M67.3,117.0h.6M41.9,134.4h.6M66.4,106.2h.6M56.8,101.3h.6M55.6,125.6h.6M56.6,116.0h.6M63.8,111.0h.6M58.5,108.9h.6M60.6,123.0h.6M46.6,113.1h.6M58.3,121.7h.6M72.2,100.1h.6M54.9,122.8h.6M64.9,117.3h.6M64.7,113.6h.6M63.1,112.3h.6M49.1,122.0h.6M76.0,106.7h.6M66.7,108.2h.6M57.8,117.3h.6M59.4,122.3h.6M51.2,114.4h.6M51.3,135.2h.6M47.2,117.7h.6M68.5,118.9h.6M61.0,107.7h.6M58.0,106.5h.6M55.3,117.1h.6M60.8,118.0h.6M70.0,118.1h.6M62.6,106.5h.6M55.4,109.1h.6M50.8,118.6h.6M62.2,103.2h.6M41.6,123.9h.6M54.3,115.3h.6M44.4,121.4h.6M55.8,120.2h.6M68.0,115.7h.6M58.1,119.9h.6M52.7,109.8h.6M62.4,129.8h.6M63.5,123.5h.6M71.2,115.4h.6M60.0,120.7h.6M49.7,112.8h.6M50.2,126.7h.6M46.4,130.1h.6M52.1,123.9h.6M50.5,130.2h.6M48.4,110.4h.6M46.4,127.3h.6M46.1,130.1h.6M57.9,108.3h.6M74.7,109.8h.6M61.7,114.5h.6M59.6,110.1h.6M64.9,102.0h.6M41.4,136.1h.6M58.9,103.0h.6M64.7,99.4h.6M65.6,112.4h.6M63.8,117.9h.6M62.6,127.5h.6M59.3,108.7h.6M77.9,92.5h.6M50.9,134.4h.6M67.0,99.1h.6M54.6,127.8h.6M53.5,110.1h.6M53.8,119.0h.6M72.1,112.9h.6M59.3,126.4h.6M48.6,130.5h.6M58.2,117.7h.6M50.7,115.4h.6M64.7,117.0h.6M41.4,133.7h.6M42.7,118.3h.6M63.8,113.2h.6M53.1,101.3h.6M42.6,125.2h.6M62.0,126.3h.6M54.8,118.9h.6M72.6,114.1h.6M61.7,113.5h.6M70.4,97.4h.6M41.4,126.8h.6M69.1,104.8h.6M67.3,104.9h.6M55.1,111.9h.6M49.9,127.2h.6M62.8,114.0h.6M51.2,117.4h.6M63.1,114.0h.6M69.2,94.1h.6M69.2,110.0h.6M55.9,117.5h.6M63.8,121.5h.6M79.0,94.4h.6M59.6,120.8h.6M60.4,109.7h.6M67.2,111.9h.6M58.1,121.6h.6M41.4,128.3h.6M51.8,107.6h.6M66.9,101.3h.6M58.2,113.7h.6M60.4,106.4h.6M59.2,105.4h.6M48.1,129.7h.6M62.5,117.6h.6M42.7,131.8h.6M51.4,119.7h.6M52.4,116.8h.6M56.7,125.1h.6M41.4,122.3h.6M69.8,94.4h.6M44.9,117.4h.6M54.9,128.5h.6M66.8,112.6h.6M61.2,112.7h.6M48.4,115.5h.6M73.4,119.8h.6M60.2,123.1h.6M52.0,120.8h.6M70.5,99.9h.6M59.9,106.9h.6M66.7,93.5h.6M60.7,108.9h.6M60.6,114.5h.6M71.7,107.2h.6M67.4,107.2h.6M55.0,129.3h.6M71.7,103.6h.6M62.6,106.9h.6M50.4,131.0h.6M60.2,128.9h.6M62.7,108.7h.6M53.0,120.3h.6M47.7,121.6h.6M68.7,99.8h.6M71.5,98.6h.6M56.5,107.2h.6M53.0,115.3h.6M55.1,134.6h.6M61.6,109.3h.6M48.8,124.1h.6M44.6,119.5h.6M65.6,125.3h.6M46.1,131.8h.6M41.7,107.1h.6M56.4,116.5h.6M59.5,129.1h.6M58.5,108.0h.6M45.2,129.6h.6M56.7,125.1h.6M54.6,129.0h.6M54.5,119.8h.6M58.0,120.1h.6M63.6,103.2h.6M58.9,130.8h.6M73.4,115.4h.6M65.3,107.7h.6M66.8,98.6h.6M52.0,117.0h.6M58.6,105.8h.6M51.9,113.0h.6M60.5,121.9h.6M64.8,104.9h.6M73.8,90.8h.6M58.5,109.3h.6M41.7,128.6h.6M57.4,136.3h.6M65.1,118.3h.6M54.5,112.2h.6M48.1,116.2h.6M59.3,108.5h.6M54.2,104.4h.6M63.3,127.6h.6M59.5,111.6h.6M67.7,106.4h.6M63.8,97.3h.6M58.3,104.1h.6M73.8,120.0h.6M65.2,98.6h.6M62.6,113.6h.6M52.7,122.2h.6M53.3,128.2h.6M63.6,106.8h.6M73.5,119.6h.6M47.3,108.4h.6M57.7,110.4h.6M55.2,125.5h.6M67.7,109.3h.6M67.0,98.7h.6M55.8,120.4h.6M41.4,126.0h.6M55.8,116.8h.6M50.6,123.9h.6M62.8,103.1h.6M61.0,109.3h.6M56.5,116.6h.6M71.6,104.1h.6M63.4,109.6h.6M44.4,136.3h.6M55.6,112.1h.6M52.0,134.5h.6M78.8,106.5h.6M45.3,132.9h.6M47.1,124.2h.6M50.2,116.7h.6M48.9,119.5h.6M70.7,115.5h.6M64.3,107.2h.6M54.9,115.2h.6M54.1,112.6h.6M59.7,120.3h.6M51.6,113.5h.6M56.6,116.5h.6M55.3,114.6h.6M62.4,109.0h.6M51.8,126.0h.6M55.1,124.4h.6M65.8,110.3h.6M53.3,106.7h.6M56.1,117.3h.6M56.9,104.9h.6M48.8,109.7h.6M58.9,113.9h.6M65.7,121.2h.6M62.0,108.1h.6M50.5,118.0h.6M67.5,112.5h.6M52.6,118.8h.6M56.9,121.7h.6M55.2,110.4h.6M56.2,128.1h.6M42.2,119.0h.6M71.0,95.1h.6M66.6,109.9h.6M69.1,112.5h.6M53.3,118.8h.6M67.6,108.8h.6M47.7,118.1h.6M46.8,128.4h.6M45.8,112.8h.6M54.2,121.0h.6M57.6,112.3h.6M61.4,116.2h.6M43.8,121.7h.6M68.3,109.6h.6M42.6,123.9h.6M72.2,105.6h.6M60.6,120.4h.6M74.6,109.0h.6M41.4,121.4h.6M55.1,113.9h.6M65.9,119.5h.6M70.3,110.2h.6M64.8,122.3h.6M61.8,112.3h.6M48.4,107.2h.6M73.8,96.9h.6M74.7,117.4h.6M50.2,111.6h.6M66.2,107.6h.6M54.2,127.2h.6M52.8,110.8h.6M41.4,131.9h.6M53.2,127.9h.6M76.4,97.2h.6M58.6,112.6h.6M64.3,107.5h.6M72.0,111.9h.6M59.7,103.4h.6M61.3,108.0h.6M64.1,116.2h.6M52.8,121.4h.6M65.2,98.6h.6M58.9,119.6h.6M59.9,121.2h.6M42.2,117.3h.6M59.6,111.0h.6M64.1,116.2h.6M64.1,104.3h.6M45.3,110.0h.6M50.4,124.3h.6M52.2,106.7h.6M63.3,107.9h.6M64.5,103.8h.6M60.0,101.8h.6M41.5,127.5h.6M51.4,103.4h.6M61.4,116.8h.6M73.9,104.4h.6M53.7,103.9h.6M50.8,103.3h.6M53.1,115.9h.6M44.8,118.7h.6M58.8,118.8h.6M53.5,121.8h.6M62.5,109.0h.6M70.5,97.7h.6M42.5,112.8h.6M68.6,109.1h.6M57.1,118.0h.6M57.4,114.1h.6M59.8,103.9h.6M58.4,86.3h.6M41.7,108.9h.6M69.0,109.8h.6M101.4,88.7h.6M63.6,114.4h.6M45.8,91.1h.6M70.1,131.4h.6M83.8,114.6h.6M41.6,110.1h.6M41.4,100.4h.6M74.4,73.6h.6M75.7,100.0h.6M54.6,68.0h.6M41.5,91.8h.6M68.9,112.1h.6M41.7,103.5h.6M41.5,109.9h.6M71.5,101.8h.6M41.7,83.6h.6M58.0,118.8h.6M67.7,113.6h.6M51.8,103.4h.6M52.3,113.8h.6M47.8,116.8h.6M94.6,81.6h.6M56.6,108.3h.6M99.0,117.5h.6M62.2,73.8h.6M78.7,91.1h.6M64.6,106.2h.6M41.6,116.2h.6M72.0,109.7h.6M67.5,78.1h.6M49.5,113.2h.6M53.2,100.6h.6M67.8,101.6h.6M65.4,107.9h.6M60.1,82.8h.6M54.5,115.4h.6M46.0,107.7h.6M66.4,86.3h.6M41.5,100.0h.6M46.7,114.2h.6M43.6,105.3h.6M62.9,103.1h.6M103.6,70.2h.6M81.3,97.9h.6M54.3,89.9h.6M61.2,100.7h.6M41.5,124.8h.6M57.2,80.2h.6M63.2,105.9h.6M82.6,115.7h.6M49.7,125.6h.6M57.8,124.8h.6M95.6,93.9h.6M41.7,108.8h.6M69.0,116.6h.6M73.2,113.4h.6M89.1,95.6h.6M41.5,98.2h.6M41.5,97.6h.6M41.5,77.2h.6M41.6,94.0h.6M88.1,117.9h.6M67.5,108.7h.6M41.4,109.0h.6M41.4,102.8h.6M57.6,112.7h.6M78.3,101.0h.6M54.9,81.6h.6M83.7,91.2h.6M66.6,124.4h.6M76.1,80.2h.6M58.2,89.0h.6M41.5,87.6h.6M67.6,96.9h.6M64.1,82.5h.6M43.6,97.5h.6M77.5,95.2h.6M56.7,105.1h.6M92.1,81.0h.6M71.8,102.8h.6M58.7,103.7h.6M41.4,100.5h.6M41.3,113.5h.6M52.8,111.5h.6M41.5,89.2h.6M78.1,132.0h.6M50.6,77.3h.6M41.3,81.3h.6M55.1,89.9h.6M41.4,89.5h.6M84.6,110.0h.6M88.4,113.1h.6M75.8,118.7h.6M69.4,124.5h.6M83.5,128.8h.6M64.5,88.0h.6M112.1,95.8h.6M70.8,94.2h.6M45.6,107.0h.6M41.7,97.7h.6M62.9,112.4h.6M74.1,105.8h.6M62.5,109.2h.6M41.6,108.8h.6M44.4,90.9h.6M41.4,69.1h.6M71.1,110.0h.6M108.1,102.7h.6M76.4,88.8h.6M75.6,82.8h.6M103.0,85.5h.6M51.3,111.3h.6M41.6,120.2h.6M64.1,115.6h.6M63.2,114.9h.6M49.6,109.5h.6M41.5,124.0h.6M41.4,100.3h.6M97.0,89.4h.6M59.7,94.6h.6M41.5,80.3h.6M74.7,88.3h.6M64.7,107.2h.6M67.9,97.5h.6M61.0,104.5h.6M41.5,97.8h.6M48.0,119.8h.6M54.9,83.4h.6M53.7,79.6h.6M73.4,76.0h.6M60.5,96.5h.6M53.5,106.4h.6M66.4,91.6h.6M77.9,93.2h.6M79.6,120.2h.6" stroke="#747474" stroke-width="0.6" fill="none" opacity="0.75"/>
<rect x="41" y="27.0" width="117.80000000000001" height="109.6" fill="none" stroke="#2a2a2a" stroke-width="1.0"/>
<line x1="70.4" y1="27.0" x2="70.4" y2="136.6" stroke="#2a2a2a" stroke-width="0.9"/>
<line x1="41" y1="94.2" x2="158.8" y2="94.2" stroke="#2a2a2a" stroke-width="0.9"/>
<path d="M41.00,136.6v-1.8M41,136.60h1.8M49.87,136.6v-1.0M41,128.35h1.0M55.05,136.6v-1.0M41,123.53h1.0M58.73,136.6v-1.0M41,120.10h1.0M61.58,136.6v-1.0M41,117.45h1.0M63.92,136.6v-1.0M41,115.28h1.0M65.89,136.6v-1.0M41,113.44h1.0M67.60,136.6v-1.0M41,111.86h1.0M69.10,136.6v-1.0M41,110.45h1.0M70.45,136.6v-1.8M41,109.20h1.8M79.32,136.6v-1.0M41,100.95h1.0M84.50,136.6v-1.0M41,96.13h1.0M88.18,136.6v-1.0M41,92.70h1.0M91.03,136.6v-1.0M41,90.05h1.0M93.37,136.6v-1.0M41,87.88h1.0M95.34,136.6v-1.0M41,86.04h1.0M97.05,136.6v-1.0M41,84.46h1.0M98.55,136.6v-1.0M41,83.05h1.0M99.90,136.6v-1.8M41,81.80h1.8M108.77,136.6v-1.0M41,73.55h1.0M113.95,136.6v-1.0M41,68.73h1.0M117.63,136.6v-1.0M41,65.30h1.0M120.48,136.6v-1.0M41,62.65h1.0M122.82,136.6v-1.0M41,60.48h1.0M124.79,136.6v-1.0M41,58.64h1.0M126.50,136.6v-1.0M41,57.06h1.0M128.00,136.6v-1.0M41,55.65h1.0M129.35,136.6v-1.8M41,54.40h1.8M138.22,136.6v-1.0M41,46.15h1.0M143.40,136.6v-1.0M41,41.33h1.0M147.08,136.6v-1.0M41,37.90h1.0M149.93,136.6v-1.0M41,35.25h1.0M152.27,136.6v-1.0M41,33.08h1.0M154.24,136.6v-1.0M41,31.24h1.0M155.95,136.6v-1.0M41,29.66h1.0M157.45,136.6v-1.0M41,28.25h1.0" stroke="#111" stroke-width="0.6" fill="none"/>
<text class="sr" x="37.6" y="145.1" font-size="5.2" fill="#000" stroke="#000" stroke-width="0.12">10<tspan dy="-2.7" font-size="4.7" font-weight="bold">0</tspan></text>
<text class="sr" x="37.8" y="140.6" font-size="5.2" fill="#000" stroke="#000" stroke-width="0.12" transform="rotate(-90 37.8 140.6)">10<tspan dy="-2.7" font-size="4.7" font-weight="bold">0</tspan></text>
<text class="sr" x="67.9" y="145.1" font-size="5.2" fill="#000" stroke="#000" stroke-width="0.12">10<tspan dy="-2.7" font-size="4.7" font-weight="bold">1</tspan></text>
<text class="sr" x="37.8" y="113.2" font-size="5.2" fill="#000" stroke="#000" stroke-width="0.12" transform="rotate(-90 37.8 113.2)">10<tspan dy="-2.7" font-size="4.7" font-weight="bold">1</tspan></text>
<text class="sr" x="97.3" y="145.1" font-size="5.2" fill="#000" stroke="#000" stroke-width="0.12">10<tspan dy="-2.7" font-size="4.7" font-weight="bold">2</tspan></text>
<text class="sr" x="37.8" y="85.8" font-size="5.2" fill="#000" stroke="#000" stroke-width="0.12" transform="rotate(-90 37.8 85.8)">10<tspan dy="-2.7" font-size="4.7" font-weight="bold">2</tspan></text>
<text class="sr" x="126.8" y="145.1" font-size="5.2" fill="#000" stroke="#000" stroke-width="0.12">10<tspan dy="-2.7" font-size="4.7" font-weight="bold">3</tspan></text>
<text class="sr" x="37.8" y="58.4" font-size="5.2" fill="#000" stroke="#000" stroke-width="0.12" transform="rotate(-90 37.8 58.4)">10<tspan dy="-2.7" font-size="4.7" font-weight="bold">3</tspan></text>
<text class="sr" x="156.2" y="145.1" font-size="5.2" fill="#000" stroke="#000" stroke-width="0.12">10<tspan dy="-2.7" font-size="4.7" font-weight="bold">4</tspan></text>
<text class="sr" x="37.8" y="31.0" font-size="5.2" fill="#000" stroke="#000" stroke-width="0.12" transform="rotate(-90 37.8 31.0)">10<tspan dy="-2.7" font-size="4.7" font-weight="bold">4</tspan></text>
<text class="sr" x="100" y="151.4" font-size="5" fill="#000" stroke="#000" stroke-width="0.1" text-anchor="middle">FL1-H</text>
<text class="sr" x="29.5" y="82" font-size="5" fill="#000" stroke="#000" stroke-width="0.1" text-anchor="middle" transform="rotate(-90 29.5 82)">FL2-H</text>
<text class="sf" x="89.6" y="20.2" font-size="12.3" text-anchor="middle" fill="#111">Rat IgG</text>
<text class="sf" x="106.4" y="58.3" font-size="11.0" text-anchor="start" fill="#111">2.78%</text>
<clipPath id="cp11"><rect x="195" y="29" width="119" height="110"/></clipPath>
<g clip-path="url(#cp11)">
<ellipse cx="205.3" cy="69.9" rx="6.8" ry="2.8" fill="#848484" opacity="0.9" filter="url(#blr)" transform="rotate(-14 205.3 69.9)"/>
<path d="M-17.0,-0.4 C-16.3,-1.3 -14.8,-4.8 -13.0,-6.0 C-11.2,-7.2 -8.5,-7.5 -6.0,-7.6 C-3.5,-7.7 -0.3,-7.0 2.0,-6.4 C4.3,-5.8 6.2,-4.6 8.0,-3.8 C9.8,-3.0 11.5,-2.3 13.0,-1.8 C14.5,-1.3 16.0,-0.9 17.0,-0.6 C18.0,-0.3 18.7,-0.3 19.0,-0.2 C19.3,-0.1 19.3,0.1 19.0,0.2 C18.7,0.3 18.0,0.3 17.0,0.6 C16.0,0.9 14.5,1.3 13.0,1.8 C11.5,2.3 9.8,3.0 8.0,3.8 C6.2,4.6 4.3,5.8 2.0,6.4 C-0.3,7.0 -3.5,7.7 -6.0,7.6 C-8.5,7.5 -11.2,7.2 -13.0,6.0 C-14.8,4.8 -16.3,1.5 -17.0,0.4 C-17.7,-0.7 -17.0,-0.3 -17.0,-0.4Z" fill="#848484" opacity="0.94" filter="url(#blr)" transform="translate(205.5 124.5) rotate(-52)"/>
</g>
<path d="M201.0,71.6h.6M208.7,68.0h.6M200.4,70.9h.6M207.5,71.3h.6M200.3,68.7h.6M208.1,70.0h.6M211.4,70.1h.6M204.8,69.4h.6M214.7,66.9h.6M201.9,68.5h.6M205.7,70.0h.6M204.0,70.0h.6M206.6,70.8h.6M209.4,69.2h.6M199.0,72.7h.6M200.0,70.8h.6M199.9,71.2h.6M202.5,70.9h.6M217.4,66.7h.6M207.8,66.7h.6M204.5,71.2h.6M205.1,70.5h.6M205.2,67.9h.6M207.0,67.9h.6M212.0,67.2h.6M207.8,69.2h.6M208.5,67.9h.6M208.9,68.7h.6M210.2,69.7h.6M205.5,68.3h.6M208.3,69.9h.6M211.2,67.6h.6M207.6,70.2h.6M206.4,69.9h.6M205.7,68.6h.6M201.4,70.0h.6M208.1,71.9h.6M209.4,70.7h.6M208.5,70.3h.6M206.3,71.0h.6M211.7,67.6h.6M203.6,73.9h.6M206.6,71.3h.6M208.0,67.0h.6M215.0,70.7h.6M206.3,71.0h.6M205.4,68.1h.6M205.0,70.6h.6M209.7,70.0h.6M206.1,72.1h.6M202.8,71.9h.6M209.3,68.3h.6M198.3,69.9h.6M206.4,70.5h.6M210.6,66.6h.6M205.6,70.9h.6M203.7,65.8h.6M209.3,73.1h.6M208.6,67.3h.6M203.9,70.6h.6M214.7,68.6h.6M206.4,72.4h.6M205.8,73.1h.6M202.6,69.6h.6M208.6,71.6h.6M207.8,69.7h.6M198.3,70.2h.6M202.8,69.4h.6M207.3,68.7h.6M208.2,69.2h.6M204.1,70.3h.6M207.3,70.9h.6M203.4,69.8h.6M201.0,73.9h.6M210.6,68.2h.6M203.0,68.1h.6M206.0,70.0h.6M213.5,68.2h.6M201.4,66.2h.6M210.6,68.8h.6M199.4,71.6h.6M200.9,77.4h.6M209.7,69.8h.6M203.7,66.2h.6M204.2,67.2h.6M206.6,65.5h.6M202.5,72.8h.6M210.8,66.2h.6M200.0,72.7h.6M208.0,67.3h.6M202.4,69.2h.6M200.6,69.7h.6M210.2,69.9h.6M212.8,67.8h.6M204.4,68.2h.6M204.3,67.6h.6M199.1,72.7h.6M211.0,69.9h.6M210.3,69.0h.6M202.7,70.6h.6M203.4,68.2h.6M198.4,68.8h.6M205.3,70.1h.6M204.2,72.7h.6M206.2,70.7h.6M209.4,67.2h.6M198.4,72.9h.6M203.3,72.7h.6M207.0,71.2h.6M207.2,65.5h.6M207.7,68.0h.6M202.3,69.7h.6M208.5,70.6h.6M208.3,66.0h.6M202.1,66.2h.6M205.2,70.9h.6M202.6,70.9h.6M206.6,71.3h.6M201.9,69.1h.6M203.2,73.6h.6M209.3,68.6h.6M206.2,69.8h.6M206.0,69.2h.6M203.5,67.9h.6M203.7,73.3h.6M207.3,69.4h.6M204.5,70.1h.6M206.3,68.3h.6M206.1,70.0h.6M202.2,69.1h.6M201.2,68.9h.6M207.6,64.9h.6M204.1,69.0h.6M203.1,70.5h.6M209.5,68.9h.6M204.5,68.9h.6M205.2,71.5h.6M203.3,68.2h.6M200.2,69.0h.6M200.7,73.0h.6M206.5,69.1h.6M210.4,67.3h.6M208.4,70.5h.6M198.9,68.5h.6M202.3,72.2h.6M209.5,66.5h.6M209.0,68.2h.6M203.6,69.2h.6M203.3,66.9h.6M201.1,68.6h.6M208.0,73.0h.6M215.2,66.7h.6M198.8,70.7h.6M202.7,74.1h.6M207.1,68.0h.6M209.0,69.9h.6M199.1,70.4h.6M204.4,70.1h.6M205.6,69.1h.6M205.7,68.6h.6M202.7,73.3h.6M206.8,70.2h.6M199.3,71.0h.6M207.8,66.8h.6M209.2,68.1h.6M206.7,69.2h.6M206.6,71.7h.6M204.5,72.9h.6M202.0,68.9h.6M207.5,67.3h.6M204.3,71.7h.6M209.0,65.6h.6M208.0,72.6h.6M209.6,68.3h.6M203.0,69.8h.6M200.9,70.4h.6M204.5,69.7h.6M209.6,68.3h.6M200.4,73.0h.6M201.1,70.0h.6M204.7,69.3h.6M201.5,70.3h.6M213.1,66.7h.6M205.3,71.9h.6M208.4,70.4h.6M207.6,65.6h.6M202.2,70.8h.6M207.7,71.6h.6M206.9,69.0h.6M205.4,69.4h.6M206.5,70.8h.6M203.7,68.7h.6M202.6,72.5h.6M210.5,70.4h.6M208.8,70.5h.6M205.6,71.0h.6M201.3,70.4h.6M202.9,71.7h.6M203.1,70.1h.6M207.4,71.8h.6M202.0,68.9h.6M207.8,67.1h.6M206.7,68.4h.6M204.1,66.7h.6M207.7,68.3h.6M202.9,74.3h.6M209.5,75.3h.6M206.7,68.8h.6M206.4,72.5h.6M205.4,70.6h.6M206.8,67.7h.6M205.6,68.8h.6M201.1,72.5h.6M207.8,69.3h.6M201.1,67.1h.6M207.0,69.2h.6M199.1,71.2h.6M199.7,71.2h.6M206.0,70.3h.6M206.2,69.9h.6M200.9,70.2h.6M203.3,69.9h.6M206.6,70.6h.6M210.2,63.8h.6M206.7,69.1h.6M214.1,69.3h.6M199.4,72.0h.6M203.8,72.0h.6M201.4,70.6h.6M204.8,69.8h.6M202.3,67.1h.6M207.4,71.1h.6M204.6,68.1h.6M206.3,70.6h.6M204.6,69.9h.6M210.0,66.6h.6M202.4,67.0h.6M202.4,69.2h.6M201.5,69.5h.6M211.8,67.8h.6M205.8,73.7h.6M204.3,66.8h.6M206.4,67.8h.6M210.8,66.1h.6M202.5,67.5h.6M205.2,67.9h.6M204.9,69.2h.6M203.5,72.0h.6M208.8,69.0h.6M201.5,68.8h.6M207.3,73.7h.6M203.3,68.8h.6M202.3,68.5h.6M201.6,70.3h.6M210.6,68.5h.6M202.7,67.4h.6M206.1,69.6h.6M200.3,69.0h.6M205.6,71.6h.6M207.7,69.6h.6M204.2,70.7h.6M206.2,73.6h.6M201.0,70.2h.6M209.9,68.2h.6M210.5,68.4h.6M205.7,69.0h.6M199.8,69.4h.6M213.7,68.9h.6M207.9,70.9h.6M207.8,71.1h.6M204.2,69.7h.6M208.8,68.3h.6M200.3,70.6h.6M203.6,71.4h.6M202.2,68.6h.6M204.8,72.8h.6M205.2,70.1h.6M205.5,70.3h.6M209.3,71.4h.6M199.8,73.7h.6M205.1,69.2h.6M214.1,67.3h.6M212.9,69.7h.6M201.7,71.6h.6M208.0,68.9h.6M196.6,71.3h.6M204.1,68.0h.6M211.9,67.7h.6M203.7,69.6h.6M202.1,69.2h.6M205.8,70.3h.6M203.4,70.1h.6M200.4,72.0h.6M202.6,70.9h.6M201.7,69.7h.6M205.6,67.5h.6M214.4,67.5h.6M204.7,68.6h.6M211.8,70.8h.6M205.8,67.1h.6M203.7,71.3h.6M202.9,68.2h.6M200.6,69.5h.6M205.1,68.7h.6M206.6,74.7h.6M211.4,66.4h.6M206.6,69.6h.6M205.2,71.7h.6M203.9,69.5h.6M203.9,70.0h.6M210.4,70.0h.6M200.2,70.3h.6M202.7,72.0h.6M206.5,71.1h.6M204.2,66.5h.6M207.1,69.8h.6M206.6,67.1h.6M205.3,68.5h.6M202.9,71.0h.6M206.2,67.9h.6M197.9,67.1h.6M203.7,72.3h.6M204.1,65.9h.6M202.3,71.3h.6M212.0,70.3h.6M206.7,69.8h.6M201.2,70.0h.6M203.7,68.8h.6M205.4,69.1h.6M207.2,72.0h.6M208.2,69.8h.6M203.8,67.4h.6M205.1,70.9h.6M202.1,72.9h.6M204.2,70.8h.6M203.5,67.9h.6M212.4,65.9h.6M208.4,68.0h.6M206.0,68.1h.6M204.2,71.8h.6M212.1,66.5h.6M205.7,71.4h.6M203.3,71.6h.6M202.7,71.6h.6M207.4,71.5h.6M206.1,67.4h.6M207.3,67.3h.6M208.7,71.7h.6M207.3,68.3h.6M209.8,69.0h.6M200.6,70.3h.6M210.4,68.0h.6M205.6,69.1h.6M198.9,70.5h.6M206.7,69.8h.6M203.7,66.2h.6M210.1,69.9h.6M209.6,71.1h.6M203.4,69.2h.6M207.2,72.4h.6M199.0,70.9h.6M202.9,71.4h.6M210.6,67.9h.6M200.7,71.0h.6M203.6,67.4h.6M208.3,68.1h.6M207.2,66.9h.6M208.7,66.3h.6M208.4,65.7h.6M210.2,67.9h.6M199.5,70.8h.6M206.1,67.8h.6M203.6,70.7h.6M203.3,64.6h.6M203.9,70.9h.6M206.8,71.3h.6M203.9,74.9h.6M208.4,69.6h.6M209.7,70.5h.6M205.4,68.6h.6M209.3,69.6h.6M197.8,69.6h.6M207.1,69.6h.6M206.6,70.7h.6M206.5,72.4h.6M203.0,69.6h.6M206.8,70.8h.6M208.9,71.7h.6M204.1,72.3h.6M206.6,67.5h.6M205.7,73.6h.6M208.0,68.3h.6M196.1,70.7h.6M202.7,70.6h.6M214.1,69.0h.6M206.0,67.9h.6M200.8,70.5h.6M204.9,75.5h.6M203.5,69.1h.6M209.5,68.9h.6M201.3,73.2h.6M203.6,67.8h.6M206.7,70.4h.6M204.4,71.3h.6M207.9,67.5h.6M196.7,67.5h.6M205.4,72.1h.6M209.6,71.3h.6M212.2,68.1h.6M208.5,66.2h.6M208.0,69.9h.6M204.8,69.1h.6M201.2,71.1h.6M209.9,68.0h.6M207.0,68.2h.6M205.8,67.8h.6M206.6,69.1h.6M206.2,68.5h.6M200.8,70.3h.6M209.8,71.6h.6M204.5,71.5h.6M208.3,69.8h.6M199.7,71.8h.6M202.2,72.7h.6M208.5,70.2h.6M196.2,73.2h.6M207.3,66.9h.6M208.9,69.0h.6M204.3,68.7h.6M201.4,70.0h.6M216.8,67.3h.6M205.8,68.5h.6M202.8,69.4h.6M202.4,72.1h.6M204.7,71.6h.6M201.4,72.5h.6M205.5,71.0h.6M204.5,68.3h.6M209.6,67.9h.6M204.4,68.4h.6M205.9,68.9h.6M206.5,70.1h.6M202.1,68.0h.6M207.3,71.0h.6M207.4,67.2h.6M207.7,69.9h.6M206.5,70.3h.6M204.2,70.5h.6M208.5,68.1h.6M199.9,70.9h.6M205.2,66.4h.6M203.1,71.5h.6M204.8,70.1h.6M201.1,72.5h.6M211.7,67.8h.6M202.1,68.5h.6M208.6,69.2h.6M202.9,72.6h.6M208.4,70.2h.6M198.8,71.2h.6M207.1,67.1h.6M209.3,71.4h.6M208.8,67.6h.6M203.1,72.1h.6M209.5,71.0h.6M209.7,68.5h.6M203.0,66.9h.6M209.2,73.1h.6M203.4,69.4h.6M207.9,69.9h.6M199.9,69.8h.6M202.1,74.3h.6M203.0,72.0h.6M213.2,71.3h.6M211.3,71.3h.6M200.6,70.3h.6M202.5,70.0h.6M214.2,64.5h.6M206.8,67.1h.6M210.8,70.8h.6M204.3,73.9h.6M206.1,72.0h.6M206.2,68.5h.6M203.8,69.9h.6M207.6,69.5h.6M213.9,67.3h.6M203.3,69.0h.6M201.8,68.0h.6M202.1,72.3h.6M205.4,69.4h.6M207.1,71.3h.6M207.9,70.6h.6M203.1,69.9h.6M202.4,70.3h.6M202.1,69.9h.6M204.6,69.6h.6M204.1,69.2h.6M210.0,68.0h.6M201.7,71.1h.6M200.8,68.9h.6M204.9,66.8h.6M195.6,73.3h.6M198.7,69.8h.6M206.6,65.8h.6M201.6,68.5h.6M203.7,66.5h.6M208.5,68.7h.6M206.3,68.9h.6M197.4,71.5h.6M200.4,71.1h.6M202.0,70.0h.6M204.9,71.3h.6M207.7,67.3h.6M205.9,72.4h.6M206.8,68.1h.6M204.7,69.3h.6M208.8,69.0h.6M207.6,73.3h.6M199.8,69.3h.6M198.2,68.6h.6M208.6,69.5h.6M210.5,64.9h.6M202.7,73.1h.6M209.5,70.4h.6M208.5,69.1h.6M205.3,69.9h.6M208.3,68.7h.6M207.1,72.0h.6M200.8,69.5h.6M207.3,68.8h.6M205.6,73.6h.6M206.7,68.7h.6M210.4,73.2h.6M200.9,69.6h.6M205.5,68.6h.6M213.5,68.7h.6M204.0,71.0h.6M202.1,69.5h.6M206.7,73.9h.6M197.2,72.6h.6M210.6,69.9h.6M212.6,68.8h.6M205.8,69.4h.6M202.9,73.4h.6M200.9,70.7h.6M203.0,68.9h.6M196.9,71.2h.6M205.9,69.9h.6M208.3,68.7h.6M203.1,70.9h.6M207.4,67.6h.6M199.3,69.4h.6M209.6,70.6h.6M202.1,70.8h.6M209.0,71.3h.6M202.8,70.0h.6M211.5,72.7h.6M210.4,66.4h.6M206.8,68.9h.6M204.8,68.7h.6M203.5,70.2h.6M212.3,69.4h.6M206.9,69.5h.6M202.4,70.1h.6M210.2,70.1h.6M212.7,68.4h.6M204.5,67.0h.6M206.0,66.4h.6M210.6,67.3h.6M204.7,67.4h.6M203.1,68.6h.6M209.6,69.2h.6M200.1,67.5h.6M204.8,69.0h.6M201.5,71.9h.6M204.7,70.2h.6M202.9,69.3h.6M202.9,67.4h.6M207.8,69.9h.6M199.0,71.6h.6M209.7,69.2h.6M210.0,68.1h.6M204.7,67.5h.6M201.2,67.4h.6M202.1,71.0h.6M207.7,71.4h.6M205.4,68.0h.6M206.8,69.1h.6M212.7,71.6h.6M208.3,66.9h.6M203.4,70.6h.6M202.9,71.4h.6M208.2,70.6h.6M205.8,68.0h.6M202.1,70.4h.6M210.9,71.3h.6M209.1,69.5h.6M208.1,70.6h.6M210.4,70.1h.6M200.1,72.9h.6M206.5,68.6h.6M207.4,69.8h.6M204.4,66.9h.6M206.0,70.7h.6M204.4,67.1h.6M207.3,70.6h.6M206.2,70.4h.6M203.7,69.0h.6M207.1,68.7h.6M207.4,75.3h.6M208.0,69.4h.6M199.4,71.5h.6M207.8,67.9h.6M203.4,66.1h.6M207.1,68.2h.6M208.4,71.6h.6M205.1,71.7h.6M206.1,69.2h.6M203.9,68.6h.6M210.4,70.2h.6M202.0,72.2h.6M202.0,67.8h.6M209.2,66.5h.6M209.8,69.1h.6M208.8,69.9h.6M209.7,69.3h.6M207.5,69.7h.6M209.2,68.1h.6M209.7,71.5h.6M205.3,70.6h.6M203.3,69.8h.6M206.1,69.0h.6M202.0,70.6h.6M206.1,70.2h.6M207.1,66.0h.6M210.4,68.2h.6M202.3,69.9h.6M207.3,70.9h.6M204.0,70.4h.6M199.5,71.6h.6M204.7,69.2h.6M209.3,72.1h.6M208.8,67.5h.6M210.8,67.8h.6M204.9,68.8h.6M207.2,70.3h.6M205.7,69.3h.6M204.6,69.2h.6M208.7,68.0h.6M204.7,69.6h.6M202.4,70.1h.6M200.1,71.9h.6M207.2,68.8h.6M210.7,66.9h.6M207.6,70.1h.6M203.2,69.9h.6M208.6,69.1h.6M206.9,72.0h.6M205.4,66.7h.6M203.0,71.9h.6M204.4,68.0h.6M198.2,72.2h.6M210.3,66.2h.6M197.6,72.6h.6M203.2,69.8h.6M203.7,68.5h.6M207.3,71.0h.6M206.4,68.5h.6M209.1,68.7h.6M207.0,67.6h.6M208.0,70.5h.6M210.0,68.7h.6M206.7,68.4h.6M208.9,70.3h.6M209.1,68.1h.6M200.8,70.8h.6M204.2,68.7h.6M207.9,70.9h.6M207.2,71.4h.6M206.3,67.8h.6M203.0,69.7h.6M208.2,70.8h.6M206.2,71.4h.6M202.3,70.4h.6M211.0,69.2h.6M208.3,65.6h.6M198.9,69.8h.6M209.7,71.7h.6M202.6,68.7h.6M201.2,69.2h.6M207.2,68.8h.6M212.5,69.3h.6M202.9,70.8h.6M205.1,71.3h.6M208.5,68.4h.6M208.8,70.0h.6M205.1,70.3h.6M207.6,68.6h.6M203.4,72.6h.6M205.1,68.8h.6M206.4,66.9h.6M204.9,67.4h.6M203.0,67.1h.6M203.1,72.0h.6M204.1,67.9h.6M211.3,67.2h.6M210.5,67.6h.6M200.8,74.3h.6M204.1,71.5h.6M209.1,66.5h.6M205.3,68.8h.6M207.5,69.2h.6M200.8,71.0h.6M208.0,68.6h.6M207.1,68.4h.6M205.3,70.4h.6M206.4,71.9h.6M209.1,70.4h.6M208.0,69.4h.6M201.6,72.7h.6M211.7,68.6h.6M204.4,70.0h.6M209.8,69.2h.6M201.7,70.4h.6M202.5,70.2h.6M201.7,69.1h.6M211.1,70.3h.6M199.1,69.6h.6M203.6,69.5h.6M200.7,72.6h.6M199.8,72.4h.6M207.7,68.6h.6M203.0,70.5h.6M205.0,66.1h.6M201.0,71.8h.6M204.8,69.2h.6M201.5,69.5h.6M203.8,75.3h.6M201.5,73.6h.6M207.1,69.7h.6M205.9,69.0h.6M211.3,69.2h.6M205.2,69.6h.6M205.6,67.7h.6M203.9,69.0h.6M207.8,70.3h.6M198.5,71.1h.6M208.3,66.7h.6M201.5,72.6h.6M204.7,69.2h.6M201.0,71.2h.6M203.4,70.7h.6M207.2,70.6h.6M203.9,69.2h.6M205.4,69.6h.6M205.7,68.7h.6M204.2,69.0h.6M203.3,70.6h.6M209.3,67.9h.6M207.6,69.9h.6M206.0,70.9h.6M203.6,71.3h.6M204.9,63.6h.6M206.9,70.5h.6M211.9,66.2h.6M205.8,70.3h.6M202.3,72.7h.6M206.6,68.0h.6M200.8,70.2h.6M214.8,71.4h.6M195.6,68.9h.6M207.7,69.0h.6M203.3,71.4h.6M205.8,70.2h.6M205.8,67.7h.6M209.9,67.8h.6M209.7,70.0h.6M205.5,70.0h.6M204.4,66.7h.6M204.3,70.8h.6M198.9,68.7h.6M209.6,70.2h.6M199.9,72.0h.6M205.6,71.5h.6M204.1,69.7h.6M202.7,70.8h.6M204.6,68.8h.6M203.8,68.8h.6M207.1,67.5h.6M199.3,69.6h.6M209.0,68.0h.6M208.0,70.5h.6M203.8,71.6h.6M207.1,69.3h.6M202.7,70.3h.6M200.6,70.5h.6M203.4,71.1h.6M206.3,68.4h.6M209.0,71.1h.6M205.2,68.5h.6M206.1,65.1h.6M203.4,71.3h.6M212.3,66.7h.6M211.9,72.4h.6M211.2,64.0h.6M209.4,69.1h.6M208.9,68.6h.6M203.0,70.0h.6M211.1,69.9h.6M204.4,70.7h.6M208.7,70.0h.6M204.9,68.7h.6M202.4,69.7h.6M202.6,67.6h.6M200.5,72.6h.6M200.7,68.6h.6M205.8,72.3h.6M209.7,67.9h.6M201.3,69.8h.6M201.7,69.7h.6M206.6,67.5h.6M202.3,70.1h.6M204.9,68.5h.6M201.9,68.6h.6M202.8,71.4h.6M203.1,64.6h.6M207.5,69.1h.6M202.0,70.2h.6M195.6,69.7h.6M214.1,71.6h.6M202.6,70.5h.6M207.6,67.0h.6M211.4,66.9h.6M206.1,67.5h.6M206.6,69.4h.6M208.8,66.8h.6M206.1,73.0h.6M201.1,71.5h.6M206.7,68.5h.6M204.9,72.5h.6M209.7,69.7h.6M205.8,67.6h.6M206.4,72.8h.6M208.6,66.5h.6M197.4,70.5h.6M205.7,68.7h.6M204.3,70.7h.6M208.7,69.3h.6M209.3,66.2h.6M207.2,70.1h.6M200.4,73.4h.6M198.8,68.7h.6M215.7,69.6h.6M207.3,71.8h.6M209.1,66.8h.6M207.7,71.8h.6M204.7,70.1h.6M203.9,71.5h.6M203.0,69.3h.6M200.4,69.3h.6M206.3,70.4h.6M203.4,68.3h.6M206.7,70.1h.6M209.8,67.8h.6M204.0,71.1h.6M210.9,68.3h.6M204.6,68.2h.6M204.3,71.8h.6M208.9,71.0h.6M199.6,72.8h.6M202.1,71.7h.6M196.5,71.8h.6M202.6,72.9h.6M206.3,72.0h.6M204.5,73.7h.6M204.5,73.5h.6M203.1,68.5h.6M208.5,68.3h.6M204.5,67.5h.6M204.1,70.3h.6M202.9,71.1h.6M197.2,73.5h.6M204.4,72.8h.6M203.7,69.0h.6M203.8,70.7h.6M207.3,68.4h.6M202.5,71.3h.6M207.6,66.0h.6M201.1,69.6h.6M212.2,70.4h.6M208.5,69.9h.6M201.6,72.8h.6M203.3,68.8h.6M211.9,65.4h.6M210.6,68.9h.6M202.0,71.0h.6M202.2,70.9h.6M202.4,68.3h.6M215.0,66.4h.6M209.0,68.8h.6M210.1,65.3h.6M196.9,58.9h.6M213.3,71.8h.6M198.2,75.5h.6M211.8,82.2h.6M208.2,74.4h.6M210.8,73.5h.6M205.6,69.4h.6M211.7,75.3h.6M197.2,67.6h.6M206.7,78.3h.6M203.6,64.4h.6M212.1,73.2h.6M219.8,69.9h.6M219.5,66.2h.6M212.5,70.7h.6M197.5,71.1h.6M216.0,74.2h.6M204.0,75.8h.6M212.9,73.7h.6M208.2,72.0h.6M200.2,71.6h.6M206.5,67.9h.6M204.1,72.0h.6M208.1,75.0h.6M198.6,70.4h.6M207.7,69.2h.6M208.1,68.8h.6M214.2,68.9h.6M198.5,75.1h.6M216.6,61.7h.6M205.2,71.4h.6M214.1,76.0h.6M204.1,64.9h.6M211.3,74.4h.6M209.3,70.9h.6M201.7,81.6h.6M196.8,66.2h.6M213.1,71.2h.6M211.0,71.8h.6M218.7,75.1h.6M202.8,75.6h.6M196.8,65.3h.6M214.2,68.1h.6M195.5,73.1h.6M209.6,70.3h.6M200.3,68.9h.6M210.9,66.5h.6M206.4,66.9h.6M210.2,77.7h.6M210.7,74.9h.6M208.7,66.7h.6M204.0,71.6h.6M208.8,68.2h.6M209.9,67.5h.6M206.5,70.9h.6M198.6,76.2h.6M206.5,71.4h.6M204.6,62.6h.6M195.7,68.8h.6M212.7,67.7h.6M209.7,66.3h.6M199.9,70.0h.6M212.5,63.4h.6M205.1,72.8h.6M207.0,70.8h.6M211.7,71.4h.6M199.4,74.5h.6M200.4,70.4h.6M217.6,79.4h.6M216.4,71.3h.6M200.2,68.7h.6M217.9,70.7h.6M197.2,78.7h.6M210.9,75.7h.6M207.7,62.0h.6M200.8,71.2h.6M205.7,77.2h.6M201.3,71.3h.6M205.6,70.7h.6M198.1,67.1h.6M195.4,74.9h.6M206.9,66.6h.6M205.5,67.1h.6M199.2,73.4h.6M210.8,72.7h.6M205.5,69.5h.6M216.5,74.6h.6M201.0,67.3h.6M208.8,71.9h.6M200.9,81.0h.6M195.4,69.7h.6M211.9,62.6h.6M203.8,77.2h.6M215.7,68.6h.6M205.8,67.4h.6M208.2,66.4h.6M195.3,66.9h.6M197.4,76.7h.6M215.6,73.7h.6M211.2,74.9h.6M208.4,74.2h.6M209.8,73.7h.6M198.6,69.4h.6M199.5,75.3h.6M209.1,67.4h.6M198.8,69.7h.6M212.1,69.7h.6M204.0,68.5h.6M206.1,77.5h.6M201.0,70.3h.6M218.3,72.2h.6M198.7,76.5h.6M197.6,74.5h.6M195.6,69.5h.6M201.5,68.7h.6M206.4,71.0h.6M202.4,68.8h.6M219.4,75.2h.6M207.7,66.1h.6M202.2,70.4h.6M210.3,76.9h.6M202.5,72.1h.6M203.1,72.0h.6M201.5,73.2h.6M213.9,68.3h.6M203.8,71.8h.6M197.9,79.5h.6M196.5,70.9h.6M200.7,77.9h.6M202.4,69.5h.6M219.2,68.7h.6M200.6,71.8h.6M207.0,67.9h.6M204.7,70.4h.6M211.5,73.4h.6M211.8,69.7h.6M211.5,69.4h.6M214.4,71.5h.6M203.8,76.4h.6M195.5,68.6h.6M204.5,66.2h.6M196.6,64.7h.6M206.4,67.8h.6M221.8,72.0h.6M198.8,77.4h.6M207.4,75.2h.6M199.0,76.7h.6M213.5,68.3h.6M199.9,70.3h.6M209.2,80.4h.6M219.5,75.2h.6M204.3,69.9h.6M208.5,69.6h.6M202.7,70.7h.6M211.9,69.9h.6M207.6,69.7h.6M204.5,69.9h.6M215.0,70.7h.6M216.4,68.9h.6M212.7,64.5h.6M203.2,71.2h.6M201.6,71.2h.6M199.5,71.3h.6M201.4,71.7h.6M203.4,67.3h.6M203.2,71.5h.6M197.2,72.7h.6M214.6,68.9h.6M210.2,73.0h.6M201.2,77.1h.6M223.0,64.5h.6M220.6,66.1h.6M215.2,62.4h.6M214.1,70.5h.6M196.7,69.0h.6M198.2,68.5h.6M208.6,69.9h.6M195.4,72.2h.6M207.6,77.7h.6M195.3,73.8h.6M210.3,65.0h.6M196.8,71.6h.6M205.6,63.7h.6M208.6,70.6h.6M209.7,59.9h.6M209.1,67.0h.6M203.2,74.6h.6M217.9,70.0h.6M206.0,76.3h.6M199.7,71.3h.6M202.0,67.6h.6M208.5,79.0h.6M208.1,72.8h.6M206.5,75.5h.6M206.8,67.3h.6M207.6,76.7h.6M206.1,75.9h.6M206.7,79.2h.6M208.4,73.4h.6M205.4,131.5h.6M196.8,124.3h.6M200.0,122.5h.6M212.2,122.4h.6M206.0,129.5h.6M198.9,138.5h.6M215.8,131.8h.6M195.4,134.5h.6M206.3,127.1h.6M195.8,133.4h.6M203.1,132.3h.6M195.8,131.8h.6M208.8,129.7h.6M202.7,126.3h.6M206.1,127.7h.6M204.3,130.7h.6M219.6,124.3h.6M196.3,126.7h.6M214.7,120.8h.6M210.5,123.2h.6M206.2,131.6h.6M212.3,125.4h.6M203.0,136.2h.6M200.6,128.3h.6M203.4,124.8h.6M214.7,117.5h.6M203.7,125.7h.6M203.5,125.6h.6M209.0,127.2h.6M201.9,119.6h.6M202.4,129.5h.6M200.0,134.9h.6M203.0,128.5h.6M202.5,123.8h.6M213.5,122.8h.6M203.0,131.8h.6M203.4,121.5h.6M204.6,131.5h.6M195.4,136.7h.6M202.3,121.7h.6M215.2,129.8h.6M204.1,126.4h.6M199.8,124.2h.6M206.2,125.3h.6M211.8,128.0h.6M204.2,127.9h.6M211.3,131.1h.6M197.6,135.0h.6M201.4,131.1h.6M206.9,123.6h.6M207.0,124.4h.6M198.1,129.2h.6M198.8,135.3h.6M205.0,132.1h.6M203.8,120.0h.6M201.4,134.9h.6M200.7,132.6h.6M204.3,123.3h.6M207.5,116.2h.6M203.5,124.2h.6M195.3,138.5h.6M200.1,126.1h.6M200.2,129.3h.6M205.3,122.9h.6M211.5,123.9h.6M204.4,134.4h.6M195.6,138.7h.6M208.0,121.7h.6M207.6,132.2h.6M197.2,129.0h.6M209.6,124.5h.6M198.3,135.3h.6M205.9,123.1h.6M202.3,130.0h.6M201.6,124.4h.6M200.7,118.7h.6M211.2,134.3h.6M199.0,132.8h.6M195.6,136.6h.6M201.8,125.8h.6M207.2,115.5h.6M204.1,128.4h.6M209.3,127.0h.6M205.5,138.6h.6M195.4,126.3h.6M197.1,137.1h.6M202.2,131.6h.6M200.5,131.8h.6M216.6,119.8h.6M200.3,123.8h.6M202.7,115.2h.6M202.7,138.6h.6M206.1,134.6h.6M213.9,131.1h.6M212.6,120.3h.6M203.1,132.5h.6M209.4,120.9h.6M195.4,138.7h.6M206.3,132.7h.6M200.0,135.3h.6M195.6,131.2h.6M197.0,128.7h.6M202.9,133.0h.6M205.9,124.9h.6M201.5,124.5h.6M195.4,128.4h.6M197.6,132.4h.6M208.3,125.6h.6M205.0,118.1h.6M195.9,135.4h.6M204.4,122.8h.6M207.0,119.7h.6M208.4,118.0h.6M204.4,131.7h.6M198.2,132.9h.6M212.6,119.1h.6M198.0,132.4h.6M200.3,125.5h.6M209.7,129.2h.6M206.9,130.0h.6M205.0,126.5h.6M204.0,134.2h.6M206.9,119.4h.6M201.8,133.6h.6M208.0,130.4h.6M204.8,124.7h.6M200.2,136.4h.6M198.9,123.4h.6M195.5,129.7h.6M195.6,120.0h.6M200.4,130.5h.6M202.1,126.4h.6M210.1,126.9h.6M208.4,133.4h.6M199.5,125.7h.6M198.5,122.6h.6M198.1,126.0h.6M202.3,130.4h.6M195.4,138.6h.6M207.4,125.0h.6M198.0,126.5h.6M209.0,126.2h.6M195.7,132.9h.6M204.4,121.7h.6M204.1,138.4h.6M206.0,126.0h.6M203.6,125.8h.6M206.8,130.1h.6M203.3,124.0h.6M210.8,132.7h.6M196.1,126.5h.6M199.4,123.6h.6M216.0,116.2h.6M207.0,125.7h.6M207.2,114.6h.6M196.7,122.9h.6M207.9,121.1h.6M209.2,117.8h.6M196.5,130.8h.6M203.3,121.1h.6M201.5,124.2h.6M198.3,129.6h.6M205.6,116.2h.6M207.6,128.4h.6M195.8,126.9h.6M209.2,118.1h.6M201.8,136.3h.6M199.9,125.4h.6M195.5,122.5h.6M195.5,129.9h.6M210.7,131.3h.6M195.6,138.3h.6M207.8,122.7h.6M200.7,124.9h.6M199.4,128.9h.6M200.4,138.5h.6M216.2,120.7h.6M208.3,127.6h.6M195.6,133.2h.6M195.5,124.7h.6M198.2,123.9h.6M209.2,132.3h.6M196.9,132.1h.6M205.3,124.7h.6M200.7,124.2h.6M195.4,122.2h.6M204.0,117.7h.6M205.1,130.7h.6M212.5,124.9h.6M198.0,130.9h.6M208.4,117.3h.6M201.1,123.7h.6M195.5,122.1h.6M195.6,135.8h.6M211.5,123.0h.6M202.8,124.0h.6M199.4,136.2h.6M199.4,131.5h.6M206.2,122.3h.6M199.2,124.8h.6M209.3,123.9h.6M212.2,128.9h.6M196.7,136.0h.6M206.9,125.4h.6M206.1,127.5h.6M196.7,135.2h.6M207.5,121.5h.6M205.6,131.2h.6M197.6,137.8h.6M208.2,119.1h.6M201.8,133.4h.6M198.1,127.5h.6M197.4,121.8h.6M201.2,120.6h.6M203.7,132.6h.6M204.0,128.6h.6M214.4,125.2h.6M209.3,115.3h.6M200.4,118.0h.6M211.3,127.5h.6M202.0,132.8h.6M205.8,122.9h.6M206.3,135.4h.6M198.5,134.9h.6M207.8,123.5h.6M215.1,124.0h.6M211.8,130.6h.6M201.4,120.1h.6M202.8,130.1h.6M197.4,121.6h.6M206.3,111.2h.6M200.3,134.8h.6M209.8,131.2h.6M205.4,127.6h.6M203.2,121.7h.6M196.2,132.9h.6M206.1,121.6h.6M206.0,119.6h.6M206.3,123.9h.6M206.5,123.4h.6M202.1,125.2h.6M208.0,121.2h.6M207.6,127.0h.6M196.4,129.7h.6M207.9,131.7h.6M195.6,130.0h.6M197.5,126.4h.6M201.9,133.4h.6M198.8,133.2h.6M197.7,133.1h.6M197.5,119.0h.6M204.2,128.0h.6M203.9,128.7h.6M199.8,121.6h.6M205.1,130.2h.6M203.1,117.0h.6M195.5,126.6h.6M199.0,124.5h.6M202.2,135.0h.6M204.2,110.0h.6M206.2,116.5h.6M207.2,125.2h.6M207.3,120.7h.6M199.6,131.7h.6M202.9,120.9h.6M204.8,125.5h.6M203.9,126.8h.6M208.7,127.0h.6M200.7,128.1h.6M195.8,136.0h.6M201.7,121.0h.6M202.4,132.8h.6M211.8,126.2h.6M200.7,132.7h.6M204.2,119.7h.6M197.6,125.1h.6M203.3,133.0h.6M202.2,126.1h.6M206.8,135.0h.6M201.5,120.1h.6M210.2,115.4h.6M200.7,126.9h.6M203.4,132.4h.6M197.6,135.1h.6M208.6,134.5h.6M206.4,126.9h.6M207.6,126.7h.6M195.4,119.7h.6M204.6,131.4h.6M202.4,124.4h.6M195.8,129.1h.6M203.9,125.9h.6M198.3,131.0h.6M202.1,123.9h.6M200.4,126.5h.6M195.3,138.5h.6M205.6,118.8h.6M206.6,125.4h.6M206.7,129.7h.6M201.9,119.4h.6M208.4,119.6h.6M197.9,129.0h.6M198.0,125.4h.6M209.2,123.4h.6M202.8,134.7h.6M204.5,126.7h.6M206.7,122.5h.6M204.1,130.4h.6M195.4,133.4h.6M201.1,117.2h.6M200.7,125.6h.6M204.4,130.8h.6M215.9,125.3h.6M209.4,124.7h.6M196.7,121.3h.6M200.3,122.1h.6M199.3,133.6h.6M203.7,138.5h.6M206.5,127.2h.6M204.4,126.6h.6M203.5,122.0h.6M204.9,126.7h.6M202.1,120.4h.6M203.7,126.0h.6M207.8,126.0h.6M205.7,128.1h.6M210.2,129.4h.6M206.5,127.7h.6M198.8,131.7h.6M210.3,126.8h.6M199.2,132.4h.6M202.4,129.2h.6M199.7,128.8h.6M203.5,128.3h.6M204.0,119.9h.6M202.4,134.8h.6M204.5,124.5h.6M202.7,136.6h.6M203.3,136.4h.6M203.7,125.9h.6M205.7,130.9h.6M196.7,122.4h.6M195.4,124.8h.6M210.8,126.0h.6M206.0,138.2h.6M195.6,122.3h.6M215.2,128.5h.6M195.6,124.9h.6M210.8,117.9h.6M195.5,128.5h.6M204.6,122.1h.6M202.7,128.9h.6M199.8,127.7h.6M198.7,128.8h.6M209.6,122.6h.6M214.3,127.9h.6M195.6,138.6h.6M202.4,131.8h.6M197.9,127.8h.6M202.2,129.3h.6M206.7,130.2h.6M201.5,126.1h.6M214.4,111.5h.6M201.6,128.6h.6M195.4,126.5h.6M202.1,114.9h.6M201.8,132.7h.6M202.5,132.6h.6M198.9,124.6h.6M200.4,127.2h.6M195.7,117.4h.6M209.9,129.5h.6M204.7,127.6h.6M202.4,131.3h.6M197.8,124.6h.6M195.4,126.7h.6M208.0,130.0h.6M206.9,128.4h.6M195.5,128.9h.6M203.3,130.4h.6M202.1,127.8h.6M204.3,128.2h.6M205.2,127.5h.6M200.9,129.9h.6M195.4,131.8h.6M202.1,123.2h.6M201.3,137.6h.6M195.6,126.7h.6M195.4,126.4h.6M207.1,116.9h.6M204.3,135.2h.6M203.2,126.9h.6M204.1,117.3h.6M204.9,129.4h.6M199.6,123.1h.6M206.3,137.6h.6M201.8,127.3h.6M200.7,116.9h.6M196.3,122.7h.6M205.0,117.7h.6M200.2,124.3h.6M204.9,127.9h.6M202.1,126.6h.6M203.3,125.7h.6M203.6,132.0h.6M201.5,119.3h.6M196.3,130.4h.6M199.1,122.0h.6M209.5,119.9h.6M207.2,129.4h.6M201.7,132.5h.6M209.7,129.4h.6M204.3,137.0h.6M206.6,125.3h.6M206.5,121.5h.6M205.7,131.1h.6M206.0,132.6h.6M209.5,121.3h.6M201.5,124.8h.6M205.1,136.5h.6M199.5,133.1h.6M201.1,123.5h.6M197.9,129.0h.6M213.0,118.0h.6M216.4,126.6h.6M212.3,126.4h.6M199.0,127.8h.6M214.5,124.6h.6M203.6,136.1h.6M207.5,128.5h.6M214.3,128.3h.6M200.9,130.7h.6M207.3,120.5h.6M205.2,124.6h.6M195.6,134.5h.6M195.4,125.8h.6M201.8,130.4h.6M206.6,126.1h.6M201.5,121.8h.6M198.2,128.3h.6M203.4,131.1h.6M207.8,120.2h.6M211.8,125.5h.6M195.9,130.9h.6M198.8,122.7h.6M203.7,112.6h.6M201.6,136.0h.6M203.2,133.4h.6M203.6,135.6h.6M203.9,132.6h.6M201.8,118.1h.6M195.6,126.9h.6M207.0,122.8h.6M212.2,127.5h.6M210.3,124.5h.6M200.3,128.6h.6M208.0,128.5h.6M208.9,123.0h.6M202.1,128.8h.6M211.1,120.0h.6M208.7,115.4h.6M207.8,123.8h.6M203.7,121.5h.6M204.6,125.6h.6M197.9,125.4h.6M196.7,133.7h.6M206.7,125.5h.6M205.7,127.3h.6M202.3,137.4h.6M201.0,125.0h.6M205.2,133.2h.6M198.1,121.7h.6M206.3,112.6h.6M213.5,121.4h.6M204.3,136.2h.6M212.5,124.3h.6M207.4,125.2h.6M202.4,124.9h.6M209.5,129.9h.6M210.6,133.8h.6M197.6,135.4h.6M195.4,129.8h.6M200.2,127.5h.6M198.6,132.1h.6M196.5,135.1h.6M196.8,126.5h.6M198.2,120.0h.6M206.3,126.1h.6M206.2,125.3h.6M205.7,122.8h.6M200.8,134.1h.6M199.2,130.4h.6M200.6,124.2h.6M201.7,118.1h.6M208.3,121.3h.6M214.5,122.3h.6M207.4,125.0h.6M198.9,122.9h.6M197.9,127.6h.6M200.3,130.7h.6M201.0,131.9h.6M200.9,127.4h.6M206.9,126.9h.6M197.2,133.3h.6M215.1,112.9h.6M202.1,122.6h.6M213.2,127.1h.6M205.4,124.2h.6M196.6,121.8h.6M204.8,123.6h.6M206.6,126.6h.6M212.4,132.6h.6M204.8,121.0h.6M208.4,126.3h.6M209.1,131.5h.6M195.6,124.2h.6M200.9,134.0h.6M200.3,132.9h.6M199.1,136.2h.6M199.2,126.1h.6M200.4,129.5h.6M208.1,123.6h.6M203.4,129.0h.6M208.9,124.4h.6M207.8,116.6h.6M207.3,123.8h.6M203.4,132.4h.6M210.6,126.2h.6M202.2,122.5h.6M205.7,127.8h.6M210.6,119.5h.6M210.1,131.3h.6M202.2,125.9h.6M207.6,128.3h.6M197.9,121.8h.6M205.8,132.5h.6M203.9,133.7h.6M201.3,124.3h.6M198.7,117.2h.6M195.5,133.4h.6M204.9,130.7h.6M203.8,128.3h.6M200.1,129.0h.6M210.4,124.8h.6M200.6,135.9h.6M214.4,119.6h.6M202.7,134.4h.6M203.3,125.5h.6M212.0,126.2h.6M202.0,130.5h.6M202.1,129.5h.6M208.2,118.3h.6M206.8,125.4h.6M199.7,123.8h.6M201.9,121.2h.6M206.1,123.6h.6M202.4,125.5h.6M196.5,128.8h.6M203.4,127.2h.6M203.7,125.3h.6M207.2,124.1h.6M203.2,126.2h.6M206.0,129.5h.6M196.4,127.5h.6M206.7,126.8h.6M204.6,128.1h.6M195.3,131.2h.6M198.9,124.1h.6M198.3,119.7h.6M204.5,118.3h.6M197.5,127.3h.6M197.2,133.3h.6M195.4,135.9h.6M202.4,128.9h.6M195.7,129.3h.6M208.9,123.2h.6M203.0,138.5h.6M211.6,125.1h.6M202.3,116.1h.6M201.0,124.9h.6M213.6,119.9h.6M202.6,126.8h.6M195.8,138.3h.6M205.4,135.6h.6M206.2,123.6h.6M206.2,132.7h.6M205.6,133.4h.6M203.3,125.7h.6M211.5,130.8h.6M200.2,137.7h.6M205.5,123.1h.6M211.8,122.2h.6M201.9,121.9h.6M201.0,120.9h.6M213.5,131.3h.6M205.9,136.5h.6M199.6,133.1h.6M201.0,119.8h.6M202.0,123.6h.6M204.3,133.1h.6M204.8,129.1h.6M205.1,128.5h.6M210.1,120.2h.6M202.6,129.0h.6M208.1,125.3h.6M195.4,138.0h.6M211.5,112.8h.6M198.2,125.5h.6M196.7,122.7h.6M200.0,131.5h.6M196.7,134.3h.6M205.6,134.6h.6M217.6,125.8h.6M206.6,128.8h.6M210.4,113.9h.6M206.8,116.4h.6M201.8,117.7h.6M201.3,128.9h.6M195.3,123.1h.6M203.0,126.1h.6M211.5,121.8h.6M195.6,138.4h.6M200.5,125.9h.6M196.8,133.3h.6M198.9,131.4h.6M207.1,132.9h.6M201.0,133.4h.6M200.3,133.8h.6M205.4,120.7h.6M199.1,133.6h.6M201.2,125.6h.6M205.5,125.6h.6M201.0,120.1h.6M211.2,127.5h.6M207.8,137.4h.6M199.6,122.6h.6M196.6,130.7h.6M200.1,130.1h.6M203.9,125.5h.6M198.7,126.3h.6M195.7,135.7h.6M197.9,116.0h.6M197.3,113.4h.6M202.8,128.6h.6M195.5,130.2h.6M202.9,120.0h.6M203.3,128.1h.6M201.3,120.6h.6M208.1,120.5h.6M202.2,118.3h.6M207.4,121.8h.6M204.2,121.8h.6M207.0,123.3h.6M205.5,138.5h.6M204.6,124.6h.6M200.3,128.7h.6M210.6,125.7h.6M201.0,118.1h.6M201.1,119.0h.6M214.0,117.1h.6M208.0,121.8h.6M201.4,124.8h.6M210.1,116.6h.6M204.8,119.7h.6M201.5,127.1h.6M201.2,126.6h.6M208.5,126.3h.6M195.6,134.3h.6M202.4,137.3h.6M200.4,135.2h.6M203.9,126.6h.6M202.3,138.7h.6M210.2,127.2h.6M195.9,129.6h.6M217.6,124.6h.6M200.0,131.4h.6M206.7,122.3h.6M211.0,122.7h.6M205.8,129.9h.6M206.4,133.7h.6M205.9,134.7h.6M206.8,109.7h.6M204.6,114.6h.6M210.2,133.3h.6M210.4,124.1h.6M205.7,126.2h.6M204.6,124.6h.6M197.8,125.3h.6M210.3,118.7h.6M213.9,120.1h.6M201.2,122.0h.6M202.7,129.0h.6M201.9,127.2h.6M195.4,137.8h.6M200.5,129.0h.6M195.8,132.9h.6M197.9,130.7h.6M199.7,131.2h.6M209.1,136.1h.6M204.6,136.8h.6M203.4,131.2h.6M213.5,114.7h.6M195.4,119.1h.6M203.2,129.0h.6M200.4,123.1h.6M202.8,134.5h.6M202.7,129.0h.6M206.6,124.5h.6M200.1,123.5h.6M197.2,122.5h.6M207.7,116.3h.6M208.4,117.6h.6M208.0,132.1h.6M205.2,127.0h.6M201.6,128.1h.6M197.8,129.0h.6M196.0,136.1h.6M205.9,135.6h.6M219.3,122.4h.6M197.6,132.4h.6M197.3,123.6h.6M212.5,121.7h.6M212.2,131.8h.6M204.5,124.1h.6M203.0,124.7h.6M200.6,121.2h.6M204.6,124.0h.6M200.6,128.5h.6M196.6,123.0h.6M205.3,123.9h.6M210.7,118.4h.6M207.3,122.6h.6M198.6,124.6h.6M199.7,128.1h.6M195.5,138.6h.6M206.6,121.4h.6M213.1,125.2h.6M205.5,122.6h.6M210.4,131.8h.6M214.2,123.0h.6M195.9,129.5h.6M211.7,127.9h.6M204.9,123.7h.6M205.4,125.0h.6M212.9,122.4h.6M197.1,130.0h.6M211.1,125.0h.6M206.2,127.0h.6M195.6,131.3h.6M198.9,119.4h.6M207.9,126.7h.6M209.6,126.7h.6M212.4,118.7h.6M196.0,126.5h.6M207.6,129.6h.6M197.8,136.5h.6M200.0,130.3h.6M204.8,126.5h.6M202.0,135.7h.6M196.1,122.6h.6M212.9,128.2h.6M208.4,134.2h.6M196.6,134.7h.6M213.9,124.8h.6M209.9,128.0h.6M204.9,131.7h.6M211.2,125.4h.6M208.5,128.0h.6M207.8,127.1h.6M199.9,137.1h.6M198.6,131.1h.6M205.0,127.9h.6M196.6,132.6h.6M203.2,125.0h.6M204.8,128.0h.6M202.6,124.8h.6M206.7,128.2h.6M201.7,136.2h.6M201.2,133.6h.6M208.6,126.3h.6M195.6,130.7h.6M201.3,135.2h.6M197.5,121.4h.6M211.2,127.2h.6M201.4,129.9h.6M200.9,123.2h.6M204.2,131.3h.6M202.4,129.2h.6M210.7,132.0h.6M206.1,127.1h.6M206.6,133.6h.6M203.9,127.1h.6M214.1,124.8h.6M198.9,131.2h.6M207.0,119.6h.6M209.4,119.0h.6M207.8,114.7h.6M195.9,133.0h.6M199.2,129.9h.6M198.6,128.2h.6M204.9,127.1h.6M199.2,129.1h.6M212.7,123.5h.6M212.4,126.1h.6M206.3,131.1h.6M207.1,116.7h.6M199.8,113.3h.6M195.6,132.8h.6M198.0,130.9h.6M204.2,121.2h.6M197.3,125.5h.6M196.7,135.1h.6M204.1,133.9h.6M197.2,121.5h.6M202.0,120.3h.6M198.1,126.4h.6M198.1,129.9h.6M196.1,131.3h.6M205.3,131.1h.6M213.2,129.2h.6M195.7,134.5h.6M204.1,118.0h.6M205.7,130.5h.6M211.9,121.4h.6M204.3,125.4h.6M206.4,124.7h.6M202.5,123.9h.6M199.7,125.6h.6M196.1,130.5h.6M197.7,129.8h.6M195.5,125.9h.6M206.0,126.9h.6M200.7,112.7h.6M195.6,131.8h.6M200.6,124.7h.6M203.3,133.6h.6M196.7,123.7h.6M215.8,129.4h.6M207.4,121.3h.6M208.6,120.5h.6M203.1,130.0h.6M209.1,121.3h.6M197.1,125.0h.6M200.2,123.4h.6M197.9,123.9h.6M196.4,129.0h.6M196.6,127.5h.6M211.3,123.6h.6M198.3,126.1h.6M206.9,121.3h.6M209.6,127.6h.6M203.6,130.9h.6M203.7,124.0h.6M200.5,126.6h.6M195.8,138.4h.6M214.5,114.0h.6M204.7,121.2h.6M197.3,128.7h.6M208.2,127.5h.6M198.6,138.4h.6M201.8,119.8h.6M205.5,127.5h.6M196.0,130.9h.6M199.0,129.5h.6M195.7,135.5h.6M201.8,123.1h.6M205.0,128.4h.6M202.1,121.7h.6M202.5,123.7h.6M198.3,127.5h.6M202.2,133.0h.6M197.3,137.0h.6M210.8,111.2h.6M202.1,128.8h.6M204.2,115.5h.6M205.3,124.4h.6M210.4,117.1h.6M207.7,114.7h.6M200.7,122.5h.6M196.4,126.9h.6M207.7,134.2h.6M210.7,137.5h.6M211.0,120.4h.6M204.7,128.4h.6M202.7,133.1h.6M196.5,121.3h.6M205.8,129.1h.6M204.8,128.2h.6M201.7,126.1h.6M212.9,126.4h.6M205.3,131.4h.6M203.9,136.7h.6M200.4,131.8h.6M205.3,121.3h.6M207.4,130.3h.6M202.6,131.3h.6M208.7,122.8h.6M198.9,130.3h.6M202.5,128.9h.6M200.1,119.9h.6M203.9,128.5h.6M203.9,115.7h.6M203.3,134.6h.6M207.4,131.0h.6M200.8,125.9h.6M207.8,131.5h.6M207.0,124.5h.6M208.0,130.0h.6M206.8,125.2h.6M206.6,124.2h.6M202.5,135.7h.6M213.3,125.6h.6M198.7,124.4h.6M202.8,123.8h.6M196.7,137.3h.6M200.7,131.6h.6M204.6,132.4h.6M208.6,124.8h.6M206.0,120.2h.6M206.2,110.8h.6M210.2,126.9h.6M202.3,129.9h.6M197.2,132.2h.6M199.9,122.4h.6M195.5,136.2h.6M199.1,131.8h.6M202.1,137.5h.6M208.0,122.0h.6M200.9,130.3h.6M200.1,125.8h.6M202.5,132.0h.6M197.6,130.2h.6M198.0,126.9h.6M199.7,122.6h.6M209.6,125.1h.6M206.4,130.2h.6M206.2,121.1h.6M200.9,126.1h.6M200.6,128.3h.6M205.6,128.7h.6M213.1,117.7h.6M206.2,122.3h.6M210.2,119.8h.6M201.7,127.6h.6M202.0,126.3h.6M210.6,131.8h.6M200.9,125.1h.6M195.9,136.4h.6M196.7,130.3h.6M205.2,127.9h.6M209.4,128.6h.6M197.3,130.4h.6M196.3,129.0h.6M197.7,128.4h.6M202.1,121.2h.6M204.2,110.9h.6M200.7,119.0h.6M197.0,126.5h.6M205.1,128.9h.6M199.3,127.7h.6M196.4,130.0h.6M197.5,129.8h.6M206.7,129.8h.6M195.4,125.2h.6M202.6,120.7h.6M200.4,122.5h.6M199.2,134.5h.6M196.1,135.5h.6M200.5,133.8h.6M198.6,128.1h.6M201.8,122.4h.6M197.2,132.1h.6M203.3,128.4h.6M206.7,131.9h.6M204.7,124.5h.6M206.1,112.0h.6M201.2,124.2h.6M212.3,118.0h.6M207.6,124.8h.6M206.6,118.9h.6M200.2,118.3h.6M209.4,128.1h.6M208.6,125.1h.6M196.2,137.0h.6M207.3,133.7h.6M207.5,126.9h.6M209.9,122.8h.6M195.9,132.0h.6M206.9,121.2h.6M199.9,135.3h.6M200.3,128.9h.6M200.5,115.5h.6M197.1,134.6h.6M206.2,132.1h.6M203.6,130.9h.6M204.6,115.4h.6M195.4,132.6h.6M199.7,133.8h.6M204.2,134.7h.6M207.4,127.1h.6M204.6,127.2h.6M196.0,135.0h.6M201.0,138.4h.6M197.8,130.8h.6M207.3,113.8h.6M209.9,119.9h.6M212.0,114.4h.6M200.8,130.3h.6M198.3,128.3h.6M204.0,122.9h.6M208.6,125.1h.6M212.3,127.7h.6M203.6,119.8h.6M199.0,114.1h.6M212.3,125.0h.6M203.6,136.6h.6M199.5,138.6h.6M201.3,128.6h.6M203.5,132.5h.6M202.6,127.8h.6M201.9,126.4h.6M201.3,134.3h.6M201.9,120.2h.6M211.3,126.6h.6M209.0,131.0h.6M199.8,138.5h.6M200.8,123.6h.6M210.9,114.5h.6M200.2,120.2h.6M203.5,130.4h.6M199.8,126.1h.6M203.0,116.0h.6M202.7,126.8h.6M204.0,131.3h.6M203.3,126.0h.6M205.2,124.2h.6M209.7,128.7h.6M204.2,126.7h.6M206.0,134.5h.6M208.7,124.5h.6M201.2,123.8h.6M204.5,128.1h.6M195.3,130.6h.6M211.7,119.3h.6M202.2,138.4h.6M209.1,125.3h.6M200.5,130.0h.6M215.5,120.2h.6M213.9,100.0h.6M195.5,134.2h.6M197.1,130.2h.6M210.7,127.9h.6M199.7,136.3h.6M207.3,124.2h.6M212.6,124.4h.6M200.5,132.0h.6M199.7,122.9h.6M206.0,131.7h.6M204.7,125.8h.6M215.3,116.8h.6M203.6,120.5h.6M206.2,120.4h.6M200.9,127.3h.6M200.3,135.6h.6M201.5,136.1h.6M204.7,135.3h.6M208.7,129.4h.6M201.0,134.7h.6M207.0,124.8h.6M200.6,126.5h.6M195.7,138.4h.6M195.5,118.2h.6M205.9,124.3h.6M199.5,126.4h.6M198.2,122.3h.6M204.0,132.7h.6M199.2,131.8h.6M197.1,125.9h.6M195.5,134.8h.6M199.0,132.6h.6M206.7,127.9h.6M200.2,122.5h.6M209.8,121.8h.6M201.3,120.3h.6M215.9,128.9h.6M209.3,128.3h.6M201.6,131.0h.6M205.4,129.8h.6M204.8,127.6h.6M195.3,128.7h.6M209.3,112.3h.6M210.2,128.9h.6M195.4,126.0h.6M199.9,125.3h.6M211.7,122.2h.6M198.1,123.7h.6M212.3,124.7h.6M212.5,128.2h.6M195.5,129.9h.6M208.3,124.6h.6M201.3,126.4h.6M208.2,123.3h.6M202.4,120.0h.6M205.1,128.5h.6M201.0,117.7h.6M200.0,126.7h.6M202.8,127.2h.6M207.9,127.8h.6M204.0,126.1h.6M211.9,127.3h.6M200.6,125.0h.6M213.6,121.5h.6M210.2,115.6h.6M201.1,129.0h.6M197.5,123.8h.6M201.0,119.1h.6M195.6,138.6h.6M195.9,129.4h.6M197.3,133.0h.6M214.1,118.9h.6M205.8,134.8h.6M197.3,120.9h.6M195.5,131.9h.6M201.1,125.6h.6M197.7,127.6h.6M206.9,129.1h.6M203.8,136.6h.6M199.0,131.0h.6M212.1,121.0h.6M196.3,121.7h.6M202.3,126.1h.6M206.6,131.9h.6M207.9,135.6h.6M204.1,127.8h.6M202.5,129.4h.6M209.5,121.5h.6M196.5,130.3h.6M209.9,123.4h.6M199.5,131.5h.6M205.9,128.8h.6M199.9,132.7h.6M195.3,131.8h.6M207.5,132.7h.6M209.2,132.9h.6M209.7,129.5h.6M195.9,123.1h.6M195.8,137.3h.6M200.8,126.9h.6M204.3,123.4h.6M202.6,130.1h.6M202.7,123.9h.6M206.2,136.4h.6M196.5,129.3h.6M202.1,128.1h.6M210.3,130.7h.6M208.3,120.9h.6M207.5,129.8h.6M203.5,128.7h.6M200.5,134.3h.6M197.6,123.8h.6M212.6,132.9h.6M201.6,123.5h.6M209.7,122.2h.6M209.8,131.1h.6M214.8,129.2h.6M198.6,130.3h.6M203.7,128.6h.6M199.8,134.4h.6M195.7,132.9h.6M203.3,129.6h.6M201.7,123.7h.6M205.8,126.8h.6M203.1,128.1h.6M208.1,135.5h.6M209.7,121.5h.6M205.2,118.4h.6M200.1,129.2h.6M203.8,124.4h.6M195.6,127.8h.6M208.8,124.3h.6M204.8,138.6h.6M200.9,129.4h.6M202.0,126.3h.6M206.1,130.0h.6M204.3,121.0h.6M199.8,126.2h.6M201.2,129.5h.6M204.3,130.9h.6M201.1,133.4h.6M205.0,123.0h.6M204.3,131.0h.6M200.6,128.5h.6M195.5,119.3h.6M206.4,128.1h.6M196.3,133.3h.6M207.1,127.0h.6M199.3,129.2h.6M210.3,120.7h.6M203.1,117.5h.6M202.9,123.8h.6M206.1,133.8h.6M195.6,130.1h.6M199.7,130.4h.6M205.0,128.7h.6M209.9,122.8h.6M214.2,121.9h.6M204.9,124.4h.6M207.6,119.8h.6M207.3,122.7h.6M203.6,132.3h.6M207.1,125.1h.6M208.0,122.5h.6M200.8,131.5h.6M207.0,115.4h.6M196.2,136.7h.6M204.4,136.6h.6M200.5,124.1h.6M199.6,125.1h.6M208.7,127.9h.6M212.0,124.6h.6M207.7,131.1h.6M200.5,121.4h.6M205.3,118.2h.6M195.5,126.0h.6M195.5,134.5h.6M197.2,132.4h.6M205.3,122.7h.6M209.2,128.7h.6M206.5,134.9h.6M203.0,127.7h.6M209.8,129.8h.6M202.0,136.4h.6M201.8,130.3h.6M195.6,125.2h.6M202.3,120.7h.6M195.3,128.6h.6M210.8,117.0h.6M199.4,138.2h.6M195.4,127.5h.6M203.9,128.1h.6M209.7,126.8h.6M195.8,138.5h.6M212.4,125.5h.6M195.6,127.4h.6M204.1,125.0h.6M205.8,123.0h.6M195.4,130.7h.6M212.1,127.8h.6M201.1,133.9h.6M198.7,124.5h.6M204.5,138.1h.6M201.3,129.5h.6M206.4,126.4h.6M203.0,121.8h.6M202.8,130.3h.6M201.9,123.7h.6M199.9,138.6h.6M210.2,126.1h.6M196.1,122.9h.6M209.3,135.5h.6M205.4,126.8h.6M195.6,133.8h.6M204.1,125.5h.6M210.9,123.4h.6M204.8,124.4h.6M208.8,128.5h.6M199.8,122.3h.6M201.6,127.7h.6M209.7,129.2h.6M201.4,126.7h.6M208.0,125.3h.6M202.0,132.9h.6M205.3,127.7h.6M195.7,129.4h.6M200.4,138.4h.6M203.8,138.4h.6M195.8,130.9h.6M206.9,113.0h.6M209.1,126.5h.6M210.1,124.0h.6M210.1,130.9h.6M203.4,128.3h.6M203.6,124.6h.6M207.3,131.9h.6M211.9,121.3h.6M201.0,126.7h.6M200.4,128.5h.6M201.3,129.5h.6M206.5,131.9h.6M196.3,133.5h.6M205.0,122.3h.6M203.8,131.3h.6M199.4,125.2h.6M206.3,128.7h.6M200.2,138.2h.6M201.1,120.3h.6M204.1,126.3h.6M207.1,122.2h.6M198.9,127.5h.6M203.3,125.8h.6M208.4,124.4h.6M210.9,123.4h.6M203.8,126.5h.6M208.7,126.7h.6M199.7,135.4h.6M203.2,130.3h.6M199.3,118.0h.6M206.7,131.1h.6M197.4,136.9h.6M201.3,125.9h.6M210.4,125.8h.6M208.8,131.6h.6M209.9,120.9h.6M210.0,125.9h.6M213.2,121.3h.6M206.6,124.5h.6M212.2,128.5h.6M202.8,127.6h.6M209.3,138.6h.6M199.4,128.4h.6M209.4,122.7h.6M196.1,138.1h.6M210.5,118.3h.6M214.8,135.4h.6M201.8,128.1h.6M215.1,131.5h.6M199.2,120.6h.6M202.2,127.6h.6M205.1,122.7h.6M199.3,123.1h.6M198.8,134.0h.6M206.3,116.5h.6M201.8,138.6h.6M206.0,123.0h.6M204.2,126.0h.6M210.3,132.8h.6M200.5,128.4h.6M202.9,126.9h.6M209.6,118.6h.6M200.5,122.0h.6M208.2,126.7h.6M200.2,119.5h.6M195.8,122.9h.6M209.4,132.8h.6M215.0,120.9h.6M200.3,130.1h.6M199.3,117.8h.6M214.6,124.9h.6M206.0,122.3h.6M199.0,121.0h.6M198.2,131.0h.6M206.9,136.2h.6M196.3,118.1h.6M210.0,123.2h.6M200.0,126.6h.6M212.6,117.8h.6M198.6,121.5h.6M204.7,133.0h.6M202.4,125.5h.6M196.4,124.4h.6M196.0,138.3h.6M198.6,136.3h.6M205.9,121.8h.6M208.1,122.1h.6M197.4,138.4h.6M208.7,118.8h.6M201.5,126.5h.6M201.9,134.4h.6M215.0,122.9h.6M203.3,131.8h.6M209.9,124.0h.6M206.2,138.5h.6M200.8,132.1h.6M202.4,124.7h.6M195.3,130.5h.6M200.4,138.5h.6M205.2,127.1h.6M198.0,130.3h.6M205.1,121.5h.6M213.6,122.5h.6M205.4,123.4h.6M199.3,131.8h.6M198.4,131.3h.6M200.0,127.7h.6M204.7,119.2h.6M205.0,134.8h.6M206.4,127.7h.6M202.3,131.7h.6M208.8,121.0h.6M209.8,129.0h.6M210.6,128.2h.6M195.6,128.4h.6M202.7,123.4h.6M202.4,138.3h.6M198.9,128.3h.6M203.5,133.2h.6M205.8,125.7h.6M205.8,118.2h.6M198.8,133.6h.6M203.7,128.1h.6M199.3,120.9h.6M203.0,114.3h.6M206.2,126.9h.6M207.6,124.0h.6M199.5,131.1h.6M197.5,134.0h.6M195.5,123.2h.6M209.9,114.7h.6M210.6,128.7h.6M201.8,126.5h.6M196.3,131.0h.6M200.1,130.7h.6M207.4,124.1h.6M210.9,121.2h.6M195.3,117.3h.6M198.9,121.8h.6M200.6,125.8h.6M202.5,128.5h.6M202.2,128.8h.6M206.1,126.7h.6M204.3,133.6h.6M205.1,128.4h.6M216.7,123.7h.6M211.2,115.9h.6M207.0,126.9h.6M203.3,126.6h.6M211.1,126.7h.6M210.1,114.9h.6M202.5,123.0h.6M195.9,121.9h.6M197.6,135.9h.6M195.6,135.5h.6M195.4,135.0h.6M195.7,122.4h.6M204.8,123.4h.6M204.7,137.7h.6M201.6,131.7h.6M209.6,120.1h.6M206.7,130.9h.6M202.0,129.9h.6M201.4,127.2h.6M207.5,124.6h.6M210.5,121.6h.6M199.4,135.8h.6M201.4,128.2h.6M208.8,123.9h.6M204.7,138.7h.6M195.8,134.8h.6M201.1,121.8h.6M195.4,126.6h.6M207.1,134.7h.6M205.4,126.9h.6M204.7,133.5h.6M199.1,135.3h.6M202.4,122.8h.6M203.1,137.0h.6M212.1,119.5h.6M212.4,119.7h.6M201.2,127.3h.6M202.1,136.4h.6M198.8,128.5h.6M206.7,127.2h.6M201.3,131.9h.6M203.3,128.8h.6M201.3,127.0h.6M195.7,138.1h.6M202.8,129.7h.6M202.0,121.6h.6M202.7,126.4h.6M207.1,127.5h.6M202.9,126.6h.6M207.6,123.1h.6M202.3,138.6h.6M200.9,130.4h.6M200.2,132.8h.6M201.4,138.0h.6M201.5,122.3h.6M199.9,120.8h.6M197.5,127.3h.6M208.7,126.2h.6M198.8,134.9h.6M204.1,124.0h.6M207.0,110.7h.6M214.3,125.3h.6M197.7,126.0h.6M198.7,114.2h.6M197.8,123.5h.6M201.1,126.0h.6M200.3,135.8h.6M202.8,117.7h.6M206.3,124.6h.6M198.7,129.4h.6M209.8,128.1h.6M195.5,121.7h.6M197.6,119.8h.6M201.2,130.2h.6M203.3,130.0h.6M202.2,134.0h.6M195.5,138.7h.6M211.0,128.3h.6M198.9,132.4h.6M199.4,132.9h.6M196.4,127.0h.6M209.0,123.0h.6M208.3,131.5h.6M198.3,137.1h.6M208.2,118.4h.6M196.8,129.7h.6M212.1,124.5h.6M208.1,128.7h.6M199.1,129.8h.6M202.9,120.6h.6M204.0,126.4h.6M200.7,132.5h.6M195.7,132.2h.6M195.6,133.9h.6M204.7,125.8h.6M197.3,133.2h.6M212.4,116.5h.6M196.8,119.3h.6M205.5,133.5h.6M195.5,132.2h.6M204.9,130.1h.6M198.8,138.5h.6M195.4,138.3h.6M195.5,131.0h.6M205.6,116.6h.6M214.3,128.6h.6M198.4,127.2h.6M199.2,124.7h.6M197.5,126.4h.6M195.6,130.5h.6M195.9,127.7h.6M206.5,121.7h.6M198.7,127.2h.6M201.7,126.8h.6M200.5,129.4h.6M205.2,123.2h.6M211.8,124.0h.6M195.7,130.0h.6M202.6,133.7h.6M199.6,128.0h.6M195.4,120.7h.6M204.6,130.7h.6M205.5,132.2h.6M205.9,121.4h.6M201.7,122.1h.6M195.8,128.1h.6M197.4,125.2h.6M197.6,132.6h.6M199.2,136.9h.6M198.2,131.7h.6M205.4,132.3h.6M204.3,124.0h.6M203.7,133.3h.6M198.2,125.3h.6M205.7,129.0h.6M202.8,128.1h.6M206.6,118.7h.6M211.8,128.5h.6M205.1,115.7h.6M205.4,125.5h.6M217.1,119.4h.6M211.3,126.1h.6M201.0,121.8h.6M205.2,111.3h.6M208.8,126.1h.6M207.4,129.8h.6M205.8,130.2h.6M201.0,124.3h.6M204.6,121.1h.6M201.4,121.4h.6M205.9,128.2h.6M203.3,118.6h.6M200.7,130.5h.6M201.1,134.8h.6M214.9,117.7h.6M202.2,122.1h.6M207.2,126.4h.6M209.3,116.7h.6M206.4,120.4h.6M200.1,127.9h.6M198.3,121.9h.6M207.1,134.0h.6M199.1,138.5h.6M198.2,127.6h.6M206.1,120.9h.6M203.3,125.5h.6M202.4,136.5h.6M201.9,121.6h.6M202.5,118.4h.6M201.1,136.8h.6M201.2,129.9h.6M205.1,116.4h.6M203.8,123.4h.6M202.4,126.5h.6M200.0,131.9h.6M199.3,132.5h.6M198.1,131.7h.6M198.1,122.9h.6M205.3,130.1h.6M206.9,129.9h.6M201.2,134.5h.6M195.3,117.9h.6M206.1,123.0h.6M202.6,127.1h.6M198.3,125.4h.6M195.9,124.6h.6M203.7,128.5h.6M207.3,126.0h.6M196.6,123.4h.6M204.6,138.6h.6M201.5,121.2h.6M202.0,130.9h.6M204.4,135.2h.6M198.2,130.3h.6M199.7,134.6h.6M208.8,121.8h.6M201.5,126.7h.6M206.1,123.7h.6M208.9,118.0h.6M199.4,128.1h.6M196.2,138.1h.6M197.3,122.3h.6M195.4,130.5h.6M201.8,135.1h.6M205.2,119.7h.6M199.0,124.4h.6M204.0,117.8h.6M199.8,131.7h.6M209.9,138.6h.6M198.2,126.0h.6M200.2,126.3h.6M205.0,132.8h.6M202.1,132.0h.6M204.2,133.9h.6M196.2,128.7h.6M206.7,132.7h.6M198.0,127.2h.6M199.6,126.4h.6M201.3,124.4h.6M207.5,128.8h.6M210.6,129.7h.6M211.1,131.6h.6M206.9,120.5h.6M203.2,121.6h.6M201.8,128.5h.6M201.0,132.6h.6M210.1,134.0h.6M205.0,123.1h.6M198.2,129.5h.6M197.4,129.0h.6M197.8,123.7h.6M203.5,130.7h.6M196.4,127.3h.6M204.2,132.8h.6M205.8,136.1h.6M195.5,133.7h.6M207.4,120.3h.6M195.3,135.2h.6M196.7,130.2h.6M199.2,127.8h.6M203.3,128.4h.6M195.4,123.9h.6M195.4,138.4h.6M217.4,122.1h.6M209.0,121.6h.6M202.7,131.5h.6M209.0,119.3h.6M200.1,126.7h.6M205.8,130.5h.6M203.3,135.4h.6M211.8,133.6h.6M208.4,130.5h.6M208.1,138.7h.6M208.3,132.5h.6M198.9,123.3h.6M207.4,126.3h.6M201.1,126.4h.6M202.9,138.6h.6M202.5,124.4h.6M201.2,132.1h.6M203.0,134.9h.6M198.9,137.5h.6M205.9,120.5h.6M206.9,129.0h.6M200.4,129.2h.6M212.5,136.6h.6M199.1,131.3h.6M199.2,128.3h.6M196.9,130.4h.6M208.0,130.3h.6M204.5,115.8h.6M199.1,132.5h.6M196.3,130.3h.6M200.0,127.2h.6M200.5,132.5h.6M199.0,130.8h.6M207.0,128.2h.6M207.9,129.8h.6M198.1,122.6h.6M219.5,128.7h.6M212.2,128.3h.6M205.7,120.9h.6M202.9,122.5h.6M202.9,132.2h.6M200.9,125.3h.6M200.5,137.1h.6M203.6,128.1h.6M196.7,129.8h.6M195.9,122.4h.6M207.9,121.7h.6M210.9,125.0h.6M202.8,132.0h.6M195.7,130.6h.6M198.1,128.1h.6M205.0,125.4h.6M202.1,119.1h.6M198.0,125.8h.6M202.2,126.7h.6M195.7,127.3h.6M205.3,121.9h.6M199.5,133.6h.6M202.2,136.0h.6M206.6,123.4h.6M195.4,125.2h.6M211.8,118.1h.6M204.0,132.7h.6M197.0,126.0h.6M204.9,130.0h.6M199.8,138.2h.6M201.2,126.4h.6M199.6,136.4h.6M206.6,132.6h.6M213.9,123.5h.6M197.0,121.4h.6M206.4,119.6h.6M205.2,133.2h.6M201.0,122.2h.6M200.7,128.5h.6M198.1,124.9h.6M208.4,119.8h.6M209.6,127.5h.6M214.3,118.9h.6M198.6,130.0h.6M212.7,128.1h.6M204.6,138.5h.6M200.8,127.3h.6M204.7,124.1h.6M199.5,125.1h.6M210.2,121.4h.6M211.0,134.1h.6M210.9,128.4h.6M202.6,129.4h.6M205.8,131.0h.6M197.9,121.2h.6M204.6,124.1h.6M207.8,129.2h.6M204.5,130.9h.6M202.9,127.3h.6M200.8,129.9h.6M204.9,131.5h.6M196.3,138.7h.6M202.0,135.2h.6M205.1,129.4h.6M209.2,121.6h.6M195.3,130.9h.6M206.5,138.7h.6M195.5,130.2h.6M195.6,138.0h.6M204.8,121.8h.6M203.2,118.6h.6M205.5,133.1h.6M199.4,137.7h.6M205.1,117.5h.6M208.8,133.3h.6M215.1,125.0h.6M201.4,127.1h.6M201.1,127.4h.6M209.6,126.0h.6M202.7,123.0h.6M208.2,125.2h.6M208.8,130.1h.6M202.2,129.9h.6M204.7,119.9h.6M209.5,125.4h.6M214.0,123.9h.6M207.8,135.8h.6M197.0,126.4h.6M200.9,128.0h.6M203.5,135.0h.6M207.6,126.9h.6M204.8,138.6h.6M209.2,122.8h.6M207.6,128.0h.6M209.1,130.8h.6M195.4,124.2h.6M204.8,128.9h.6M205.3,128.4h.6M204.4,124.9h.6M207.6,126.5h.6M195.4,126.3h.6M209.3,128.2h.6M208.8,122.9h.6M205.8,120.1h.6M206.6,133.9h.6M198.6,133.5h.6M195.9,129.3h.6M203.1,138.6h.6M195.4,126.5h.6M208.0,126.2h.6M206.0,136.9h.6M206.1,128.1h.6M207.8,126.3h.6M203.5,130.2h.6M201.6,131.9h.6M195.5,128.2h.6M200.2,126.3h.6M200.2,127.5h.6M210.1,132.4h.6M208.8,127.1h.6M210.5,125.1h.6M208.2,127.9h.6M207.0,121.7h.6M202.3,128.9h.6M204.9,129.2h.6M200.1,128.6h.6M206.2,127.8h.6M197.5,123.7h.6M205.6,131.2h.6M207.2,132.3h.6M200.5,129.4h.6M210.8,127.0h.6M207.7,133.3h.6M205.6,127.8h.6M213.5,121.1h.6M202.4,128.4h.6M204.1,135.3h.6M211.8,131.2h.6M208.3,121.6h.6M199.9,129.6h.6M207.9,121.0h.6M212.4,125.5h.6M210.2,120.9h.6M201.5,120.3h.6M204.9,125.9h.6M200.6,117.9h.6M210.8,135.8h.6M202.4,125.4h.6M203.4,126.6h.6M204.4,131.0h.6M208.8,129.5h.6M215.9,117.2h.6M210.3,130.1h.6M204.8,138.4h.6M201.9,130.0h.6M196.0,132.3h.6M205.7,127.9h.6M195.5,125.8h.6M198.4,136.8h.6M208.3,127.5h.6M199.1,128.6h.6M215.0,112.0h.6M195.4,128.8h.6M212.7,121.1h.6M195.5,127.9h.6M204.5,128.5h.6M209.5,128.3h.6M195.3,129.7h.6M203.7,123.0h.6M204.2,125.9h.6M207.1,121.2h.6M203.6,131.3h.6M204.9,120.7h.6M200.4,126.0h.6M208.1,138.5h.6M201.0,128.2h.6M199.8,131.2h.6M204.5,129.1h.6M196.1,126.2h.6M205.6,130.3h.6M208.1,121.0h.6M199.7,126.7h.6M207.0,118.4h.6M201.3,130.0h.6M202.8,128.9h.6M211.4,130.4h.6M207.0,126.3h.6M206.0,138.5h.6M205.7,122.2h.6M201.7,126.9h.6M201.3,127.2h.6M210.5,126.7h.6M202.2,126.9h.6M206.0,122.8h.6M203.2,122.9h.6M207.2,119.2h.6M212.0,129.7h.6M204.1,124.8h.6M212.1,128.3h.6M195.3,137.4h.6M201.2,118.9h.6M206.9,123.7h.6M201.9,121.8h.6M218.2,128.8h.6M206.2,128.7h.6M195.3,124.5h.6M205.1,130.6h.6M198.8,123.3h.6M198.9,138.4h.6M202.0,127.5h.6M204.2,122.5h.6M203.1,137.6h.6M196.6,133.3h.6M210.3,122.5h.6M213.3,126.5h.6M198.8,122.3h.6M195.5,129.7h.6M197.4,134.3h.6M205.2,128.1h.6M208.2,131.4h.6M208.8,129.0h.6M203.3,128.0h.6M205.9,128.1h.6M204.7,122.2h.6M216.3,132.6h.6M195.4,138.7h.6M200.4,126.9h.6M199.8,134.2h.6M206.6,135.9h.6M211.3,131.1h.6M198.6,122.7h.6M206.0,126.0h.6M197.8,116.2h.6M209.3,131.5h.6M196.1,121.1h.6M207.0,126.9h.6M211.1,122.2h.6M204.0,136.1h.6M210.8,127.6h.6M206.7,131.5h.6M195.5,134.1h.6M212.0,121.1h.6M203.5,126.2h.6M206.0,132.9h.6M197.5,137.4h.6M203.2,115.0h.6M195.3,136.0h.6M203.5,123.1h.6M204.6,122.1h.6M201.0,138.7h.6M201.0,125.6h.6M195.6,128.3h.6M202.9,121.2h.6M195.5,132.0h.6M210.5,128.2h.6M205.8,136.4h.6M211.4,120.8h.6M214.0,127.2h.6M201.8,123.0h.6M207.0,126.0h.6M216.3,131.8h.6M202.8,126.6h.6M208.6,121.4h.6M199.9,134.8h.6M201.3,117.7h.6M217.6,124.6h.6M200.1,133.9h.6M207.3,127.2h.6M207.4,128.2h.6M199.6,130.7h.6M204.9,129.3h.6M214.7,120.3h.6M200.9,133.9h.6M219.0,124.0h.6M210.7,119.2h.6M207.3,124.3h.6M199.3,133.4h.6M197.1,125.8h.6M201.5,127.1h.6M205.4,131.0h.6M199.7,133.2h.6M206.2,126.5h.6M205.0,126.4h.6M195.5,129.3h.6M198.5,126.8h.6M198.9,130.3h.6M210.0,118.5h.6M209.4,125.4h.6M207.9,129.5h.6M200.6,129.8h.6M198.4,133.1h.6M203.7,120.4h.6M202.3,127.2h.6M201.8,126.6h.6M200.0,122.4h.6M210.5,131.8h.6M202.3,135.5h.6M198.6,129.4h.6M213.3,120.3h.6M212.3,129.3h.6M205.8,123.9h.6M197.1,138.2h.6M197.2,126.1h.6M199.0,138.0h.6M195.5,138.4h.6M197.7,126.7h.6M208.3,133.6h.6M195.9,131.0h.6M203.2,123.0h.6M205.9,118.7h.6M195.4,129.3h.6M208.0,122.0h.6M195.3,126.0h.6M201.9,124.2h.6M208.2,112.2h.6M195.4,130.6h.6M206.7,125.3h.6M210.8,123.7h.6M207.5,135.6h.6M201.2,132.2h.6M208.0,130.7h.6M204.6,128.7h.6M195.4,137.3h.6M209.8,131.3h.6M195.6,132.8h.6M213.3,116.2h.6M195.4,133.0h.6M201.8,133.5h.6M210.7,124.5h.6M197.1,130.3h.6M204.3,129.8h.6M204.2,123.5h.6M210.3,124.4h.6M203.0,129.7h.6M212.3,121.4h.6M201.0,128.1h.6M208.7,123.8h.6M201.3,124.7h.6M203.1,129.4h.6M205.5,114.7h.6M200.4,124.1h.6M206.7,138.3h.6M212.3,124.4h.6M205.6,125.3h.6M205.2,129.3h.6M207.2,127.2h.6M199.8,119.4h.6M198.3,133.9h.6M198.2,123.7h.6M209.1,124.2h.6M208.7,129.1h.6M205.5,124.0h.6M205.5,134.0h.6M198.8,127.8h.6M202.4,134.4h.6M203.9,125.7h.6M204.1,120.2h.6M204.8,121.8h.6M202.1,127.7h.6M209.7,130.6h.6M205.0,133.7h.6M207.8,120.8h.6M196.6,127.4h.6M214.2,136.4h.6M203.2,128.9h.6M201.4,133.6h.6M208.3,129.2h.6M215.7,119.9h.6M199.7,131.4h.6M196.8,132.9h.6M202.2,138.1h.6M197.1,138.7h.6M200.4,137.7h.6M215.4,126.3h.6M205.3,131.1h.6M209.8,130.8h.6M207.7,130.9h.6M196.9,130.7h.6M198.5,132.5h.6M199.1,134.4h.6M195.9,126.3h.6M208.7,129.7h.6M206.8,126.0h.6M201.8,128.2h.6M204.6,138.2h.6M196.0,129.0h.6M199.8,133.5h.6M198.4,129.7h.6M200.3,122.1h.6M200.8,134.6h.6M195.5,124.6h.6M197.6,134.9h.6M204.6,128.4h.6M202.9,125.0h.6M197.0,122.8h.6M197.2,120.6h.6M203.5,121.7h.6M206.6,123.0h.6M203.7,123.6h.6M204.2,130.3h.6M204.5,123.1h.6M195.5,138.3h.6M206.4,132.1h.6M195.5,138.1h.6M212.3,136.6h.6M201.8,126.1h.6M197.8,128.1h.6M204.4,127.4h.6M206.2,138.0h.6M206.4,121.3h.6M204.8,124.4h.6M198.1,127.6h.6M207.5,136.3h.6M209.6,118.6h.6M206.4,132.6h.6M202.8,134.1h.6M198.8,136.6h.6M209.5,126.3h.6M214.3,123.1h.6M196.4,125.7h.6M195.3,136.4h.6M211.9,138.6h.6M205.6,125.7h.6M204.0,129.7h.6M208.2,122.0h.6M212.7,127.0h.6M207.0,128.6h.6M209.5,129.4h.6M207.9,123.7h.6M213.0,125.1h.6M199.8,122.7h.6M211.6,119.2h.6M207.3,124.3h.6M197.9,125.5h.6M203.0,126.8h.6M204.7,123.9h.6M206.4,130.0h.6M201.4,125.7h.6M204.5,124.1h.6M195.4,129.6h.6M197.8,130.2h.6M195.5,134.7h.6M201.3,129.1h.6M201.7,121.3h.6M211.1,120.7h.6M195.6,138.5h.6M205.2,114.3h.6M199.8,123.7h.6M200.0,137.1h.6M204.3,121.2h.6M197.2,125.9h.6M199.9,130.3h.6M205.5,130.6h.6M204.1,126.4h.6M206.3,128.9h.6M200.5,120.5h.6M204.3,129.8h.6M195.6,127.1h.6M197.7,133.2h.6M204.9,130.0h.6M197.5,138.4h.6M213.0,113.0h.6M199.8,118.4h.6M214.2,127.0h.6M202.2,124.3h.6M205.8,116.9h.6M206.5,115.1h.6M206.6,126.0h.6M201.9,124.8h.6M204.7,137.0h.6M201.9,122.5h.6M201.2,136.6h.6M208.7,120.4h.6M203.9,131.5h.6M210.2,128.7h.6M200.1,126.2h.6M197.9,123.8h.6M196.9,131.5h.6M203.1,128.6h.6M196.3,133.8h.6M204.8,112.1h.6M200.1,128.0h.6M202.8,121.9h.6M210.4,114.2h.6M205.1,126.7h.6M210.7,121.7h.6M198.1,134.8h.6M205.4,134.2h.6M207.0,125.9h.6M200.3,125.9h.6M211.2,124.9h.6M211.5,115.1h.6M203.8,118.6h.6M205.7,124.8h.6M196.8,131.2h.6M203.0,126.3h.6M201.2,128.2h.6M201.7,126.3h.6M197.1,136.7h.6M209.7,118.1h.6M200.8,124.3h.6M196.5,128.8h.6M198.2,134.5h.6M200.9,133.2h.6M198.3,122.8h.6M210.9,115.2h.6M202.2,125.5h.6M198.6,133.4h.6M197.4,118.6h.6M204.0,127.8h.6M203.1,112.3h.6M204.9,134.6h.6M202.8,133.2h.6M195.5,129.2h.6M197.0,127.2h.6M208.0,131.0h.6M211.5,134.9h.6M204.6,138.6h.6M209.7,125.3h.6M201.1,128.1h.6M195.5,132.3h.6M205.6,121.1h.6M204.4,125.6h.6M209.6,113.2h.6M202.0,134.3h.6M196.4,136.7h.6M196.1,130.2h.6M210.3,134.9h.6M210.0,125.6h.6M207.1,126.8h.6M201.2,131.6h.6M205.3,130.0h.6M202.4,119.7h.6M203.6,138.7h.6M203.5,136.9h.6M218.6,116.4h.6M204.1,125.6h.6M207.5,129.4h.6M218.7,114.9h.6M208.8,133.3h.6M208.3,131.5h.6M205.3,126.9h.6M205.8,123.3h.6M200.4,130.8h.6M202.2,126.1h.6M207.6,124.7h.6M203.2,125.1h.6M206.9,128.5h.6M201.2,128.4h.6M205.3,127.0h.6M204.2,133.1h.6M212.3,131.0h.6M195.4,129.7h.6M214.6,120.7h.6M200.5,125.3h.6M202.7,124.5h.6M200.4,132.0h.6M199.4,130.2h.6M199.6,130.7h.6M205.4,125.3h.6M200.3,123.2h.6M197.1,134.6h.6M205.7,129.6h.6M201.2,137.3h.6M198.6,125.0h.6M199.1,129.2h.6M206.9,119.4h.6M201.1,123.3h.6M195.8,132.4h.6M201.0,128.6h.6M208.2,117.4h.6M210.0,123.9h.6M207.2,124.1h.6M204.5,129.8h.6M204.7,119.3h.6M195.9,132.2h.6M195.8,133.7h.6M199.0,127.0h.6M206.9,132.2h.6M207.7,130.7h.6M202.9,128.8h.6M202.4,138.3h.6M209.9,130.4h.6M200.5,126.2h.6M207.2,113.8h.6M198.2,138.4h.6M199.5,134.4h.6M206.8,137.0h.6M219.8,123.4h.6M204.5,133.2h.6M198.6,129.4h.6M201.5,128.3h.6M203.3,125.0h.6M203.4,116.4h.6M198.7,120.9h.6M209.8,128.6h.6M211.7,121.7h.6M201.4,124.8h.6M202.3,130.1h.6M195.7,127.5h.6M207.0,126.4h.6M204.1,131.8h.6M203.1,131.0h.6M203.6,127.5h.6M203.3,132.9h.6M206.1,136.5h.6M206.0,122.2h.6M208.4,127.7h.6M199.1,124.1h.6M203.0,125.1h.6M210.4,134.8h.6M198.0,123.2h.6M210.2,127.1h.6M199.9,131.6h.6M201.6,132.0h.6M217.9,129.6h.6M203.0,129.2h.6M208.0,119.8h.6M204.5,121.1h.6M212.8,108.9h.6M212.5,128.8h.6M213.4,127.3h.6M207.3,122.9h.6M209.6,126.6h.6M207.7,129.1h.6M199.2,126.5h.6M209.8,121.0h.6M217.2,124.9h.6M208.1,134.7h.6M206.7,126.7h.6M195.4,135.1h.6M196.5,127.1h.6M197.2,136.6h.6M208.2,128.2h.6M195.9,130.2h.6M202.5,128.0h.6M203.3,119.1h.6M205.8,130.9h.6M208.4,127.9h.6M207.5,134.2h.6M195.4,128.3h.6M203.8,126.8h.6M195.4,134.2h.6M211.3,126.7h.6M205.3,115.5h.6M195.7,125.0h.6M197.8,133.5h.6M201.0,132.8h.6M207.8,119.6h.6M201.7,129.8h.6M201.7,127.9h.6M201.1,131.4h.6M202.8,131.7h.6M208.0,129.9h.6M207.5,126.3h.6M201.2,126.7h.6M202.4,122.1h.6M211.2,130.5h.6M203.1,133.0h.6M205.8,124.4h.6M205.9,120.8h.6M200.5,135.3h.6M206.4,126.1h.6M202.8,119.8h.6M206.8,137.2h.6M206.2,132.1h.6M197.8,119.8h.6M211.7,138.6h.6M207.0,128.9h.6M197.8,133.7h.6M198.0,132.3h.6M201.0,124.7h.6M200.1,136.3h.6M203.8,123.2h.6M203.9,133.7h.6M207.3,131.8h.6M205.0,123.4h.6M200.4,117.0h.6M199.9,132.5h.6M210.2,125.4h.6M202.4,122.4h.6M210.2,133.4h.6M210.2,127.2h.6M199.3,123.5h.6M206.8,133.3h.6M205.1,135.2h.6M198.8,119.9h.6M201.7,125.7h.6M208.1,132.9h.6M195.4,129.9h.6M204.9,127.8h.6M200.6,124.3h.6M210.5,134.9h.6M208.5,127.5h.6M205.6,126.4h.6M199.3,136.6h.6M206.5,109.7h.6M200.9,120.8h.6M207.2,125.2h.6M198.3,124.5h.6M206.1,134.3h.6M202.1,128.9h.6M203.3,123.2h.6M196.9,124.2h.6M212.4,118.2h.6M203.6,122.8h.6M202.0,135.0h.6M201.6,130.2h.6M207.7,138.7h.6M208.0,128.6h.6M199.6,133.7h.6M195.6,131.6h.6M209.6,123.1h.6M199.3,132.0h.6M204.8,122.6h.6M202.8,129.8h.6M204.2,121.6h.6M195.3,133.7h.6M203.5,129.5h.6M207.6,121.9h.6M202.4,123.7h.6M205.0,129.7h.6M202.5,136.4h.6M198.9,131.0h.6M207.7,126.5h.6M201.3,125.4h.6M210.4,117.7h.6M203.7,127.6h.6M202.8,126.1h.6M197.1,127.4h.6M201.5,135.3h.6M210.5,119.8h.6M203.0,126.2h.6M208.9,135.1h.6M206.0,128.2h.6M196.5,114.0h.6M205.7,124.2h.6M204.1,127.4h.6M208.2,126.1h.6M208.1,118.2h.6M208.4,128.2h.6M200.4,129.9h.6M206.6,125.2h.6M204.0,128.8h.6M212.2,112.9h.6M199.9,133.4h.6M195.9,134.8h.6M211.0,123.9h.6M195.7,122.2h.6M210.3,138.3h.6M206.4,130.1h.6M204.1,123.6h.6M204.8,133.4h.6M196.6,123.9h.6M198.2,129.4h.6M208.3,119.8h.6M195.5,135.2h.6M197.5,130.8h.6M199.1,134.7h.6M201.3,125.8h.6M205.7,128.5h.6M200.3,130.8h.6M204.6,123.6h.6M199.0,137.4h.6M204.5,129.2h.6M209.9,131.3h.6M205.1,138.6h.6M202.7,121.4h.6M202.9,127.1h.6M198.8,120.4h.6M195.7,122.1h.6M209.0,114.9h.6M198.7,129.3h.6M209.2,127.3h.6M199.2,119.2h.6M202.6,130.2h.6M206.8,129.3h.6M200.0,129.3h.6M195.5,137.5h.6M200.8,124.3h.6M203.1,127.8h.6M197.6,130.7h.6M206.3,128.6h.6M207.3,115.1h.6M205.1,131.6h.6M204.3,132.4h.6M202.3,138.4h.6M198.7,123.2h.6M198.7,127.3h.6M206.8,119.1h.6M206.5,128.1h.6M199.4,127.5h.6M197.7,138.3h.6M200.5,124.1h.6M204.1,124.4h.6M195.9,138.6h.6M201.8,136.0h.6M197.7,135.9h.6M196.7,123.7h.6M200.8,125.3h.6M195.3,128.4h.6M200.2,130.3h.6M208.5,132.1h.6M202.4,129.0h.6M206.8,119.3h.6M209.7,123.0h.6M201.2,138.7h.6M197.6,132.7h.6M204.7,127.5h.6M204.9,112.0h.6M202.4,124.4h.6M199.7,128.6h.6M206.2,136.2h.6M203.6,126.7h.6M198.6,121.6h.6M200.6,126.9h.6M204.5,136.5h.6M206.2,128.4h.6M201.2,130.9h.6M205.3,129.6h.6M205.4,128.4h.6M202.0,132.9h.6M206.7,127.0h.6M202.9,129.8h.6M204.0,128.9h.6M201.2,126.3h.6M201.6,130.6h.6M195.3,125.9h.6M202.5,130.2h.6M206.7,125.7h.6M202.7,129.4h.6M198.6,137.8h.6M196.7,129.8h.6M202.6,123.3h.6M198.5,131.5h.6M202.0,135.0h.6M198.3,132.9h.6M208.3,123.1h.6M215.7,119.3h.6M199.8,122.5h.6M210.1,128.2h.6M208.9,124.6h.6M205.1,124.1h.6M206.1,126.8h.6M208.0,131.3h.6M204.4,135.6h.6M197.1,127.4h.6M198.8,126.7h.6M204.5,130.7h.6M210.8,123.8h.6M197.2,138.5h.6M209.4,129.4h.6M213.8,127.4h.6M199.8,124.6h.6M206.7,137.9h.6M202.4,129.9h.6M197.8,127.5h.6M214.0,124.2h.6M206.3,128.6h.6M199.9,131.0h.6M204.7,133.2h.6M205.9,119.8h.6M199.5,138.6h.6M207.4,114.6h.6M211.4,119.4h.6M198.4,121.7h.6M197.0,124.4h.6M214.2,131.1h.6M201.4,124.5h.6M200.3,130.4h.6M209.1,131.1h.6M204.0,127.5h.6M195.7,130.0h.6M203.6,126.2h.6M204.3,129.9h.6M205.9,117.0h.6M209.4,127.1h.6M196.4,126.4h.6M198.9,134.2h.6M205.0,128.2h.6M209.6,127.2h.6M214.5,125.9h.6M203.7,128.3h.6M195.3,128.7h.6M199.0,124.6h.6M205.5,118.8h.6M207.0,117.3h.6M206.7,131.5h.6M210.0,129.7h.6M202.7,134.0h.6M203.4,131.1h.6M195.4,131.9h.6M201.0,122.3h.6M195.5,127.0h.6M207.2,117.8h.6M195.6,133.2h.6M202.4,130.7h.6M204.7,121.8h.6M205.3,124.3h.6M209.6,127.4h.6M200.1,118.8h.6M204.7,123.0h.6M195.9,138.6h.6M195.4,128.2h.6M206.7,128.1h.6M211.0,132.9h.6M200.9,131.2h.6M209.5,131.9h.6M206.0,119.6h.6M205.4,119.8h.6M200.6,118.9h.6M199.9,138.6h.6M195.5,124.5h.6M203.7,132.6h.6M196.3,121.2h.6M195.9,128.2h.6M195.8,127.5h.6M211.9,125.3h.6M199.6,126.4h.6M199.3,132.3h.6M215.4,119.4h.6M209.5,128.6h.6M199.0,129.1h.6M200.7,122.0h.6M205.8,119.9h.6M201.8,136.7h.6M201.0,128.2h.6M214.0,124.9h.6M205.1,134.4h.6M202.9,138.6h.6M209.2,131.9h.6M198.3,120.3h.6M208.1,128.5h.6M213.3,127.0h.6M197.2,125.8h.6M195.3,134.0h.6M201.6,131.2h.6M208.0,117.8h.6M198.4,134.2h.6M206.7,128.7h.6M210.6,122.0h.6M201.8,124.0h.6M208.5,128.7h.6M208.1,134.2h.6M206.3,129.8h.6M201.1,138.7h.6M202.2,130.7h.6M201.6,124.2h.6M199.8,135.2h.6M206.8,124.6h.6M201.5,128.2h.6M195.5,135.5h.6M195.7,121.7h.6M195.7,124.6h.6M208.1,119.5h.6M201.4,130.3h.6M199.5,133.1h.6M197.4,127.0h.6M206.0,129.4h.6M198.4,123.8h.6M201.2,125.3h.6M202.1,130.5h.6M208.1,127.8h.6M211.1,136.8h.6M209.8,125.0h.6M214.5,122.2h.6M214.0,123.2h.6M205.1,132.1h.6M210.9,124.2h.6M211.0,122.8h.6M199.6,131.1h.6M195.9,128.5h.6M211.6,126.9h.6M201.4,136.4h.6M204.4,131.9h.6M211.3,127.6h.6M205.2,135.2h.6M209.0,123.4h.6M195.8,129.3h.6M200.2,137.9h.6M195.4,133.4h.6M203.4,131.4h.6M206.3,120.0h.6M210.1,127.3h.6M207.2,130.6h.6M204.0,128.3h.6M206.3,122.3h.6M205.0,130.0h.6M203.7,119.2h.6M208.8,122.5h.6M209.7,130.5h.6M196.7,129.5h.6M199.9,133.6h.6M200.0,120.7h.6M201.0,121.6h.6M212.5,132.5h.6M208.2,121.9h.6M210.3,125.0h.6M195.5,136.9h.6M207.6,116.0h.6M211.2,119.6h.6M208.0,121.3h.6M217.5,113.5h.6M207.0,113.0h.6M209.3,124.3h.6M208.8,119.3h.6M205.9,125.9h.6M203.6,118.0h.6M217.3,108.5h.6M197.7,126.3h.6M204.9,122.8h.6M205.0,124.6h.6M210.9,111.8h.6M214.7,117.4h.6M200.4,123.1h.6M213.9,119.5h.6M212.9,118.6h.6M207.7,125.4h.6M206.1,127.2h.6M213.6,118.3h.6M215.1,116.0h.6M212.9,116.3h.6M214.6,112.8h.6M212.1,112.4h.6M204.9,126.7h.6M206.9,120.1h.6M207.9,126.3h.6M212.6,120.7h.6M208.0,123.5h.6M203.1,124.1h.6M213.6,118.8h.6M212.3,122.8h.6M209.5,127.3h.6M207.7,121.2h.6M208.8,128.2h.6M208.7,128.4h.6M208.6,110.3h.6M205.1,118.7h.6M206.6,123.1h.6M209.3,123.6h.6M205.3,114.9h.6M200.3,123.8h.6M204.9,128.4h.6M208.0,121.8h.6M199.7,130.0h.6M200.1,131.3h.6M207.2,124.8h.6M212.6,120.2h.6M208.6,122.8h.6M210.8,130.4h.6M205.9,117.9h.6M211.6,123.0h.6M208.8,126.9h.6M210.8,125.2h.6M206.1,118.9h.6M212.4,122.7h.6M198.6,127.8h.6M206.7,116.8h.6M201.7,129.5h.6M205.7,122.6h.6M207.6,123.4h.6M200.7,121.7h.6M206.5,121.5h.6M207.7,122.0h.6M201.3,120.9h.6M213.9,122.0h.6M210.4,118.9h.6M209.5,117.4h.6M197.7,123.5h.6M205.4,118.1h.6M205.8,126.3h.6M215.6,119.5h.6M201.2,128.5h.6M205.6,124.6h.6M209.3,122.2h.6M204.0,119.6h.6M205.4,134.6h.6M207.7,125.4h.6M210.7,122.1h.6M211.3,123.5h.6M205.9,126.8h.6M207.6,117.0h.6M202.5,123.8h.6M211.5,114.0h.6M210.1,116.1h.6M210.6,121.3h.6M207.5,119.1h.6M211.4,127.4h.6M215.0,115.5h.6M207.2,124.6h.6M213.1,110.7h.6M209.9,121.5h.6M206.3,122.5h.6M210.3,116.4h.6M208.3,122.3h.6M203.5,127.3h.6M215.1,118.3h.6M200.7,129.4h.6M211.8,110.5h.6M205.8,125.8h.6M203.4,122.5h.6M205.9,124.9h.6M210.1,120.5h.6M198.0,124.4h.6M210.6,117.1h.6M209.6,121.3h.6M216.5,116.5h.6M208.2,125.3h.6M214.0,121.7h.6M217.7,121.8h.6M217.3,111.0h.6M206.2,126.6h.6M205.3,124.5h.6M210.2,114.7h.6M199.3,129.0h.6M199.8,122.3h.6M211.9,119.3h.6M212.2,122.2h.6M213.3,126.3h.6M211.6,121.9h.6M206.7,125.5h.6M203.8,120.0h.6M206.5,117.8h.6M207.1,112.9h.6M204.6,133.0h.6M209.5,117.3h.6M199.1,128.7h.6M214.5,124.0h.6M210.6,127.6h.6M206.2,132.8h.6M208.7,116.2h.6M213.4,114.7h.6M204.2,123.9h.6M209.9,115.6h.6M205.0,124.0h.6M204.1,119.0h.6M218.5,118.2h.6M209.1,122.6h.6M204.5,119.6h.6M206.6,117.2h.6M201.0,127.0h.6M208.4,118.1h.6M213.3,118.5h.6M215.8,119.4h.6M208.3,125.1h.6M211.7,118.6h.6M207.8,124.7h.6M210.9,121.8h.6M206.3,120.3h.6M202.5,127.7h.6M215.5,112.9h.6M206.1,119.2h.6M209.7,119.6h.6M208.2,119.6h.6M201.9,124.1h.6M203.3,121.8h.6M205.0,126.8h.6M206.8,119.9h.6M210.7,124.1h.6M205.5,128.1h.6M204.9,134.2h.6M215.9,123.4h.6M215.3,112.8h.6M211.8,118.9h.6M203.5,132.4h.6M213.4,119.1h.6M206.0,117.2h.6M195.4,116.1h.6M206.9,118.3h.6M209.0,126.1h.6M200.3,114.9h.6M207.8,113.2h.6M200.7,124.6h.6M209.0,112.3h.6M211.0,120.8h.6M204.0,134.3h.6M210.0,128.0h.6M210.6,126.3h.6M209.7,106.4h.6M201.9,125.5h.6M216.2,120.1h.6M209.9,121.5h.6M208.3,115.3h.6M206.1,124.3h.6M211.0,113.1h.6M208.4,116.3h.6M204.0,126.9h.6M208.9,120.4h.6M203.7,123.6h.6M207.5,113.6h.6M202.5,121.6h.6M211.9,123.5h.6M204.7,121.4h.6M206.9,122.9h.6M203.6,121.3h.6M213.4,122.8h.6M206.9,118.6h.6M213.1,114.9h.6M209.2,118.8h.6M206.1,116.1h.6M207.4,120.9h.6M207.6,122.5h.6M215.7,105.6h.6M203.2,119.7h.6M206.9,119.5h.6M211.4,116.1h.6M207.7,121.8h.6M218.4,114.0h.6M212.5,121.5h.6M202.7,118.7h.6M204.2,129.0h.6M207.7,118.1h.6M206.8,127.5h.6M203.0,120.6h.6M211.1,117.9h.6M207.7,130.3h.6M204.3,122.7h.6M204.2,123.9h.6M212.7,113.2h.6M208.8,116.1h.6M216.0,118.1h.6M215.9,120.9h.6M203.4,115.7h.6M201.5,125.7h.6M211.3,117.5h.6M209.7,120.3h.6M206.5,122.5h.6M205.9,123.8h.6M215.1,121.4h.6M212.9,114.1h.6M205.1,122.3h.6M203.7,131.9h.6M212.4,117.8h.6M210.1,122.4h.6M215.2,119.3h.6M209.1,133.6h.6M209.4,127.3h.6M207.4,129.1h.6M220.8,110.7h.6M212.6,124.4h.6M208.2,121.8h.6M205.8,123.1h.6M206.6,118.9h.6M213.4,116.2h.6M201.4,125.2h.6M206.9,120.7h.6M210.7,111.7h.6M207.7,120.8h.6M209.2,123.2h.6M208.7,117.1h.6M207.1,124.5h.6M206.4,120.2h.6M202.9,129.5h.6M207.8,124.4h.6M205.5,124.0h.6M202.0,118.3h.6M209.0,121.5h.6M207.9,121.7h.6M207.8,109.8h.6M202.4,124.4h.6M203.6,123.7h.6M202.1,126.6h.6M207.9,117.2h.6M212.8,119.8h.6M211.8,117.7h.6M200.4,130.0h.6M195.5,129.5h.6M199.4,135.8h.6M207.6,125.3h.6M213.0,114.2h.6M205.9,127.2h.6M203.3,127.2h.6M210.8,123.6h.6M202.1,129.6h.6M214.6,111.6h.6M217.8,113.9h.6M203.5,129.9h.6M207.4,117.7h.6M202.1,118.1h.6M215.8,113.9h.6M209.2,124.3h.6M213.2,113.6h.6M209.5,122.6h.6M212.3,125.6h.6M212.5,116.4h.6M200.6,118.4h.6M209.9,130.9h.6M211.2,124.0h.6M197.2,127.7h.6M214.6,119.0h.6M198.3,124.5h.6M204.2,126.4h.6M204.3,135.3h.6M204.8,127.1h.6M210.9,116.8h.6M206.8,120.1h.6M218.5,114.1h.6M206.0,120.8h.6M201.6,116.4h.6M204.6,122.4h.6M214.3,115.5h.6M200.3,122.7h.6M211.5,118.8h.6M211.1,117.2h.6M209.5,119.5h.6M214.9,112.1h.6M206.7,127.8h.6M210.0,116.6h.6M214.7,115.8h.6M202.9,122.6h.6M216.8,115.2h.6M200.3,124.2h.6M222.8,117.6h.6M212.1,115.4h.6M209.1,124.5h.6M214.9,114.5h.6M203.3,118.7h.6M199.9,124.9h.6M201.9,131.4h.6M211.4,127.0h.6M212.1,116.0h.6M218.2,113.4h.6M207.2,122.4h.6M204.1,123.1h.6M206.8,120.3h.6M206.0,122.4h.6M212.1,123.5h.6M206.3,121.1h.6M210.9,118.7h.6M203.1,125.8h.6M205.5,120.0h.6M212.1,117.8h.6M209.2,126.2h.6M209.6,119.3h.6M211.5,121.6h.6M208.7,116.1h.6M209.0,119.2h.6M206.0,121.8h.6M212.4,115.9h.6M216.0,107.4h.6M214.6,119.1h.6M207.0,123.0h.6M217.4,119.7h.6M207.2,121.2h.6M211.4,120.9h.6M209.1,124.8h.6M210.1,118.8h.6M206.6,127.2h.6M197.1,129.4h.6M200.3,128.9h.6M206.2,121.3h.6M207.6,125.9h.6M196.4,127.1h.6M212.7,122.1h.6M206.1,116.5h.6M202.7,131.2h.6M209.3,119.9h.6M195.9,122.0h.6M216.1,121.0h.6M212.8,118.1h.6M209.3,118.3h.6M207.2,122.5h.6M205.9,125.9h.6M203.0,127.0h.6M218.8,116.0h.6M207.3,127.0h.6M213.0,120.3h.6M209.0,118.3h.6M215.5,117.7h.6M203.7,127.0h.6M203.9,120.3h.6M207.5,119.9h.6M205.9,135.0h.6M208.0,120.3h.6M206.3,118.0h.6M209.7,128.8h.6M201.7,119.4h.6M211.8,121.4h.6M203.5,123.3h.6M215.5,116.7h.6M202.1,126.1h.6M206.0,122.5h.6M202.5,126.9h.6M206.0,127.8h.6M207.3,119.1h.6M205.5,121.5h.6M212.8,117.8h.6M204.6,113.5h.6M210.3,117.5h.6M202.4,120.1h.6M216.6,118.9h.6M207.6,120.7h.6M207.6,126.4h.6M206.3,119.1h.6M214.3,116.0h.6M208.9,119.6h.6M204.8,120.6h.6M204.6,122.4h.6M208.6,114.8h.6M216.6,116.3h.6M203.4,122.5h.6M203.9,131.2h.6M215.2,121.2h.6M210.2,120.6h.6M203.4,119.9h.6M209.5,117.2h.6M205.6,119.7h.6M205.2,115.0h.6M206.3,129.4h.6M207.5,116.1h.6M209.9,120.7h.6M214.8,118.5h.6M210.2,115.0h.6M215.3,111.8h.6M212.2,119.1h.6M216.5,116.3h.6M197.8,126.0h.6M205.4,120.0h.6M215.8,119.7h.6M210.1,112.6h.6M212.6,120.6h.6M213.3,119.6h.6M220.3,110.0h.6M211.2,120.3h.6M208.1,118.7h.6M205.5,119.1h.6M204.5,126.0h.6M203.0,124.0h.6M202.4,121.8h.6M199.7,135.4h.6M213.6,115.0h.6M208.5,126.9h.6M205.6,116.3h.6M207.8,121.6h.6M206.2,126.4h.6M202.6,128.1h.6M205.5,113.5h.6M212.5,120.1h.6M201.6,122.6h.6M207.2,122.0h.6M206.4,121.3h.6M198.7,122.6h.6M207.8,126.6h.6M212.7,119.0h.6M205.5,120.8h.6M206.5,123.9h.6M203.7,128.5h.6M207.8,117.7h.6M213.2,118.3h.6M198.4,130.9h.6M201.1,116.7h.6M212.9,120.2h.6M209.5,118.3h.6M213.5,114.4h.6M210.4,120.6h.6M207.5,112.0h.6M212.3,117.4h.6M213.8,114.8h.6M205.7,120.0h.6M206.5,119.6h.6M210.0,118.7h.6M207.0,126.1h.6M206.6,120.5h.6M214.3,115.5h.6M207.5,117.4h.6M214.3,116.2h.6M202.8,126.1h.6M215.3,117.1h.6M208.2,122.0h.6M202.2,115.1h.6M214.6,120.7h.6M206.2,123.9h.6M212.3,117.0h.6M212.0,116.1h.6M205.2,120.7h.6M204.1,118.6h.6M203.8,126.9h.6M205.0,125.6h.6M207.2,121.1h.6M208.7,117.4h.6M203.4,125.4h.6M210.9,124.8h.6M208.0,113.4h.6M197.9,126.9h.6M204.9,114.4h.6M210.4,116.1h.6M212.7,116.2h.6M203.4,124.5h.6M211.8,122.6h.6M205.3,121.1h.6M206.2,118.8h.6M210.9,119.4h.6M208.8,115.0h.6M220.0,121.7h.6M213.4,114.6h.6M203.3,118.2h.6M215.3,123.2h.6M211.0,119.3h.6M204.5,118.8h.6M215.7,109.1h.6M214.0,113.5h.6M205.2,119.5h.6M209.0,120.8h.6M206.4,122.5h.6M204.8,120.0h.6M212.7,130.0h.6M205.1,128.6h.6M200.2,125.5h.6M207.4,113.4h.6M214.8,120.6h.6M209.3,123.7h.6M206.0,111.7h.6M205.2,122.1h.6M210.1,115.7h.6M199.5,124.1h.6M208.4,120.9h.6M206.5,116.5h.6M209.4,118.4h.6M200.8,122.9h.6M217.6,112.0h.6M208.2,124.0h.6M210.0,128.1h.6M203.8,113.4h.6M205.8,122.3h.6M205.1,117.9h.6M212.0,116.7h.6M213.9,114.5h.6M217.8,117.4h.6M209.2,121.1h.6M212.8,117.5h.6M214.1,126.5h.6M213.8,116.4h.6M200.6,124.3h.6M204.2,119.4h.6M204.3,129.2h.6M209.0,116.4h.6M211.0,123.5h.6M216.4,120.7h.6M206.3,121.1h.6M216.2,121.1h.6M206.5,120.9h.6M210.3,124.5h.6M209.8,113.1h.6M214.2,117.5h.6M211.5,113.8h.6M209.3,122.3h.6M207.3,116.3h.6M212.5,118.7h.6M208.4,122.9h.6M212.3,115.6h.6M205.5,118.3h.6M205.9,119.7h.6M207.1,127.7h.6M210.7,119.4h.6M212.6,122.9h.6M206.1,132.4h.6M203.9,121.1h.6M202.8,122.8h.6M209.7,123.3h.6M207.3,126.5h.6M206.2,123.3h.6M212.4,113.5h.6M204.1,126.4h.6M208.5,118.3h.6M208.3,124.2h.6M204.3,125.0h.6M206.8,126.0h.6M207.5,123.7h.6M207.7,120.9h.6M208.4,127.7h.6M205.8,123.1h.6M203.6,127.1h.6M202.1,122.5h.6M213.9,117.8h.6M209.7,120.0h.6M210.2,118.2h.6M206.1,117.8h.6M206.2,122.4h.6M195.3,130.4h.6M210.5,129.3h.6M197.1,124.4h.6M207.8,115.6h.6M209.7,118.5h.6M214.1,113.2h.6M210.7,116.5h.6M208.3,120.7h.6M211.8,124.3h.6M214.0,113.6h.6M207.8,122.4h.6M213.7,117.8h.6M204.0,117.2h.6M220.6,113.2h.6M210.8,119.4h.6M217.6,118.2h.6M209.3,121.1h.6M212.8,126.0h.6M205.6,121.7h.6M213.7,117.3h.6M210.4,122.8h.6M209.2,119.5h.6M211.0,120.5h.6M210.3,120.9h.6M210.2,121.3h.6M209.4,128.9h.6M212.8,116.8h.6M215.4,122.0h.6M206.5,115.9h.6M204.2,114.8h.6M211.5,124.8h.6M200.0,122.7h.6M208.0,123.4h.6M214.6,111.3h.6M204.7,118.6h.6M215.5,110.7h.6M212.7,121.0h.6M205.3,119.6h.6M206.3,122.9h.6M214.2,119.1h.6M205.3,122.5h.6M203.2,127.5h.6M217.3,111.7h.6M211.2,125.6h.6M213.0,121.3h.6M210.7,110.7h.6M207.8,120.1h.6M212.5,114.9h.6M203.2,115.9h.6M204.8,121.9h.6M204.9,126.0h.6M207.7,122.7h.6M212.6,117.5h.6M209.2,121.5h.6M203.0,125.3h.6M211.3,127.6h.6M202.5,126.0h.6M208.8,117.3h.6M207.4,115.4h.6M212.4,116.7h.6M196.3,128.1h.6M202.8,126.3h.6M207.7,123.3h.6M212.1,119.2h.6M207.6,117.0h.6M199.4,125.2h.6M206.8,117.1h.6M201.3,124.7h.6M205.9,116.2h.6M209.4,123.4h.6M206.4,113.4h.6M206.4,119.9h.6M216.5,108.8h.6M201.2,126.2h.6M206.7,120.0h.6M209.6,116.7h.6M217.6,128.1h.6M212.0,120.7h.6M201.5,115.6h.6M213.0,112.1h.6M206.7,114.7h.6M211.5,122.7h.6M209.3,130.2h.6M212.7,117.2h.6M209.7,124.2h.6M204.0,133.2h.6M199.4,129.1h.6M213.8,115.4h.6M196.6,126.2h.6M201.9,125.8h.6M207.6,127.0h.6M211.6,126.4h.6M209.6,112.0h.6M216.4,117.8h.6M202.9,125.7h.6M202.2,122.7h.6M208.7,121.9h.6M200.6,121.4h.6M214.0,120.8h.6M208.3,112.5h.6M205.3,122.7h.6M208.4,126.5h.6M203.9,124.6h.6M209.6,119.4h.6M208.6,119.5h.6M210.8,119.2h.6M209.8,121.9h.6M211.5,120.5h.6M211.1,119.7h.6M207.0,117.5h.6M205.4,122.6h.6M204.2,123.1h.6M203.7,122.6h.6M217.5,125.9h.6M215.1,111.9h.6M207.6,120.1h.6M208.7,123.3h.6M210.4,119.6h.6M210.2,115.7h.6M211.2,117.9h.6M207.9,128.3h.6M206.8,127.0h.6M203.5,122.9h.6M213.3,116.6h.6M205.8,119.3h.6M200.4,128.0h.6M209.8,123.7h.6M210.7,123.2h.6M208.5,125.5h.6M210.4,116.5h.6M215.6,120.7h.6M199.4,124.6h.6M204.0,123.0h.6M204.9,125.8h.6M207.9,131.3h.6M208.3,121.9h.6M205.8,120.6h.6M208.1,120.2h.6M211.4,120.9h.6M200.2,121.1h.6M206.3,124.6h.6M201.9,131.4h.6M204.8,117.7h.6M211.3,122.0h.6M209.0,122.5h.6M213.3,120.8h.6M210.3,113.9h.6M207.3,122.1h.6M204.7,125.9h.6M210.2,120.0h.6M199.4,128.4h.6M199.2,132.8h.6M210.1,122.8h.6M208.7,114.8h.6M208.1,121.8h.6M214.0,119.8h.6M203.4,118.7h.6M210.3,116.9h.6M201.9,129.8h.6M205.0,125.1h.6M212.2,115.3h.6M206.3,125.6h.6M207.3,122.6h.6M212.3,116.9h.6M209.6,118.6h.6M205.6,118.2h.6M208.0,126.7h.6M209.8,112.6h.6M212.9,119.8h.6M207.0,126.2h.6M213.4,120.9h.6M214.4,112.9h.6M207.0,117.3h.6M209.1,119.8h.6M207.6,122.3h.6M213.7,119.0h.6M215.7,121.3h.6M202.5,127.3h.6M206.7,120.6h.6M202.7,120.1h.6M210.2,125.1h.6M206.4,123.0h.6M209.6,119.0h.6M203.2,124.4h.6M210.5,114.2h.6M208.8,130.8h.6M205.6,118.0h.6M199.7,127.6h.6M203.0,126.8h.6M213.6,118.4h.6M208.5,124.1h.6M199.6,117.6h.6M208.4,116.1h.6M207.3,127.6h.6M210.6,122.6h.6M213.6,118.2h.6M213.3,125.9h.6M207.1,127.7h.6M214.4,112.0h.6M208.2,125.6h.6M213.6,117.1h.6M206.2,124.3h.6M205.8,130.1h.6M211.7,115.4h.6M209.5,117.6h.6M208.8,121.1h.6M215.3,128.2h.6M209.8,124.6h.6M205.7,125.7h.6M205.8,119.4h.6M213.2,118.8h.6M214.0,115.8h.6M206.7,127.5h.6M214.2,123.5h.6M199.2,131.6h.6M211.4,122.8h.6M206.9,128.9h.6M203.6,115.3h.6M210.8,105.6h.6M202.1,124.0h.6M208.5,117.9h.6M205.7,119.8h.6M212.1,120.5h.6M210.4,109.9h.6M203.8,123.2h.6M206.1,122.8h.6M208.7,116.8h.6M209.2,126.7h.6M218.2,118.6h.6M213.4,110.1h.6M214.9,116.4h.6M209.5,122.7h.6M202.8,121.6h.6M203.1,119.0h.6M206.9,123.1h.6M202.5,124.1h.6M197.8,127.6h.6M206.0,120.0h.6M206.9,119.0h.6M201.8,119.8h.6M213.5,112.7h.6M209.2,115.3h.6M204.6,127.0h.6M206.3,122.9h.6M212.0,119.4h.6M211.5,117.8h.6M202.5,131.0h.6M214.6,114.9h.6M213.2,117.3h.6M211.7,119.9h.6M196.8,123.4h.6M210.1,122.0h.6M209.3,117.9h.6M203.5,121.1h.6M210.3,120.2h.6M210.4,117.4h.6M210.7,113.6h.6M210.0,114.2h.6M215.9,116.5h.6M206.0,126.8h.6M209.5,129.5h.6M212.3,116.2h.6M209.3,119.2h.6M203.4,120.8h.6M210.6,123.6h.6M212.5,121.9h.6M213.3,117.4h.6M202.2,123.1h.6M200.7,118.1h.6M202.7,128.5h.6M219.1,119.4h.6M211.4,122.2h.6M207.0,117.5h.6M211.4,116.6h.6M205.3,114.1h.6M209.6,124.7h.6M207.4,122.0h.6M215.4,120.1h.6M213.6,114.9h.6M208.8,125.6h.6M202.5,121.4h.6M205.1,124.7h.6M203.3,122.6h.6M208.7,113.9h.6M204.0,126.8h.6M209.1,116.9h.6M211.4,130.8h.6M214.1,128.7h.6M209.1,127.2h.6M208.3,130.2h.6M211.0,119.0h.6M210.7,127.0h.6M213.5,114.8h.6M207.4,118.4h.6M210.1,117.1h.6M205.1,114.1h.6M213.0,121.0h.6M213.6,123.5h.6M209.0,127.0h.6M209.4,120.4h.6M214.1,121.6h.6M202.4,129.2h.6M210.5,123.0h.6M207.4,119.8h.6M211.9,121.5h.6M206.7,124.4h.6M206.6,120.1h.6M214.1,125.1h.6M208.5,124.3h.6M213.9,120.9h.6M204.1,119.7h.6M205.8,113.1h.6M212.3,121.7h.6M211.2,118.1h.6M206.5,120.8h.6M207.3,113.1h.6M202.8,125.3h.6M209.3,122.8h.6M207.8,122.2h.6M209.5,125.7h.6M207.0,113.3h.6M213.4,116.5h.6M211.3,122.2h.6M210.8,119.1h.6M205.3,115.0h.6M210.5,119.2h.6M203.2,124.7h.6M209.4,117.3h.6M204.3,125.0h.6M206.8,123.7h.6M218.5,119.7h.6M209.9,121.9h.6M206.9,127.0h.6M208.6,117.2h.6M209.4,116.3h.6M209.8,120.8h.6M209.7,121.2h.6M208.6,117.5h.6M211.3,121.4h.6M209.8,114.5h.6M205.9,121.8h.6M205.1,127.7h.6M213.7,110.8h.6M206.3,121.4h.6M206.0,119.4h.6M212.7,109.8h.6M213.6,119.8h.6M213.0,123.3h.6M195.5,122.4h.6M209.6,118.6h.6M207.3,118.0h.6M202.8,123.8h.6M210.2,121.8h.6M214.9,111.1h.6M204.9,130.5h.6M204.3,120.5h.6M206.0,113.6h.6M208.8,130.7h.6M207.9,124.2h.6M209.9,112.0h.6M212.2,122.5h.6M215.4,119.6h.6M223.2,113.3h.6M209.4,116.1h.6M209.8,115.3h.6M198.0,126.1h.6M208.5,120.5h.6M209.4,125.7h.6M206.0,119.8h.6M208.3,120.8h.6M210.6,117.8h.6M210.6,115.6h.6M209.5,122.7h.6M206.2,124.9h.6M211.9,122.1h.6M202.9,135.0h.6M207.4,122.5h.6M215.0,115.3h.6M202.5,126.7h.6M210.4,116.7h.6M212.2,120.9h.6M213.8,110.1h.6M200.6,126.7h.6M209.4,125.0h.6M212.8,122.3h.6M205.5,117.0h.6M208.1,117.6h.6M205.2,115.9h.6M208.5,115.0h.6M209.3,124.6h.6M205.2,120.0h.6M213.0,113.2h.6M211.8,116.0h.6M201.3,128.8h.6M209.4,118.7h.6M210.0,109.4h.6M207.5,125.6h.6M214.9,117.3h.6M205.9,126.0h.6M215.2,122.2h.6M217.7,111.7h.6M212.8,119.4h.6M208.8,121.9h.6M210.2,119.3h.6M211.0,117.7h.6M209.4,125.9h.6M209.9,114.9h.6M208.3,116.2h.6M207.7,117.8h.6M207.4,124.5h.6M207.2,126.7h.6M213.7,112.8h.6M206.8,125.2h.6M203.5,118.7h.6M215.1,109.6h.6M217.6,114.1h.6M212.0,118.5h.6M209.0,123.7h.6M207.4,124.4h.6M205.4,125.0h.6M196.4,133.1h.6M210.0,119.3h.6M211.0,120.5h.6M213.4,111.6h.6M196.6,138.6h.6M210.5,122.3h.6M215.0,114.1h.6M207.1,126.7h.6M201.8,120.8h.6M204.6,125.8h.6M202.4,126.4h.6M203.9,113.8h.6M218.4,119.4h.6M207.6,121.4h.6M199.4,115.6h.6M205.0,116.7h.6M204.9,119.3h.6M203.2,123.4h.6M198.6,121.0h.6M209.7,113.0h.6M213.7,118.2h.6M207.4,122.4h.6M209.9,121.7h.6M209.1,118.4h.6M211.0,123.2h.6M200.9,121.0h.6M199.8,129.8h.6M217.5,120.8h.6M206.7,123.9h.6M205.5,125.1h.6M210.2,123.6h.6M212.4,118.1h.6M211.0,122.3h.6M211.2,124.5h.6M216.0,115.8h.6M212.8,111.7h.6M210.9,119.1h.6M206.6,124.9h.6M209.1,122.5h.6M210.8,121.6h.6M207.2,122.3h.6M215.2,119.4h.6M204.2,116.3h.6M213.4,118.0h.6M199.1,121.6h.6M198.3,124.7h.6M213.6,111.6h.6M209.8,123.1h.6M214.1,114.3h.6M210.9,123.4h.6M213.9,115.3h.6M203.5,121.1h.6M208.9,114.8h.6M200.4,118.8h.6M205.6,127.8h.6M208.4,125.1h.6M206.3,120.4h.6M212.0,116.9h.6M211.3,125.6h.6M201.7,122.9h.6M208.4,120.6h.6M200.7,128.9h.6M205.0,120.1h.6M203.3,115.3h.6M212.7,121.0h.6M212.9,107.6h.6M209.6,114.7h.6M202.4,128.3h.6M203.7,123.3h.6M206.5,125.8h.6M208.8,122.5h.6M210.3,120.7h.6M205.2,118.1h.6M209.7,116.9h.6M208.9,120.9h.6M206.9,118.8h.6M203.6,121.6h.6M209.1,123.8h.6M205.8,125.6h.6M210.7,109.8h.6M209.4,121.2h.6M205.9,120.8h.6M210.6,117.2h.6M206.1,117.4h.6M218.1,119.3h.6M208.4,123.0h.6M209.7,126.0h.6M210.5,119.3h.6M205.3,119.2h.6M210.1,120.6h.6M202.0,129.5h.6M205.8,132.7h.6M210.1,121.3h.6M210.5,128.3h.6M210.0,119.3h.6M205.4,119.8h.6M206.1,121.9h.6M206.9,128.7h.6M203.7,129.0h.6M213.5,115.5h.6M208.4,118.3h.6M209.3,129.4h.6M204.2,128.5h.6M205.8,127.2h.6M213.8,120.4h.6M208.5,120.8h.6M207.2,122.4h.6M210.3,122.9h.6M207.1,121.3h.6M213.4,107.8h.6M215.5,125.6h.6M207.5,129.9h.6M211.9,122.1h.6M206.8,114.6h.6M210.8,115.8h.6M204.2,128.9h.6M204.1,125.2h.6M205.4,116.3h.6M213.2,118.8h.6M211.2,122.3h.6M212.1,124.5h.6M207.3,123.3h.6M212.1,118.7h.6M201.9,127.4h.6M211.0,114.5h.6M204.1,128.7h.6M208.2,128.1h.6M199.4,118.7h.6M200.8,124.3h.6M206.5,124.8h.6M210.9,122.5h.6M203.9,123.7h.6M210.9,120.2h.6M207.2,113.9h.6M210.0,121.0h.6M209.2,117.9h.6M204.4,116.2h.6M207.6,128.0h.6M205.9,125.6h.6M211.7,107.3h.6M204.9,125.9h.6M209.6,119.9h.6M205.4,117.7h.6M209.7,124.5h.6M203.7,125.5h.6M210.5,123.0h.6M209.3,126.9h.6M209.9,120.2h.6M205.6,120.6h.6M205.9,128.1h.6M210.3,122.8h.6M208.5,115.6h.6M206.8,119.0h.6M204.1,131.6h.6M208.8,120.7h.6M209.5,112.9h.6M211.0,114.5h.6M209.6,119.5h.6M201.2,121.8h.6M210.8,115.2h.6M208.3,118.2h.6M208.4,119.5h.6M210.1,123.0h.6M211.4,111.2h.6M207.1,124.4h.6M206.7,122.4h.6M211.0,117.3h.6M206.8,127.5h.6M210.0,121.1h.6M203.7,116.3h.6M210.6,113.6h.6M209.0,113.1h.6M209.2,121.1h.6M207.2,124.6h.6M208.6,117.3h.6M210.7,118.2h.6M208.3,116.3h.6M204.7,122.8h.6M205.3,122.4h.6M211.1,119.2h.6M204.9,124.0h.6M207.8,117.1h.6M205.7,121.6h.6M201.9,123.2h.6M207.2,125.9h.6M207.8,123.5h.6M202.1,120.4h.6M208.5,125.2h.6M207.1,119.4h.6M209.2,119.5h.6M204.6,122.1h.6M208.0,118.7h.6M203.4,128.7h.6M198.9,122.9h.6M197.3,122.8h.6M211.8,114.6h.6M212.6,117.0h.6M202.8,119.1h.6M209.5,118.0h.6M203.9,118.7h.6M210.6,113.0h.6M209.3,119.4h.6M218.6,116.6h.6M209.1,118.2h.6M214.6,117.6h.6M202.4,128.6h.6M209.3,126.7h.6M211.7,112.0h.6M204.6,120.7h.6M212.6,120.3h.6M198.5,124.4h.6M211.1,118.5h.6M206.4,125.5h.6M216.3,118.9h.6M208.5,117.1h.6M212.7,118.1h.6M210.4,126.5h.6M219.3,119.0h.6M207.8,119.6h.6M207.8,122.0h.6M201.5,121.8h.6M216.6,114.4h.6M212.6,121.0h.6M205.4,122.8h.6M211.4,124.7h.6M208.7,122.0h.6M208.0,123.8h.6M210.5,118.2h.6M212.0,126.7h.6M203.0,123.6h.6M208.2,115.4h.6M206.0,126.3h.6M217.8,121.5h.6M216.5,113.0h.6M211.9,109.5h.6M203.6,118.4h.6M211.8,113.2h.6M208.0,119.1h.6M208.2,119.2h.6M213.6,119.9h.6M206.9,122.4h.6M205.2,120.4h.6M208.8,109.3h.6M197.2,125.7h.6M214.3,116.5h.6M209.0,113.5h.6M213.3,125.9h.6M198.0,122.7h.6M202.3,126.8h.6M213.6,118.7h.6M208.6,122.4h.6M206.9,120.4h.6M213.4,114.9h.6M207.7,121.8h.6M210.2,121.1h.6M212.2,115.9h.6M209.1,118.1h.6M211.6,127.5h.6M211.5,126.5h.6M207.7,131.4h.6M204.1,125.9h.6M208.7,120.5h.6M206.4,119.4h.6M210.4,116.5h.6M206.8,127.5h.6M208.3,117.2h.6M206.3,129.0h.6M208.3,120.0h.6M202.8,121.5h.6M214.4,115.4h.6M207.3,125.6h.6M209.8,119.9h.6M203.5,130.0h.6M207.8,115.5h.6M209.6,118.0h.6M206.2,117.7h.6M211.1,117.4h.6M208.8,121.9h.6M205.8,126.7h.6M216.3,114.3h.6M205.8,119.1h.6M208.9,119.8h.6M205.8,121.2h.6M209.7,122.7h.6M209.6,121.3h.6M202.6,114.4h.6M219.0,111.3h.6M207.8,121.5h.6M213.3,117.6h.6M209.9,110.7h.6M206.9,118.8h.6M210.1,120.4h.6M207.2,117.0h.6M213.5,119.7h.6M209.3,120.3h.6M216.3,115.9h.6M209.8,125.5h.6M207.5,116.7h.6M201.1,119.9h.6M205.5,124.6h.6M211.5,116.5h.6M206.0,122.2h.6M204.9,122.9h.6M214.9,112.9h.6M204.1,125.8h.6M202.9,121.8h.6M210.1,128.7h.6M202.9,123.3h.6M210.7,123.9h.6M217.8,112.1h.6M209.0,118.1h.6M211.4,124.6h.6M207.6,125.4h.6M204.7,124.9h.6M210.1,123.5h.6M197.5,126.1h.6M208.6,121.1h.6M207.2,114.2h.6M213.4,117.5h.6M211.3,124.7h.6M209.2,125.8h.6M212.9,114.4h.6M207.9,119.0h.6M210.4,120.9h.6M206.6,122.9h.6M206.2,116.6h.6M209.0,120.8h.6M215.2,114.7h.6M206.9,122.1h.6M207.9,115.9h.6M207.8,116.9h.6M214.8,118.5h.6M207.7,126.2h.6M207.9,114.6h.6M206.9,122.2h.6M209.9,115.1h.6M215.3,117.7h.6M207.1,120.9h.6M210.4,120.6h.6M206.5,115.4h.6M202.3,120.2h.6M215.0,117.3h.6M209.6,122.9h.6M204.5,125.8h.6M205.9,115.2h.6M205.5,118.1h.6M211.5,116.2h.6M204.2,120.3h.6M212.3,116.5h.6M204.8,122.2h.6M208.6,127.0h.6M211.5,126.5h.6M204.5,120.6h.6M207.1,121.7h.6M217.6,122.5h.6M216.7,113.7h.6M207.5,130.5h.6M211.0,109.2h.6M208.7,122.7h.6M218.8,112.9h.6M202.9,115.2h.6M208.7,113.5h.6M202.4,120.4h.6M215.8,122.4h.6M211.7,121.6h.6M202.6,121.4h.6M204.9,115.8h.6M205.5,125.0h.6M206.1,126.5h.6M218.9,112.1h.6M211.1,112.7h.6M207.5,121.7h.6M207.1,116.1h.6M208.6,126.3h.6M215.5,121.6h.6M215.4,114.1h.6M204.2,122.4h.6M207.3,127.1h.6M216.1,119.2h.6M210.0,125.8h.6M206.5,123.4h.6M207.5,124.4h.6M209.2,120.1h.6M201.5,132.1h.6M214.3,118.5h.6M198.3,122.2h.6M213.1,114.8h.6M204.0,120.3h.6M202.6,121.8h.6M206.8,125.2h.6M206.6,132.6h.6M208.1,111.2h.6M209.4,120.3h.6M203.0,110.0h.6M216.9,118.1h.6M205.0,122.7h.6M212.6,117.2h.6M211.3,110.1h.6M203.0,126.4h.6M207.1,119.4h.6M208.6,116.5h.6M207.1,115.8h.6M216.5,115.1h.6M206.6,118.3h.6M204.4,120.5h.6M200.3,125.4h.6M211.5,114.6h.6M212.2,116.6h.6M203.3,120.6h.6M207.0,122.6h.6M203.5,122.9h.6M208.0,129.0h.6M203.8,129.1h.6M202.8,125.6h.6M212.7,110.8h.6M206.7,116.5h.6M218.2,115.3h.6M211.6,112.2h.6M198.9,125.6h.6M205.8,130.5h.6M208.5,119.2h.6M206.2,125.7h.6M205.6,121.1h.6M206.1,117.5h.6M205.6,130.1h.6M209.2,108.4h.6M205.8,115.1h.6M204.8,122.9h.6M206.7,112.8h.6M213.4,114.0h.6M211.8,111.2h.6M202.1,132.9h.6M210.9,131.3h.6M212.2,121.5h.6M203.7,125.7h.6M203.7,115.9h.6M203.3,127.9h.6M208.6,117.4h.6M219.3,114.7h.6M199.1,128.8h.6M200.6,124.1h.6M200.7,119.0h.6M212.8,122.1h.6M208.3,110.8h.6M210.4,120.7h.6M211.2,126.9h.6M214.1,120.6h.6M210.2,121.8h.6M208.1,115.0h.6M201.8,129.1h.6M206.9,127.8h.6M205.3,127.1h.6M208.7,131.5h.6M205.5,117.2h.6M208.3,121.2h.6M195.6,130.2h.6M206.8,117.5h.6M210.6,125.9h.6M213.0,115.5h.6M214.1,122.4h.6M205.2,115.9h.6M205.3,117.2h.6M205.1,124.8h.6M207.4,121.0h.6M210.1,116.8h.6M210.8,121.4h.6M205.3,122.7h.6M203.6,119.9h.6M206.1,125.9h.6M204.2,117.3h.6M212.6,119.1h.6M214.9,119.2h.6M210.0,121.6h.6M204.4,119.6h.6M208.9,122.3h.6M207.1,118.3h.6M203.6,122.9h.6M205.6,122.2h.6M209.5,118.2h.6M201.8,133.0h.6M211.6,127.4h.6M217.5,114.4h.6M206.9,121.8h.6M206.6,130.9h.6M209.0,125.4h.6M214.7,123.2h.6M208.8,120.1h.6M201.5,119.6h.6M207.6,117.3h.6M215.0,118.8h.6M215.4,124.6h.6M211.7,120.9h.6M207.2,125.9h.6M211.8,124.4h.6M201.7,116.4h.6M214.5,119.1h.6M203.5,126.6h.6M211.7,120.8h.6M202.3,123.6h.6M204.8,122.2h.6M206.3,124.2h.6M204.0,128.3h.6M202.9,124.4h.6M207.8,125.8h.6M207.1,119.0h.6M206.5,117.0h.6M209.3,120.3h.6M204.6,117.9h.6M210.9,120.5h.6M208.1,118.1h.6M216.8,120.1h.6M213.2,115.9h.6M212.1,111.4h.6M199.2,127.3h.6M203.8,122.8h.6M208.3,122.3h.6M204.0,120.2h.6M208.1,123.5h.6M200.3,122.5h.6M205.3,122.3h.6M220.9,106.0h.6M204.9,123.0h.6M207.7,125.5h.6M217.2,111.7h.6M206.5,124.1h.6M215.3,106.5h.6M204.3,122.9h.6M199.9,117.9h.6M203.3,125.2h.6M208.0,115.1h.6M202.9,125.6h.6M197.7,123.1h.6M209.0,121.6h.6M207.5,123.9h.6M212.0,120.2h.6M208.5,123.2h.6M206.4,124.0h.6M215.8,120.7h.6M208.2,117.9h.6M202.7,121.0h.6M214.2,119.9h.6M204.0,123.5h.6M203.3,118.5h.6M204.9,127.9h.6M207.1,125.4h.6M213.2,122.2h.6M209.4,127.2h.6M206.5,123.1h.6M211.3,113.8h.6M205.7,127.8h.6M202.5,119.1h.6M210.8,113.4h.6M210.7,117.1h.6M205.4,124.9h.6M206.0,129.8h.6M204.4,125.8h.6M216.2,109.1h.6M204.2,118.1h.6M214.3,114.2h.6M204.8,116.8h.6M206.1,122.5h.6M204.5,121.6h.6M196.8,129.0h.6M216.8,111.7h.6M207.7,114.4h.6M211.2,113.9h.6M207.1,123.0h.6M209.2,123.0h.6M204.3,126.2h.6M210.1,131.6h.6M206.1,131.2h.6M211.8,114.7h.6M207.0,121.4h.6M211.3,120.0h.6M211.7,120.5h.6M206.7,117.5h.6M208.6,116.8h.6M205.0,126.7h.6M199.9,116.4h.6M210.9,117.3h.6M206.0,116.1h.6M205.4,120.7h.6M210.8,123.7h.6M203.4,124.6h.6M207.5,123.5h.6M203.9,129.8h.6M209.6,126.8h.6M211.5,114.6h.6M204.4,123.0h.6M208.0,126.4h.6M211.6,109.2h.6M205.3,125.1h.6M209.9,120.9h.6M205.5,128.7h.6M208.4,123.9h.6M203.3,119.0h.6M210.6,116.3h.6M202.0,120.8h.6M209.8,125.5h.6M214.3,116.8h.6M206.3,124.0h.6M207.1,118.6h.6M207.2,123.2h.6M203.7,124.9h.6M202.1,124.8h.6M207.1,124.2h.6M208.0,116.8h.6M212.4,123.6h.6M199.5,130.9h.6M205.9,130.6h.6M211.0,119.8h.6M204.6,115.9h.6M211.5,114.9h.6M203.2,118.6h.6M203.6,117.1h.6M208.7,133.4h.6M213.3,127.1h.6M216.9,116.9h.6M205.2,134.0h.6M206.7,119.3h.6M218.1,113.0h.6M208.1,114.7h.6M208.6,123.9h.6M202.3,117.2h.6M208.4,120.0h.6M207.7,123.1h.6M209.8,126.4h.6M199.6,127.5h.6M212.7,120.5h.6M216.7,115.6h.6M206.0,128.5h.6M210.5,125.7h.6M209.2,114.5h.6M207.4,122.7h.6M199.3,123.4h.6M208.6,124.4h.6M214.5,115.3h.6M207.5,119.2h.6M209.1,111.6h.6M212.9,120.8h.6M210.9,112.6h.6M203.3,124.8h.6M212.2,118.2h.6M210.4,123.1h.6M207.3,120.7h.6M213.3,112.1h.6M207.1,118.0h.6M208.1,117.3h.6M210.0,117.1h.6M214.2,126.2h.6M213.1,119.9h.6M205.7,122.0h.6M213.3,119.1h.6M212.6,121.5h.6M200.3,131.3h.6M214.0,117.0h.6M209.7,113.5h.6M207.7,116.8h.6M207.0,132.2h.6M214.9,121.0h.6M205.3,124.0h.6M208.9,126.9h.6M204.4,122.3h.6M205.2,121.7h.6M210.7,128.0h.6M201.5,124.3h.6M206.2,129.8h.6M206.8,126.8h.6M214.4,115.1h.6M213.2,111.0h.6M219.6,111.1h.6M204.4,129.1h.6M210.7,125.9h.6M205.9,129.1h.6M204.0,129.3h.6M195.4,123.7h.6M206.7,129.3h.6M206.6,119.2h.6M217.1,120.1h.6M204.5,121.6h.6M205.0,118.3h.6M203.7,120.7h.6M210.6,111.3h.6M216.0,116.9h.6M206.5,122.3h.6M208.7,129.0h.6M206.5,124.1h.6M206.3,123.2h.6M211.6,119.2h.6M212.1,115.9h.6M205.8,114.9h.6M201.4,118.9h.6M211.3,116.8h.6M201.4,125.9h.6M213.4,122.3h.6M207.0,124.4h.6M209.9,132.1h.6M205.7,128.4h.6M205.3,119.9h.6M218.1,119.5h.6M211.8,116.5h.6M216.1,109.2h.6M211.3,113.6h.6M212.3,114.7h.6M213.4,112.0h.6M208.8,112.3h.6M219.7,109.2h.6M215.7,111.9h.6M208.5,116.5h.6M212.1,114.3h.6M214.3,111.5h.6M208.0,122.6h.6M212.9,116.0h.6M214.4,114.9h.6M215.2,110.6h.6M214.8,112.7h.6M212.2,111.9h.6M212.0,115.8h.6M210.2,112.2h.6M216.2,110.8h.6M211.9,113.5h.6M211.7,116.2h.6M219.6,110.2h.6M214.1,113.6h.6M215.6,113.7h.6M218.2,110.8h.6M215.3,114.8h.6M206.8,119.0h.6M216.4,112.9h.6M213.0,117.3h.6M213.0,114.2h.6M213.1,113.3h.6M216.3,109.5h.6M212.9,116.9h.6M210.6,117.4h.6M211.4,116.2h.6M208.8,118.4h.6M209.4,119.6h.6M213.0,111.8h.6M208.5,117.5h.6M213.3,118.3h.6M215.1,110.1h.6M216.5,111.3h.6M208.1,115.9h.6M210.0,114.6h.6M210.8,115.6h.6M212.3,110.3h.6M218.8,106.3h.6M209.8,116.1h.6M212.5,118.4h.6M207.9,113.8h.6M212.3,117.0h.6M210.4,117.5h.6M218.9,109.9h.6M211.5,118.5h.6M213.4,113.1h.6M218.6,105.8h.6M215.3,110.7h.6M209.8,114.4h.6M215.6,112.2h.6M217.6,106.7h.6M217.0,108.5h.6M210.5,118.3h.6M216.1,110.2h.6M219.8,111.3h.6M218.7,108.4h.6M213.8,118.4h.6M214.2,112.0h.6M211.2,118.1h.6M220.0,107.8h.6M211.5,117.0h.6M213.4,115.4h.6M216.8,105.4h.6M214.2,112.1h.6M214.3,112.1h.6M213.0,118.5h.6M212.4,114.1h.6M218.1,110.7h.6M215.9,109.1h.6M214.0,115.4h.6M210.6,114.6h.6M210.2,116.2h.6M208.8,117.8h.6M213.6,116.3h.6M210.5,117.0h.6M211.3,114.2h.6M210.5,117.3h.6M215.7,111.4h.6M211.3,119.6h.6M213.9,113.2h.6M209.1,118.1h.6M219.6,107.5h.6M216.4,116.2h.6M217.0,109.1h.6M209.9,115.6h.6M212.5,113.4h.6M214.5,110.5h.6M215.1,108.6h.6M210.7,120.6h.6M211.3,117.2h.6M215.8,111.7h.6M218.3,110.2h.6M214.0,113.5h.6M217.8,108.9h.6M217.6,111.2h.6M212.9,116.3h.6M221.0,102.4h.6M213.7,108.1h.6M212.6,113.9h.6M215.6,111.9h.6M208.4,116.7h.6M212.7,113.1h.6M213.4,114.5h.6M215.8,115.2h.6M215.3,112.8h.6M213.5,117.9h.6M217.4,109.8h.6M214.0,114.6h.6M218.6,110.8h.6M213.3,116.7h.6M213.0,112.7h.6M214.1,115.5h.6M218.8,106.8h.6M212.6,115.4h.6M210.9,113.4h.6M216.2,108.1h.6M213.1,114.7h.6M214.3,115.1h.6M209.0,115.7h.6M214.6,112.5h.6M211.6,118.3h.6M212.4,110.8h.6M215.3,113.3h.6M215.0,110.2h.6M213.2,114.1h.6M214.4,110.9h.6M213.1,113.5h.6M212.4,113.1h.6M216.3,113.4h.6M217.7,108.7h.6M215.0,112.3h.6M213.5,111.0h.6M211.0,121.1h.6M220.4,103.8h.6M217.0,110.7h.6M216.3,107.8h.6M217.3,115.2h.6M218.9,104.6h.6M213.7,113.0h.6M220.8,107.7h.6M212.5,116.8h.6M211.8,112.4h.6M213.8,116.2h.6M210.1,122.4h.6M217.2,112.1h.6M209.2,120.8h.6M209.4,114.7h.6M212.1,116.5h.6M217.5,116.6h.6M219.3,111.2h.6M216.4,111.3h.6M217.8,116.1h.6M211.4,113.3h.6M215.3,111.8h.6M212.4,111.8h.6M211.5,116.0h.6M213.3,115.2h.6M218.7,109.0h.6M214.8,111.6h.6M210.4,118.6h.6M213.1,112.7h.6M212.8,117.0h.6M215.6,111.3h.6M214.2,108.9h.6M215.6,115.4h.6M213.4,115.0h.6M213.8,114.7h.6M209.1,115.3h.6M217.2,111.0h.6M215.5,109.1h.6M214.4,112.5h.6M206.0,119.2h.6M217.7,113.7h.6M214.8,117.2h.6M211.8,117.8h.6M211.4,113.3h.6M215.5,109.8h.6M216.6,112.9h.6M211.1,115.0h.6M213.5,113.8h.6M220.0,108.0h.6M212.3,115.9h.6M213.2,114.1h.6M217.5,110.9h.6M214.1,115.5h.6M217.6,110.7h.6M214.4,117.2h.6M217.2,107.4h.6M217.6,111.3h.6M216.5,112.5h.6M213.0,114.0h.6M227.0,106.1h.6M213.1,120.8h.6M216.3,111.0h.6M218.6,111.8h.6M215.0,113.6h.6M216.8,107.6h.6M210.5,119.1h.6M217.9,107.7h.6M214.6,111.5h.6M213.8,113.4h.6M218.0,104.1h.6M210.4,114.1h.6M217.8,114.8h.6M204.1,117.3h.6M215.6,111.2h.6M213.8,113.9h.6M213.5,113.1h.6M212.9,115.0h.6M211.8,114.9h.6M216.9,112.0h.6M224.7,103.4h.6M223.5,106.0h.6M222.6,104.1h.6M216.3,112.7h.6M222.1,104.1h.6M216.5,110.0h.6M218.2,108.4h.6M221.7,104.6h.6M220.4,105.8h.6M225.7,98.6h.6M221.8,103.0h.6M221.2,107.3h.6M218.2,108.5h.6M219.2,110.1h.6M222.6,105.1h.6M221.7,106.6h.6M218.1,109.8h.6M216.3,113.0h.6M219.0,106.9h.6M224.6,101.5h.6M222.1,103.4h.6M220.7,107.6h.6M218.8,107.0h.6M222.3,103.5h.6M216.8,109.8h.6M224.8,100.0h.6M217.7,110.7h.6M219.2,106.5h.6M226.8,99.3h.6M218.5,109.3h.6M222.4,108.9h.6M221.8,104.1h.6M219.6,106.8h.6M219.7,108.2h.6M224.7,98.0h.6M221.5,106.0h.6M221.9,106.4h.6M223.8,102.6h.6M220.2,108.2h.6M218.6,107.0h.6M220.6,106.3h.6M219.3,106.9h.6M222.6,105.8h.6M218.3,106.9h.6M217.2,109.3h.6M222.0,105.4h.6M218.7,105.8h.6M218.5,110.0h.6M223.5,104.1h.6M223.6,102.7h.6M203.6,113.5h.6M208.4,119.8h.6M197.9,117.0h.6M196.2,126.2h.6M209.1,132.8h.6M208.7,120.0h.6M214.7,124.4h.6M195.7,121.7h.6M195.9,113.4h.6M218.4,135.8h.6M204.2,126.5h.6M215.2,124.5h.6M225.3,120.7h.6M202.9,111.2h.6M200.0,121.4h.6M195.8,130.4h.6M195.7,117.2h.6M203.8,118.7h.6M205.0,136.0h.6M204.0,127.5h.6M198.9,134.5h.6M206.3,123.7h.6M197.2,114.8h.6M207.9,110.8h.6M211.9,123.8h.6M195.6,123.5h.6M199.7,124.8h.6M222.8,121.3h.6M206.9,134.7h.6M211.2,133.2h.6M199.5,120.8h.6M212.6,126.5h.6M216.4,129.2h.6M205.2,119.3h.6M205.0,127.9h.6M215.5,116.2h.6M212.0,119.4h.6M202.6,122.8h.6M216.7,119.2h.6M199.9,136.9h.6M229.6,115.3h.6M204.4,121.7h.6M208.4,119.7h.6M206.3,124.7h.6M195.7,116.3h.6M205.1,130.7h.6M205.2,117.7h.6M196.9,125.2h.6M210.4,98.9h.6M202.7,133.6h.6M216.2,127.0h.6M200.1,124.5h.6M200.5,121.2h.6M214.8,131.3h.6M195.8,130.6h.6M200.1,122.3h.6M216.6,121.6h.6M216.1,122.7h.6M214.6,138.3h.6M206.5,116.1h.6M211.7,113.9h.6M195.9,117.2h.6M209.5,118.6h.6M209.7,114.2h.6M217.4,123.8h.6M206.6,114.8h.6M206.6,118.7h.6M205.9,110.7h.6M213.8,122.6h.6M223.0,130.2h.6M195.8,116.0h.6M212.3,124.7h.6M209.4,121.1h.6M213.5,131.9h.6M196.8,121.7h.6M197.5,111.1h.6M199.7,129.3h.6M220.9,134.5h.6M210.3,120.0h.6M207.5,125.6h.6M203.7,121.3h.6M200.3,118.4h.6M208.9,122.6h.6M212.4,132.0h.6M214.4,127.0h.6M201.5,129.6h.6M227.3,119.3h.6M195.6,107.1h.6M215.4,122.5h.6M206.5,133.4h.6M203.6,127.6h.6M205.8,128.3h.6M219.5,127.7h.6M218.0,120.1h.6M212.7,127.5h.6M225.6,124.0h.6M211.3,117.5h.6M211.8,109.1h.6M205.6,132.9h.6M202.5,119.8h.6M214.6,115.9h.6M210.9,113.9h.6M204.6,131.6h.6M196.7,106.9h.6M195.4,127.1h.6M220.6,108.8h.6M210.8,104.5h.6M228.2,127.8h.6M204.8,117.7h.6M207.6,105.2h.6M195.5,111.7h.6M197.1,133.1h.6M195.6,126.7h.6M205.5,116.4h.6M209.6,125.6h.6M197.1,132.0h.6M199.5,109.7h.6M206.3,128.8h.6M211.3,119.2h.6M221.3,113.0h.6M200.4,135.3h.6M219.1,118.3h.6M208.7,117.7h.6M210.5,121.3h.6M198.3,111.8h.6M207.0,116.1h.6M203.3,118.6h.6M206.7,135.3h.6M210.7,117.0h.6M211.7,112.0h.6M199.4,123.5h.6M199.9,114.1h.6M221.8,135.6h.6M216.3,113.1h.6M195.7,115.0h.6M200.4,118.3h.6M211.0,138.4h.6M205.5,109.3h.6M221.1,129.3h.6M211.0,115.5h.6M206.5,124.2h.6M195.5,122.0h.6M198.8,131.7h.6M203.0,126.2h.6M215.7,127.1h.6M197.0,124.5h.6M213.5,117.8h.6M198.0,122.6h.6M214.2,133.4h.6M220.7,125.4h.6M195.4,121.5h.6M220.6,127.8h.6M196.6,110.9h.6M209.3,113.6h.6M195.7,108.4h.6M211.5,112.7h.6M206.1,117.5h.6M200.4,130.3h.6M219.3,130.6h.6M204.4,132.1h.6M195.5,106.9h.6M203.2,128.5h.6M198.0,122.5h.6M210.5,124.9h.6M203.2,118.6h.6M199.9,120.9h.6M200.8,126.0h.6M210.2,120.9h.6M209.0,122.9h.6M215.3,130.9h.6M195.4,132.0h.6M215.8,130.7h.6M204.1,115.0h.6M216.6,136.4h.6M203.2,108.6h.6M216.1,129.2h.6M206.7,112.8h.6M224.3,119.4h.6M209.9,117.0h.6M221.2,124.6h.6M219.2,128.8h.6M213.8,120.3h.6M205.0,116.8h.6M204.9,110.8h.6M213.2,130.7h.6M208.8,100.1h.6M200.6,105.8h.6M204.8,133.9h.6M195.8,117.5h.6M207.4,121.4h.6M211.9,129.8h.6M212.1,119.2h.6M195.5,122.7h.6M209.5,123.5h.6M200.5,121.9h.6M207.5,108.6h.6M204.7,127.5h.6M195.7,121.6h.6M198.5,119.1h.6M195.4,134.2h.6M209.8,122.1h.6M208.8,128.7h.6M209.4,109.6h.6M212.7,138.3h.6M209.5,123.8h.6M204.1,117.9h.6M202.5,120.3h.6M207.4,121.5h.6M196.1,117.7h.6M210.2,127.4h.6M214.3,116.6h.6M213.7,122.2h.6M218.0,117.6h.6M220.5,120.8h.6M209.2,122.6h.6M208.9,114.6h.6M213.7,118.5h.6M218.8,121.0h.6M198.1,106.8h.6M197.9,128.2h.6M208.1,130.1h.6M215.0,126.9h.6M197.1,123.0h.6M198.9,133.3h.6M203.0,124.6h.6M203.8,125.0h.6M221.7,124.5h.6M222.0,101.4h.6M200.4,112.4h.6M209.9,112.8h.6M223.7,123.3h.6M211.9,138.5h.6M205.6,126.3h.6M202.8,125.5h.6M195.5,125.0h.6M197.2,125.8h.6M198.5,131.1h.6M202.0,125.7h.6M198.4,126.3h.6M195.5,95.9h.6M216.8,128.4h.6M221.8,123.5h.6M197.7,122.3h.6M212.7,117.1h.6M211.7,127.4h.6M200.7,135.4h.6M199.8,118.5h.6M207.1,120.9h.6M199.6,133.4h.6M208.0,117.9h.6M199.3,125.7h.6M209.8,117.1h.6M210.7,137.3h.6M208.1,110.6h.6M213.0,134.7h.6M206.8,116.3h.6M213.1,119.7h.6M216.3,125.1h.6M210.1,118.8h.6M215.4,123.6h.6M203.1,125.4h.6M202.9,132.4h.6M209.1,121.3h.6M214.3,117.2h.6M204.4,128.4h.6M221.8,127.3h.6M195.6,121.4h.6M200.9,123.6h.6M205.7,131.2h.6M216.0,128.5h.6M195.3,136.6h.6M209.3,112.1h.6M202.2,130.8h.6M199.7,123.6h.6M215.7,119.8h.6M222.1,114.0h.6M205.1,126.1h.6M195.4,118.0h.6M211.4,129.1h.6M205.0,126.9h.6M219.3,124.5h.6M197.0,124.9h.6M228.7,117.1h.6M201.8,126.9h.6M206.3,115.4h.6M209.8,132.7h.6M210.6,131.4h.6M207.9,115.6h.6M217.3,122.1h.6M218.7,129.4h.6M211.7,123.4h.6M205.3,102.5h.6M206.1,119.6h.6M205.1,128.3h.6M204.9,115.1h.6M214.7,113.5h.6M216.1,124.8h.6M215.8,134.4h.6M220.8,126.7h.6M207.9,138.6h.6M210.0,119.6h.6M203.4,132.1h.6M220.3,131.0h.6M195.7,128.0h.6M195.4,133.7h.6M225.9,135.5h.6M195.8,108.8h.6M199.8,119.8h.6M213.0,131.7h.6M214.7,112.0h.6M208.6,122.6h.6M221.0,117.9h.6M219.4,131.7h.6M208.0,120.0h.6M219.8,136.0h.6M197.7,107.4h.6M207.4,126.8h.6M205.1,109.5h.6M201.4,127.6h.6M198.7,130.6h.6M210.4,121.1h.6M195.3,106.1h.6M212.0,127.9h.6M222.0,122.3h.6M207.1,125.5h.6M221.0,119.8h.6M221.1,131.0h.6M195.8,126.7h.6M208.8,132.4h.6M208.5,125.9h.6M206.2,123.1h.6M195.5,112.9h.6M199.5,131.3h.6M217.6,124.9h.6M215.0,113.5h.6M203.6,127.1h.6M198.9,108.3h.6M195.3,134.1h.6M208.6,124.6h.6M221.5,111.4h.6M199.6,118.6h.6M227.4,110.7h.6M195.7,121.8h.6M202.7,131.4h.6M209.9,121.5h.6M221.7,107.2h.6M195.7,130.9h.6M203.5,118.6h.6M224.9,124.4h.6M211.4,130.3h.6M199.8,130.8h.6M211.6,103.0h.6M198.5,112.6h.6M214.1,125.6h.6M220.5,128.0h.6M195.6,107.5h.6M208.2,107.0h.6M196.2,123.1h.6M197.2,122.2h.6M208.9,108.2h.6M214.0,130.0h.6M206.0,123.9h.6M209.4,125.6h.6M195.6,121.5h.6M202.9,110.3h.6M204.6,111.7h.6M221.9,116.0h.6M198.6,127.7h.6M218.9,119.0h.6M212.2,121.5h.6M205.8,123.2h.6M214.4,123.8h.6M208.0,118.6h.6M219.6,132.3h.6M199.6,123.2h.6M216.0,120.7h.6M208.4,136.6h.6M210.7,112.8h.6M203.6,115.4h.6M205.9,123.5h.6M210.4,119.5h.6M195.7,115.3h.6M214.2,121.9h.6M207.3,120.5h.6M223.1,120.9h.6M212.3,118.5h.6M214.9,113.9h.6M211.9,126.8h.6M205.2,119.7h.6M213.2,138.3h.6M207.3,134.5h.6M197.8,123.7h.6M219.4,119.8h.6M213.0,130.2h.6M205.4,129.7h.6M195.4,121.4h.6M201.7,114.1h.6M206.1,123.0h.6M208.1,122.5h.6M195.5,118.7h.6M211.7,128.7h.6M217.0,138.6h.6M207.1,138.5h.6M208.0,112.3h.6M207.7,131.8h.6M224.5,126.3h.6M201.1,128.1h.6M198.5,111.0h.6M223.0,117.2h.6M221.5,115.8h.6M210.6,113.0h.6M216.7,133.9h.6M208.5,119.2h.6M198.2,110.6h.6M219.8,117.6h.6M198.8,128.6h.6M206.1,124.6h.6M197.9,125.3h.6M195.3,123.1h.6M213.9,113.5h.6M208.9,138.4h.6M195.7,110.4h.6M204.6,121.2h.6M211.1,121.8h.6M214.7,113.7h.6M214.0,133.9h.6M198.4,114.8h.6M201.2,136.5h.6M195.7,119.1h.6M210.3,127.6h.6M218.4,114.1h.6M199.9,133.0h.6M209.9,123.8h.6M196.1,119.0h.6M207.2,124.4h.6M212.9,121.2h.6M217.1,131.6h.6M206.7,128.0h.6M221.9,138.3h.6M215.3,133.3h.6M216.4,113.7h.6M210.7,122.1h.6M209.6,121.8h.6M196.9,120.7h.6M210.8,128.6h.6M218.5,123.0h.6M211.2,117.0h.6M207.9,122.5h.6M196.0,130.5h.6M200.4,136.5h.6M221.3,122.3h.6M212.4,123.0h.6M210.1,106.2h.6M206.9,112.6h.6M213.9,121.7h.6M199.3,126.4h.6M219.1,121.7h.6M195.7,127.4h.6M212.9,138.5h.6M198.7,125.9h.6M198.5,124.5h.6M207.9,128.5h.6M213.3,122.4h.6M201.5,116.3h.6M214.2,124.1h.6M207.5,121.4h.6M202.7,129.8h.6M203.4,129.2h.6M222.6,123.3h.6M206.4,125.0h.6M197.8,110.4h.6M220.6,124.4h.6M207.5,132.5h.6M211.9,111.0h.6M207.3,118.3h.6M217.2,116.6h.6M207.2,129.0h.6M202.3,120.0h.6M217.4,125.3h.6M212.9,120.4h.6M197.3,122.9h.6M219.6,111.5h.6M207.5,126.6h.6M210.5,122.7h.6M214.3,133.8h.6M201.9,118.1h.6M216.3,115.3h.6M202.0,138.3h.6M197.6,123.1h.6M215.4,132.6h.6M215.7,115.2h.6M202.9,130.0h.6M208.8,115.9h.6M213.0,125.1h.6M199.7,117.3h.6M210.2,128.5h.6M209.9,116.5h.6M195.7,115.6h.6M207.1,113.5h.6M211.3,110.7h.6M210.4,132.9h.6M206.4,114.0h.6M210.3,137.7h.6M204.3,112.2h.6M219.4,121.9h.6M195.6,116.4h.6M195.7,115.6h.6M219.3,118.1h.6M196.0,121.2h.6M217.9,108.3h.6M218.0,124.0h.6M212.0,127.2h.6M207.1,106.6h.6M207.6,127.3h.6M227.5,117.5h.6M198.0,128.9h.6M197.4,119.1h.6M201.6,116.5h.6M204.6,121.0h.6M195.5,115.5h.6M207.7,113.8h.6M202.9,128.3h.6M211.7,103.6h.6M217.1,129.0h.6M204.3,126.1h.6M211.9,138.6h.6M195.3,123.2h.6M195.5,120.5h.6M210.2,120.1h.6M202.9,118.7h.6M213.9,130.3h.6M208.2,116.0h.6M206.5,112.9h.6M207.0,129.7h.6M206.1,128.3h.6M195.4,138.5h.6M206.5,112.2h.6M208.0,115.1h.6M220.6,128.5h.6M212.3,118.2h.6M200.1,115.4h.6M220.3,111.5h.6M209.7,118.6h.6M208.2,126.3h.6M215.4,128.5h.6M209.5,115.9h.6M199.6,117.7h.6M211.5,128.8h.6M210.2,129.2h.6M208.7,115.0h.6M200.4,132.8h.6M211.6,123.7h.6M205.6,125.6h.6M210.2,117.7h.6M208.1,117.6h.6M202.2,122.9h.6M198.6,127.9h.6M204.7,129.4h.6M198.9,114.9h.6M225.1,133.8h.6M210.6,134.1h.6M213.0,125.7h.6M211.1,134.6h.6M217.3,112.6h.6M209.4,108.5h.6M204.8,120.2h.6M214.6,129.0h.6M204.9,122.3h.6M218.8,122.5h.6M203.2,120.3h.6M221.3,122.9h.6M210.0,122.1h.6M212.6,121.5h.6M218.9,133.5h.6M210.9,109.8h.6M219.0,123.9h.6M208.7,104.7h.6M213.8,125.4h.6M196.1,126.9h.6M222.2,125.2h.6M206.4,117.1h.6M222.8,127.7h.6M202.5,111.7h.6M213.8,119.1h.6M225.9,130.0h.6M209.8,127.0h.6M211.7,114.6h.6M213.0,131.2h.6M203.5,119.0h.6M211.9,120.6h.6M219.6,128.9h.6M217.8,124.4h.6M207.4,133.2h.6M212.8,126.2h.6M220.9,116.3h.6M195.4,119.6h.6M217.3,120.6h.6M204.3,117.5h.6M207.4,118.9h.6M220.1,138.7h.6M208.9,119.9h.6M210.8,116.5h.6M207.2,117.0h.6M207.2,117.1h.6M215.0,113.5h.6M221.1,123.3h.6M197.3,111.4h.6M201.3,109.8h.6M207.8,138.7h.6M214.3,123.7h.6M206.5,136.8h.6M212.4,112.0h.6M208.8,112.2h.6M206.4,123.5h.6M219.8,123.9h.6M201.9,123.8h.6M211.9,116.7h.6M207.0,131.4h.6M231.0,126.0h.6M201.7,129.4h.6M202.1,116.5h.6M206.6,108.5h.6M240.8,124.9h.6M208.6,127.7h.6M197.7,100.8h.6M212.8,127.9h.6M207.5,116.3h.6M211.2,117.4h.6M219.1,121.7h.6M214.8,108.1h.6M200.8,116.1h.6M211.8,114.7h.6M202.1,111.9h.6M205.1,108.7h.6M197.6,126.2h.6M214.2,135.4h.6M218.5,132.9h.6M213.2,116.4h.6M200.3,128.4h.6M217.2,114.7h.6M217.3,123.1h.6M212.0,114.6h.6M195.4,111.5h.6M214.9,120.0h.6M219.4,112.4h.6M223.1,124.4h.6M203.0,118.5h.6M216.6,114.0h.6M197.0,122.0h.6M213.7,120.4h.6M205.7,131.0h.6M208.0,122.1h.6M223.9,135.4h.6M199.8,114.1h.6M197.8,126.7h.6M213.5,119.8h.6M206.7,116.2h.6M210.4,129.8h.6M195.7,117.0h.6M215.1,124.3h.6M205.7,120.8h.6M195.4,112.3h.6M205.7,115.6h.6M205.6,121.7h.6M197.4,121.9h.6M208.1,121.8h.6M210.8,127.9h.6M226.3,103.5h.6M226.5,122.9h.6M214.3,119.7h.6M210.8,118.8h.6M207.6,138.5h.6M212.1,114.1h.6M218.8,120.3h.6M198.4,111.3h.6M215.2,122.2h.6M214.1,109.7h.6M196.0,120.6h.6M213.4,118.5h.6M219.5,120.9h.6M198.8,126.4h.6M214.0,125.5h.6M210.6,110.6h.6M212.4,119.5h.6M195.3,122.0h.6M201.8,126.9h.6M201.8,113.9h.6M219.8,124.8h.6M217.8,131.0h.6M210.9,133.1h.6M195.9,120.3h.6M196.6,107.4h.6M203.6,117.5h.6M202.1,119.9h.6M202.8,124.0h.6M206.6,127.2h.6M205.9,119.0h.6M210.5,113.3h.6M205.6,125.8h.6M203.8,129.2h.6M205.5,121.5h.6M210.5,123.3h.6M208.3,107.2h.6M208.1,138.2h.6M202.9,117.6h.6M211.6,114.7h.6M205.2,118.9h.6M195.7,122.0h.6M209.2,121.3h.6M206.1,117.9h.6M195.5,121.9h.6M195.4,107.0h.6M223.2,133.2h.6M211.2,113.7h.6M224.7,122.0h.6M200.7,113.5h.6M219.5,121.7h.6M216.4,113.5h.6M212.3,115.9h.6M217.1,109.0h.6M217.2,114.9h.6M205.2,112.3h.6M221.3,121.4h.6M208.1,116.0h.6M204.2,121.5h.6M206.8,120.1h.6M210.6,130.3h.6M213.7,123.4h.6M208.8,114.8h.6M215.3,112.0h.6M202.8,132.6h.6M195.3,119.3h.6M211.2,129.6h.6M210.3,138.5h.6M202.0,115.1h.6M211.7,132.6h.6M212.2,120.9h.6M214.1,127.9h.6M220.7,108.9h.6M209.7,131.2h.6M210.3,112.6h.6M214.4,118.1h.6M210.5,138.6h.6M204.3,127.1h.6M201.1,125.7h.6M199.5,125.5h.6M195.6,138.0h.6M209.7,136.7h.6M211.2,122.2h.6M200.9,123.8h.6M203.3,115.9h.6M195.4,124.6h.6M214.2,112.5h.6M207.8,108.3h.6M215.3,118.2h.6M200.1,114.9h.6M200.6,127.7h.6M199.6,112.6h.6M217.9,109.1h.6M205.1,122.2h.6M204.9,128.4h.6M203.8,123.7h.6M206.0,135.6h.6M212.0,132.4h.6M213.0,116.0h.6M206.7,124.1h.6M205.1,109.1h.6M208.6,118.1h.6M211.2,119.4h.6M212.0,113.6h.6M198.1,120.5h.6M213.8,116.5h.6M201.9,114.1h.6M195.5,127.5h.6M195.3,125.2h.6M226.1,127.3h.6M216.9,125.2h.6M224.2,124.1h.6M214.8,124.1h.6M202.6,110.9h.6M219.0,127.4h.6M223.2,115.4h.6M196.0,128.0h.6M204.9,113.4h.6M200.9,106.4h.6M200.5,109.8h.6M208.0,115.4h.6M209.6,107.7h.6M228.3,134.5h.6M211.5,127.0h.6M220.8,113.7h.6M208.3,136.8h.6M195.4,126.7h.6M204.8,127.1h.6M211.6,118.1h.6M212.6,120.1h.6M216.9,125.9h.6M202.0,138.1h.6M204.9,125.0h.6M205.7,131.5h.6M201.2,115.9h.6M212.6,109.6h.6M206.9,127.6h.6M223.3,110.2h.6M195.5,116.5h.6M215.8,117.9h.6M219.3,116.8h.6M212.4,119.8h.6M224.0,133.2h.6M218.7,117.6h.6M195.5,118.6h.6M201.5,116.3h.6M204.2,126.0h.6M219.1,130.5h.6M222.1,105.3h.6M214.1,138.4h.6M215.8,129.6h.6M207.2,119.9h.6M203.6,118.1h.6M206.0,116.6h.6M222.3,127.3h.6M217.0,136.0h.6M211.0,130.2h.6M202.1,125.3h.6M214.8,112.5h.6M215.1,122.7h.6M203.9,133.5h.6M209.6,121.8h.6M216.3,117.5h.6M195.5,129.2h.6M218.3,117.8h.6M210.9,122.6h.6M211.0,130.9h.6M209.8,128.2h.6M216.3,119.8h.6M211.9,119.3h.6M207.3,132.9h.6M201.4,128.5h.6M207.1,118.5h.6M210.0,117.7h.6M195.5,131.1h.6M204.2,112.4h.6M199.5,136.5h.6M199.8,117.0h.6M226.4,106.0h.6M198.0,114.6h.6M203.0,105.3h.6M209.8,111.8h.6M195.9,125.1h.6M199.7,125.8h.6M201.0,135.7h.6M197.5,124.7h.6M198.0,133.7h.6M195.4,119.8h.6M204.8,120.9h.6M203.9,118.0h.6M211.1,137.8h.6M212.9,126.0h.6M202.9,115.2h.6M209.2,116.7h.6M223.6,122.2h.6M223.0,120.5h.6M219.2,110.2h.6M224.7,112.3h.6M210.7,121.0h.6M207.4,128.9h.6M200.3,126.4h.6M195.6,110.4h.6M220.7,114.3h.6M213.6,119.7h.6M223.2,125.6h.6M225.1,119.4h.6M225.8,117.6h.6M224.4,128.4h.6M195.4,131.3h.6M216.8,115.3h.6M205.0,112.0h.6M223.4,122.2h.6M195.4,128.9h.6M233.1,120.3h.6M213.1,119.3h.6M195.4,130.6h.6M215.5,122.9h.6M195.6,121.4h.6M217.6,130.5h.6M203.7,112.4h.6M212.1,113.8h.6M220.9,121.0h.6M215.6,125.5h.6M216.5,126.1h.6M212.6,124.2h.6M201.1,109.3h.6M195.5,132.3h.6M212.4,106.8h.6M205.1,138.1h.6M214.9,124.7h.6M215.1,138.3h.6M209.1,118.5h.6M195.6,123.4h.6M203.2,113.6h.6M221.3,117.8h.6M206.2,118.6h.6M206.2,124.2h.6M216.8,126.0h.6M228.6,113.2h.6M211.1,121.0h.6M230.4,109.2h.6M207.9,130.5h.6M201.2,123.0h.6M209.9,126.4h.6M210.5,113.2h.6M216.2,102.7h.6M199.6,115.5h.6M206.9,123.9h.6M240.8,135.1h.6M208.0,125.0h.6M221.8,127.4h.6M207.0,106.3h.6M195.7,126.8h.6M207.8,138.6h.6M197.5,126.6h.6M198.4,132.9h.6M205.0,119.2h.6M207.9,134.8h.6M195.8,133.2h.6M216.8,122.3h.6M217.9,118.2h.6M201.3,132.4h.6M195.4,125.7h.6M205.2,122.5h.6M203.5,133.4h.6M201.4,113.4h.6M195.7,123.0h.6M210.0,122.2h.6M209.8,113.3h.6M211.7,129.6h.6M195.3,120.3h.6M205.5,115.5h.6M202.7,113.5h.6M223.7,111.7h.6M198.9,109.6h.6M210.2,113.9h.6M214.2,123.0h.6M212.0,128.5h.6M208.4,118.8h.6M209.3,130.3h.6M200.4,120.1h.6M223.9,125.3h.6M220.5,127.9h.6M195.7,119.0h.6M210.6,121.5h.6M215.1,124.6h.6M204.8,132.0h.6M195.9,108.4h.6M216.9,126.1h.6M214.5,114.9h.6M214.6,127.9h.6M208.7,122.7h.6M206.6,126.2h.6M195.6,133.7h.6M198.9,132.5h.6M207.9,109.0h.6M210.2,117.6h.6M212.3,112.2h.6M207.7,118.8h.6M223.9,113.8h.6M218.2,129.9h.6M212.0,119.8h.6M213.4,115.5h.6M218.3,107.9h.6M221.6,118.8h.6M203.2,124.5h.6M224.3,121.7h.6M227.6,121.3h.6M212.1,111.0h.6M208.4,121.4h.6M203.0,110.7h.6M203.5,125.1h.6M215.1,137.0h.6M195.6,137.0h.6M207.9,133.1h.6M211.2,109.1h.6M214.8,110.9h.6M215.0,111.8h.6M195.4,130.3h.6M202.4,137.2h.6M208.8,135.3h.6M206.2,121.2h.6M195.4,132.6h.6M217.4,116.9h.6M195.6,124.9h.6M195.7,112.2h.6M223.1,119.2h.6M210.6,127.3h.6M212.0,113.0h.6M218.2,136.5h.6M209.6,123.6h.6M202.4,126.8h.6M214.4,117.7h.6M195.5,110.4h.6M209.9,119.0h.6M195.8,109.7h.6M198.9,114.1h.6M217.4,132.7h.6M203.2,123.7h.6M212.3,126.3h.6M203.7,122.4h.6M213.5,135.0h.6M212.0,107.4h.6M198.9,114.4h.6M215.2,134.6h.6M212.7,112.1h.6M204.8,121.3h.6M216.1,123.9h.6M215.2,118.4h.6M226.0,111.7h.6M207.0,130.9h.6M215.6,112.7h.6M201.9,119.1h.6M216.0,129.4h.6M195.4,120.0h.6M217.8,127.1h.6M220.3,118.4h.6M201.8,123.4h.6M210.7,138.7h.6M206.6,113.4h.6M210.2,118.3h.6M213.9,121.0h.6M200.2,114.3h.6M202.0,121.7h.6M195.3,115.8h.6M195.5,127.1h.6M204.9,127.4h.6M210.1,118.7h.6M219.8,129.0h.6M196.4,120.1h.6M195.4,116.8h.6M206.7,117.5h.6M205.9,126.0h.6M218.2,126.6h.6M216.8,116.8h.6M204.4,130.0h.6M202.8,126.0h.6M209.0,126.8h.6M218.8,123.1h.6M203.0,115.6h.6M224.5,129.5h.6M196.2,110.0h.6M195.5,122.2h.6M195.3,123.7h.6M225.6,122.7h.6M195.3,122.5h.6M197.6,111.0h.6M202.0,121.5h.6M217.5,115.7h.6M211.2,135.7h.6M199.0,112.9h.6M202.1,126.2h.6M198.7,130.5h.6M202.0,116.5h.6M211.5,128.8h.6M203.9,120.8h.6M216.0,136.5h.6M202.9,128.9h.6M217.4,127.1h.6M209.5,124.0h.6M197.8,120.5h.6M200.5,117.6h.6M209.8,138.2h.6M210.7,118.7h.6M219.0,114.0h.6M216.2,115.5h.6M211.1,138.1h.6M206.9,116.3h.6M206.4,126.7h.6M195.6,138.6h.6M212.1,127.0h.6M200.5,119.6h.6M218.0,118.5h.6M214.1,121.5h.6M207.4,123.2h.6M210.9,119.7h.6M217.9,122.4h.6M209.1,103.4h.6M195.5,128.2h.6M210.7,131.8h.6M195.5,120.6h.6M215.6,130.7h.6M215.0,121.0h.6M220.7,116.4h.6M204.6,135.8h.6M205.2,133.3h.6M200.7,121.8h.6M216.9,108.6h.6M207.0,103.8h.6M201.1,120.9h.6M207.8,129.9h.6M198.7,135.5h.6M204.7,113.3h.6M211.0,127.5h.6M215.8,126.4h.6M200.2,106.8h.6M223.1,123.4h.6M211.5,131.1h.6M216.5,112.6h.6M195.8,106.9h.6M213.4,122.6h.6M208.0,114.6h.6M208.7,118.7h.6M207.3,126.8h.6M208.1,127.1h.6M206.1,132.8h.6M224.3,119.9h.6M209.1,120.8h.6M203.9,131.2h.6M210.0,102.1h.6M219.2,127.5h.6M195.4,123.2h.6M210.2,122.0h.6M231.9,130.4h.6M227.9,130.9h.6M205.5,132.5h.6M223.6,118.4h.6M212.9,127.6h.6M214.0,129.0h.6M195.6,130.7h.6M205.6,135.7h.6M209.7,138.6h.6M213.4,127.8h.6M212.9,133.1h.6M202.5,116.3h.6M201.4,129.8h.6M204.6,125.3h.6M204.3,115.1h.6M203.9,121.5h.6M203.0,133.1h.6M214.1,128.0h.6M210.1,121.9h.6M195.5,122.0h.6M215.2,121.3h.6M210.0,108.9h.6M214.8,124.8h.6M195.5,118.3h.6M211.3,138.5h.6M223.4,130.1h.6M204.3,112.8h.6M200.8,124.7h.6M206.8,127.7h.6M211.2,122.2h.6M207.8,126.3h.6M202.7,122.0h.6M201.2,125.1h.6M213.9,129.3h.6M207.4,115.7h.6M203.3,127.3h.6M202.7,124.3h.6M211.2,129.1h.6M200.2,133.6h.6M195.4,131.3h.6M219.9,119.4h.6M211.9,115.8h.6M204.3,109.3h.6M210.6,118.6h.6M219.4,136.9h.6M198.9,133.3h.6M212.4,113.7h.6M195.4,122.6h.6M218.3,118.0h.6M223.1,110.4h.6M209.0,125.2h.6M223.6,129.3h.6M204.2,127.1h.6M212.2,125.9h.6M203.7,117.9h.6M197.8,112.9h.6M211.1,127.6h.6M202.7,129.4h.6M197.5,118.0h.6M203.5,113.7h.6M198.1,124.6h.6M204.8,122.1h.6M207.5,115.0h.6M219.6,120.0h.6M223.4,138.3h.6M203.8,138.7h.6M214.9,116.0h.6M195.5,120.3h.6M208.8,133.5h.6M215.6,129.0h.6M227.7,120.3h.6M214.6,130.5h.6M205.9,126.0h.6M220.4,110.6h.6M211.2,125.5h.6M217.4,124.5h.6M212.8,127.9h.6M223.8,121.9h.6M211.8,119.4h.6M216.5,117.6h.6M195.4,112.8h.6M198.7,119.1h.6M208.6,123.8h.6M202.0,132.7h.6M215.9,124.1h.6M217.4,121.5h.6M210.3,132.0h.6M213.2,123.2h.6M195.5,119.6h.6M214.8,123.5h.6M211.2,109.5h.6M212.6,126.5h.6M221.6,130.8h.6M195.9,137.0h.6M218.6,125.1h.6M205.4,113.6h.6M207.6,133.3h.6M213.3,124.1h.6M210.4,115.0h.6M195.6,125.6h.6M208.5,131.0h.6M203.5,113.8h.6M209.1,117.9h.6M206.7,124.9h.6M207.9,128.6h.6M223.7,110.6h.6M195.8,117.8h.6M197.8,132.5h.6M206.9,122.1h.6M205.2,130.3h.6M222.5,109.5h.6M218.4,121.6h.6M195.3,112.9h.6M211.2,114.6h.6M216.7,120.3h.6M212.3,112.2h.6M207.2,137.0h.6M195.3,124.5h.6M214.9,127.6h.6M217.3,124.5h.6M196.0,132.7h.6M200.6,118.7h.6M212.9,110.7h.6M209.7,124.9h.6M208.6,121.1h.6M217.0,120.7h.6M220.7,119.4h.6M201.9,129.8h.6M215.4,110.6h.6M198.0,121.3h.6M215.8,120.2h.6M205.1,120.8h.6M220.4,106.8h.6M204.1,115.3h.6M212.7,135.0h.6M220.0,124.2h.6M206.2,132.0h.6M205.9,116.7h.6M214.6,128.5h.6M217.0,110.0h.6M205.2,119.7h.6M210.6,123.5h.6M197.6,111.2h.6M198.5,110.1h.6M224.3,123.0h.6M195.3,114.4h.6M216.5,134.7h.6M216.0,114.0h.6M213.0,113.9h.6M211.7,121.4h.6M221.9,116.7h.6M220.0,129.0h.6M197.2,111.1h.6M210.7,125.9h.6M196.7,125.7h.6M195.6,134.3h.6M212.1,118.6h.6M215.1,128.5h.6M195.4,126.1h.6M202.0,128.5h.6M213.1,130.2h.6M195.4,125.2h.6M208.3,137.0h.6M213.5,132.5h.6M202.4,119.7h.6M201.2,120.3h.6M206.8,131.8h.6M202.3,133.1h.6M203.3,138.3h.6M204.3,117.7h.6M211.0,121.9h.6M202.9,129.8h.6M214.5,131.7h.6M196.7,131.5h.6M195.4,125.2h.6M202.1,126.2h.6M199.8,118.0h.6M200.6,131.0h.6M218.9,122.8h.6M209.9,118.2h.6M219.1,129.5h.6M203.6,114.6h.6M220.9,113.6h.6M214.8,131.8h.6M195.5,125.6h.6M218.4,135.1h.6M202.1,127.1h.6M213.1,133.9h.6M212.3,127.6h.6M198.2,126.3h.6M209.3,126.5h.6M197.5,117.3h.6M210.4,117.1h.6M218.8,129.6h.6M206.6,134.3h.6M213.0,127.4h.6M212.4,138.3h.6M202.0,131.7h.6M214.6,116.5h.6M215.5,121.9h.6M202.7,120.6h.6M210.7,118.7h.6M201.5,123.5h.6M208.8,116.5h.6M201.3,114.4h.6M203.5,131.0h.6M213.2,115.7h.6M208.9,121.1h.6M211.9,126.1h.6M195.4,112.9h.6M206.2,129.3h.6M201.6,107.0h.6M232.5,136.7h.6M205.0,134.5h.6M204.2,116.1h.6M216.2,105.3h.6M198.2,111.5h.6M223.0,113.0h.6M209.9,123.5h.6M211.3,125.4h.6M218.4,125.7h.6M204.4,123.8h.6M212.0,127.0h.6M220.6,120.9h.6M203.9,104.8h.6M214.3,121.0h.6M217.0,114.5h.6M207.5,117.0h.6M200.4,113.1h.6M207.1,117.4h.6M216.6,126.5h.6M215.2,119.4h.6M214.4,121.3h.6M196.4,115.3h.6M207.9,127.9h.6M197.0,138.0h.6M208.5,116.8h.6M210.4,119.1h.6M210.5,109.8h.6M214.1,125.7h.6M230.6,121.3h.6M212.7,134.8h.6M202.4,129.9h.6M211.6,118.1h.6M200.9,138.6h.6M215.6,126.7h.6M195.4,122.4h.6M222.4,130.1h.6M198.0,122.5h.6M195.3,124.0h.6M219.2,131.3h.6M199.3,126.3h.6M207.2,122.1h.6M208.4,121.6h.6M219.7,120.7h.6M231.6,105.8h.6M204.2,120.9h.6M201.9,103.8h.6M195.6,123.1h.6M228.4,119.5h.6M211.6,113.9h.6M198.6,135.3h.6M198.3,122.5h.6M213.0,122.1h.6M216.8,132.0h.6M207.5,129.4h.6M220.4,125.2h.6M224.3,115.9h.6M223.7,116.8h.6M212.1,127.8h.6M217.7,138.7h.6M219.5,107.4h.6M212.3,109.2h.6M195.6,114.2h.6M208.8,121.2h.6M206.1,114.1h.6M200.2,123.6h.6M195.4,128.8h.6M206.9,117.6h.6M219.2,119.5h.6M218.2,112.7h.6M211.2,128.0h.6M211.8,120.7h.6M197.6,134.6h.6M196.0,135.8h.6M200.6,128.0h.6M220.8,111.9h.6M201.9,136.2h.6M218.7,132.9h.6M204.9,120.2h.6M201.9,105.4h.6M208.3,137.9h.6M212.2,132.0h.6M206.2,113.3h.6M202.1,106.5h.6M200.8,106.2h.6M209.3,135.5h.6M204.8,123.6h.6M208.2,121.7h.6M205.5,125.3h.6M195.8,123.8h.6M211.1,110.9h.6M211.2,123.3h.6M212.6,116.5h.6M206.3,122.4h.6M202.7,115.0h.6M217.3,119.2h.6M210.7,119.0h.6M201.4,136.2h.6M202.4,123.6h.6M210.3,126.9h.6M213.7,110.6h.6M211.5,113.2h.6M206.9,128.3h.6M195.5,128.7h.6M196.3,133.8h.6M218.3,117.7h.6M198.5,128.4h.6M202.2,105.5h.6M202.3,125.1h.6M219.7,116.9h.6M206.9,121.7h.6M207.0,120.8h.6M216.5,125.4h.6M219.5,108.5h.6M218.5,115.4h.6M199.7,123.7h.6M213.2,131.0h.6M199.0,124.9h.6M218.6,112.1h.6M224.8,121.0h.6M195.6,117.6h.6M206.6,128.6h.6M213.2,120.4h.6M195.7,125.3h.6M213.8,126.3h.6M208.1,126.1h.6M211.8,117.4h.6M195.3,105.9h.6M225.7,117.5h.6M202.3,114.5h.6M208.9,121.4h.6M208.7,123.0h.6M195.4,104.1h.6M211.3,115.9h.6M209.4,128.1h.6M195.4,122.4h.6M204.2,118.2h.6M195.4,124.3h.6M201.4,122.1h.6M203.5,119.2h.6M213.1,118.5h.6M230.9,126.4h.6M196.0,126.0h.6M216.5,103.4h.6M215.0,116.4h.6M205.9,118.9h.6M195.3,118.9h.6M206.1,111.9h.6M206.5,122.1h.6M198.3,130.4h.6M209.9,130.1h.6M205.7,124.7h.6M220.9,126.1h.6M206.4,119.8h.6M215.1,123.3h.6M202.3,117.7h.6M214.6,115.4h.6M207.9,125.4h.6M195.4,130.7h.6M202.3,129.2h.6M207.7,122.8h.6M215.1,128.6h.6M210.5,126.6h.6M198.7,116.5h.6M216.8,120.7h.6M201.8,132.2h.6M220.1,126.0h.6M208.1,133.8h.6M205.4,114.5h.6M209.4,119.2h.6M211.8,116.2h.6M223.4,121.7h.6M214.6,129.0h.6M234.5,118.9h.6M205.6,126.3h.6M214.6,125.4h.6M212.5,132.8h.6M220.0,130.1h.6M195.5,119.2h.6M202.7,118.6h.6M226.5,125.8h.6M197.4,124.5h.6M216.2,134.8h.6M208.0,120.5h.6M199.6,121.7h.6M206.1,111.4h.6M199.8,138.3h.6M218.0,110.3h.6M221.5,129.9h.6M195.4,121.5h.6M195.4,117.1h.6M217.3,117.8h.6M210.7,126.2h.6M197.0,110.8h.6M213.9,127.5h.6M216.3,121.6h.6M201.0,107.1h.6M226.0,107.0h.6M208.6,123.2h.6M195.5,121.0h.6M212.5,116.2h.6M201.9,119.8h.6M210.0,121.8h.6M195.5,111.9h.6M204.4,125.7h.6M199.2,106.9h.6M207.6,125.4h.6M214.2,131.7h.6M213.6,122.6h.6M218.1,127.8h.6M195.4,138.7h.6M203.4,118.8h.6M197.7,126.4h.6M203.1,125.2h.6M195.5,129.9h.6M217.7,126.6h.6M215.3,123.0h.6M212.8,130.3h.6M210.2,111.7h.6M210.0,123.9h.6M227.3,125.0h.6M197.3,117.7h.6M207.3,138.4h.6M205.4,116.3h.6M217.6,123.2h.6M212.0,117.9h.6M208.8,135.8h.6M221.4,124.5h.6M203.1,120.2h.6M195.6,126.4h.6M210.9,119.5h.6M213.9,131.0h.6M212.0,126.6h.6M208.1,108.9h.6M210.2,131.5h.6M217.6,122.3h.6M222.7,112.6h.6M219.2,124.6h.6M210.6,125.8h.6M224.6,114.8h.6M219.4,125.5h.6M207.7,121.8h.6M199.6,121.3h.6M215.5,127.4h.6M206.3,132.4h.6M204.5,122.7h.6M220.0,116.5h.6M209.8,129.0h.6M220.3,129.0h.6M195.5,133.9h.6M217.0,119.8h.6M211.5,111.4h.6M225.4,120.4h.6M224.3,127.9h.6M214.8,109.2h.6M202.4,129.7h.6M210.4,123.2h.6M223.7,124.3h.6M204.6,120.5h.6M200.5,124.4h.6M212.1,120.3h.6M206.7,121.7h.6M210.4,128.9h.6M207.6,117.7h.6M201.4,120.0h.6M204.0,124.9h.6M202.4,119.6h.6M222.1,117.7h.6M195.9,117.1h.6M206.5,121.8h.6M213.6,126.6h.6M212.0,112.6h.6M220.9,117.3h.6M205.1,122.0h.6M212.5,122.4h.6M196.3,130.9h.6M198.8,113.8h.6M207.5,122.4h.6M208.6,116.2h.6M202.6,116.2h.6M204.7,125.7h.6M214.7,130.2h.6M216.1,104.2h.6M202.0,113.8h.6M211.1,113.0h.6M211.0,133.0h.6M202.8,121.7h.6M217.1,115.4h.6M204.1,129.4h.6M205.2,129.7h.6M197.6,126.1h.6M211.7,110.7h.6M203.1,117.6h.6M213.0,117.6h.6M208.8,112.3h.6M224.0,129.7h.6M211.6,119.2h.6M209.7,109.7h.6M208.3,103.9h.6M201.1,122.6h.6M224.0,130.0h.6M216.9,137.3h.6M209.1,128.5h.6M205.2,126.9h.6M209.1,103.5h.6M206.9,135.7h.6M199.1,127.0h.6M221.5,120.6h.6M210.8,118.0h.6M200.1,130.1h.6M207.3,118.2h.6M216.0,128.0h.6M215.1,138.6h.6M209.8,117.5h.6M204.8,128.8h.6M213.8,123.8h.6M216.7,117.2h.6M203.7,124.5h.6M205.5,99.4h.6M211.2,129.3h.6M203.6,108.3h.6M220.3,124.2h.6M210.2,124.3h.6M209.7,116.4h.6M205.1,126.0h.6M202.5,119.2h.6M213.5,121.1h.6M208.0,117.3h.6M218.7,117.3h.6M195.3,110.9h.6M206.5,123.4h.6M210.7,128.2h.6M222.1,120.5h.6M203.7,114.3h.6M219.0,100.7h.6M207.0,135.7h.6M195.3,116.1h.6M215.1,129.6h.6M204.0,125.0h.6M211.8,120.5h.6M210.7,118.5h.6M207.7,123.5h.6M215.5,118.1h.6M208.2,123.7h.6M203.8,124.1h.6M205.3,126.4h.6M207.2,125.3h.6M204.1,120.3h.6M195.6,108.7h.6M222.5,134.4h.6M204.8,128.0h.6M195.4,125.7h.6M198.1,128.4h.6M217.5,119.3h.6M210.2,122.5h.6M196.5,113.9h.6M195.4,115.3h.6M201.3,114.8h.6M208.9,123.0h.6M207.5,120.5h.6M204.9,115.9h.6M223.3,121.0h.6M211.1,129.7h.6M196.2,119.7h.6M215.0,119.6h.6M214.4,128.5h.6M208.7,131.9h.6M219.1,121.5h.6M218.2,130.4h.6M206.6,112.3h.6M220.2,125.2h.6M195.5,97.4h.6M223.5,125.8h.6M217.0,115.9h.6M205.7,109.9h.6M243.6,90.5h.6M198.2,126.8h.6M227.5,115.1h.6M209.1,119.6h.6M219.9,113.9h.6M199.9,109.5h.6M270.6,109.8h.6M266.2,112.2h.6M220.4,122.6h.6M201.5,119.2h.6M228.6,100.9h.6M205.7,102.1h.6M230.6,109.9h.6M231.4,125.0h.6M202.9,109.9h.6M195.4,133.5h.6M202.2,120.8h.6M223.7,122.3h.6M195.3,125.6h.6M237.8,122.2h.6M195.7,109.4h.6M220.6,112.7h.6M221.3,137.4h.6M195.7,123.1h.6M214.4,110.9h.6M219.9,101.0h.6M225.9,130.9h.6M227.8,102.6h.6M226.1,111.8h.6M217.9,107.0h.6M250.9,101.7h.6M212.2,137.8h.6M216.4,119.2h.6M242.3,119.5h.6M237.0,118.7h.6M205.2,116.4h.6M201.3,111.0h.6M221.8,107.2h.6M195.4,112.4h.6M202.9,112.3h.6M204.0,122.3h.6M210.8,129.5h.6M223.4,100.0h.6M216.7,112.8h.6M217.1,114.5h.6M195.9,108.0h.6M211.4,121.9h.6M218.3,117.6h.6M213.2,112.0h.6M239.2,129.4h.6M212.8,109.0h.6M195.5,138.5h.6M195.7,88.8h.6M219.9,113.8h.6M198.4,132.5h.6M211.2,95.8h.6M213.6,106.2h.6M268.5,131.1h.6M242.7,123.5h.6M233.0,130.9h.6M195.8,105.4h.6M209.6,107.4h.6M222.9,96.2h.6M222.5,124.4h.6M218.1,138.5h.6M213.8,136.7h.6M228.5,91.8h.6M208.5,115.8h.6M201.3,103.8h.6M195.4,124.6h.6M232.4,134.1h.6M199.7,118.6h.6M202.7,101.5h.6M223.8,127.7h.6M204.1,117.2h.6M253.3,116.2h.6M225.2,117.9h.6M231.5,105.6h.6M222.5,116.6h.6M195.8,127.6h.6M219.8,112.5h.6M223.8,99.3h.6M195.4,138.7h.6M217.1,113.1h.6M205.1,117.2h.6M238.0,122.8h.6M222.9,119.3h.6M196.9,119.1h.6M213.9,110.5h.6M195.5,91.4h.6M197.0,118.5h.6M254.8,119.5h.6M195.6,108.1h.6M221.5,123.2h.6M195.3,118.0h.6M206.7,125.5h.6M218.0,107.0h.6M216.3,89.9h.6M197.7,129.4h.6M233.7,136.2h.6M235.3,98.9h.6M240.6,127.3h.6M195.3,90.7h.6M195.4,128.0h.6M206.9,130.5h.6M207.8,123.4h.6M195.8,105.6h.6M195.4,111.1h.6M195.4,106.3h.6M197.0,86.0h.6M213.6,115.8h.6M224.9,120.8h.6M234.8,119.6h.6M195.6,119.3h.6M220.0,133.7h.6M221.0,110.5h.6M195.6,96.8h.6M228.5,132.5h.6M218.0,109.2h.6M209.3,111.5h.6M214.6,104.5h.6M217.4,119.4h.6M251.6,120.1h.6M214.2,109.9h.6M198.7,116.1h.6M201.5,132.1h.6M196.9,123.6h.6M244.2,99.6h.6M195.3,132.8h.6M253.1,115.8h.6M196.1,133.4h.6M203.7,128.9h.6M234.3,138.7h.6M218.8,110.7h.6M195.4,101.7h.6" stroke="#747474" stroke-width="0.6" fill="none" opacity="0.75"/>
<rect x="195" y="29" width="119" height="110" fill="none" stroke="#2a2a2a" stroke-width="1.0"/>
<line x1="224.4" y1="29" x2="224.4" y2="139" stroke="#2a2a2a" stroke-width="0.9"/>
<line x1="195" y1="96.5" x2="314" y2="96.5" stroke="#2a2a2a" stroke-width="0.9"/>
<path d="M195.00,139v-1.8M195,139.00h1.8M203.96,139v-1.0M195,130.72h1.0M209.19,139v-1.0M195,125.88h1.0M212.91,139v-1.0M195,122.44h1.0M215.79,139v-1.0M195,119.78h1.0M218.15,139v-1.0M195,117.60h1.0M220.14,139v-1.0M195,115.76h1.0M221.87,139v-1.0M195,114.17h1.0M223.39,139v-1.0M195,112.76h1.0M224.75,139v-1.8M195,111.50h1.8M233.71,139v-1.0M195,103.22h1.0M238.94,139v-1.0M195,98.38h1.0M242.66,139v-1.0M195,94.94h1.0M245.54,139v-1.0M195,92.28h1.0M247.90,139v-1.0M195,90.10h1.0M249.89,139v-1.0M195,88.26h1.0M251.62,139v-1.0M195,86.67h1.0M253.14,139v-1.0M195,85.26h1.0M254.50,139v-1.8M195,84.00h1.8M263.46,139v-1.0M195,75.72h1.0M268.69,139v-1.0M195,70.88h1.0M272.41,139v-1.0M195,67.44h1.0M275.29,139v-1.0M195,64.78h1.0M277.65,139v-1.0M195,62.60h1.0M279.64,139v-1.0M195,60.76h1.0M281.37,139v-1.0M195,59.17h1.0M282.89,139v-1.0M195,57.76h1.0M284.25,139v-1.8M195,56.50h1.8M293.21,139v-1.0M195,48.22h1.0M298.44,139v-1.0M195,43.38h1.0M302.16,139v-1.0M195,39.94h1.0M305.04,139v-1.0M195,37.28h1.0M307.40,139v-1.0M195,35.10h1.0M309.39,139v-1.0M195,33.26h1.0M311.12,139v-1.0M195,31.67h1.0M312.64,139v-1.0M195,30.26h1.0" stroke="#111" stroke-width="0.6" fill="none"/>
<text class="sr" x="191.6" y="147.5" font-size="5.2" fill="#000" stroke="#000" stroke-width="0.12">10<tspan dy="-2.7" font-size="4.7" font-weight="bold">0</tspan></text>
<text class="sr" x="191.8" y="143.0" font-size="5.2" fill="#000" stroke="#000" stroke-width="0.12" transform="rotate(-90 191.8 143.0)">10<tspan dy="-2.7" font-size="4.7" font-weight="bold">0</tspan></text>
<text class="sr" x="222.2" y="147.5" font-size="5.2" fill="#000" stroke="#000" stroke-width="0.12">10<tspan dy="-2.7" font-size="4.7" font-weight="bold">1</tspan></text>
<text class="sr" x="191.8" y="115.5" font-size="5.2" fill="#000" stroke="#000" stroke-width="0.12" transform="rotate(-90 191.8 115.5)">10<tspan dy="-2.7" font-size="4.7" font-weight="bold">1</tspan></text>
<text class="sr" x="251.9" y="147.5" font-size="5.2" fill="#000" stroke="#000" stroke-width="0.12">10<tspan dy="-2.7" font-size="4.7" font-weight="bold">2</tspan></text>
<text class="sr" x="191.8" y="88.0" font-size="5.2" fill="#000" stroke="#000" stroke-width="0.12" transform="rotate(-90 191.8 88.0)">10<tspan dy="-2.7" font-size="4.7" font-weight="bold">2</tspan></text>
<text class="sr" x="281.6" y="147.5" font-size="5.2" fill="#000" stroke="#000" stroke-width="0.12">10<tspan dy="-2.7" font-size="4.7" font-weight="bold">3</tspan></text>
<text class="sr" x="191.8" y="60.5" font-size="5.2" fill="#000" stroke="#000" stroke-width="0.12" transform="rotate(-90 191.8 60.5)">10<tspan dy="-2.7" font-size="4.7" font-weight="bold">3</tspan></text>
<text class="sr" x="311.4" y="147.5" font-size="5.2" fill="#000" stroke="#000" stroke-width="0.12">10<tspan dy="-2.7" font-size="4.7" font-weight="bold">4</tspan></text>
<text class="sr" x="191.8" y="33.0" font-size="5.2" fill="#000" stroke="#000" stroke-width="0.12" transform="rotate(-90 191.8 33.0)">10<tspan dy="-2.7" font-size="4.7" font-weight="bold">4</tspan></text>
<text class="sr" x="255.5" y="153.8" font-size="5" fill="#000" stroke="#000" stroke-width="0.1" text-anchor="middle">FL1-H</text>
<text class="sr" x="183.5" y="84" font-size="5" fill="#000" stroke="#000" stroke-width="0.1" text-anchor="middle" transform="rotate(-90 183.5 84)">FL2-H</text>
<text class="sf" x="255.4" y="21.6" font-size="12.3" text-anchor="middle" fill="#111">PC61</text>
<text class="sf" x="258.0" y="58.6" font-size="11.0" text-anchor="start" fill="#111">0.05%</text>
<line x1="15.1" y1="153.1" x2="15.1" y2="104" stroke="#000" stroke-width="1.8"/>
<line x1="14.2" y1="153.1" x2="64" y2="153.1" stroke="#000" stroke-width="1.8"/>
<path d="M15.1,96.6 L19.5,105.8 L10.7,105.8 Z" fill="#000"/>
<path d="M70.8,153.1 L62.2,148.8 L62.2,157.4 Z" fill="#000"/>
<text class="sf" x="6.6" y="124.4" font-size="7.8" text-anchor="start" fill="#111" transform="rotate(-90 6.6 124.4)" textLength="27" lengthAdjust="spacingAndGlyphs" style="stroke-width:0.45px">CD4 -PE</text>
<text class="sf" x="49.2" y="169.4" font-size="7.8" text-anchor="start" fill="#111" textLength="35.6" lengthAdjust="spacingAndGlyphs" style="stroke-width:0.45px">CD25-FITC</text>
<line x1="37.3" y1="293.7" x2="154.3" y2="293.7" stroke="#f5f5f5" stroke-width="0.6"/>
<line x1="37.3" y1="278.7" x2="154.3" y2="278.7" stroke="#f5f5f5" stroke-width="0.6"/>
<line x1="37.3" y1="263.6" x2="154.3" y2="263.6" stroke="#f5f5f5" stroke-width="0.6"/>
<line x1="37.3" y1="248.6" x2="154.3" y2="248.6" stroke="#f5f5f5" stroke-width="0.6"/>
<line x1="37.3" y1="233.5" x2="154.3" y2="233.5" stroke="#f5f5f5" stroke-width="0.6"/>
<line x1="37.3" y1="218.5" x2="154.3" y2="218.5" stroke="#f5f5f5" stroke-width="0.6"/>
<rect x="37.3" y="203.4" width="117.00000000000001" height="105.4" fill="none" stroke="#a8a8a8" stroke-width="0.8"/>
<text class="ss" x="33.8" y="313.4" font-size="6.4" text-anchor="end" fill="#111">0</text>
<text class="ss" x="33.8" y="298.5" font-size="6.4" text-anchor="end" fill="#111">2000</text>
<text class="ss" x="33.8" y="283.6" font-size="6.4" text-anchor="end" fill="#111">4000</text>
<text class="ss" x="33.8" y="268.7" font-size="6.4" text-anchor="end" fill="#111">6000</text>
<text class="ss" x="33.8" y="253.8" font-size="6.4" text-anchor="end" fill="#111">8000</text>
<text class="ss" x="33.8" y="238.9" font-size="6.4" text-anchor="end" fill="#111">10000</text>
<text class="ss" x="33.8" y="224.0" font-size="6.4" text-anchor="end" fill="#111">12000</text>
<text class="ss" x="33.8" y="209.1" font-size="6.4" text-anchor="end" fill="#111">14000</text>
<text class="ss" x="38.4" y="318.7" font-size="6.4" text-anchor="middle" fill="#111">0</text>
<text class="ss" x="55" y="318.7" font-size="6.4" text-anchor="middle" fill="#111">5</text>
<text class="ss" x="72.4" y="318.7" font-size="6.4" text-anchor="middle" fill="#111">10</text>
<text class="ss" x="89.4" y="318.7" font-size="6.4" text-anchor="middle" fill="#111">15</text>
<text class="ss" x="106.4" y="318.7" font-size="6.4" text-anchor="middle" fill="#111">20</text>
<text class="ss" x="123" y="318.7" font-size="6.4" text-anchor="middle" fill="#111">25</text>
<text class="ss" x="139.6" y="318.7" font-size="6.4" text-anchor="middle" fill="#111">30</text>
<text class="ss" x="156.4" y="318.7" font-size="6.4" text-anchor="middle" fill="#111">35</text>
<text class="ss" x="99.8" y="336.0" font-size="8.7" text-anchor="middle" fill="#111">C2 concentration (µg/mL)</text>
<line x1="187.4" y1="292.6" x2="307.6" y2="292.6" stroke="#f5f5f5" stroke-width="0.6"/>
<line x1="187.4" y1="274.7" x2="307.6" y2="274.7" stroke="#f5f5f5" stroke-width="0.6"/>
<line x1="187.4" y1="256.9" x2="307.6" y2="256.9" stroke="#f5f5f5" stroke-width="0.6"/>
<line x1="187.4" y1="239.1" x2="307.6" y2="239.1" stroke="#f5f5f5" stroke-width="0.6"/>
<line x1="187.4" y1="221.2" x2="307.6" y2="221.2" stroke="#f5f5f5" stroke-width="0.6"/>
<rect x="187.4" y="203.4" width="120.20000000000002" height="106.99999999999997" fill="none" stroke="#a8a8a8" stroke-width="0.8"/>
<text class="ss" x="182.4" y="316.1" font-size="6.4" text-anchor="end" fill="#111">0</text>
<text class="ss" x="182.4" y="298.1" font-size="6.4" text-anchor="end" fill="#111">1000</text>
<text class="ss" x="182.4" y="280.0" font-size="6.4" text-anchor="end" fill="#111">2000</text>
<text class="ss" x="182.4" y="262.0" font-size="6.4" text-anchor="end" fill="#111">3000</text>
<text class="ss" x="182.4" y="244.0" font-size="6.4" text-anchor="end" fill="#111">4000</text>
<text class="ss" x="182.4" y="226.0" font-size="6.4" text-anchor="end" fill="#111">5000</text>
<text class="ss" x="182.4" y="207.9" font-size="6.4" text-anchor="end" fill="#111">6000</text>
<text class="ss" x="188" y="319.7" font-size="6.4" text-anchor="middle" fill="#111">0</text>
<text class="ss" x="210" y="319.7" font-size="6.4" text-anchor="middle" fill="#111">0.2</text>
<text class="ss" x="230.5" y="319.7" font-size="6.4" text-anchor="middle" fill="#111">0.4</text>
<text class="ss" x="250" y="319.7" font-size="6.4" text-anchor="middle" fill="#111">0.6</text>
<text class="ss" x="270.4" y="319.7" font-size="6.4" text-anchor="middle" fill="#111">0.8</text>
<text class="ss" x="289" y="319.7" font-size="6.4" text-anchor="middle" fill="#111">1</text>
<text class="ss" x="311" y="319.7" font-size="6.4" text-anchor="middle" fill="#111">1.2</text>
<text class="ss" x="252" y="338.0" font-size="8.7" text-anchor="middle" fill="#111">fVIII concentration (µg/mL)</text>
<line x1="38" y1="477.9" x2="158.4" y2="477.9" stroke="#f5f5f5" stroke-width="0.6"/>
<line x1="38" y1="464.6" x2="158.4" y2="464.6" stroke="#f5f5f5" stroke-width="0.6"/>
<line x1="38" y1="451.2" x2="158.4" y2="451.2" stroke="#f5f5f5" stroke-width="0.6"/>
<line x1="38" y1="437.9" x2="158.4" y2="437.9" stroke="#f5f5f5" stroke-width="0.6"/>
<line x1="38" y1="424.6" x2="158.4" y2="424.6" stroke="#f5f5f5" stroke-width="0.6"/>
<line x1="38" y1="411.2" x2="158.4" y2="411.2" stroke="#f5f5f5" stroke-width="0.6"/>
<line x1="38" y1="397.9" x2="158.4" y2="397.9" stroke="#f5f5f5" stroke-width="0.6"/>
<rect x="38" y="384.5" width="120.4" height="106.80000000000001" fill="none" stroke="#a8a8a8" stroke-width="0.8"/>
<text class="ss" x="33.4" y="497.6" font-size="6.4" text-anchor="end" fill="#111">0</text>
<text class="ss" x="33.4" y="484.2" font-size="6.4" text-anchor="end" fill="#111">2000</text>
<text class="ss" x="33.4" y="470.9" font-size="6.4" text-anchor="end" fill="#111">4000</text>
<text class="ss" x="33.4" y="457.6" font-size="6.4" text-anchor="end" fill="#111">6000</text>
<text class="ss" x="33.4" y="444.2" font-size="6.4" text-anchor="end" fill="#111">8000</text>
<text class="ss" x="33.4" y="430.9" font-size="6.4" text-anchor="end" fill="#111">10000</text>
<text class="ss" x="33.4" y="417.5" font-size="6.4" text-anchor="end" fill="#111">12000</text>
<text class="ss" x="33.4" y="404.2" font-size="6.4" text-anchor="end" fill="#111">14000</text>
<text class="ss" x="33.4" y="390.8" font-size="6.4" text-anchor="end" fill="#111">16000</text>
<text class="ss" x="38" y="500.7" font-size="6.4" text-anchor="middle" fill="#111">0</text>
<text class="ss" x="55" y="500.7" font-size="6.4" text-anchor="middle" fill="#111">5</text>
<text class="ss" x="73.6" y="500.7" font-size="6.4" text-anchor="middle" fill="#111">10</text>
<text class="ss" x="90.8" y="500.7" font-size="6.4" text-anchor="middle" fill="#111">15</text>
<text class="ss" x="108" y="500.7" font-size="6.4" text-anchor="middle" fill="#111">20</text>
<text class="ss" x="125.6" y="500.7" font-size="6.4" text-anchor="middle" fill="#111">25</text>
<text class="ss" x="142.4" y="500.7" font-size="6.4" text-anchor="middle" fill="#111">30</text>
<text class="ss" x="159.6" y="500.7" font-size="6.4" text-anchor="middle" fill="#111">35</text>
<text class="ss" x="100.5" y="519.0" font-size="8.7" text-anchor="middle" fill="#111">C2 concentration (µg/mL)</text>
<line x1="191.6" y1="479.4" x2="309.0" y2="479.4" stroke="#f5f5f5" stroke-width="0.6"/>
<line x1="191.6" y1="465.8" x2="309.0" y2="465.8" stroke="#f5f5f5" stroke-width="0.6"/>
<line x1="191.6" y1="452.2" x2="309.0" y2="452.2" stroke="#f5f5f5" stroke-width="0.6"/>
<line x1="191.6" y1="438.6" x2="309.0" y2="438.6" stroke="#f5f5f5" stroke-width="0.6"/>
<line x1="191.6" y1="425.1" x2="309.0" y2="425.1" stroke="#f5f5f5" stroke-width="0.6"/>
<line x1="191.6" y1="411.5" x2="309.0" y2="411.5" stroke="#f5f5f5" stroke-width="0.6"/>
<line x1="191.6" y1="397.9" x2="309.0" y2="397.9" stroke="#f5f5f5" stroke-width="0.6"/>
<rect x="191.6" y="384.3" width="117.4" height="108.69999999999999" fill="none" stroke="#a8a8a8" stroke-width="0.8"/>
<text class="ss" x="190" y="497.9" font-size="6.4" text-anchor="end" fill="#111">0</text>
<text class="ss" x="190" y="484.3" font-size="6.4" text-anchor="end" fill="#111">1000</text>
<text class="ss" x="190" y="470.7" font-size="6.4" text-anchor="end" fill="#111">2000</text>
<text class="ss" x="190" y="457.1" font-size="6.4" text-anchor="end" fill="#111">3000</text>
<text class="ss" x="190" y="443.6" font-size="6.4" text-anchor="end" fill="#111">4000</text>
<text class="ss" x="190" y="430.0" font-size="6.4" text-anchor="end" fill="#111">5000</text>
<text class="ss" x="190" y="416.4" font-size="6.4" text-anchor="end" fill="#111">6000</text>
<text class="ss" x="190" y="402.8" font-size="6.4" text-anchor="end" fill="#111">7000</text>
<text class="ss" x="190" y="389.2" font-size="6.4" text-anchor="end" fill="#111">8000</text>
<text class="ss" x="192" y="500.3" font-size="6.4" text-anchor="middle" fill="#111">0</text>
<text class="ss" x="214" y="500.3" font-size="6.4" text-anchor="middle" fill="#111">0.2</text>
<text class="ss" x="233" y="500.3" font-size="6.4" text-anchor="middle" fill="#111">0.4</text>
<text class="ss" x="253.3" y="500.3" font-size="6.4" text-anchor="middle" fill="#111">0.6</text>
<text class="ss" x="273" y="500.3" font-size="6.4" text-anchor="middle" fill="#111">0.8</text>
<text class="ss" x="291.6" y="500.3" font-size="6.4" text-anchor="middle" fill="#111">1</text>
<text class="ss" x="313" y="500.3" font-size="6.4" text-anchor="middle" fill="#111">1.2</text>
<text class="ss" x="257.8" y="518.8" font-size="8.7" text-anchor="middle" fill="#111">fVIII concentration (µg/mL)</text>
<text class="ss" x="7.6" y="262.5" font-size="8.7" text-anchor="middle" fill="#111" transform="rotate(-90 7.6 262.5)"><tspan font-size="5.6" dy="-2.8">3</tspan><tspan dy="2.8">H TdR incorporation (Δcpm)</tspan></text>
<text class="ss" x="7.6" y="434.5" font-size="8.6" text-anchor="middle" fill="#111" transform="rotate(-90 7.6 434.5)"><tspan font-size="5.6" dy="-2.8">3</tspan><tspan dy="2.8">H TdR incorporation(Δcpm)</tspan></text>
<line x1="138" y1="218" x2="138" y2="238" stroke="#000" stroke-width="0.9"/>
<line x1="136.2" y1="218" x2="139.8" y2="218" stroke="#000" stroke-width="0.9"/>
<line x1="136.2" y1="238" x2="139.8" y2="238" stroke="#000" stroke-width="0.9"/>
<line x1="38.7" y1="266.2" x2="38.7" y2="274" stroke="#333" stroke-width="0.7"/>
<line x1="37.1" y1="266.2" x2="40.300000000000004" y2="266.2" stroke="#333" stroke-width="0.7"/>
<line x1="37.1" y1="274" x2="40.300000000000004" y2="274" stroke="#333" stroke-width="0.7"/>
<path d="M37.0,271.3 C37.2,271.2 37.9,271.0 38.4,271.0 C38.9,271.0 38.5,273.4 40.0,271.3 C41.5,269.2 42.1,263.4 47.2,258.3 C52.3,253.2 55.4,245.5 70.5,241.0 C85.6,236.5 126.8,233.0 138.0,231.4" fill="none" stroke="#000" stroke-width="1.2" stroke-linejoin="round"/>
<circle cx="37.0" cy="271.3" r="2.2" fill="#fff" stroke="#000" stroke-width="0.8"/>
<circle cx="38.4" cy="271.0" r="2.2" fill="#fff" stroke="#000" stroke-width="0.8"/>
<circle cx="40.0" cy="271.3" r="2.2" fill="#fff" stroke="#000" stroke-width="0.8"/>
<circle cx="47.2" cy="258.3" r="2.2" fill="#fff" stroke="#000" stroke-width="0.8"/>
<circle cx="70.5" cy="241" r="2.2" fill="#fff" stroke="#000" stroke-width="0.8"/>
<circle cx="138" cy="231.4" r="2.2" fill="#fff" stroke="#000" stroke-width="0.8"/>
<path d="M37.4,309.0 C37.4,303.7 37.4,282.6 37.6,277.0 C37.8,271.4 38.2,276.1 38.7,275.4 C39.2,274.7 39.2,274.9 40.6,272.6 C42.0,270.3 42.3,268.8 47.3,261.8 C52.3,254.8 55.4,236.7 70.5,230.6 C85.6,224.5 126.8,226.3 138.0,225.4" fill="none" stroke="#000" stroke-width="1.2" stroke-linejoin="round"/>
<path d="M37.4,306.09999999999997 L40.0,309 L37.4,311.90000000000003 L34.8,309 Z" fill="#000"/>
<path d="M34.599999999999994,309 H40.9" stroke="#000" stroke-width="0.8"/>
<path d="M37.6,274.09999999999997 L40.2,277 L37.6,279.90000000000003 L35.0,277 Z" fill="#000"/>
<path d="M34.8,277 H41.1" stroke="#000" stroke-width="0.8"/>
<path d="M38.7,272.49999999999994 L41.300000000000004,275.4 L38.7,278.3 L36.1,275.4 Z" fill="#000"/>
<path d="M35.9,275.4 H42.2" stroke="#000" stroke-width="0.8"/>
<path d="M40.6,269.7 L43.2,272.6 L40.6,275.50000000000006 L38.0,272.6 Z" fill="#000"/>
<path d="M37.8,272.6 H44.1" stroke="#000" stroke-width="0.8"/>
<path d="M47.3,258.9 L49.9,261.8 L47.3,264.70000000000005 L44.699999999999996,261.8 Z" fill="#000"/>
<path d="M44.49999999999999,261.8 H50.8" stroke="#000" stroke-width="0.8"/>
<path d="M70.5,227.7 L73.1,230.6 L70.5,233.5 L67.9,230.6 Z" fill="#000"/>
<path d="M67.7,230.6 H74.0" stroke="#000" stroke-width="0.8"/>
<path d="M138,222.5 L140.6,225.4 L138,228.3 L135.4,225.4 Z" fill="#000"/>
<path d="M135.20000000000002,225.4 H141.5" stroke="#000" stroke-width="0.8"/>
<circle cx="37.4" cy="308.8" r="2.2" fill="#fff" stroke="#000" stroke-width="0.8"/>
<circle cx="37.0" cy="271.3" r="2.2" fill="#fff" stroke="#000" stroke-width="0.8"/>
<circle cx="40.0" cy="271.3" r="2.2" fill="#fff" stroke="#000" stroke-width="0.8"/>
<circle cx="47.2" cy="258.3" r="2.2" fill="#fff" stroke="#000" stroke-width="0.8"/>
<circle cx="70.5" cy="241" r="2.2" fill="#fff" stroke="#000" stroke-width="0.8"/>
<circle cx="138" cy="231.4" r="2.2" fill="#fff" stroke="#000" stroke-width="0.8"/>
<line x1="287.6" y1="213.4" x2="287.6" y2="252" stroke="#777" stroke-width="0.6"/>
<line x1="286.3" y1="213.4" x2="288.90000000000003" y2="213.4" stroke="#777" stroke-width="0.6"/>
<line x1="286.3" y1="252" x2="288.90000000000003" y2="252" stroke="#777" stroke-width="0.6"/>
<line x1="287.6" y1="213.4" x2="287.6" y2="224" stroke="#333" stroke-width="0.7"/>
<line x1="217.6" y1="269.4" x2="217.6" y2="283" stroke="#555" stroke-width="0.6"/>
<line x1="216.29999999999998" y1="269.4" x2="218.9" y2="269.4" stroke="#555" stroke-width="0.6"/>
<line x1="216.29999999999998" y1="283" x2="218.9" y2="283" stroke="#555" stroke-width="0.6"/>
<line x1="188" y1="292.5" x2="188" y2="302" stroke="#555" stroke-width="0.6"/>
<line x1="186.7" y1="292.5" x2="189.3" y2="292.5" stroke="#555" stroke-width="0.6"/>
<line x1="186.7" y1="302" x2="189.3" y2="302" stroke="#555" stroke-width="0.6"/>
<line x1="197" y1="293.5" x2="197" y2="301" stroke="#555" stroke-width="0.6"/>
<line x1="195.7" y1="293.5" x2="198.3" y2="293.5" stroke="#555" stroke-width="0.6"/>
<line x1="195.7" y1="301" x2="198.3" y2="301" stroke="#555" stroke-width="0.6"/>
<path d="M187.6,310.6 L188,297.4 L190.4,301.4 L197,297 L217.6,278 L287.6,243.6" fill="none" stroke="#000" stroke-width="1.15" stroke-linejoin="round"/>
<circle cx="187.6" cy="310.6" r="2.2" fill="#fff" stroke="#000" stroke-width="0.8"/>
<circle cx="188" cy="297.4" r="2.2" fill="#fff" stroke="#000" stroke-width="0.8"/>
<circle cx="190.4" cy="301.4" r="2.2" fill="#fff" stroke="#000" stroke-width="0.8"/>
<circle cx="197" cy="297" r="2.2" fill="#fff" stroke="#000" stroke-width="0.8"/>
<circle cx="217.6" cy="278" r="2.2" fill="#fff" stroke="#000" stroke-width="0.8"/>
<circle cx="287.6" cy="243.6" r="2.2" fill="#fff" stroke="#000" stroke-width="0.8"/>
<path d="M187.6,310.2 L189,308 L190.6,305 L197,297.4 L217.6,276 L287.6,223.6" fill="none" stroke="#000" stroke-width="1.15" stroke-linejoin="round"/>
<path d="M187.6,307.9 L189.9,310.2 L187.6,312.5 L185.29999999999998,310.2 Z" fill="#000"/>
<path d="M189,305.7 L191.3,308 L189,310.3 L186.7,308 Z" fill="#000"/>
<path d="M190.6,302.7 L192.9,305 L190.6,307.3 L188.29999999999998,305 Z" fill="#000"/>
<path d="M197,295.09999999999997 L199.3,297.4 L197,299.7 L194.7,297.4 Z" fill="#000"/>
<path d="M217.6,273.7 L219.9,276 L217.6,278.3 L215.29999999999998,276 Z" fill="#000"/>
<path d="M287.6,221.29999999999998 L289.90000000000003,223.6 L287.6,225.9 L285.3,223.6 Z" fill="#000"/>
<circle cx="187.6" cy="310.6" r="2.2" fill="#fff" stroke="#000" stroke-width="0.8"/>
<circle cx="188" cy="297.4" r="2.2" fill="#fff" stroke="#000" stroke-width="0.8"/>
<circle cx="197" cy="297" r="2.2" fill="#fff" stroke="#000" stroke-width="0.8"/>
<circle cx="217.6" cy="278" r="2.2" fill="#fff" stroke="#000" stroke-width="0.8"/>
<circle cx="287.6" cy="243.6" r="2.2" fill="#fff" stroke="#000" stroke-width="0.8"/>
<line x1="48.4" y1="433.4" x2="48.4" y2="446" stroke="#111" stroke-width="0.85"/>
<line x1="46.6" y1="433.4" x2="50.199999999999996" y2="433.4" stroke="#111" stroke-width="0.85"/>
<line x1="46.6" y1="446" x2="50.199999999999996" y2="446" stroke="#111" stroke-width="0.85"/>
<line x1="72.4" y1="416.6" x2="72.4" y2="428.6" stroke="#111" stroke-width="0.85"/>
<line x1="70.60000000000001" y1="416.6" x2="74.2" y2="416.6" stroke="#111" stroke-width="0.85"/>
<line x1="70.60000000000001" y1="428.6" x2="74.2" y2="428.6" stroke="#111" stroke-width="0.85"/>
<line x1="141.6" y1="398.6" x2="141.6" y2="411" stroke="#111" stroke-width="0.85"/>
<line x1="139.79999999999998" y1="398.6" x2="143.4" y2="398.6" stroke="#111" stroke-width="0.85"/>
<line x1="139.79999999999998" y1="411" x2="143.4" y2="411" stroke="#111" stroke-width="0.85"/>
<line x1="41" y1="450.5" x2="41" y2="461.5" stroke="#111" stroke-width="0.85"/>
<line x1="39.2" y1="450.5" x2="42.8" y2="450.5" stroke="#111" stroke-width="0.85"/>
<line x1="39.2" y1="461.5" x2="42.8" y2="461.5" stroke="#111" stroke-width="0.85"/>
<line x1="41.2" y1="469" x2="41.2" y2="486" stroke="#111" stroke-width="0.85"/>
<line x1="39.400000000000006" y1="469" x2="43.0" y2="469" stroke="#111" stroke-width="0.85"/>
<line x1="39.400000000000006" y1="486" x2="43.0" y2="486" stroke="#111" stroke-width="0.85"/>
<line x1="48.6" y1="473" x2="48.6" y2="481.5" stroke="#111" stroke-width="0.85"/>
<line x1="46.800000000000004" y1="473" x2="50.4" y2="473" stroke="#111" stroke-width="0.85"/>
<line x1="46.800000000000004" y1="481.5" x2="50.4" y2="481.5" stroke="#111" stroke-width="0.85"/>
<line x1="39" y1="480" x2="39" y2="487.5" stroke="#111" stroke-width="0.85"/>
<line x1="37.2" y1="480" x2="40.8" y2="480" stroke="#111" stroke-width="0.85"/>
<line x1="37.2" y1="487.5" x2="40.8" y2="487.5" stroke="#111" stroke-width="0.85"/>
<path d="M37.4,491.0 C37.7,489.8 38.4,486.2 39.0,484.0 C39.6,481.8 39.6,479.0 41.2,478.0 C42.8,477.0 43.3,479.9 48.6,478.0 C53.9,476.1 57.4,470.6 73.0,466.4 C88.6,462.2 130.5,455.2 142.0,453.0" fill="none" stroke="#000" stroke-width="1.2" stroke-linejoin="round"/>
<path d="M37.4,487.9 L40.199999999999996,493.5 L34.6,493.5 Z" fill="#fff" stroke="#000" stroke-width="0.8"/>
<path d="M39,480.9 L41.8,486.5 L36.2,486.5 Z" fill="#fff" stroke="#000" stroke-width="0.8"/>
<path d="M41.2,474.9 L44.0,480.5 L38.400000000000006,480.5 Z" fill="#fff" stroke="#000" stroke-width="0.8"/>
<path d="M48.6,474.9 L51.4,480.5 L45.800000000000004,480.5 Z" fill="#fff" stroke="#000" stroke-width="0.8"/>
<path d="M73,463.29999999999995 L75.8,468.9 L70.2,468.9 Z" fill="#fff" stroke="#000" stroke-width="0.8"/>
<path d="M142,449.9 L144.8,455.5 L139.2,455.5 Z" fill="#fff" stroke="#000" stroke-width="0.8"/>
<path d="M37.4,491.0 C37.5,485.5 37.2,463.8 37.8,458.0 C38.4,452.2 39.2,459.4 41.0,456.4 C42.8,453.4 43.2,445.7 48.4,440.0 C53.6,434.3 56.9,427.9 72.4,422.0 C87.9,416.1 130.1,407.5 141.6,404.6" fill="none" stroke="#000" stroke-width="1.2" stroke-linejoin="round"/>
<rect x="34.8" y="488.4" width="5.2" height="5.2" fill="#000"/>
<rect x="35.199999999999996" y="455.4" width="5.2" height="5.2" fill="#000"/>
<rect x="38.4" y="453.79999999999995" width="5.2" height="5.2" fill="#000"/>
<rect x="45.8" y="437.4" width="5.2" height="5.2" fill="#000"/>
<rect x="69.80000000000001" y="419.4" width="5.2" height="5.2" fill="#000"/>
<rect x="139.0" y="402.0" width="5.2" height="5.2" fill="#000"/>
<text x="72.2" y="464.2" font-size="7.6" text-anchor="middle" fill="#4a4a4a" stroke="#4a4a4a" stroke-width="0.45" style="font-family:"Liberation Sans", sans-serif;font-weight:bold">*</text>
<text x="141.8" y="451.2" font-size="7.6" text-anchor="middle" fill="#4a4a4a" stroke="#4a4a4a" stroke-width="0.45" style="font-family:"Liberation Sans", sans-serif;font-weight:bold">*</text>
<line x1="201" y1="450" x2="201" y2="462" stroke="#222" stroke-width="0.85"/>
<line x1="199.2" y1="450" x2="202.8" y2="450" stroke="#222" stroke-width="0.85"/>
<line x1="199.2" y1="462" x2="202.8" y2="462" stroke="#222" stroke-width="0.85"/>
<line x1="221" y1="426.4" x2="221" y2="445.4" stroke="#222" stroke-width="0.85"/>
<line x1="219.2" y1="426.4" x2="222.8" y2="426.4" stroke="#222" stroke-width="0.85"/>
<line x1="219.2" y1="445.4" x2="222.8" y2="445.4" stroke="#222" stroke-width="0.85"/>
<line x1="290" y1="396.4" x2="290" y2="417" stroke="#222" stroke-width="0.85"/>
<line x1="288.2" y1="396.4" x2="291.8" y2="396.4" stroke="#222" stroke-width="0.85"/>
<line x1="288.2" y1="417" x2="291.8" y2="417" stroke="#222" stroke-width="0.85"/>
<line x1="201" y1="478" x2="201" y2="486" stroke="#222" stroke-width="0.85"/>
<line x1="199.2" y1="478" x2="202.8" y2="478" stroke="#222" stroke-width="0.85"/>
<line x1="199.2" y1="486" x2="202.8" y2="486" stroke="#222" stroke-width="0.85"/>
<line x1="291" y1="471" x2="291" y2="481.4" stroke="#222" stroke-width="0.85"/>
<line x1="289.2" y1="471" x2="292.8" y2="471" stroke="#222" stroke-width="0.85"/>
<line x1="289.2" y1="481.4" x2="292.8" y2="481.4" stroke="#222" stroke-width="0.85"/>
<path d="M190.6,493.4 C190.8,492.8 191.4,491.2 192.0,490.0 C192.6,488.8 192.7,487.7 194.2,486.4 C195.7,485.1 196.5,483.6 201.0,482.4 C205.5,481.2 206.4,480.0 221.4,479.0 C236.4,478.0 279.4,476.8 291.0,476.4" fill="none" stroke="#000" stroke-width="1.2" stroke-linejoin="round"/>
<path d="M190.6,490.7 L193.0,495.49999999999994 L188.2,495.49999999999994 Z" fill="#fff" stroke="#000" stroke-width="0.8"/>
<path d="M192,487.3 L194.4,492.09999999999997 L189.6,492.09999999999997 Z" fill="#fff" stroke="#000" stroke-width="0.8"/>
<path d="M194.2,483.7 L196.6,488.49999999999994 L191.79999999999998,488.49999999999994 Z" fill="#fff" stroke="#000" stroke-width="0.8"/>
<path d="M201,479.7 L203.4,484.49999999999994 L198.6,484.49999999999994 Z" fill="#fff" stroke="#000" stroke-width="0.8"/>
<path d="M221.4,476.3 L223.8,481.09999999999997 L219.0,481.09999999999997 Z" fill="#fff" stroke="#000" stroke-width="0.8"/>
<path d="M291,473.7 L293.4,478.49999999999994 L288.6,478.49999999999994 Z" fill="#fff" stroke="#000" stroke-width="0.8"/>
<path d="M190.6,493.4 C190.8,492.5 191.4,489.3 192.0,488.0 C192.6,486.7 192.9,490.7 194.4,485.4 C195.9,480.1 196.6,464.2 201.0,456.0 C205.4,447.8 206.2,444.2 221.0,436.0 C235.8,427.8 278.5,411.5 290.0,406.6" fill="none" stroke="#000" stroke-width="1.2" stroke-linejoin="round"/>
<rect x="188.35" y="491.15" width="4.5" height="4.5" fill="#000"/>
<rect x="189.75" y="485.75" width="4.5" height="4.5" fill="#000"/>
<rect x="192.15" y="483.15" width="4.5" height="4.5" fill="#000"/>
<rect x="198.75" y="453.75" width="4.5" height="4.5" fill="#000"/>
<rect x="218.75" y="433.75" width="4.5" height="4.5" fill="#000"/>
<rect x="287.75" y="404.35" width="4.5" height="4.5" fill="#000"/>
<text x="221.6" y="477.2" font-size="7.6" text-anchor="middle" fill="#4a4a4a" stroke="#4a4a4a" stroke-width="0.45" style="font-family:"Liberation Sans", sans-serif;font-weight:bold">*</text>
<text x="291.25" y="468.8" font-size="7.6" text-anchor="middle" fill="#4a4a4a" stroke="#4a4a4a" stroke-width="0.45" letter-spacing="0.9" style="font-family:"Liberation Sans", sans-serif;font-weight:bold">**</text>
<line x1="367.6" y1="119.9" x2="517.6" y2="119.9" stroke="#f5f5f5" stroke-width="0.6"/>
<line x1="367.6" y1="100.2" x2="517.6" y2="100.2" stroke="#f5f5f5" stroke-width="0.6"/>
<line x1="367.6" y1="80.6" x2="517.6" y2="80.6" stroke="#f5f5f5" stroke-width="0.6"/>
<line x1="367.6" y1="60.9" x2="517.6" y2="60.9" stroke="#f5f5f5" stroke-width="0.6"/>
<rect x="367.6" y="41.2" width="150.0" height="98.39999999999999" fill="none" stroke="#b4b4b4" stroke-width="0.8"/>
<text class="ss" x="365.4" y="142.8" font-size="7.6" text-anchor="end" fill="#111">0</text>
<text class="ss" x="365.4" y="123.1" font-size="7.6" text-anchor="end" fill="#111">50</text>
<text class="ss" x="365.4" y="103.4" font-size="7.6" text-anchor="end" fill="#111">100</text>
<text class="ss" x="365.4" y="83.8" font-size="7.6" text-anchor="end" fill="#111">150</text>
<text class="ss" x="365.4" y="64.1" font-size="7.6" text-anchor="end" fill="#111">200</text>
<text class="ss" x="365.4" y="44.4" font-size="7.6" text-anchor="end" fill="#111">250</text>
<rect x="383.6" y="92.6" width="21.4" height="46.99999999999999" fill="#fff" stroke="#000" stroke-width="1.3"/>
<rect x="405" y="75.6" width="22" height="64.0" fill="#000" stroke="none" stroke-width="1"/>
<rect x="459.6" y="131.0" width="21.4" height="8.599999999999989" fill="#fff" stroke="#000" stroke-width="1.3"/>
<rect x="481" y="85" width="21.80000000000001" height="54.599999999999994" fill="#000" stroke="none" stroke-width="1"/>
<line x1="394.5" y1="84" x2="394.5" y2="100.4" stroke="#555" stroke-width="0.75"/>
<line x1="393.2" y1="84" x2="395.8" y2="84" stroke="#555" stroke-width="0.75"/>
<line x1="393.2" y1="100.4" x2="395.8" y2="100.4" stroke="#555" stroke-width="0.75"/>
<line x1="416.5" y1="57.4" x2="416.5" y2="76" stroke="#555" stroke-width="0.75"/>
<line x1="415.2" y1="57.4" x2="417.8" y2="57.4" stroke="#555" stroke-width="0.75"/>
<line x1="415.2" y1="76" x2="417.8" y2="76" stroke="#555" stroke-width="0.75"/>
<line x1="470.5" y1="127" x2="470.5" y2="133" stroke="#555" stroke-width="0.75"/>
<line x1="469.2" y1="127" x2="471.8" y2="127" stroke="#555" stroke-width="0.75"/>
<line x1="469.2" y1="133" x2="471.8" y2="133" stroke="#555" stroke-width="0.75"/>
<line x1="492.5" y1="72" x2="492.5" y2="86" stroke="#555" stroke-width="0.75"/>
<line x1="491.2" y1="72" x2="493.8" y2="72" stroke="#555" stroke-width="0.75"/>
<line x1="491.2" y1="86" x2="493.8" y2="86" stroke="#555" stroke-width="0.75"/>
<text x="469.6" y="126.5" font-size="7.6" text-anchor="middle" fill="#4a4a4a" stroke="#4a4a4a" stroke-width="0.45" style="font-family:"Liberation Sans", sans-serif;font-weight:bold">*</text>
<text class="ss" x="387.5" y="153.20" font-size="7.5" text-anchor="middle" fill="#111" transform="rotate(-30 387.5 150.5)">C2+A2</text>
<text class="ss" x="412.4" y="151.20" font-size="7.5" text-anchor="middle" fill="#111" transform="rotate(-30 412.4 148.5)">SAG</text>
<text class="ss" x="464.4" y="153.00" font-size="7.5" text-anchor="middle" fill="#111" transform="rotate(-30 464.4 150.3)">C2+A2</text>
<text class="ss" x="490.2" y="151.10" font-size="7.5" text-anchor="middle" fill="#111" transform="rotate(-30 490.2 148.4)">SAG</text>
<line x1="378.1" y1="162.0" x2="423.6" y2="162.0" stroke="#111" stroke-width="1.15"/>
<line x1="455.9" y1="162.0" x2="501.2" y2="162.0" stroke="#111" stroke-width="1.15"/>
<text class="ss" x="402" y="172.10000000000002" font-size="7.8" text-anchor="middle" fill="#111">PC61</text>
<text class="ss" x="479" y="171.5" font-size="7.8" text-anchor="middle" fill="#111">Rat IgG</text>
<text class="ss" x="344.4" y="88.5" font-size="8.35" text-anchor="middle" fill="#111" transform="rotate(-90 344.4 88.5)">Total IgG anti-C2 (µg/mL)</text>
<line x1="367.6" y1="294.9" x2="514.6" y2="294.9" stroke="#f5f5f5" stroke-width="0.6"/>
<line x1="367.6" y1="278.3" x2="514.6" y2="278.3" stroke="#f5f5f5" stroke-width="0.6"/>
<line x1="367.6" y1="261.6" x2="514.6" y2="261.6" stroke="#f5f5f5" stroke-width="0.6"/>
<line x1="367.6" y1="245.0" x2="514.6" y2="245.0" stroke="#f5f5f5" stroke-width="0.6"/>
<line x1="367.6" y1="228.4" x2="514.6" y2="228.4" stroke="#f5f5f5" stroke-width="0.6"/>
<rect x="367.6" y="211.8" width="147.0" height="99.69999999999999" fill="none" stroke="#b4b4b4" stroke-width="0.8"/>
<text class="ss" x="365.4" y="314.6" font-size="7.6" text-anchor="end" fill="#111">0</text>
<text class="ss" x="365.4" y="298.1" font-size="7.6" text-anchor="end" fill="#111">100</text>
<text class="ss" x="365.4" y="281.7" font-size="7.6" text-anchor="end" fill="#111">200</text>
<text class="ss" x="365.4" y="265.2" font-size="7.6" text-anchor="end" fill="#111">300</text>
<text class="ss" x="365.4" y="248.8" font-size="7.6" text-anchor="end" fill="#111">400</text>
<text class="ss" x="365.4" y="232.3" font-size="7.6" text-anchor="end" fill="#111">500</text>
<text class="ss" x="365.4" y="215.9" font-size="7.6" text-anchor="end" fill="#111">600</text>
<rect x="383.20000000000005" y="245.6" width="20.799999999999976" height="65.9" fill="#fff" stroke="#000" stroke-width="1.3"/>
<rect x="404" y="250.6" width="20.600000000000023" height="60.900000000000006" fill="#000" stroke="none" stroke-width="1"/>
<rect x="456.6" y="294.6" width="20.4" height="16.9" fill="#fff" stroke="#000" stroke-width="1.3"/>
<rect x="477" y="233.6" width="21.399999999999977" height="77.9" fill="#000" stroke="none" stroke-width="1"/>
<line x1="393.5" y1="229.4" x2="393.5" y2="261.4" stroke="#555" stroke-width="0.75"/>
<line x1="392.2" y1="229.4" x2="394.8" y2="229.4" stroke="#555" stroke-width="0.75"/>
<line x1="392.2" y1="261.4" x2="394.8" y2="261.4" stroke="#555" stroke-width="0.75"/>
<line x1="414.5" y1="243" x2="414.5" y2="252" stroke="#555" stroke-width="0.75"/>
<line x1="413.2" y1="243" x2="415.8" y2="243" stroke="#555" stroke-width="0.75"/>
<line x1="413.2" y1="252" x2="415.8" y2="252" stroke="#555" stroke-width="0.75"/>
<line x1="467.5" y1="289" x2="467.5" y2="299" stroke="#555" stroke-width="0.75"/>
<line x1="466.2" y1="289" x2="468.8" y2="289" stroke="#555" stroke-width="0.75"/>
<line x1="466.2" y1="299" x2="468.8" y2="299" stroke="#555" stroke-width="0.75"/>
<line x1="488.5" y1="221.4" x2="488.5" y2="235" stroke="#555" stroke-width="0.75"/>
<line x1="487.2" y1="221.4" x2="489.8" y2="221.4" stroke="#555" stroke-width="0.75"/>
<line x1="487.2" y1="235" x2="489.8" y2="235" stroke="#555" stroke-width="0.75"/>
<text x="467.4" y="289.7" font-size="7.6" text-anchor="middle" fill="#4a4a4a" stroke="#4a4a4a" stroke-width="0.45" style="font-family:"Liberation Sans", sans-serif;font-weight:bold">*</text>
<text class="ss" x="385.7" y="325.50" font-size="7.5" text-anchor="middle" fill="#111" transform="rotate(-30 385.7 322.8)">C2+A2</text>
<text class="ss" x="409.2" y="323.70" font-size="7.5" text-anchor="middle" fill="#111" transform="rotate(-30 409.2 321.0)">SAG</text>
<text class="ss" x="460.9" y="325.50" font-size="7.5" text-anchor="middle" fill="#111" transform="rotate(-30 460.9 322.8)">C2+A2</text>
<text class="ss" x="484.8" y="323.50" font-size="7.5" text-anchor="middle" fill="#111" transform="rotate(-30 484.8 320.8)">SAG</text>
<line x1="373.4" y1="333.2" x2="418.7" y2="333.2" stroke="#111" stroke-width="1.15"/>
<line x1="450.8" y1="333.2" x2="496.3" y2="333.2" stroke="#111" stroke-width="1.15"/>
<text class="ss" x="397" y="342.3" font-size="7.8" text-anchor="middle" fill="#111">PC61</text>
<text class="ss" x="476" y="342.1" font-size="7.8" text-anchor="middle" fill="#111">Rat IgG</text>
<text class="ss" x="344.4" y="261" font-size="8.35" text-anchor="middle" fill="#111" transform="rotate(-90 344.4 261)">Total IgG anti- fVIII (µg/mL)</text>
<line x1="367.6" y1="478.3" x2="514.4" y2="478.3" stroke="#f5f5f5" stroke-width="0.6"/>
<line x1="367.6" y1="463.0" x2="514.4" y2="463.0" stroke="#f5f5f5" stroke-width="0.6"/>
<line x1="367.6" y1="447.6" x2="514.4" y2="447.6" stroke="#f5f5f5" stroke-width="0.6"/>
<line x1="367.6" y1="432.3" x2="514.4" y2="432.3" stroke="#f5f5f5" stroke-width="0.6"/>
<line x1="367.6" y1="416.9" x2="514.4" y2="416.9" stroke="#f5f5f5" stroke-width="0.6"/>
<line x1="367.6" y1="401.6" x2="514.4" y2="401.6" stroke="#f5f5f5" stroke-width="0.6"/>
<rect x="367.6" y="386.2" width="146.79999999999995" height="107.5" fill="none" stroke="#b4b4b4" stroke-width="0.8"/>
<text class="ss" x="365.4" y="496.9" font-size="7.6" text-anchor="end" fill="#111">0</text>
<text class="ss" x="365.4" y="481.5" font-size="7.6" text-anchor="end" fill="#111">20</text>
<text class="ss" x="365.4" y="466.2" font-size="7.6" text-anchor="end" fill="#111">40</text>
<text class="ss" x="365.4" y="450.8" font-size="7.6" text-anchor="end" fill="#111">60</text>
<text class="ss" x="365.4" y="435.5" font-size="7.6" text-anchor="end" fill="#111">80</text>
<text class="ss" x="365.4" y="420.1" font-size="7.6" text-anchor="end" fill="#111">100</text>
<text class="ss" x="365.4" y="404.8" font-size="7.6" text-anchor="end" fill="#111">120</text>
<text class="ss" x="365.4" y="389.4" font-size="7.6" text-anchor="end" fill="#111">140</text>
<rect x="383.6" y="427.6" width="21.00000000000002" height="66.1" fill="#fff" stroke="#000" stroke-width="1.3"/>
<rect x="404.6" y="440.6" width="21.0" height="53.099999999999966" fill="#000" stroke="none" stroke-width="1"/>
<rect x="457.6" y="485.0" width="20.799999999999976" height="8.700000000000012" fill="#fff" stroke="#000" stroke-width="1.3"/>
<rect x="478.4" y="409.4" width="21.200000000000045" height="84.30000000000001" fill="#000" stroke="none" stroke-width="1"/>
<line x1="394.5" y1="424" x2="394.5" y2="430.6" stroke="#555" stroke-width="0.75"/>
<line x1="393.2" y1="424" x2="395.8" y2="424" stroke="#555" stroke-width="0.75"/>
<line x1="393.2" y1="430.6" x2="395.8" y2="430.6" stroke="#555" stroke-width="0.75"/>
<line x1="415.5" y1="428" x2="415.5" y2="441" stroke="#555" stroke-width="0.75"/>
<line x1="414.2" y1="428" x2="416.8" y2="428" stroke="#555" stroke-width="0.75"/>
<line x1="414.2" y1="441" x2="416.8" y2="441" stroke="#555" stroke-width="0.75"/>
<line x1="467.5" y1="483.2" x2="467.5" y2="485.6" stroke="#555" stroke-width="0.75"/>
<line x1="466.2" y1="483.2" x2="468.8" y2="483.2" stroke="#555" stroke-width="0.75"/>
<line x1="466.2" y1="485.6" x2="468.8" y2="485.6" stroke="#555" stroke-width="0.75"/>
<line x1="489.5" y1="403" x2="489.5" y2="410" stroke="#555" stroke-width="0.75"/>
<line x1="488.2" y1="403" x2="490.8" y2="403" stroke="#555" stroke-width="0.75"/>
<line x1="488.2" y1="410" x2="490.8" y2="410" stroke="#555" stroke-width="0.75"/>
<text x="468.84999999999997" y="480.29999999999995" font-size="7.6" text-anchor="middle" fill="#4a4a4a" stroke="#4a4a4a" stroke-width="0.45" letter-spacing="0.9" style="font-family:"Liberation Sans", sans-serif;font-weight:bold">**</text>
<text class="ss" x="387.5" y="506.70" font-size="7.5" text-anchor="middle" fill="#111" transform="rotate(-30 387.5 504.0)">C2+A2</text>
<text class="ss" x="411.7" y="504.70" font-size="7.5" text-anchor="middle" fill="#111" transform="rotate(-30 411.7 502.0)">SAG</text>
<text class="ss" x="462.2" y="506.80" font-size="7.5" text-anchor="middle" fill="#111" transform="rotate(-30 462.2 504.1)">C2+A2</text>
<text class="ss" x="486.4" y="504.70" font-size="7.5" text-anchor="middle" fill="#111" transform="rotate(-30 486.4 502.0)">SAG</text>
<line x1="377.4" y1="513.5" x2="423.2" y2="513.5" stroke="#111" stroke-width="1.15"/>
<line x1="454.1" y1="513.5" x2="499.2" y2="513.5" stroke="#111" stroke-width="1.15"/>
<text class="ss" x="402.6" y="522.6999999999999" font-size="7.8" text-anchor="middle" fill="#111">PC61</text>
<text class="ss" x="477" y="522.5" font-size="7.8" text-anchor="middle" fill="#111">Rat IgG</text>
<text class="ss" x="344.4" y="438.5" font-size="8.35" text-anchor="middle" fill="#111" transform="rotate(-90 344.4 438.5)">Bethesda Units per mL</text>
</svg></body></html>
